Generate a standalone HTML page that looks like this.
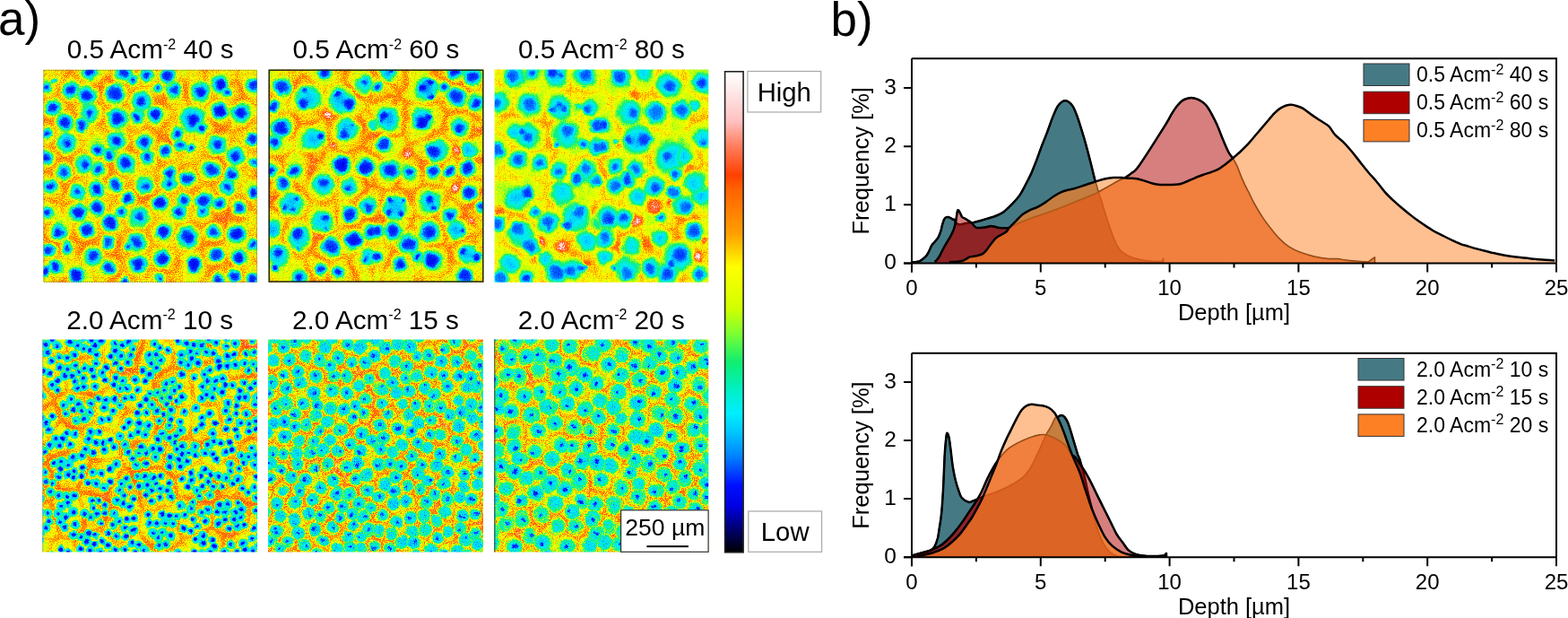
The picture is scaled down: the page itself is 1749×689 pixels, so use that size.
<!DOCTYPE html><html><head><meta charset="utf-8"><style>html,body{margin:0;padding:0;background:#fff;}svg{display:block;font-family:"Liberation Sans",Arial,sans-serif}</style></head><body>
<svg width="1749" height="689" viewBox="0 0 1749 689" >
<rect width="1749" height="689" fill="#fff"/>
<text x="-2" y="39" font-size="53">a)</text>
<text x="926.5" y="39.5" font-size="53">b)</text>
<text x="167.6" y="65.3" font-size="29.7" text-anchor="middle">0.5 Acm<tspan dy="-10.5" font-size="16">-2</tspan><tspan dy="10.5"> 40 s</tspan></text>
<text x="419.5" y="65.3" font-size="29.7" text-anchor="middle">0.5 Acm<tspan dy="-10.5" font-size="16">-2</tspan><tspan dy="10.5"> 60 s</tspan></text>
<text x="671.0" y="65.3" font-size="29.7" text-anchor="middle">0.5 Acm<tspan dy="-10.5" font-size="16">-2</tspan><tspan dy="10.5"> 80 s</tspan></text>
<text x="167.1" y="366.7" font-size="29.7" text-anchor="middle">2.0 Acm<tspan dy="-10.5" font-size="16">-2</tspan><tspan dy="10.5"> 10 s</tspan></text>
<text x="419.0" y="366.7" font-size="29.7" text-anchor="middle">2.0 Acm<tspan dy="-10.5" font-size="16">-2</tspan><tspan dy="10.5"> 15 s</tspan></text>
<text x="670.8" y="366.7" font-size="29.7" text-anchor="middle">2.0 Acm<tspan dy="-10.5" font-size="16">-2</tspan><tspan dy="10.5"> 20 s</tspan></text>
<defs>
<radialGradient id="halo0"><stop offset="0" stop-color="rgb(62,62,62)"/><stop offset="0.35" stop-color="rgb(69,69,69)"/><stop offset="0.55" stop-color="rgb(82,82,82)"/><stop offset="0.75" stop-color="rgb(107,107,107)" stop-opacity="0.9"/><stop offset="1" stop-color="rgb(133,133,133)" stop-opacity="0"/></radialGradient>
<radialGradient id="halo1"><stop offset="0" stop-color="rgb(62,62,62)"/><stop offset="0.35" stop-color="rgb(69,69,69)"/><stop offset="0.55" stop-color="rgb(82,82,82)"/><stop offset="0.75" stop-color="rgb(107,107,107)" stop-opacity="0.9"/><stop offset="1" stop-color="rgb(133,133,133)" stop-opacity="0"/></radialGradient>
<radialGradient id="halo2"><stop offset="0" stop-color="rgb(66,66,66)"/><stop offset="0.4" stop-color="rgb(75,75,75)"/><stop offset="0.62" stop-color="rgb(89,89,89)"/><stop offset="0.82" stop-color="rgb(110,110,110)" stop-opacity="0.9"/><stop offset="1" stop-color="rgb(128,128,128)" stop-opacity="0"/></radialGradient>
<radialGradient id="core0"><stop offset="0" stop-color="rgb(33,33,33)"/><stop offset="0.6" stop-color="rgb(41,41,41)"/><stop offset="0.85" stop-color="rgb(46,46,46)"/><stop offset="1" stop-color="rgb(56,56,56)" stop-opacity="0.5"/></radialGradient>
<radialGradient id="core1"><stop offset="0" stop-color="rgb(33,33,33)"/><stop offset="0.6" stop-color="rgb(41,41,41)"/><stop offset="0.85" stop-color="rgb(46,46,46)"/><stop offset="1" stop-color="rgb(56,56,56)" stop-opacity="0.5"/></radialGradient>
<radialGradient id="core2"><stop offset="0" stop-color="rgb(43,43,43)"/><stop offset="0.6" stop-color="rgb(48,48,48)"/><stop offset="0.85" stop-color="rgb(54,54,54)"/><stop offset="1" stop-color="rgb(61,61,61)" stop-opacity="0.5"/></radialGradient>
<radialGradient id="or"><stop offset="0" stop-color="rgb(194,194,194)"/><stop offset="0.6" stop-color="rgb(184,184,184)" stop-opacity="0.7"/><stop offset="1" stop-color="rgb(168,168,168)" stop-opacity="0"/></radialGradient>
<radialGradient id="wh"><stop offset="0" stop-color="rgb(242,242,242)"/><stop offset="0.5" stop-color="rgb(224,224,224)" stop-opacity="0.9"/><stop offset="1" stop-color="rgb(191,191,191)" stop-opacity="0"/></radialGradient>
<radialGradient id="sd3"><stop offset="0" stop-color="rgb(33,33,33)"/><stop offset="0.42" stop-color="rgb(43,43,43)"/><stop offset="0.55" stop-color="rgb(66,66,66)"/><stop offset="0.8" stop-color="rgb(84,84,84)" stop-opacity="0.9"/><stop offset="1" stop-color="rgb(115,115,115)" stop-opacity="0"/></radialGradient>
<radialGradient id="sd4"><stop offset="0" stop-color="rgb(43,43,43)"/><stop offset="0.25" stop-color="rgb(51,51,51)"/><stop offset="0.4" stop-color="rgb(69,69,69)"/><stop offset="0.8" stop-color="rgb(79,79,79)" stop-opacity="0.9"/><stop offset="1" stop-color="rgb(115,115,115)" stop-opacity="0"/></radialGradient>
<radialGradient id="sd5"><stop offset="0" stop-color="rgb(43,43,43)"/><stop offset="0.2" stop-color="rgb(54,54,54)"/><stop offset="0.35" stop-color="rgb(71,71,71)"/><stop offset="0.8" stop-color="rgb(84,84,84)" stop-opacity="0.9"/><stop offset="1" stop-color="rgb(115,115,115)" stop-opacity="0"/></radialGradient>
<radialGradient id="bl3"><stop offset="0" stop-color="rgb(69,69,69)"/><stop offset="0.55" stop-color="rgb(74,74,74)"/><stop offset="0.8" stop-color="rgb(92,92,92)" stop-opacity="0.9"/><stop offset="1" stop-color="rgb(128,128,128)" stop-opacity="0"/></radialGradient>
<radialGradient id="bl4"><stop offset="0" stop-color="rgb(71,71,71)"/><stop offset="0.55" stop-color="rgb(76,76,76)"/><stop offset="0.8" stop-color="rgb(97,97,97)" stop-opacity="0.9"/><stop offset="1" stop-color="rgb(133,133,133)" stop-opacity="0"/></radialGradient>
<radialGradient id="bl5"><stop offset="0" stop-color="rgb(74,74,74)"/><stop offset="0.55" stop-color="rgb(82,82,82)"/><stop offset="0.8" stop-color="rgb(102,102,102)" stop-opacity="0.9"/><stop offset="1" stop-color="rgb(133,133,133)" stop-opacity="0"/></radialGradient>
<radialGradient id="cc3"><stop offset="0" stop-color="rgb(33,33,33)"/><stop offset="0.6" stop-color="rgb(38,38,38)"/><stop offset="1" stop-color="rgb(51,51,51)" stop-opacity="0.3"/></radialGradient>
<radialGradient id="cc4"><stop offset="0" stop-color="rgb(38,38,38)"/><stop offset="0.6" stop-color="rgb(46,46,46)"/><stop offset="1" stop-color="rgb(61,61,61)" stop-opacity="0.3"/></radialGradient>
<radialGradient id="cc5"><stop offset="0" stop-color="rgb(36,36,36)"/><stop offset="0.6" stop-color="rgb(43,43,43)"/><stop offset="1" stop-color="rgb(61,61,61)" stop-opacity="0.3"/></radialGradient>
</defs>
<filter id="tx0" filterUnits="userSpaceOnUse" x="42.3" y="71.8" width="250.6" height="249.0" color-interpolation-filters="sRGB">
<feGaussianBlur in="SourceGraphic" stdDeviation="0.9" result="s0"/>
<feTurbulence type="fractalNoise" baseFrequency="0.1" numOctaves="2" seed="6" result="t3"/>
<feDisplacementMap in="s0" in2="t3" scale="6" xChannelSelector="R" yChannelSelector="G" result="src"/>
<feTurbulence type="fractalNoise" baseFrequency="0.035" numOctaves="2" seed="3" result="t1"/>
<feColorMatrix in="t1" type="matrix" values="1 0 0 0 0 1 0 0 0 0 1 0 0 0 0 0 0 0 0 1" result="n1"/>
<feTurbulence type="fractalNoise" baseFrequency="0.85" numOctaves="1" seed="10" result="t2"/>
<feColorMatrix in="t2" type="matrix" values="0 1 0 0 0 0 1 0 0 0 0 1 0 0 0 0 0 0 0 1" result="n2"/>
<feComposite in="src" in2="n1" operator="arithmetic" k1="0.5" k2="0.75" k3="0" k4="0" result="h1"/>
<feComposite in="h1" in2="n2" operator="arithmetic" k1="0.75" k2="0.625" k3="0" k4="0.0" result="h2"/>
<feComponentTransfer in="h2"><feFuncR type="table" tableValues="0 0 0 0 0 0 0 0 0 0 0 0 0 0 0.015 0.041 0.092 0.272 0.452 0.617 0.777 0.856 0.909 0.962 1 1 1 1 1 1 1 1 1 1 1 1 1 1 1 1 1"/><feFuncG type="table" tableValues="0 0 0 0 0.007 0.042 0.138 0.328 0.513 0.646 0.779 0.88 0.935 0.939 0.939 0.936 0.938 0.965 0.992 1 1 1 1 1 0.962 0.827 0.692 0.593 0.527 0.461 0.395 0.296 0.312 0.413 0.517 0.645 0.763 0.825 0.887 0.947 1"/><feFuncB type="table" tableValues="0 0.224 0.448 0.685 0.892 0.959 1 1 1 1 1 1 0.95 0.835 0.704 0.56 0.423 0.32 0.217 0.119 0.023 0 0 0 0 0 0 0 0 0 0 0 0.091 0.243 0.4 0.592 0.763 0.825 0.887 0.947 1"/></feComponentTransfer>
</filter>
<clipPath id="ic0"><rect x="48.3" y="77.8" width="238.6" height="237.0"/></clipPath>
<g clip-path="url(#ic0)"><g filter="url(#tx0)">
<rect x="42.3" y="71.8" width="250.6" height="249.0" fill="rgb(152,152,152)"/>
<path d="M44.3,289.3 52,290.4M65.1,318.8 58.7,309.7 55.4,300.7 52,290.4M169.3,298.4 164.9,302.7 158.6,314M169.3,298.4 165.4,281.3M158.6,314 144.3,308.1 137.7,296.9M165.4,281.3 152.9,282.2M152.9,282.2 143.1,284.8 137,291.6M137,291.6 137.7,296.9M219.4,318.8 230.1,308.4 232.9,298.4M254.2,318.8 254.4,307.9 249.1,297.4M249.1,297.4 232.9,298.4M197.2,301.6 202,307.4 204.6,318.8M197.2,301.6 188.9,303.5 178.7,301.4 169.3,298.4M158.6,314 158.9,318.8M272.8,299.8 264.1,293.7 252.6,294.5M272.8,299.8 273.2,310 269.5,318.8M252.6,294.5 249.1,297.4M285.3,292 272.8,299.8M119.1,318.8 123.7,307.7 134.4,304 137.7,296.9M290.9,198.2 276.5,197.8M276.5,197.8 269,206.5M290.9,238 284.6,233.7 276.4,226.8 266.6,216.2M269,206.5 266.6,216.2M197.2,301.6 197.9,294.5 200.4,282.6M232.9,298.4 227.9,291.3 223.8,277.1M223.8,277.1 215.1,276.7 200.4,282.6M290.9,133.6 277.7,135.7 274,141.8 260,146.7M290.9,117.5 281.8,111.2 270.6,108.2M270.6,108.2 257.3,117.8M260,146.7 255.5,143.4M257.3,117.8 256.5,129.7 255.5,143.4M290.9,167.1 275.9,168.1M260,146.7 261.5,155M275.9,168.1 267.5,162.2 261.5,155M276.5,197.8 270.2,186.7M275.9,168.1 273.7,180.6 270.2,186.7M118.4,86.7 128.8,93.9 136.3,94.2M136.3,94.2 146.6,88.2 151.3,74.2M160.5,98 144,104.7M160.5,98 157.3,83.4 151.3,74.2M144,104.7 136.3,94.2M265.2,73.8 264.5,87.6M270.6,108.2 270.5,101.6 264.5,87.6M116.7,119.2 113.2,114.8M116.7,119.2 131.8,118.7 140.4,117M144,104.7 140.4,117M118.4,86.7 111.6,95M111.6,95 114.1,102.6 113.2,114.8M63.7,105.3 56.6,109.1 44.3,111.7M59.4,162.7 66.1,148.6M59.4,162.7 44.3,162.2M44.3,131.9 57.2,134.9M57.2,134.9 66.1,148.6M68.2,175.5 59.4,162.7M68.2,175.5 59.7,179.9 54.5,191.4M44.3,193 54.5,191.4M285.3,292 280.2,286.7 269.6,273.5M252.6,294.5 250.6,287.1 255.3,274.9M269.6,273.5 255.3,274.9M290.9,246 284.8,248.4M269.6,273.5 273.9,262.3 278.1,258.9 284.8,248.4M266.6,216.2 257.5,221.6M257.5,221.6 258.2,229.4 253.1,244.6M284.8,248.4 275.2,243.5 265.4,244.5 253.1,244.6M165.4,281.3 170.6,273.2M200.4,282.6 193.2,273.8M193.2,273.8 185,277.4 170.6,273.2M264.5,87.6 255.8,98.1 245.5,97.3 238.3,107.2M224.9,73.8 229.1,78.4 229.2,89.8 235.8,96.1 238.3,107.2M257.3,117.8 244.1,116.5 238.2,109.4M238.3,107.2 238.2,109.4M269,206.5 256,205.7 246,197.6M270.2,186.7 263,183.5 249.5,182.2M246,197.6 249.5,182.2M261.5,155 253.8,166.3 246.9,177.4M249.5,182.2 246.9,177.4M200.6,179.8 203.1,181.9M200.6,179.8 205.3,171.3 208.2,162.3 211.2,152.1M203.1,181.9 218.4,183.5M211.2,152.1 212.7,150.8M218.4,183.5 229,172.9M229,172.9 226.9,158.6M212.7,150.8 226.9,158.6M255.5,143.4 244.2,142.9M229,172.9 241.4,175.2 246.9,177.4M244.2,142.9 235,152.5 226.9,158.6M160.7,98 164.6,103.8 172.7,112.7M160.7,98 171.8,92.3 175.3,86.2M185.8,95.3 175.3,86.2M185.8,95.3 184.5,100.5 182.4,113.5M182.4,113.5 172.7,112.7M209.4,85.3 214.9,73.8M209.4,85.3 196.9,90.9 185.8,95.3M140.5,117.2 147.5,121.3 162.2,123.7M140.5,117.2 142.3,122.8 143,135.2 142.7,144.6M162.2,123.7 164.8,131.6 164.5,141.8M164.5,141.8 157,146.5 146.3,147.5M142.7,144.6 146.3,147.5M172.7,112.7 162.2,123.7M100.3,242.8 86.8,244.1 80.9,252.5M100.3,242.8 99.4,237.6 95.6,225M70.6,242.2 80.9,252.5M70.6,242.2 70.6,226.9M95.6,225 81.1,225.6 70.6,226.9M68.2,175.5 78.3,176.6M78.3,176.6 82.9,185.8 86.1,197.8M54.5,191.4 62.3,198 72.3,207.6M86.1,197.8 72.3,207.6M44.3,220.9 55.3,223.1 68.5,223.7M72.3,207.6 68.5,223.7M44.3,256.3 51.5,250.6 64,243.1 70.6,242.2M70.6,226.9 68.5,223.7M84.1,126.5 82.7,138.9 80.2,147.6M84.1,126.5 92.1,130 105.6,135.8 112.7,143.6M80.2,147.6 93.1,158.7M93.1,158.7 100.1,152 112.2,146.2M112.2,146.2 112.9,144.6M112.7,143.6 112.9,144.6M91.7,165.2 78.3,176.6M91.7,165.2 93.1,158.7M66.1,148.6 80.2,147.6M119.7,161.4 117.7,166.6 112.6,178.1M119.7,161.4 112.2,146.2M112.6,178.1 104.6,178.1M91.7,165.2 96.7,170.3 104.6,178.1M116.7,119.2 117.4,130.9 112.7,143.6M142.7,144.6 135.6,142 121.5,145.8 112.9,144.6M77.6,118.8 81.6,119.6M77.6,118.8 74.2,111.7 64.6,105.3M64.6,105.3 67,93.7 73.9,85.6 78.2,79.5M82.8,118.7 88.2,112.9 86.3,99.8 91.8,93M82.8,118.7 81.6,119.6M78.2,79.5 87.5,87.4 91.8,93M57.2,134.9 69.8,125.6 77.6,118.8M84.1,126.5 81.6,119.6M63.7,105.3 64.6,105.3M111.6,95 98.7,92.4 91.8,93M113.2,114.8 105.4,114.3 91.7,116.8 82.8,118.7M200.6,179.8 198.7,179.1M211.2,152.1 199.9,154.4 189.9,158.2M189.9,158.2 197.7,165.9 198.7,179.1M119.7,161.4 134.7,169.7M112.6,178.1 125.8,188.5M134.7,169.7 126.3,182.6 125.8,188.5M146.3,147.5 145.7,165.4M134.7,169.7 145.7,165.4M81.9,261.1 75.9,270.2 63.8,271.5M81.9,261.1 91.8,272.3M91.8,272.3 86.7,289.1M65.5,284.7 77.6,292.3M65.5,284.7 63.8,271.5M77.6,292.3 86.7,289.1M44.3,260 53.5,269.4 63.8,271.5M80.9,252.5 81.9,261.1M66.8,318.8 73.8,307.7 75.9,303.8 77.6,292.3M52,290.4 65.5,284.7M106.8,318.8 103.4,303.1M103.4,303.1 96.4,296.3 86.7,289.1M112.1,258 121.5,258.1 134.4,260.7M112.1,258 105,269.5M105,269.5 109.4,273.5 118.3,284.5M134.4,260.7 132.4,270.7 128.9,284.1M128.9,284.1 118.3,284.5M100.3,242.8 108.4,246.3M108.4,246.3 112.1,258M91.8,272.3 105,269.5M103.4,303.1 113.3,290.1 118.3,284.5M152.9,282.2 151.6,275.4 147.2,268.6 139.2,257.1M137,291.6 128.9,284.1M139.2,257.1 134.4,260.7M234.8,231.2 239.8,222.7 238.4,213M234.8,231.2 221.7,231.8 216.3,228.5M216.3,213 216.3,228.5M216.3,213 226.5,205.4M226.5,205.4 235.2,207.6M238.4,213 235.2,207.6M218.4,183.5 219.8,192.8 226.5,205.4M246,197.6 235.2,207.6M257.5,221.6 249.3,217.5 238.4,213M250.4,270.2 250.6,261.2 252.2,245.1M250.4,270.2 239.4,270.2 226.5,272.7M226.5,272.7 222.4,265.7 222.3,253M222.3,253 231,250.1 240.1,242.7M240.1,242.7 252.2,245.1M255.3,274.9 250.4,270.2M253.1,244.6 252.2,245.1M223.8,277.1 226.5,272.7M212.4,247.6 197.8,252.9M212.4,247.6 222.3,253M193.2,273.8 194.3,260.9 197.8,252.9M212.4,247.6 212.4,235M212.4,235 216.3,228.5M234.8,231.2 240.1,242.7M203.1,181.9 200.9,193.1 198.2,199.3M216.3,213 201.2,210.8M198.2,199.3 201.2,210.8M139.2,257.1 140.8,254.9M170.6,273.2 164.4,257.1M164.4,257.1 150,258.3 140.8,254.9M108.4,246.3 121.5,234.6M121.5,234.6 131.2,243.5 136.8,243.5 140.6,253.8M140.8,254.9 140.6,253.8M123.4,222.5 126.3,222M123.4,222.5 121.5,234.6M126.3,222 137.7,230.3 147,232.9M140.6,253.8 140.2,241.5 147,232.9M145.6,204.8 134.1,213.6 126.3,222M145.6,204.8 152.4,214.7 160.3,225.1M147,232.9 160.3,225.1M212,147.9 222.9,133.6 229.3,127.2M212,147.9 199.7,135.2 194.5,128.4M195.1,123.7 194.5,128.4M195.1,123.7 208.5,115M208.5,115 214.8,114.2 227,120.2M227,120.2 229.3,127.2M212.7,150.8 212,147.9M244.2,142.9 240.5,137.9 229.3,127.2M177.8,147 178.6,150.5M177.8,147 182.8,137.7 194.5,128.4M189.9,158.2 178.6,150.5M177.8,147 164.5,141.8M182.4,113.5 195.1,123.7M209.4,85.3 207.7,93.8 207.6,106.3 208.5,115M238.2,109.4 227,120.2M97.7,198.8 95.2,200.1M97.7,198.8 107.8,198.4 116.6,200.3M95.2,200.1 94.4,209.3 98.6,221.3M98.6,221.3 107.2,221.7 121.8,221.3M121.8,221.3 120.9,209.8 116.6,200.3M104.6,178.1 97.8,185.9 97.7,198.8M86.1,197.8 95.2,200.1M126.1,189.6 125.8,188.5M126.1,189.6 116.6,200.3M95.6,225 98.6,221.3M123.4,222.5 121.8,221.3M145.6,204.8 145.9,198.9M145.9,198.9 135,195.1 126.1,189.6M172.1,165 177.5,172.8 178.3,182.6M172.1,165 163.6,168.2 150.2,169.4M150.2,169.4 152.3,179.1 155.5,190.8M155.5,190.8 171.2,192.1M171.2,192.1 178.3,182.6M178.6,150.5 172.1,165M198.7,179.1 188.5,182.5 178.3,182.6M145.7,165.4 150.2,169.4M145.9,198.9 155.5,190.8M198.2,199.3 185.9,200.8 174.8,199.3M174.8,199.3 171.2,192.1M176,211.3 191.6,219.1M176,211.3 168,216.2 160.6,225.1M160.6,225.1 167.2,235.6 173.2,242.9M191.9,224.7 191.6,219.1M191.9,224.7 184.2,232.7 183.4,241.8M183.4,241.8 173.2,242.9M201.2,210.8 191.6,219.1M174.8,199.3 176,211.3M164.4,257.1 173.2,242.9M212.4,235 201.6,232.9 191.9,224.7M197.8,252.9 194.1,246.3 183.4,241.8" fill="none" stroke="rgb(173,173,173)" stroke-width="5.5" stroke-linecap="round" stroke-linejoin="round" stroke-opacity="0.8"/>
<g fill="url(#or)">
</g><g fill="url(#wh)">
</g><g fill="url(#halo0)">
<circle cx="99.4" cy="80.6" r="11.8"/>
<circle cx="137.7" cy="81.5" r="13.1"/>
<circle cx="163.8" cy="83.2" r="10.4"/>
<circle cx="148.1" cy="89.3" r="7.8"/>
<circle cx="60.2" cy="90.5" r="3.9"/>
<circle cx="51.5" cy="96.3" r="9.1"/>
<circle cx="79.3" cy="100.6" r="13.1"/>
<circle cx="96.8" cy="106.7" r="14.4"/>
<circle cx="128.1" cy="104.1" r="15.7"/>
<circle cx="157.7" cy="112.8" r="14.4"/>
<circle cx="59.3" cy="119.8" r="11.8"/>
<circle cx="99.4" cy="126.8" r="13.1"/>
<circle cx="130.7" cy="132.0" r="15.7"/>
<circle cx="152.5" cy="130.2" r="10.4"/>
<circle cx="72.4" cy="136.3" r="13.1"/>
<circle cx="91.5" cy="139.8" r="10.4"/>
<circle cx="52.4" cy="149.4" r="7.8"/>
<circle cx="130.7" cy="157.2" r="13.1"/>
<circle cx="161.2" cy="158.1" r="11.8"/>
<circle cx="74.1" cy="159.9" r="14.4"/>
<circle cx="109.8" cy="167.7" r="9.1"/>
<circle cx="122.0" cy="172.9" r="10.4"/>
<circle cx="51.5" cy="175.5" r="10.4"/>
<circle cx="164.7" cy="175.5" r="10.4"/>
<circle cx="140.3" cy="181.6" r="14.4"/>
<circle cx="94.2" cy="183.4" r="13.1"/>
<circle cx="109.8" cy="188.6" r="11.8"/>
<circle cx="70.6" cy="192.1" r="11.8"/>
<circle cx="187.2" cy="85.0" r="11.8"/>
<circle cx="194.1" cy="101.5" r="13.1"/>
<circle cx="175.8" cy="98.0" r="7.8"/>
<circle cx="223.7" cy="102.4" r="14.4"/>
<circle cx="245.5" cy="93.7" r="13.1"/>
<circle cx="253.3" cy="104.1" r="6.5"/>
<circle cx="282.9" cy="95.4" r="11.8"/>
<circle cx="173.2" cy="127.6" r="11.8"/>
<circle cx="244.6" cy="124.2" r="13.1"/>
<circle cx="269.0" cy="125.9" r="14.4"/>
<circle cx="215.0" cy="133.7" r="18.3"/>
<circle cx="225.5" cy="142.4" r="7.8"/>
<circle cx="197.6" cy="149.4" r="10.4"/>
<circle cx="201.1" cy="161.6" r="9.1"/>
<circle cx="184.5" cy="168.6" r="10.4"/>
<circle cx="242.9" cy="161.6" r="14.4"/>
<circle cx="281.2" cy="154.6" r="10.4"/>
<circle cx="262.9" cy="174.7" r="14.4"/>
<circle cx="235.9" cy="189.5" r="13.1"/>
<circle cx="188.9" cy="193.8" r="10.4"/>
<circle cx="258.6" cy="194.7" r="10.4"/>
<circle cx="212.4" cy="165.9" r="6.5"/>
<circle cx="282.9" cy="180.8" r="7.8"/>
<circle cx="56.7" cy="207.3" r="11.0"/>
<circle cx="86.3" cy="214.3" r="11.8"/>
<circle cx="108.1" cy="210.8" r="11.8"/>
<circle cx="129.0" cy="205.6" r="11.8"/>
<circle cx="162.1" cy="207.3" r="13.1"/>
<circle cx="142.9" cy="221.3" r="10.4"/>
<circle cx="53.2" cy="236.9" r="9.1"/>
<circle cx="88.1" cy="236.9" r="13.1"/>
<circle cx="108.1" cy="231.7" r="11.8"/>
<circle cx="135.1" cy="236.1" r="9.1"/>
<circle cx="155.1" cy="242.2" r="15.7"/>
<circle cx="122.9" cy="248.2" r="13.1"/>
<circle cx="97.6" cy="256.1" r="11.8"/>
<circle cx="65.4" cy="259.6" r="11.8"/>
<circle cx="120.3" cy="270.0" r="10.4"/>
<circle cx="152.5" cy="270.0" r="14.4"/>
<circle cx="142.9" cy="275.2" r="6.5"/>
<circle cx="54.1" cy="278.7" r="10.4"/>
<circle cx="75.0" cy="276.1" r="9.1"/>
<circle cx="103.7" cy="284.8" r="13.1"/>
<circle cx="61.9" cy="297.0" r="10.4"/>
<circle cx="121.1" cy="298.8" r="11.8"/>
<circle cx="154.2" cy="294.4" r="13.1"/>
<circle cx="85.4" cy="306.6" r="11.8"/>
<circle cx="50.6" cy="302.2" r="7.8"/>
<circle cx="138.6" cy="313.6" r="7.8"/>
<circle cx="208.9" cy="199.5" r="11.8"/>
<circle cx="188.9" cy="204.7" r="10.4"/>
<circle cx="253.3" cy="208.2" r="11.8"/>
<circle cx="282.1" cy="215.2" r="9.1"/>
<circle cx="178.4" cy="225.6" r="11.8"/>
<circle cx="205.4" cy="223.9" r="10.4"/>
<circle cx="199.3" cy="236.1" r="10.4"/>
<circle cx="227.2" cy="223.9" r="13.1"/>
<circle cx="244.6" cy="227.3" r="10.4"/>
<circle cx="267.3" cy="231.7" r="10.4"/>
<circle cx="225.5" cy="236.1" r="9.1"/>
<circle cx="181.9" cy="258.7" r="11.8"/>
<circle cx="209.8" cy="264.8" r="15.7"/>
<circle cx="238.5" cy="258.7" r="11.8"/>
<circle cx="263.8" cy="260.4" r="13.1"/>
<circle cx="283.8" cy="272.6" r="9.1"/>
<circle cx="181.1" cy="288.3" r="13.1"/>
<circle cx="216.8" cy="294.4" r="11.8"/>
<circle cx="241.1" cy="283.9" r="11.8"/>
<circle cx="266.4" cy="287.4" r="11.8"/>
<circle cx="261.2" cy="307.5" r="10.4"/>
<circle cx="242.9" cy="311.8" r="9.1"/>
<circle cx="281.2" cy="310.9" r="9.1"/>
<circle cx="178.4" cy="310.9" r="7.8"/>
</g><g fill="url(#core0)">
<circle cx="99.4" cy="80.6" r="6.0"/>
<circle cx="137.7" cy="81.5" r="6.0"/>
<circle cx="163.8" cy="83.2" r="5.0"/>
<circle cx="148.1" cy="89.3" r="3.0"/>
<circle cx="60.2" cy="90.5" r="1.6"/>
<circle cx="51.5" cy="96.3" r="4.0"/>
<circle cx="79.3" cy="100.6" r="6.0"/>
<circle cx="96.8" cy="106.7" r="7.0"/>
<circle cx="128.1" cy="104.1" r="9.0"/>
<circle cx="157.7" cy="112.8" r="6.0"/>
<circle cx="59.3" cy="119.8" r="6.0"/>
<circle cx="99.4" cy="126.8" r="5.0"/>
<circle cx="130.7" cy="132.0" r="8.0"/>
<circle cx="152.5" cy="130.2" r="5.0"/>
<circle cx="72.4" cy="136.3" r="7.0"/>
<circle cx="91.5" cy="139.8" r="5.6"/>
<circle cx="52.4" cy="149.4" r="3.6"/>
<circle cx="130.7" cy="157.2" r="6.0"/>
<circle cx="161.2" cy="158.1" r="6.0"/>
<circle cx="74.1" cy="159.9" r="5.0"/>
<circle cx="109.8" cy="167.7" r="4.0"/>
<circle cx="122.0" cy="172.9" r="5.0"/>
<circle cx="51.5" cy="175.5" r="5.0"/>
<circle cx="164.7" cy="175.5" r="5.0"/>
<circle cx="140.3" cy="181.6" r="7.0"/>
<circle cx="94.2" cy="183.4" r="5.0"/>
<circle cx="109.8" cy="188.6" r="6.0"/>
<circle cx="70.6" cy="192.1" r="5.6"/>
<circle cx="187.2" cy="85.0" r="7.0"/>
<circle cx="194.1" cy="101.5" r="6.0"/>
<circle cx="175.8" cy="98.0" r="3.0"/>
<circle cx="223.7" cy="102.4" r="7.0"/>
<circle cx="245.5" cy="93.7" r="7.0"/>
<circle cx="253.3" cy="104.1" r="3.0"/>
<circle cx="282.9" cy="95.4" r="6.0"/>
<circle cx="173.2" cy="127.6" r="6.0"/>
<circle cx="244.6" cy="124.2" r="8.0"/>
<circle cx="269.0" cy="125.9" r="7.0"/>
<circle cx="215.0" cy="133.7" r="7.0"/>
<circle cx="225.5" cy="142.4" r="4.0"/>
<circle cx="197.6" cy="149.4" r="5.0"/>
<circle cx="201.1" cy="161.6" r="4.0"/>
<circle cx="184.5" cy="168.6" r="6.0"/>
<circle cx="242.9" cy="161.6" r="6.0"/>
<circle cx="281.2" cy="154.6" r="6.0"/>
<circle cx="262.9" cy="174.7" r="6.0"/>
<circle cx="235.9" cy="189.5" r="7.0"/>
<circle cx="188.9" cy="193.8" r="6.0"/>
<circle cx="258.6" cy="194.7" r="5.0"/>
<circle cx="212.4" cy="165.9" r="3.0"/>
<circle cx="282.9" cy="180.8" r="3.0"/>
<circle cx="56.7" cy="207.3" r="4.0"/>
<circle cx="86.3" cy="214.3" r="3.6"/>
<circle cx="108.1" cy="210.8" r="6.0"/>
<circle cx="129.0" cy="205.6" r="7.0"/>
<circle cx="162.1" cy="207.3" r="5.0"/>
<circle cx="142.9" cy="221.3" r="6.0"/>
<circle cx="53.2" cy="236.9" r="4.0"/>
<circle cx="88.1" cy="236.9" r="7.6"/>
<circle cx="108.1" cy="231.7" r="7.0"/>
<circle cx="135.1" cy="236.1" r="4.0"/>
<circle cx="155.1" cy="242.2" r="6.0"/>
<circle cx="122.9" cy="248.2" r="7.6"/>
<circle cx="97.6" cy="256.1" r="7.0"/>
<circle cx="65.4" cy="259.6" r="5.6"/>
<circle cx="120.3" cy="270.0" r="5.6"/>
<circle cx="152.5" cy="270.0" r="7.0"/>
<circle cx="142.9" cy="275.2" r="3.0"/>
<circle cx="54.1" cy="278.7" r="6.0"/>
<circle cx="75.0" cy="276.1" r="4.0"/>
<circle cx="103.7" cy="284.8" r="7.0"/>
<circle cx="61.9" cy="297.0" r="5.6"/>
<circle cx="121.1" cy="298.8" r="7.0"/>
<circle cx="154.2" cy="294.4" r="7.6"/>
<circle cx="85.4" cy="306.6" r="7.6"/>
<circle cx="50.6" cy="302.2" r="4.0"/>
<circle cx="138.6" cy="313.6" r="4.0"/>
<circle cx="208.9" cy="199.5" r="7.0"/>
<circle cx="188.9" cy="204.7" r="3.6"/>
<circle cx="253.3" cy="208.2" r="4.0"/>
<circle cx="282.1" cy="215.2" r="5.0"/>
<circle cx="178.4" cy="225.6" r="7.0"/>
<circle cx="205.4" cy="223.9" r="5.0"/>
<circle cx="199.3" cy="236.1" r="5.6"/>
<circle cx="227.2" cy="223.9" r="7.0"/>
<circle cx="244.6" cy="227.3" r="5.0"/>
<circle cx="267.3" cy="231.7" r="6.0"/>
<circle cx="225.5" cy="236.1" r="3.0"/>
<circle cx="181.9" cy="258.7" r="7.0"/>
<circle cx="209.8" cy="264.8" r="8.0"/>
<circle cx="238.5" cy="258.7" r="6.0"/>
<circle cx="263.8" cy="260.4" r="8.0"/>
<circle cx="283.8" cy="272.6" r="4.0"/>
<circle cx="181.1" cy="288.3" r="7.0"/>
<circle cx="216.8" cy="294.4" r="8.0"/>
<circle cx="241.1" cy="283.9" r="8.0"/>
<circle cx="266.4" cy="287.4" r="7.0"/>
<circle cx="261.2" cy="307.5" r="7.0"/>
<circle cx="242.9" cy="311.8" r="5.0"/>
<circle cx="281.2" cy="310.9" r="5.0"/>
<circle cx="178.4" cy="310.9" r="3.0"/>
</g></g></g>
<filter id="tx1" filterUnits="userSpaceOnUse" x="293.5" y="71.5" width="252.0" height="249.2" color-interpolation-filters="sRGB">
<feGaussianBlur in="SourceGraphic" stdDeviation="0.9" result="s0"/>
<feTurbulence type="fractalNoise" baseFrequency="0.1" numOctaves="2" seed="17" result="t3"/>
<feDisplacementMap in="s0" in2="t3" scale="6" xChannelSelector="R" yChannelSelector="G" result="src"/>
<feTurbulence type="fractalNoise" baseFrequency="0.035" numOctaves="2" seed="14" result="t1"/>
<feColorMatrix in="t1" type="matrix" values="1 0 0 0 0 1 0 0 0 0 1 0 0 0 0 0 0 0 0 1" result="n1"/>
<feTurbulence type="fractalNoise" baseFrequency="0.85" numOctaves="1" seed="21" result="t2"/>
<feColorMatrix in="t2" type="matrix" values="0 1 0 0 0 0 1 0 0 0 0 1 0 0 0 0 0 0 0 1" result="n2"/>
<feComposite in="src" in2="n1" operator="arithmetic" k1="0.5" k2="0.75" k3="0" k4="0" result="h1"/>
<feComposite in="h1" in2="n2" operator="arithmetic" k1="0.75" k2="0.625" k3="0" k4="0.0" result="h2"/>
<feComponentTransfer in="h2"><feFuncR type="table" tableValues="0 0 0 0 0 0 0 0 0 0 0 0 0 0 0.015 0.041 0.092 0.272 0.452 0.617 0.777 0.856 0.909 0.962 1 1 1 1 1 1 1 1 1 1 1 1 1 1 1 1 1"/><feFuncG type="table" tableValues="0 0 0 0 0.007 0.042 0.138 0.328 0.513 0.646 0.779 0.88 0.935 0.939 0.939 0.936 0.938 0.965 0.992 1 1 1 1 1 0.962 0.827 0.692 0.593 0.527 0.461 0.395 0.296 0.312 0.413 0.517 0.645 0.763 0.825 0.887 0.947 1"/><feFuncB type="table" tableValues="0 0.224 0.448 0.685 0.892 0.959 1 1 1 1 1 1 0.95 0.835 0.704 0.56 0.423 0.32 0.217 0.119 0.023 0 0 0 0 0 0 0 0 0 0 0 0.091 0.243 0.4 0.592 0.763 0.825 0.887 0.947 1"/></feComponentTransfer>
</filter>
<clipPath id="ic1"><rect x="299.5" y="77.5" width="240.0" height="237.2"/></clipPath>
<g clip-path="url(#ic1)"><g filter="url(#tx1)">
<rect x="293.5" y="71.5" width="252.0" height="249.2" fill="rgb(149,149,149)"/>
<path d="M329.3,283.5 319.7,276.7 316.4,266.7M329.3,283.5 319.3,287 304.9,281.6 295.5,283.5M316.4,266.7 307.8,270.3 295.5,271.4M332.4,287 329.3,283.5M332.4,287 339.6,286.9M339.6,286.9 341.8,299 346.4,310.3 351,318.7M337.1,84.2 330,91.4 329.1,103M329.1,103 320.8,113.4M335.5,137.9 332,130.7 322,125.9M335.5,137.9 346.2,136.7 360.7,130.7M322,125.9 320.8,113.4M329.1,103 338,106.5 345.2,117 350,123.3 360.5,128.4M360.7,130.7 360.5,128.4M337.1,84.2 342.7,88.7 351,93.4 363,101.5M360.5,128.4 365.2,118.7 366.1,110 363,101.5M513.7,93.6 523.5,101.4M339.6,286.9 347.5,281.3M364.9,318.7 367.2,312.2 369.2,296.6 369,290.2M369,290.2 359,286.8 347.5,281.3M490.7,318.7 492.3,306.9 502.1,301.6 503.3,292.9M523.3,295.7 510.9,293.9 503.3,292.9M424.6,318.7 425.5,310.8 431,295 436.7,284.6 437.4,277.6M467.1,318.7 461.9,306.4 462.1,298.5 456.8,289.8 453.1,284.6M437.4,277.6 453.1,284.6M295.5,173.6 305.4,176.2 315.5,175.8M295.5,143.8 303.9,147.5 311.6,151.4 320.6,152.8 328,160.1M315.5,175.8 328.5,166.4M328,160.1 328.5,166.4M322,125.9 313,127.2 307.3,136.3 295.5,136.3M335.5,137.9 328.3,146.1 328,160.1M364.7,138.1 363,132.4M364.7,138.1 376.1,142.9 380.3,148.1 397.5,150 403.7,154.8M363,132.4 378.1,129.5M378.1,129.5 387.9,130.8 400.1,130.9M403.7,154.8 405.4,141 400.1,130.9M405.1,159.2 411.5,152.5 422.1,150.5 429.1,146.4M405.1,159.2 403.7,154.8M429.1,146.4 425.6,138.1M425.6,138.1 415.3,128.4 409,120.4M409,120.4 400.1,130.9M543.5,179.4 528.4,176.9 524.7,178.1 509.5,176.4M509.5,176.4 510,192.7 513.9,201.9M543.5,200.1 532.5,198.7 520.1,198.5 513.9,201.9M509.5,176.4 505.3,172.6M505.3,172.6 505,161M505,161 512.2,154.8 527.3,150.9 531.9,149.5 543.5,144.6M295.5,209.6 308.9,198.9 315.5,191.6M295.5,226.5 307.6,221.2 316,218.8 329.1,215.9 335.6,209.6M315.5,191.6 325.6,203.3 335.6,209.6M316.4,266.7 316.7,265.8M316.7,265.8 317.5,254.8 320.4,245.6M320.4,245.6 315.8,239.7 306,231.7 295.5,226.9M315.5,175.8 315.5,191.6M405.1,159.2 404.1,163.3M368.9,165.7 381.2,167.5 384.9,171 396,168.5M368.9,165.7 367.2,155.2 364.2,144.2 364.7,138.1M404.1,163.3 396,168.5M405.1,318.7 397.7,310 392.3,296.4 390.2,288.1M369,290.2 385.4,285.6M390.2,288.1 385.4,285.6M523.3,295.7 525.8,287.4 528.2,280.6 530.1,268.5 535,260.9M537.6,258.9 535,260.9M503.3,292.9 500.4,276.5M535,260.9 525.7,261.8 515.4,265.8 510.8,269.8 500.4,276.5M505.3,172.6 492.6,180.9M492.6,180.9 493.9,192.1 492.6,207.8M513.9,201.9 500.9,213.7M492.6,207.8 500.9,213.7M488,180.2 486.8,171.9 482.1,164.6 480.9,151.6M488,180.2 480,180.6 469.6,180.2M469.6,180.2 459,171.2 455.8,163.7M480.9,151.6 466.6,156.4 456.1,161.6M455.8,163.7 456.1,161.6M492.6,180.9 488,180.2M505,161 502,157.2 492,147.5M492,147.5 485.9,148.9M485.9,148.9 480.9,151.6M470.4,205.3 478,208 492.6,207.8M470.4,205.3 473.5,193.1 469.6,180.2M429.1,146.4 436.2,151.3 449.9,150.3M447.7,171.2 455.8,163.7M447.7,171.2 434.8,178.3 423.1,177.7M449.9,150.3 456.1,161.6M404.1,163.3 416.6,173.1 423.1,177.7M425.6,138.1 435.6,124.8 441,116.9 445.3,108.6M409,120.4 410.4,116.1M410.4,116.1 419.1,112.6 434.3,107.1 445.3,108.6M498.7,126 515.7,123.8M498.7,126 493.8,142.3M493.8,142.3 503.1,144.6 513.1,142.5 521.1,146.1 530.4,143.8 542.1,142.3M515.7,123.8 525.7,126 537.3,134 542.1,142.3M492,147.5 493.8,142.3M543.5,143.2 542.1,142.3M523.5,101.4 523.5,116.1 515.7,123.8M475.7,135.9 467.1,136.4 452.1,131.2M475.7,135.9 472.4,125.4 470.7,115.7M470.7,115.7 467.2,115.1M467.2,115.1 452.1,115.1M452.1,115.1 452.1,131.2M485.9,148.9 475.7,135.9M449.9,150.3 449.7,144.2 452.1,131.2M459,73.5 450.9,80.4 453.9,95.5 445.9,102.8M481.7,73.5 482.9,76M445.9,102.8 445.9,108.4M445.9,108.4 452.1,115.1M482.9,76 480.6,89.5 475.3,98.3 470.7,108.6 467.2,115.1M445.3,108.6 445.9,108.4M316.7,265.8 323.8,263.2 338.4,263.9 348.3,259.5M320.4,245.6 329.4,245 339.6,241.6M339.6,241.6 347.7,249.9 348.3,259.5M347.5,281.3 352.2,265.3M352.2,265.3 348.3,259.5M543.5,212.2 532.5,215.1 529.2,225.3 517.7,232.2M501.4,216.4 500.9,213.7M501.4,216.4 501.8,218.5M501.8,218.5 508.9,225.5 517.7,232.2M537.6,258.9 525.9,247.7 520.2,241M517.7,232.2 520.2,241M391.3,99.8 384.1,89.6M391.3,99.8 398.6,105.7 410.1,115.6M410.1,115.6 415.1,102.1 411.2,95.6 416.6,81.2M384.1,89.6 389.1,73.5M412.5,73.5 416.6,81.2M360.7,130.7 363,132.4M363,101.5 374,91.8 384.1,89.6M378.1,129.5 383.9,121.1 388.1,111.9 391.3,99.8M410.4,116.1 410.1,115.6M445.9,102.8 438,95.2 433.2,93 425.6,84.1 416.6,81.2M491.1,116.1 496,110.3 502,102.1 508.8,93.9M491.1,116.1 488.3,114.7M488.3,114.7 486.8,107.1 484.4,95.5 487,84.4 483,76.3M508.8,93.9 497.6,89.1 488.7,85 483,76.3M513.7,93.6 508.8,93.9M498.7,126 491.1,116.1M470.7,115.7 488.3,114.7M385.4,285.6 381.1,279.3 380.6,263.9 377.8,257.2M352.2,265.3 363.2,263.1 373.9,257.9M377.8,257.2 373.9,257.9M339.6,241.6 346.3,230.2M373.9,257.9 366.9,252 359.1,247.7 350.6,239.5 346.3,230.2M390.2,288.1 395.9,280 409.1,271.8M378.8,256 377.8,257.2M378.8,256 385.4,251.5 398.9,253M398.9,253 404.7,265.6 409.1,271.8M415.6,318.7 414.1,308.7 415.4,301.1 414.4,289.9 418.4,282.3 415.6,272.6M409.1,271.8 415.6,272.6M396,168.5 393.6,183.4 393.6,193.1M423.1,177.7 425.8,187.1 416.7,196.2 419.3,207.7M393.6,193.1 405.7,198 411.3,208.2M419.3,207.7 411.3,208.2M501.8,218.5 493.7,228.5 487.2,236.6 484.6,241.5M520.2,241 509.3,244.4 503.6,246.5 494.2,254M494.2,254 484.6,241.5M500.4,276.5 495.2,272.4M494.2,254 496.9,262.7 495.2,272.4M467.8,318.7 471.7,311.9 467.9,303.6 475.7,290 475.6,280.9 476.6,274.4M495.2,272.4 486.2,275.4 476.6,274.4M453.1,284.6 461.4,278.5 471.5,271.9M476.6,274.4 471.5,271.9M335.6,209.6 339,209.9M346.3,230.2 348.3,225.3M339,209.9 348.3,225.3M378.8,256 374.5,248.3 377.1,237.5 374.7,224.3M374.7,224.3 373.7,223.5M348.3,225.3 357.7,226.3 373.7,223.5M398.9,253 404.6,245.6M415.6,272.6 419.2,271.8M419.2,271.8 414.7,263.1 414.7,256.8 415.7,244.5M404.6,245.6 415.7,244.5M374.7,224.3 381.8,223.8 395.2,223.7M395.2,223.7 400.9,235.8M404.6,245.6 400.9,235.8M351.7,180.4 346.4,191.6 341.5,204.7M351.7,180.4 356.4,179.3M341.5,204.7 349.3,206 367.9,203.6 375.4,204.7M356.4,179.3 366.2,184.7 367.8,192.3 376.2,199.4M376.2,199.4 375.4,204.7M328.5,166.4 340,173.3 345.1,172.1 351.7,180.4M339,209.9 341.5,204.7M368.9,165.7 362.2,168.6 356.4,179.3M373.7,223.5 371,213.1 375.4,204.7M393.6,193.1 382.9,193.1 376.2,199.4M395.2,223.7 403.3,218.2 411.3,208.2M400.9,235.8 412.7,234.9 417.1,224.9 426,223.3M415.7,244.5 426,240.6M426,240.6 426,223.3M470.4,205.3 457.5,215.3M501.4,216.4 495,219.2 480,225.7 471.6,230.1 461.1,229.9M461.1,229.9 457.5,215.3M484.6,241.5 475.3,244.5 462.9,240.4M461.1,229.9 462.9,240.4M447.7,171.2 444.1,184.5 446.4,192.2 443.6,198.4 444.4,210.2M457.5,215.3 444.4,210.2M419.3,207.7 426.7,212.4M444.4,210.2 426.7,212.4M426.7,212.4 426,223.3M429.4,243.3 437.6,241.7 452.7,242.3 458.9,246.3M429.4,243.3 427.4,253.8 427.1,260 429.4,271.8M436.7,276 442.1,265.8 447.5,261.7 458.7,251.6M436.7,276 429.4,271.8M458.7,251.6 458.9,246.3M426,240.6 429.4,243.3M462.9,240.4 458.9,246.3M419.2,271.8 429.4,271.8M437.4,277.6 436.7,276M471.5,271.9 466.4,260.2 458.7,251.6" fill="none" stroke="rgb(176,176,176)" stroke-width="5.5" stroke-linecap="round" stroke-linejoin="round" stroke-opacity="0.8"/>
<g fill="url(#or)">
</g><g fill="url(#wh)">
<circle cx="454.7" cy="171.0" r="6.8"/>
<circle cx="510.4" cy="166.7" r="6.8"/>
<circle cx="533.9" cy="144.0" r="3.4"/>
<circle cx="372.1" cy="162.3" r="4.5"/>
<circle cx="365.2" cy="127.5" r="5.7"/>
<circle cx="321.6" cy="90.9" r="3.4"/>
<circle cx="507.8" cy="209.9" r="5.7"/>
<circle cx="527.0" cy="246.5" r="3.4"/>
<circle cx="445.1" cy="218.6" r="3.4"/>
</g><g fill="url(#halo1)">
<circle cx="314.7" cy="97.0" r="13.9"/>
<circle cx="343.4" cy="109.2" r="18.9"/>
<circle cx="380.9" cy="112.7" r="18.9"/>
<circle cx="304.2" cy="118.8" r="10.1"/>
<circle cx="407.0" cy="94.4" r="13.9"/>
<circle cx="313.8" cy="143.2" r="15.2"/>
<circle cx="306.0" cy="158.9" r="11.4"/>
<circle cx="349.5" cy="155.4" r="15.2"/>
<circle cx="386.9" cy="144.0" r="16.4"/>
<circle cx="362.6" cy="80.5" r="10.1"/>
<circle cx="380.9" cy="184.1" r="13.9"/>
<circle cx="407.8" cy="186.7" r="13.1"/>
<circle cx="328.6" cy="190.2" r="11.4"/>
<circle cx="302.5" cy="190.2" r="10.1"/>
<circle cx="416.6" cy="139.7" r="8.8"/>
<circle cx="432.9" cy="80.5" r="12.6"/>
<circle cx="476.5" cy="99.6" r="16.4"/>
<circle cx="495.6" cy="97.0" r="7.6"/>
<circle cx="506.9" cy="80.5" r="11.4"/>
<circle cx="526.1" cy="85.7" r="13.9"/>
<circle cx="508.7" cy="107.5" r="15.2"/>
<circle cx="531.3" cy="115.3" r="12.6"/>
<circle cx="420.7" cy="97.0" r="8.8"/>
<circle cx="432.9" cy="132.7" r="17.7"/>
<circle cx="471.2" cy="132.7" r="16.4"/>
<circle cx="513.0" cy="141.4" r="13.9"/>
<circle cx="427.7" cy="160.6" r="12.6"/>
<circle cx="486.9" cy="168.4" r="16.4"/>
<circle cx="523.5" cy="167.6" r="12.6"/>
<circle cx="435.5" cy="190.2" r="15.2"/>
<circle cx="456.4" cy="191.9" r="11.4"/>
<circle cx="483.4" cy="191.1" r="11.4"/>
<circle cx="501.7" cy="191.1" r="8.8"/>
<circle cx="521.8" cy="187.6" r="12.6"/>
<circle cx="315.5" cy="204.7" r="11.4"/>
<circle cx="360.8" cy="205.6" r="16.4"/>
<circle cx="389.6" cy="208.2" r="12.6"/>
<circle cx="325.1" cy="227.3" r="17.7"/>
<circle cx="359.1" cy="247.4" r="16.4"/>
<circle cx="390.4" cy="239.5" r="12.6"/>
<circle cx="410.5" cy="230.0" r="13.9"/>
<circle cx="304.2" cy="255.2" r="12.6"/>
<circle cx="333.0" cy="264.8" r="16.4"/>
<circle cx="368.7" cy="275.2" r="15.2"/>
<circle cx="394.8" cy="268.3" r="13.9"/>
<circle cx="413.9" cy="257.8" r="11.4"/>
<circle cx="310.3" cy="284.8" r="16.4"/>
<circle cx="358.2" cy="300.5" r="10.1"/>
<circle cx="376.5" cy="303.1" r="8.8"/>
<circle cx="333.8" cy="309.2" r="11.4"/>
<circle cx="410.5" cy="286.6" r="12.6"/>
<circle cx="440.8" cy="231.7" r="17.7"/>
<circle cx="480.8" cy="224.7" r="16.4"/>
<circle cx="523.5" cy="215.2" r="12.6"/>
<circle cx="501.7" cy="240.4" r="11.4"/>
<circle cx="509.6" cy="256.1" r="13.9"/>
<circle cx="438.2" cy="257.0" r="13.9"/>
<circle cx="479.1" cy="257.8" r="15.2"/>
<circle cx="420.7" cy="257.0" r="8.8"/>
<circle cx="455.6" cy="272.6" r="15.2"/>
<circle cx="482.6" cy="290.0" r="15.2"/>
<circle cx="465.2" cy="286.6" r="7.6"/>
<circle cx="446.0" cy="294.4" r="11.4"/>
<circle cx="521.8" cy="283.1" r="13.9"/>
<circle cx="518.3" cy="307.5" r="12.6"/>
<circle cx="420.7" cy="286.6" r="8.8"/>
<circle cx="535.7" cy="230.8" r="7.6"/>
</g><g fill="url(#core1)">
<circle cx="314.7" cy="97.0" r="8.0"/>
<circle cx="338.2" cy="115.7" r="7.0"/>
<circle cx="339.4" cy="100.0" r="4.0"/>
<circle cx="388.7" cy="116.2" r="7.0"/>
<circle cx="376.5" cy="105.7" r="3.6"/>
<circle cx="304.2" cy="118.8" r="6.0"/>
<circle cx="406.1" cy="90.9" r="4.0"/>
<circle cx="313.8" cy="143.2" r="8.0"/>
<circle cx="306.0" cy="158.9" r="5.6"/>
<circle cx="357.3" cy="151.0" r="4.4"/>
<circle cx="384.3" cy="150.1" r="6.0"/>
<circle cx="393.0" cy="138.8" r="2.4"/>
<circle cx="362.6" cy="80.5" r="6.0"/>
<circle cx="380.9" cy="184.1" r="9.0"/>
<circle cx="407.8" cy="186.7" r="8.4"/>
<circle cx="328.6" cy="190.2" r="6.0"/>
<circle cx="302.5" cy="190.2" r="5.0"/>
<circle cx="436.4" cy="79.6" r="3.0"/>
<circle cx="471.2" cy="97.6" r="5.0"/>
<circle cx="480.0" cy="91.8" r="4.0"/>
<circle cx="480.8" cy="108.3" r="4.0"/>
<circle cx="495.6" cy="97.0" r="4.4"/>
<circle cx="506.9" cy="80.5" r="6.0"/>
<circle cx="526.1" cy="85.7" r="7.0"/>
<circle cx="508.7" cy="107.5" r="8.0"/>
<circle cx="531.3" cy="115.3" r="6.0"/>
<circle cx="420.7" cy="97.0" r="5.0"/>
<circle cx="427.7" cy="129.2" r="5.0"/>
<circle cx="425.1" cy="135.3" r="3.0"/>
<circle cx="470.4" cy="137.1" r="7.6"/>
<circle cx="478.2" cy="131.0" r="5.0"/>
<circle cx="513.0" cy="143.2" r="6.0"/>
<circle cx="427.7" cy="160.6" r="7.0"/>
<circle cx="483.4" cy="169.3" r="8.4"/>
<circle cx="435.5" cy="190.2" r="8.0"/>
<circle cx="456.4" cy="191.9" r="5.0"/>
<circle cx="483.4" cy="191.1" r="7.0"/>
<circle cx="501.7" cy="191.1" r="5.0"/>
<circle cx="521.8" cy="187.6" r="7.0"/>
<circle cx="315.5" cy="204.7" r="6.4"/>
<circle cx="360.8" cy="203.8" r="5.0"/>
<circle cx="387.8" cy="209.9" r="4.0"/>
<circle cx="317.3" cy="230.8" r="3.6"/>
<circle cx="331.2" cy="221.3" r="3.0"/>
<circle cx="326.9" cy="234.3" r="3.6"/>
<circle cx="363.4" cy="243.0" r="5.0"/>
<circle cx="363.4" cy="253.5" r="2.4"/>
<circle cx="390.4" cy="239.5" r="8.0"/>
<circle cx="411.3" cy="231.7" r="6.0"/>
<circle cx="332.1" cy="260.4" r="7.6"/>
<circle cx="368.7" cy="275.2" r="9.0"/>
<circle cx="394.8" cy="268.3" r="9.0"/>
<circle cx="413.9" cy="257.8" r="6.0"/>
<circle cx="310.3" cy="282.2" r="5.0"/>
<circle cx="306.8" cy="298.8" r="4.0"/>
<circle cx="358.2" cy="300.5" r="5.0"/>
<circle cx="376.5" cy="303.1" r="4.4"/>
<circle cx="333.8" cy="309.2" r="5.0"/>
<circle cx="407.0" cy="289.2" r="3.0"/>
<circle cx="417.4" cy="286.6" r="3.0"/>
<circle cx="333.8" cy="277.0" r="2.4"/>
<circle cx="435.5" cy="223.9" r="4.0"/>
<circle cx="449.5" cy="223.9" r="3.6"/>
<circle cx="434.7" cy="236.9" r="4.0"/>
<circle cx="446.9" cy="238.7" r="4.4"/>
<circle cx="480.0" cy="222.1" r="5.0"/>
<circle cx="483.4" cy="233.4" r="3.6"/>
<circle cx="523.5" cy="215.2" r="8.0"/>
<circle cx="501.7" cy="240.4" r="5.6"/>
<circle cx="516.5" cy="257.0" r="3.6"/>
<circle cx="438.2" cy="257.0" r="7.0"/>
<circle cx="479.1" cy="257.8" r="8.4"/>
<circle cx="420.7" cy="257.0" r="5.0"/>
<circle cx="455.6" cy="272.6" r="8.0"/>
<circle cx="482.6" cy="290.0" r="9.0"/>
<circle cx="465.2" cy="286.6" r="4.0"/>
<circle cx="446.0" cy="294.4" r="7.0"/>
<circle cx="516.5" cy="279.6" r="4.4"/>
<circle cx="532.2" cy="286.6" r="6.0"/>
<circle cx="518.3" cy="307.5" r="8.0"/>
<circle cx="420.7" cy="286.6" r="5.0"/>
<circle cx="535.7" cy="230.8" r="4.0"/>
</g></g></g>
<filter id="tx2" filterUnits="userSpaceOnUse" x="545.6" y="71.4" width="250.7" height="249.3" color-interpolation-filters="sRGB">
<feGaussianBlur in="SourceGraphic" stdDeviation="0.9" result="s0"/>
<feTurbulence type="fractalNoise" baseFrequency="0.1" numOctaves="2" seed="28" result="t3"/>
<feDisplacementMap in="s0" in2="t3" scale="6" xChannelSelector="R" yChannelSelector="G" result="src"/>
<feTurbulence type="fractalNoise" baseFrequency="0.035" numOctaves="2" seed="25" result="t1"/>
<feColorMatrix in="t1" type="matrix" values="1 0 0 0 0 1 0 0 0 0 1 0 0 0 0 0 0 0 0 1" result="n1"/>
<feTurbulence type="fractalNoise" baseFrequency="0.85" numOctaves="1" seed="32" result="t2"/>
<feColorMatrix in="t2" type="matrix" values="0 1 0 0 0 0 1 0 0 0 0 1 0 0 0 0 0 0 0 1" result="n2"/>
<feComposite in="src" in2="n1" operator="arithmetic" k1="0.45" k2="0.775" k3="0" k4="0" result="h1"/>
<feComposite in="h1" in2="n2" operator="arithmetic" k1="0.6" k2="0.7" k3="0" k4="0.0" result="h2"/>
<feComponentTransfer in="h2"><feFuncR type="table" tableValues="0 0 0 0 0 0 0 0 0 0 0 0 0 0 0.015 0.041 0.092 0.272 0.452 0.617 0.777 0.856 0.909 0.962 1 1 1 1 1 1 1 1 1 1 1 1 1 1 1 1 1"/><feFuncG type="table" tableValues="0 0 0 0 0.007 0.042 0.138 0.328 0.513 0.646 0.779 0.88 0.935 0.939 0.939 0.936 0.938 0.965 0.992 1 1 1 1 1 0.962 0.827 0.692 0.593 0.527 0.461 0.395 0.296 0.312 0.413 0.517 0.645 0.763 0.825 0.887 0.947 1"/><feFuncB type="table" tableValues="0 0.224 0.448 0.685 0.892 0.959 1 1 1 1 1 1 0.95 0.835 0.704 0.56 0.423 0.32 0.217 0.119 0.023 0 0 0 0 0 0 0 0 0 0 0 0.091 0.243 0.4 0.592 0.763 0.825 0.887 0.947 1"/></feComponentTransfer>
</filter>
<clipPath id="ic2"><rect x="551.6" y="77.4" width="238.7" height="237.3"/></clipPath>
<g clip-path="url(#ic2)"><g filter="url(#tx2)">
<linearGradient id="bgg2" x1="0" y1="0" x2="0" y2="1"><stop offset="0.3" stop-color="rgb(136,136,136)"/><stop offset="1" stop-color="rgb(150,150,150)"/></linearGradient>
<rect x="545.6" y="71.4" width="250.7" height="249.3" fill="url(#bgg2)"/>
<path d="M772.5,103.5 782.4,110.4 794.3,110.5M547.6,291 558.8,294.3 567.4,303.3 572.9,307.8M547.6,220.4 551.2,230.1 560.2,231 569.4,238.7M547.6,275.7 560.2,271.7M560.2,271.7 561.1,269.7M569.4,238.7 566,249.7 560.9,260.8 561.1,269.7M763.2,152.7 771.4,160.1 776.6,168.3 782.3,172.1 785.2,182M763.2,152.7 772.5,154.2 780.8,159.9 794.3,157.9M785.2,182 794.3,183.8M794.3,132 784.9,131.6 773.4,137.6M773.4,137.6 759.7,149M759.7,149 763.2,152.7M772.5,103.5 765.3,101.5M773.4,137.6 770.4,126.1 763.7,113.3 762.5,105.2M765.3,101.5 762.5,105.2M763.2,73.4 763.8,86.5M765.3,101.5 763.8,86.5M738.7,73.4 733.7,80 729.8,93.6 724.6,103.5M763.8,86.5 751.7,94.1 741.9,93 739,98 727.3,104.8M724.6,103.5 727.3,104.8M762.5,105.2 752.9,110 744.5,113.9M727.3,104.8 735.4,109.3 744.5,113.9M759.7,149 753.7,149.4M753.7,149.4 747.5,147.5M744.5,113.9 745.5,125 743,138.8 747.5,147.5M547.6,202.1 554.2,199.6M554.2,199.6 556.9,186.8 562.3,183.8 568.5,171.7 571.9,162.9M571.9,162.9 563.6,153.9 556.6,148.2 547.6,142.7M547.6,99.4 549.4,107.1 555,122.1 563.6,131.3M563.6,131.3 558.6,138.2 547.6,141M547.6,90.7 553.7,92.2 568,98.4 572.8,103.7M572.8,103.7 570.1,94.2 573.7,83.8 572.8,73.4M708.2,103 706.2,91.5 704.9,82.9 703.3,73.4M708.2,103 718.2,105.4M718.2,105.4 724.6,103.5M718.2,105.4 720,116 717.8,131.2 719.3,138.2M747.5,147.5 744.1,148.4M719.3,138.2 728.6,145.4 744.1,148.4M655.7,173.2 666.8,179.1M655.7,173.2 657.4,165.2 660.3,152.3M666.8,179.1 668.5,166.3 666.8,152.3M660.3,152.3 666.8,152.3M632.2,171 637.4,175.6M632.2,171 638.2,159.4 642.4,152.2M637.4,175.6 642.7,176.4 655.7,173.2M642.4,152.2 649.5,143.8M649.5,143.8 660.3,152.3M682.1,302.7 690.3,299.6 704.9,303.4 712.6,302.7M682.1,302.7 683,294.3 691.4,285.7M691.4,285.7 698.8,290.3 711.6,289.1M712.6,302.7 711.6,289.1M735.3,190.1 740.5,198.8M735.3,190.1 739.5,188.2M739.5,188.2 756.3,183.2M740.5,198.8 743.8,203.3M743.8,203.3 761.5,204.8M761.5,204.8 767.8,189.4M767.8,189.4 756.3,183.2M714.9,204.3 722.7,216.6M714.9,204.3 715.1,203.3M715.1,203.3 720.6,199.1 729.7,187.8M729.7,187.8 735.3,190.1M722.7,216.6 732.5,204.3 740.5,198.8M753.7,149.4 753.7,159.7M729.7,187.8 724.3,174.5M753.7,159.7 748.2,172.9 745.8,175.9 739.5,188.2M724.3,174.5 729.8,164 734.2,157.9 744.1,148.4M753.7,159.7 756.6,169.2 756.3,183.2M785.2,182 776.9,188.6 767.8,189.4M588,194.8 593,179.5 591.6,169.6M588,194.8 575.7,200.6 570.1,199.9M554.2,199.6 570.1,199.9M571.9,162.9 576.8,162.2M591.6,169.6 576.8,162.2M632.2,171 620.1,168.9M620.1,168.9 611.4,160.9M609.6,139 619.2,140.7 633.9,145.9 642.4,152.2M611.4,160.9 612.2,151.5 609.6,139M572.8,103.7 574.1,104.4M563.6,131.3 572.4,126.5M572.4,126.5 571.6,115.2 574.1,104.4M582.8,73.4 582.2,88.6 585,99M574.1,104.4 585,99M605.7,100.6 590.6,99.5M585,99 590.6,99.5M707.3,196.5 698.6,182.3M707.3,196.5 690.6,199.4M698.6,182.3 687.6,196.1M690.6,199.4 687.6,196.1M698,214.3 690.6,199.4M698,214.3 704.7,207.5 714.9,204.3M715.1,203.3 707.3,196.5M698.6,182.3 699.9,173.5M687.6,196.1 685.4,196.1M685.4,196.1 688.2,182 685.4,171.5M685.4,171.5 696.7,171.8M696.7,171.8 699.9,173.5M680.4,116.8 684.9,128.8 690.4,140.6M680.4,116.8 681.4,110M681.4,110 691.5,107.4M704.1,141 691.3,141M704.1,141 700.1,130.2 706,126.6 702.8,113.4 704.1,104.4M704.1,104.4 691.5,107.4M690.4,140.6 691.3,141M691.5,73.4 687.9,84.6 690.3,96.1 691.5,107.4M672,100.6 670.6,90 675.8,84.7 672.7,73.4M672,100.6 681.4,110M708.2,103 704.1,104.4M670.2,152.1 669.1,157.8 666.6,167.2 670.2,179.6M670.2,152.1 672.4,151.5M672.4,151.5 675.5,151.5M675.5,151.5 676.9,162.1 684.2,171.4M684.2,171.4 670.2,179.6M666.8,179.1 669,180.5M666.8,152.3 670.2,152.1M669,180.5 670.2,179.6M666.4,128.1 669.5,136.8 672.4,151.5M666.4,128.1 680.4,116.8M690.4,140.6 686,147.4 675.5,151.5M685.4,171.5 684.2,171.4M696.7,171.8 696.6,164.7 691.6,154.5 691.3,141M677.5,196.5 685.4,196.1M677.5,196.5 669.4,187M669.4,187 669,180.5M569.4,238.7 579.6,238.7M561.1,269.7 574.7,266.4 577.1,259.4 590.5,250.1M590.5,250.1 579.6,238.7M570.1,199.9 580.2,205.8 585.5,220.4 588.8,226.9M588.8,226.9 579.6,238.7M703.5,258 692.4,261.2M703.5,258 716.2,255.2M722.8,279.5 715.7,269 716.2,255.2M722.8,279.5 711.6,289.1M691.4,285.7 687.7,276.6M687.7,276.6 692.4,261.2M637.4,175.6 638.5,184.9M667.5,188.5 657.2,190.5 642.9,188.5M667.5,188.5 669.4,187M638.5,184.9 642.9,188.5M667.5,188.5 657.3,198.6 654.1,201.2M642.9,188.5 654.1,201.2M608.2,207.3 615.9,201.5 630.5,202.3M608.2,207.3 604.5,201.8M614.6,182.4 613.2,191.9 604.5,201.8M614.6,182.4 620.5,190 631.5,199.3M631.5,199.3 630.5,202.3M588,194.8 604.5,201.8M588.8,226.9 599.3,221.7 607.9,220.2M607.9,220.2 608.2,207.3M620.1,168.9 614.6,182.4M591.6,169.6 604.8,166.7 611.4,160.9M638.5,184.9 631.5,199.3M654.1,201.2 652.2,217.2M652.2,217.2 645.8,217.7M645.8,217.7 637.2,208.9 630.5,202.3M725.9,280.6 733.9,282.9M725.9,280.6 722.8,294 724.3,303.1 726.2,309.5 725.9,318.7M733.9,282.9 737.4,297.2M728.9,318.7 730.6,308 737.4,297.2M716.4,318.7 712.6,302.7M722.8,279.5 725.9,280.6M762.4,318.7 762.4,304.3M762.4,304.3 746.7,300.4 737.4,297.2M794.3,202.3 786.4,210.1 774.4,208.6 767.8,215.5M767.8,215.5 776,220.4 777.1,230.9 785.4,238.9M794.3,240.8 785.4,238.9M722.7,216.6 727.7,226.7M743.8,203.3 740.3,218.1 737.9,225.1M737.9,225.1 727.7,226.7M693,224.7 698,214.3M693,224.7 697.5,232.4 708.7,231.3 717.1,239M727.7,226.7 717.1,239M577.7,160 583.6,158 591,148.9 597.8,144.1 609.4,138.9M577.7,160 581.9,153.2 581.6,142 585.5,133.8M585.5,133.8 590.6,134.1M590.6,134.1 606.3,135.3M606.3,135.3 609.4,138.9M576.8,162.2 577.7,160M572.4,126.5 585.5,133.8M590.6,99.5 593.2,114.1 590.2,119 590.6,134.1M607.1,101.6 605.7,100.6M607.1,101.6 608.8,103.1M608.8,103.1 611.5,112.6 606.9,121 606.3,135.3M636.4,98.4 653.3,102.4M636.4,98.4 632.9,82.8 637.1,73.4M653.3,102.4 653.7,90.8 655.7,80.2 653.3,73.4M607.1,101.6 614,88.4 617.3,86.3 624,73.4M608.8,103.1 619,100.5 633.1,100.8M633.1,100.8 636.4,98.4M672,100.6 659,104.5 653.5,102.5M622,134.9 630.9,131.6 640,132.3M622,134.9 626.2,121.9 632.5,112 633.1,101.4M633.1,101.4 632,109.4 634.2,124.1 640,132.3M609.6,139 622,134.9M633.1,100.8 633.1,101.4M648.5,137.6 645.3,134.6M648.5,137.6 653.4,133.1 664.7,128.8M645.3,134.6 649.2,121.9 651.6,115.7M664.7,128.8 659.2,123.3 651.6,115.7M649.5,143.8 648.5,137.6M640,132.3 645.3,134.6M666.4,128.1 664.7,128.8M653.5,102.5 651.6,115.7M715,172 718.4,164.9 718.8,150.9 715,140.1M715,172 706.3,171.8M706.3,171.8 706.2,161.1 703.3,152.3 706.3,141.4M715,140.1 706.3,141.4M724.3,174.5 715,172M719.3,138.2 715,140.1M699.9,173.5 706.3,171.8M704.1,141 706.3,141.4M686.7,242.6 671.3,242.6M686.7,242.6 688.2,227.4M688.2,227.4 688.3,226.2M688.3,226.2 671,222.3M671,222.3 664.8,224.3M664.8,224.3 663.7,229.8M671.3,242.6 663.7,229.8M677.3,254.4 686.1,255.4M677.3,254.4 671.3,242.6M686.1,255.4 686.7,242.6M703.5,258 702.4,247.9 696.2,235.7 688.2,227.4M692.4,261.2 686.1,255.4M693,224.7 688.3,226.2M716.2,255.2 717.4,253.2M717.1,239 717.4,253.2M677.5,196.5 673.3,208.8 671,222.3M652.2,217.2 664.8,224.3M655.8,243.9 663.7,229.8M655.8,243.9 650.6,239 640,233.4 629,232.4M629,232.4 639.5,224.8 645.8,217.7M627.2,233.5 624.4,233.9M627.2,233.5 629,232.4M607.9,220.2 613.5,228.3M624.4,233.9 613.5,228.3M627.2,233.5 637.5,237.3 638.1,251.9 646.4,256.5M618.9,268.4 620.2,255.1 625.5,244.8 624.4,233.9M618.9,268.4 629.7,275.5M629.7,275.5 641.1,266.4 646.4,256.5M672.4,316 664.1,302.5 665.7,298.7 658,285.2M672.4,316 682.1,302.7M687.7,276.6 674.2,280.1 665.9,275.7M658,285.2 665.9,275.7M677.3,254.4 663.4,260.5M665.9,275.7 663.4,260.5M655.8,243.9 653.3,253.8M663.4,260.5 653.3,253.8M653.3,253.8 646.4,256.5M745.9,229.1 753.7,239 756.2,248.3M745.9,229.1 758.2,222.2 766.2,214.8M766.2,214.8 766.9,215.2M766.9,215.2 760.5,224.2 760.3,239.7 758.9,247.2M758.9,247.2 756.2,248.3M737.9,225.1 745.9,229.1M753.5,254.5 756.2,248.3M753.5,254.5 742.7,255.8 736.5,250.8 726.1,253.9 717.4,253.2M761.5,204.8 766.2,214.8M767.8,215.5 766.9,215.2M785.4,238.9 778.3,240.5 771.6,246.9 758.9,247.2M794.3,279.3 784,280.8M753.5,254.5 755.5,264.1M755.5,264.1 761.2,272.7 775.4,278.7 784,280.8M629.7,275.5 630.4,277.1M658,285.2 640.4,282M640.4,282 630.4,277.1M743.2,279.1 747.6,289.4 758,294.6 762.7,303.5M743.2,279.1 746.2,276.2M746.2,276.2 753,283 766,289.7 770.1,294.2M762.7,303.5 770.1,294.2M762.4,304.3 762.7,303.5M733.9,282.9 743.2,279.1M755.5,264.1 746.2,276.2M784,280.8 778.2,289 770.1,294.2M598.4,259.6 610.6,266.3M598.4,259.6 597.6,258.8M610.6,266.3 613.4,255.6 612.3,239.9 610.6,232.3M597.6,258.8 595,253.1M595,253.1 605.8,246.4 610.6,232.3M618.9,268.4 613.8,268.1M613.5,228.3 610.6,232.3M613.8,268.1 610.6,266.3M560.2,271.7 569.2,275M569.2,275 579.3,270.2 591.6,264.8 597.6,258.8M590.5,250.1 595,253.1M591.7,293.7 593.7,291.2M591.7,293.7 586.4,293M593.7,291.2 596.8,280.5 593.7,269.1M586.4,293 582,286.7M582,286.7 588.4,281.3 593.7,269.1M603.5,304.7 614.5,299.6 619.1,293.3 626.3,287M603.5,304.7 591.7,293.7M613.8,268.1 606.9,274.7 598.2,281.8 593.7,291.2M630.4,277.1 626.3,287M598.4,259.6 593.7,269.1M569.2,275 582,286.7M572.9,307.8 577.4,303.9 586.4,293M627.2,291.4 635.3,303.2 644.9,309M627.2,291.4 628,304.4 630,308.3 630.2,318.7M647.6,318.7 644.9,309M640.4,282 641.3,289.2 642,298.3 644.9,309M626.3,287 627.2,291.4M603.5,304.7 606.5,318.7M672.4,316 672.1,318.7" fill="none" stroke="rgb(173,173,173)" stroke-width="5" stroke-linecap="round" stroke-linejoin="round" stroke-opacity="0.45"/>
<g fill="url(#or)">
<circle cx="707.6" cy="106.6" r="8.4"/>
<circle cx="768.5" cy="188.5" r="7.0"/>
<circle cx="691.9" cy="162.3" r="5.6"/>
<circle cx="596.3" cy="290.0" r="7.0"/>
<circle cx="653.8" cy="293.5" r="5.6"/>
<circle cx="558.0" cy="234.3" r="5.6"/>
<circle cx="723.2" cy="270.9" r="11.1"/>
<circle cx="688.4" cy="274.4" r="8.4"/>
<circle cx="775.5" cy="244.8" r="7.0"/>
</g><g fill="url(#wh)">
<circle cx="625.9" cy="274.4" r="9.4"/>
<circle cx="603.2" cy="269.1" r="6.3"/>
<circle cx="730.2" cy="230.8" r="11.0"/>
<circle cx="709.3" cy="246.5" r="9.4"/>
<circle cx="747.6" cy="225.6" r="4.7"/>
<circle cx="779.0" cy="286.6" r="6.3"/>
<circle cx="784.2" cy="267.4" r="4.7"/>
</g><g fill="url(#halo2)">
<circle cx="573.6" cy="84.0" r="15.2"/>
<circle cx="593.7" cy="82.2" r="10.1"/>
<circle cx="620.7" cy="84.0" r="15.2"/>
<circle cx="652.9" cy="84.8" r="15.2"/>
<circle cx="556.2" cy="114.4" r="13.9"/>
<circle cx="590.2" cy="117.1" r="16.4"/>
<circle cx="624.1" cy="119.7" r="16.4"/>
<circle cx="657.2" cy="119.7" r="11.4"/>
<circle cx="645.0" cy="117.9" r="5.1"/>
<circle cx="665.9" cy="140.6" r="10.1"/>
<circle cx="588.4" cy="151.0" r="16.4"/>
<circle cx="631.1" cy="150.1" r="18.9"/>
<circle cx="650.3" cy="160.6" r="7.6"/>
<circle cx="665.9" cy="164.1" r="12.6"/>
<circle cx="556.2" cy="167.6" r="11.4"/>
<circle cx="578.0" cy="178.0" r="12.6"/>
<circle cx="602.4" cy="181.5" r="11.4"/>
<circle cx="653.8" cy="190.2" r="15.2"/>
<circle cx="624.1" cy="190.2" r="12.6"/>
<circle cx="573.6" cy="146.7" r="10.1"/>
<circle cx="691.9" cy="85.7" r="13.9"/>
<circle cx="718.0" cy="81.4" r="11.4"/>
<circle cx="745.9" cy="94.4" r="16.4"/>
<circle cx="783.3" cy="93.5" r="13.9"/>
<circle cx="701.5" cy="126.6" r="17.7"/>
<circle cx="731.1" cy="125.8" r="16.4"/>
<circle cx="759.8" cy="123.2" r="13.9"/>
<circle cx="775.5" cy="117.9" r="7.6"/>
<circle cx="672.7" cy="138.8" r="8.8"/>
<circle cx="711.1" cy="155.4" r="20.2"/>
<circle cx="785.1" cy="153.6" r="13.9"/>
<circle cx="672.7" cy="164.1" r="10.1"/>
<circle cx="747.6" cy="176.3" r="21.5"/>
<circle cx="763.3" cy="174.5" r="10.1"/>
<circle cx="685.8" cy="185.0" r="11.4"/>
<circle cx="710.2" cy="188.5" r="12.6"/>
<circle cx="752.9" cy="193.7" r="8.8"/>
<circle cx="698.9" cy="195.4" r="6.3"/>
<circle cx="686.7" cy="158.0" r="3.8"/>
<circle cx="643.3" cy="199.5" r="10.1"/>
<circle cx="665.1" cy="202.1" r="10.1"/>
<circle cx="577.1" cy="222.1" r="16.4"/>
<circle cx="627.6" cy="215.2" r="16.4"/>
<circle cx="596.3" cy="236.9" r="8.8"/>
<circle cx="611.1" cy="247.4" r="15.2"/>
<circle cx="643.3" cy="242.2" r="18.9"/>
<circle cx="554.5" cy="249.1" r="11.4"/>
<circle cx="580.6" cy="260.4" r="17.7"/>
<circle cx="594.5" cy="276.1" r="11.4"/>
<circle cx="653.8" cy="269.1" r="13.9"/>
<circle cx="667.7" cy="248.2" r="10.1"/>
<circle cx="568.4" cy="293.5" r="13.9"/>
<circle cx="620.7" cy="304.0" r="16.4"/>
<circle cx="638.1" cy="300.5" r="15.2"/>
<circle cx="608.5" cy="288.3" r="10.1"/>
<circle cx="558.0" cy="309.2" r="12.6"/>
<circle cx="587.6" cy="310.9" r="10.1"/>
<circle cx="685.8" cy="207.3" r="12.6"/>
<circle cx="699.7" cy="200.4" r="10.1"/>
<circle cx="730.2" cy="207.3" r="13.9"/>
<circle cx="751.1" cy="214.3" r="10.1"/>
<circle cx="761.6" cy="229.1" r="15.2"/>
<circle cx="782.5" cy="216.9" r="13.9"/>
<circle cx="711.1" cy="219.5" r="11.4"/>
<circle cx="678.0" cy="242.2" r="16.4"/>
<circle cx="695.4" cy="243.9" r="12.6"/>
<circle cx="737.2" cy="242.2" r="7.6"/>
<circle cx="773.8" cy="257.8" r="13.9"/>
<circle cx="675.4" cy="265.7" r="12.6"/>
<circle cx="736.3" cy="265.7" r="11.4"/>
<circle cx="704.1" cy="274.4" r="13.9"/>
<circle cx="756.3" cy="286.6" r="20.2"/>
<circle cx="699.7" cy="300.5" r="17.7"/>
<circle cx="726.7" cy="298.8" r="13.9"/>
<circle cx="744.1" cy="305.7" r="13.9"/>
<circle cx="780.7" cy="305.7" r="11.4"/>
<circle cx="674.5" cy="286.6" r="10.1"/>
<circle cx="775.5" cy="203.0" r="15.2"/>
</g><g fill="url(#core2)">
<circle cx="571.9" cy="84.0" r="8.0"/>
<circle cx="593.7" cy="82.2" r="5.0"/>
<circle cx="616.3" cy="81.4" r="6.0"/>
<circle cx="625.9" cy="84.8" r="4.0"/>
<circle cx="653.8" cy="84.8" r="8.0"/>
<circle cx="554.5" cy="115.3" r="6.0"/>
<circle cx="591.1" cy="117.1" r="9.0"/>
<circle cx="616.3" cy="122.3" r="4.4"/>
<circle cx="629.4" cy="121.4" r="5.0"/>
<circle cx="623.3" cy="117.1" r="4.0"/>
<circle cx="655.5" cy="121.4" r="5.0"/>
<circle cx="665.9" cy="140.6" r="7.0"/>
<circle cx="583.2" cy="147.5" r="4.4"/>
<circle cx="590.2" cy="153.6" r="6.0"/>
<circle cx="632.9" cy="145.8" r="7.6"/>
<circle cx="621.5" cy="161.5" r="3.6"/>
<circle cx="650.3" cy="160.6" r="3.6"/>
<circle cx="667.7" cy="164.1" r="6.0"/>
<circle cx="556.2" cy="167.6" r="7.0"/>
<circle cx="578.0" cy="178.0" r="7.0"/>
<circle cx="602.4" cy="181.5" r="5.0"/>
<circle cx="653.8" cy="186.7" r="7.0"/>
<circle cx="622.4" cy="191.9" r="5.0"/>
<circle cx="691.0" cy="85.7" r="8.0"/>
<circle cx="746.8" cy="96.2" r="7.6"/>
<circle cx="782.5" cy="92.7" r="6.0"/>
<circle cx="706.7" cy="126.6" r="6.4"/>
<circle cx="731.1" cy="125.8" r="10.0"/>
<circle cx="759.8" cy="123.2" r="7.6"/>
<circle cx="672.7" cy="138.8" r="5.0"/>
<circle cx="701.5" cy="155.4" r="5.0"/>
<circle cx="718.9" cy="155.4" r="8.0"/>
<circle cx="784.2" cy="158.9" r="5.0"/>
<circle cx="672.7" cy="164.1" r="6.0"/>
<circle cx="744.1" cy="174.5" r="6.0"/>
<circle cx="684.9" cy="185.0" r="5.0"/>
<circle cx="710.2" cy="188.5" r="7.0"/>
<circle cx="752.9" cy="193.7" r="5.0"/>
<circle cx="698.9" cy="195.4" r="3.0"/>
<circle cx="643.3" cy="199.5" r="6.0"/>
<circle cx="665.1" cy="202.1" r="6.0"/>
<circle cx="588.4" cy="214.3" r="7.6"/>
<circle cx="596.3" cy="236.9" r="5.0"/>
<circle cx="610.2" cy="247.4" r="7.0"/>
<circle cx="612.8" cy="255.2" r="3.0"/>
<circle cx="645.9" cy="236.1" r="8.0"/>
<circle cx="632.9" cy="250.9" r="6.0"/>
<circle cx="554.5" cy="249.1" r="7.0"/>
<circle cx="577.1" cy="255.2" r="8.0"/>
<circle cx="587.6" cy="272.6" r="6.0"/>
<circle cx="592.8" cy="276.1" r="6.0"/>
<circle cx="620.7" cy="304.0" r="9.0"/>
<circle cx="636.3" cy="302.2" r="7.0"/>
<circle cx="648.5" cy="298.8" r="6.0"/>
<circle cx="558.0" cy="309.2" r="8.0"/>
<circle cx="587.6" cy="310.9" r="5.0"/>
<circle cx="685.8" cy="207.3" r="7.0"/>
<circle cx="699.7" cy="200.4" r="6.0"/>
<circle cx="732.0" cy="209.1" r="7.0"/>
<circle cx="751.1" cy="214.3" r="7.0"/>
<circle cx="765.0" cy="230.0" r="8.0"/>
<circle cx="678.0" cy="243.0" r="8.0"/>
<circle cx="697.1" cy="243.0" r="5.0"/>
<circle cx="737.2" cy="242.2" r="3.6"/>
<circle cx="773.8" cy="257.8" r="9.0"/>
<circle cx="675.4" cy="265.7" r="7.0"/>
<circle cx="758.9" cy="283.1" r="9.0"/>
<circle cx="747.6" cy="293.5" r="5.0"/>
<circle cx="699.7" cy="304.8" r="8.0"/>
<circle cx="684.1" cy="298.8" r="3.0"/>
<circle cx="725.0" cy="298.8" r="6.0"/>
<circle cx="744.1" cy="305.7" r="8.0"/>
<circle cx="780.7" cy="305.7" r="7.0"/>
</g></g></g>
<filter id="tx3" filterUnits="userSpaceOnUse" x="41.3" y="372.5" width="251.7" height="249.0" color-interpolation-filters="sRGB">
<feGaussianBlur in="SourceGraphic" stdDeviation="0.7" result="s0"/>
<feTurbulence type="fractalNoise" baseFrequency="0.2" numOctaves="2" seed="39" result="t3"/>
<feDisplacementMap in="s0" in2="t3" scale="3" xChannelSelector="R" yChannelSelector="G" result="src"/>
<feTurbulence type="fractalNoise" baseFrequency="0.03" numOctaves="2" seed="36" result="t1"/>
<feColorMatrix in="t1" type="matrix" values="1 0 0 0 0 1 0 0 0 0 1 0 0 0 0 0 0 0 0 1" result="n1"/>
<feTurbulence type="fractalNoise" baseFrequency="0.9" numOctaves="1" seed="43" result="t2"/>
<feColorMatrix in="t2" type="matrix" values="0 1 0 0 0 0 1 0 0 0 0 1 0 0 0 0 0 0 0 1" result="n2"/>
<feComposite in="src" in2="n1" operator="arithmetic" k1="0.5" k2="0.75" k3="0" k4="0" result="h1"/>
<feComposite in="h1" in2="n2" operator="arithmetic" k1="0.7" k2="0.65" k3="0" k4="0.0" result="h2"/>
<feComponentTransfer in="h2"><feFuncR type="table" tableValues="0 0 0 0 0 0 0 0 0 0 0 0 0 0 0.015 0.041 0.092 0.272 0.452 0.617 0.777 0.856 0.909 0.962 1 1 1 1 1 1 1 1 1 1 1 1 1 1 1 1 1"/><feFuncG type="table" tableValues="0 0 0 0 0.007 0.042 0.138 0.328 0.513 0.646 0.779 0.88 0.935 0.939 0.939 0.936 0.938 0.965 0.992 1 1 1 1 1 0.962 0.827 0.692 0.593 0.527 0.461 0.395 0.296 0.312 0.413 0.517 0.645 0.763 0.825 0.887 0.947 1"/><feFuncB type="table" tableValues="0 0.224 0.448 0.685 0.892 0.959 1 1 1 1 1 1 0.95 0.835 0.704 0.56 0.423 0.32 0.217 0.119 0.023 0 0 0 0 0 0 0 0 0 0 0 0.091 0.243 0.4 0.592 0.763 0.825 0.887 0.947 1"/></feComponentTransfer>
</filter>
<clipPath id="ic3"><rect x="47.3" y="378.5" width="239.7" height="237.0"/></clipPath>
<g clip-path="url(#ic3)"><g filter="url(#tx3)">
<rect x="41.3" y="372.5" width="251.7" height="249.0" fill="rgb(153,153,153)"/>
<path d="M291,559.9 276.2,562.8M291,603.1 282.4,598.5 276.1,591.8M276.2,562.8 278.1,575 276,581 276.1,591.8M263.7,553.3 254.2,554.3 245,554.2M263.7,553.3 267.3,545.9 270.7,536.3 275.9,528M245,554.2 240.7,542.7 238.8,534.3 237.8,522.7M237.8,522.7 246.8,515.8 253.3,512 263.7,509.4M263.7,509.4 271.7,519.2 275.9,528M291,527.7 275.9,528M276.2,562.8 263.7,553.3M291,491.2 280.6,487.5M267.3,494.3 280.6,487.5M267.3,494.3 263.7,509.4M223.8,514.8 224.5,502.6 221.8,495.4M223.8,514.8 237.8,522.7M267.3,494.3 256.2,488.8 246.9,481.9M246.9,481.9 240.6,485.1 229.4,492.1 221.8,495.4M185.1,491.6 198.6,491.1 211.7,487.4M185.1,491.6 174.7,481.3M174.7,481.3 174.8,468.9 171.9,455.7M171.9,455.7 173.6,453.2M173.6,453.2 182.3,454.5 193.4,452.3 202.7,451.4 213.3,452.3M211.7,487.4 214.5,473.4 213.6,462.1 213.3,452.3M276.1,591.8 265.8,593 258.1,596.5 247.8,597M238.3,560.6 245,554.2M238.3,560.6 239.4,569.2 236.5,580.6 238,587.9M238,587.9 247.8,597M43.3,598.4 58.1,602.8M58.1,602.8 52.1,619.5M43.3,398.2 45.5,400M45.5,400 46.5,413.1 43.3,422.8M45.5,400 55.7,396.6 62.8,395.3 75,391.6M75,391.6 73.5,374.5M131.6,374.5 120.3,377.6M118.4,374.5 120.3,377.6M152.3,413.3 152.9,402 156.7,392.3 159.3,386.2 159.7,374.5M152.3,413.3 160.1,417.4 170.5,423.5M170.5,423.5 180.7,415.5 192.5,408.8M192.5,408.8 193.9,395.2 191.1,382.2M191.1,382.2 183.4,377.3 173.2,374.5M202.5,374.5 191.1,382.2M246.9,481.9 246.9,471.1 245.9,463 243,450.1M221.8,495.4 211.7,487.4M213.3,452.3 216.2,450M243,450.1 229.9,450.8 216.2,450M173.6,453.2 171.1,445.8 173,432.6 170.5,423.5M192.5,408.8 200.4,410.9 209.2,415.9M216.2,450 215.2,440.6 213.1,425.9 209.2,415.9M288.8,420.1 279.9,418.4 269,421 258.4,422.1M288.8,420.1 291,422.7M281.9,460.5 270.1,454.3 261.9,445.6 253.7,441.5M281.9,460.5 291,455.8M253.7,441.5 256.8,430.7 258.4,422.1M291,416.1 288.8,420.1M280.6,487.5 280.1,477.9 283,467.7 281.9,460.5M243,450.1 253.7,441.5M272.6,385.6 266.4,394.7 260.1,404.4 254.5,414M272.6,385.6 266.6,374.5M238.4,374.5 232.4,383.6M232.4,383.6 236.8,391.6 236.5,402.3M236.5,402.3 243.6,406.2 254.5,414M291,386.1 282.2,386.2 272.6,385.6M258.4,422.1 254.5,414M203.8,374.5 215.6,378.7 224.1,379.6 232.4,383.6M209.2,415.9 220.7,409.2 225.9,406.6 236.5,402.3M238,587.9 231.1,590.5 218.5,596.5 213.9,598.1 203.4,600.7M247.8,597 248.6,606.6 247.4,619.5M203.4,600.7 202.1,604.4M202.1,604.4 207.7,609.8 214.6,619.5M291,618.4 289.7,619.5M202.1,604.4 190.2,613.1 180.7,618.8M180.5,619.5 180.7,618.8M137.2,619.5 131.7,615M126.9,619.5 131.7,615M58.1,602.8 67.1,598.2M89.2,619.5 83.6,609.7 82.9,601M67.1,598.2 82.9,601M43.3,561.6 55.4,558.9M67.1,598.2 65.3,586.5 60.8,577.1 60.3,569.8 55.4,558.9M174.7,481.3 166.9,487.9 160.7,492.2 149.8,494 141.4,500.4 135.3,503.6M171.9,455.7 162.6,457.3 155.6,457.8 144.1,458.2M135.3,503.6 131.9,492.9 127.7,481M144.1,458.2 137.3,465.1 133,475.6 127.7,481M43.3,490.7 50.6,495.7M43.3,456.9 52.8,452.1 60.5,446.9M50.6,495.7 54.4,487.4 60.4,477.9 67.7,467.6M67.7,467.6 64.6,458.3 60.5,446.9M61.2,443.7 60.5,446.9M61.2,443.7 54.3,436.1 43.3,427.4M113.1,589.3 120.6,597.2 132.5,607.9M113.1,589.3 116.6,578.6 124.9,566.6M132.5,607.9 141.7,600.7 148.8,595.3 154.5,592M124.9,566.6 133.9,567.7 146.8,568.2 158.4,572M154.5,592 155.7,583.1 158.4,572M131.7,615 132.5,607.9M82.9,601 93.4,591M93.4,591 105.3,592 113.1,589.3M180.7,618.8 173.8,611.1 165.2,606.8 159.7,598.9 154.5,592M43.3,517.7 52.5,515.6M55.4,558.9 66.5,546.3M66.5,546.3 62.8,536.9 56.7,525.3 52.5,515.6M50.6,495.7 54.2,511.3M54.2,511.3 52.5,515.6M90.6,479.3 77.9,475.2 67.7,467.6M90.6,479.3 91.1,488.5 88.8,501.8M54.2,511.3 63.2,507.5 75.7,504.2 88.8,501.8M145.8,524.3 148.5,530.9 153.4,541.8 156.3,553 155.6,561.3 160.9,569.6M145.8,524.3 154.8,525.3 163.4,522.7 173.6,520.9 182.7,521.8M182.7,521.8 195.3,533.6M195.3,533.6 196.2,544.3 196.8,553.3M160.9,569.6 171.9,570.5 178.4,566 188.3,565M196.8,553.3 188.3,565M185.1,491.6 182.1,501.6 185.2,512.9 182.7,521.8M223.8,514.8 214.4,519 206,527.9 195.3,533.6M238.3,560.6 227,560.2 215.6,557.1 206.6,554.2 196.8,553.3M203.4,600.7 200.9,592.8 196.9,581.4 191.5,575.3 188.3,565M158.4,572 160.9,569.6M105.4,441.2 113.8,438 121.1,429.9M105.4,441.2 96.2,437.6 84.7,437 74.8,435.6M74.8,435.6 74.2,424 77.9,416.3 81,406.9 81.4,398M81.4,398 93.1,398.8 101.5,396.9 114.2,398.1M114.2,398.1 120.3,409.1 125.9,417M125.9,417 121.1,429.9M144.1,458.2 137.2,452.9 134.7,444.2 128.8,434.5 121.1,429.9M127.7,481 115.1,478.1 106.4,470.6M106.4,470.6 106.8,462.8 105.4,452.3 105.4,441.2M90.6,479.3 96.9,474 106.4,470.6M61.2,443.7 74.8,435.6M75,391.6 81.4,398M120.3,377.6 116.6,385.7 114.2,398.1M152.3,413.3 137.5,413.9 125.9,417M87.4,549.6 85.8,548.2M87.4,549.6 98.6,549.4 109.2,553.2 117.5,553.1M85.8,548.2 88.1,541 95.8,529.2 98.1,522.6 101.8,513.5M117.5,553.1 122.6,544.4 130.1,535.5 133.4,528.1 138.8,520.3M101.8,513.5 112,513.5 124.9,512 133.9,511.1M133.9,511.1 138.8,520.3M93.4,591 94.2,578.9 91.9,569.7 89.9,561.2 87.4,549.6M66.5,546.3 75.9,545.7 85.8,548.2M124.9,566.6 117.5,553.1M88.8,501.8 101.8,513.5M145.8,524.3 138.8,520.3M135.3,503.6 133.9,511.1" fill="none" stroke="rgb(176,176,176)" stroke-width="5" stroke-linecap="round" stroke-linejoin="round" stroke-opacity="0.85"/>
<g fill="url(#bl3)">
<circle cx="123.3" cy="619.3" r="6.4"/><circle cx="128.7" cy="613.9" r="5.4"/><circle cx="111.8" cy="616.1" r="6.3"/><circle cx="138.9" cy="612.7" r="5.4"/><circle cx="147" cy="605.9" r="5.4"/><circle cx="120.7" cy="607.8" r="5.1"/><circle cx="132" cy="622.9" r="5"/><circle cx="99.9" cy="621.3" r="5.1"/><circle cx="115.6" cy="623.3" r="5"/><circle cx="105.8" cy="606.8" r="5.3"/><circle cx="106.5" cy="596.5" r="5"/><circle cx="150.7" cy="616.5" r="5.3"/><circle cx="139.7" cy="598.2" r="5.5"/><circle cx="121.3" cy="594.3" r="5.2"/><circle cx="130.1" cy="597.9" r="5.5"/><circle cx="114.4" cy="603.1" r="5"/><circle cx="138.6" cy="588.8" r="5.2"/><circle cx="96.7" cy="603.6" r="6.3"/><circle cx="158.4" cy="621.2" r="5.1"/><circle cx="154.8" cy="607.6" r="5.6"/><circle cx="98.7" cy="594.7" r="6"/><circle cx="125.9" cy="585.4" r="6.3"/><circle cx="84.7" cy="621.9" r="5.3"/><circle cx="132.4" cy="580.5" r="6"/><circle cx="100.8" cy="613.7" r="5.8"/><circle cx="148.7" cy="591.1" r="6.7"/><circle cx="112.5" cy="583.1" r="4.9"/><circle cx="76.4" cy="616.3" r="5.1"/><circle cx="84.1" cy="584.9" r="6.2"/><circle cx="89.5" cy="612" r="5.4"/><circle cx="141.9" cy="579.1" r="5"/><circle cx="170.7" cy="594.4" r="6.5"/><circle cx="82" cy="596.4" r="6.3"/><circle cx="68.4" cy="612.5" r="5.1"/><circle cx="181.2" cy="593.9" r="6.6"/><circle cx="101.7" cy="576.8" r="5.9"/><circle cx="90.7" cy="598.4" r="5.5"/><circle cx="127" cy="573" r="6.4"/><circle cx="108" cy="572.4" r="6.5"/><circle cx="166.5" cy="583.7" r="5.6"/><circle cx="165.4" cy="573.8" r="5.3"/><circle cx="71.8" cy="587.7" r="6.2"/><circle cx="72.9" cy="576" r="5.6"/><circle cx="174.8" cy="583.8" r="5.5"/><circle cx="177.7" cy="608.5" r="6.7"/><circle cx="117.2" cy="563.4" r="5.1"/><circle cx="180.6" cy="573.6" r="5.5"/><circle cx="184.7" cy="582.5" r="6.6"/><circle cx="168.7" cy="620.2" r="6.6"/><circle cx="81.6" cy="570.6" r="6.5"/><circle cx="64.7" cy="572.4" r="6.4"/><circle cx="94.4" cy="572.7" r="6.5"/><circle cx="192.5" cy="583.6" r="6.2"/><circle cx="103.9" cy="565.9" r="5"/><circle cx="51.6" cy="588.3" r="5.9"/><circle cx="161.3" cy="613.6" r="6.4"/><circle cx="204.9" cy="589.1" r="5.5"/><circle cx="57.7" cy="619.2" r="5.7"/><circle cx="190.3" cy="597.7" r="6.4"/><circle cx="54.9" cy="581.2" r="5.2"/><circle cx="69.8" cy="622.2" r="5.1"/><circle cx="42.9" cy="621" r="6.5"/><circle cx="197.4" cy="575.9" r="5.2"/><circle cx="176.6" cy="622.3" r="6.5"/><circle cx="129.7" cy="558.4" r="6.6"/><circle cx="149.7" cy="577.8" r="4.9"/><circle cx="40.4" cy="609.6" r="6.5"/><circle cx="185.3" cy="606.6" r="6.2"/><circle cx="110.3" cy="558.2" r="5"/><circle cx="68.2" cy="564.1" r="6.5"/><circle cx="45.1" cy="601.9" r="5.4"/><circle cx="198.8" cy="616.4" r="5.5"/><circle cx="75.9" cy="561.2" r="6"/><circle cx="188.8" cy="575.5" r="5.6"/><circle cx="42.3" cy="583.1" r="5.7"/><circle cx="148.7" cy="555.8" r="5.3"/><circle cx="53.8" cy="572" r="5.7"/><circle cx="190.8" cy="619.7" r="6.1"/><circle cx="206.3" cy="574.3" r="5.3"/><circle cx="213" cy="592" r="5.2"/><circle cx="45.2" cy="593" r="6.3"/><circle cx="45.3" cy="571.3" r="5.7"/><circle cx="117.2" cy="571.6" r="5.2"/><circle cx="67.3" cy="581.4" r="6.6"/><circle cx="216.4" cy="616" r="5.1"/><circle cx="74.7" cy="553" r="6.3"/><circle cx="116.4" cy="543.4" r="6.2"/><circle cx="144.8" cy="542.4" r="5"/><circle cx="218.6" cy="601.3" r="5.5"/><circle cx="101.9" cy="557.7" r="5.1"/><circle cx="82.4" cy="552.8" r="6.6"/><circle cx="215.2" cy="579.3" r="5.5"/><circle cx="133.5" cy="546.4" r="6.1"/><circle cx="163.2" cy="551.4" r="5.3"/><circle cx="164.2" cy="541.3" r="6.6"/><circle cx="56.3" cy="548.4" r="6.6"/><circle cx="161.8" cy="531.1" r="6.5"/><circle cx="65.7" cy="552" r="6.4"/><circle cx="141.6" cy="533.9" r="5.6"/><circle cx="45.5" cy="555.8" r="5.7"/><circle cx="169.6" cy="558.9" r="5.3"/><circle cx="155.6" cy="542" r="5.9"/><circle cx="97.7" cy="537.9" r="5.1"/><circle cx="144.7" cy="565" r="6.3"/><circle cx="220.7" cy="586.8" r="5.2"/><circle cx="65" cy="531.3" r="5.8"/><circle cx="169.4" cy="546.7" r="5.8"/><circle cx="153.6" cy="531" r="5.3"/><circle cx="226.4" cy="605.7" r="5.5"/><circle cx="123.1" cy="536.9" r="5.1"/><circle cx="201.7" cy="563.7" r="6.5"/><circle cx="178.5" cy="555" r="5"/><circle cx="106.8" cy="538.5" r="6.3"/><circle cx="44.8" cy="545.5" r="5"/><circle cx="137.2" cy="561.9" r="5.9"/><circle cx="122.8" cy="522.7" r="5.7"/><circle cx="58.9" cy="538.4" r="5.1"/><circle cx="209.2" cy="620.7" r="6.3"/><circle cx="229.4" cy="580.7" r="5.8"/><circle cx="224.7" cy="572" r="6.2"/><circle cx="213" cy="567.5" r="6.6"/><circle cx="138.1" cy="552.7" r="5.6"/><circle cx="148.1" cy="511.1" r="5.6"/><circle cx="152.1" cy="518.8" r="6.7"/><circle cx="215.4" cy="559.5" r="5"/><circle cx="190.7" cy="553.6" r="6.2"/><circle cx="135.8" cy="538.8" r="6.1"/><circle cx="222.7" cy="553.4" r="5.8"/><circle cx="75.5" cy="529.3" r="5.8"/><circle cx="103.7" cy="526.6" r="5.9"/><circle cx="142.6" cy="503.9" r="5.9"/><circle cx="162.3" cy="517.2" r="6"/><circle cx="174.4" cy="539.2" r="5"/><circle cx="179.6" cy="530.8" r="5.1"/><circle cx="41.2" cy="537.4" r="6"/><circle cx="179.2" cy="545.7" r="6.1"/><circle cx="189.1" cy="538.6" r="5.3"/><circle cx="91.2" cy="530.3" r="5"/><circle cx="209.2" cy="543" r="5.3"/><circle cx="112.8" cy="527.2" r="5.5"/><circle cx="219.3" cy="546.5" r="6.5"/><circle cx="224.3" cy="617.9" r="6.4"/><circle cx="82.4" cy="532.7" r="4.9"/><circle cx="188.9" cy="519.8" r="6.4"/><circle cx="83.4" cy="525" r="5"/><circle cx="127.6" cy="498.1" r="5.6"/><circle cx="67.5" cy="523.1" r="5.2"/><circle cx="154.8" cy="505.4" r="6.3"/><circle cx="226.4" cy="596.9" r="6.5"/><circle cx="92.2" cy="521.1" r="5.3"/><circle cx="173.3" cy="509.7" r="6.3"/><circle cx="130.3" cy="517" r="6"/><circle cx="234.1" cy="551.8" r="6.2"/><circle cx="203.1" cy="533.7" r="5.1"/><circle cx="236.7" cy="601.8" r="5.2"/><circle cx="234.4" cy="615.9" r="6.1"/><circle cx="238.9" cy="609.5" r="5.7"/><circle cx="116.5" cy="501.7" r="5.9"/><circle cx="176.8" cy="600.2" r="6"/><circle cx="158.4" cy="498.6" r="6.1"/><circle cx="170.9" cy="500" r="6.5"/><circle cx="81.4" cy="510.1" r="6.6"/><circle cx="243.6" cy="583.4" r="6.2"/><circle cx="250.5" cy="614.9" r="6"/><circle cx="170.6" cy="532.5" r="6.5"/><circle cx="115" cy="493.8" r="5.8"/><circle cx="232.1" cy="568.1" r="6.3"/><circle cx="91.2" cy="507.8" r="6.4"/><circle cx="50" cy="526.5" r="5.2"/><circle cx="139.4" cy="495.3" r="6"/><circle cx="146.5" cy="485.1" r="5.7"/><circle cx="257.6" cy="607" r="6"/><circle cx="243.2" cy="622.3" r="5.1"/><circle cx="161.7" cy="484.3" r="6"/><circle cx="250.8" cy="579.4" r="5"/><circle cx="201.5" cy="520" r="6.4"/><circle cx="51" cy="536.7" r="5.3"/><circle cx="214.1" cy="535.9" r="5.5"/><circle cx="133.9" cy="486.4" r="6.3"/><circle cx="44.8" cy="512.9" r="5.4"/><circle cx="103.4" cy="505" r="5.6"/><circle cx="163" cy="505.1" r="5.6"/><circle cx="107.3" cy="493.4" r="5.5"/><circle cx="75.8" cy="517.8" r="6.3"/><circle cx="256.5" cy="620.4" r="6.4"/><circle cx="155.2" cy="472.3" r="6.3"/><circle cx="68.8" cy="514.6" r="6.5"/><circle cx="60.6" cy="516.4" r="5.7"/><circle cx="40.4" cy="523.8" r="5.8"/><circle cx="139.2" cy="476.4" r="5.4"/><circle cx="190" cy="509.8" r="6.2"/><circle cx="271.4" cy="606" r="6.6"/><circle cx="203.3" cy="506" r="6.6"/><circle cx="165.3" cy="474.4" r="6.6"/><circle cx="209" cy="514.5" r="5.6"/><circle cx="238" cy="543.3" r="5.6"/><circle cx="177.5" cy="469.6" r="5.4"/><circle cx="255.3" cy="589" r="5.2"/><circle cx="251.6" cy="570.9" r="6.1"/><circle cx="210.9" cy="504.4" r="5"/><circle cx="218.2" cy="506.9" r="5.3"/><circle cx="281.1" cy="600.6" r="5.3"/><circle cx="187.4" cy="546.6" r="5.4"/><circle cx="153.4" cy="481.6" r="5.5"/><circle cx="242.5" cy="571.3" r="5.5"/><circle cx="261.5" cy="579.3" r="6.6"/><circle cx="253.9" cy="562.3" r="6.6"/><circle cx="96.1" cy="501.4" r="5.9"/><circle cx="110.2" cy="481.8" r="5.1"/><circle cx="176.4" cy="490" r="6.1"/><circle cx="204" cy="496.7" r="6.3"/><circle cx="193.9" cy="493.7" r="5.5"/><circle cx="265.9" cy="560.4" r="5.2"/><circle cx="188.5" cy="474.8" r="6.1"/><circle cx="78.5" cy="495.7" r="5.9"/><circle cx="121.4" cy="467.2" r="5.3"/><circle cx="42.7" cy="498.8" r="6.3"/><circle cx="282.3" cy="613.8" r="5.7"/><circle cx="98.6" cy="490.1" r="6.6"/><circle cx="213.6" cy="527.7" r="5.4"/><circle cx="188.3" cy="488" r="6.3"/><circle cx="226.2" cy="542.2" r="5.4"/><circle cx="223.7" cy="530.4" r="5.4"/><circle cx="175" cy="458.3" r="6.5"/><circle cx="180.5" cy="444.5" r="6.3"/><circle cx="270.3" cy="622" r="5.2"/><circle cx="269.7" cy="567.6" r="6.6"/><circle cx="178.4" cy="501.2" r="6.4"/><circle cx="244.6" cy="563.2" r="6.1"/><circle cx="264.1" cy="615.7" r="5"/><circle cx="228.2" cy="504.7" r="5.6"/><circle cx="199" cy="512.6" r="5.9"/><circle cx="290.2" cy="598.1" r="5.9"/><circle cx="74.9" cy="482.6" r="5.2"/><circle cx="66.2" cy="496.4" r="6.1"/><circle cx="126.2" cy="458.7" r="5.4"/><circle cx="153.6" cy="460.9" r="5.5"/><circle cx="197.1" cy="501" r="5.6"/><circle cx="283.7" cy="588.8" r="5.1"/><circle cx="70.4" cy="488.9" r="6.4"/><circle cx="262.4" cy="571" r="6.6"/><circle cx="243.6" cy="531" r="6.4"/><circle cx="290.7" cy="576.1" r="5.6"/><circle cx="183.2" cy="435.4" r="5.6"/><circle cx="55.6" cy="496.6" r="6.2"/><circle cx="196.5" cy="485.2" r="6"/><circle cx="202.2" cy="479.9" r="6.6"/><circle cx="128.1" cy="445.5" r="6.3"/><circle cx="247.4" cy="542.8" r="5.1"/><circle cx="134" cy="452.6" r="5.3"/><circle cx="143.8" cy="470.4" r="5.9"/><circle cx="281.2" cy="622.7" r="5.2"/><circle cx="190.1" cy="466.8" r="5.8"/><circle cx="231.8" cy="536.8" r="5.9"/><circle cx="227.9" cy="523.7" r="5.9"/><circle cx="169.3" cy="451.6" r="6.3"/><circle cx="139.5" cy="444.2" r="5.7"/><circle cx="272.6" cy="585.6" r="4.9"/><circle cx="217.2" cy="497.8" r="6.6"/><circle cx="232.1" cy="496.2" r="6.1"/><circle cx="134" cy="433.6" r="5.8"/><circle cx="85.3" cy="468.9" r="6.3"/><circle cx="62.4" cy="489.4" r="5.9"/><circle cx="288.3" cy="608.5" r="5.4"/><circle cx="268.9" cy="576.8" r="5.7"/><circle cx="94.5" cy="466.8" r="6.6"/><circle cx="58.9" cy="464.3" r="5.4"/><circle cx="73.4" cy="460.9" r="5.3"/><circle cx="291.7" cy="563.5" r="5.4"/><circle cx="200.5" cy="470.6" r="5.6"/><circle cx="180.8" cy="482.9" r="6.2"/><circle cx="118.4" cy="446.3" r="6.1"/><circle cx="257" cy="525.4" r="5.2"/><circle cx="156.6" cy="451.9" r="5.3"/><circle cx="273.8" cy="613.4" r="6"/><circle cx="182.8" cy="462" r="4.9"/><circle cx="51" cy="471.6" r="6.4"/><circle cx="235.1" cy="528.4" r="5.6"/><circle cx="55.1" cy="479.3" r="5.5"/><circle cx="259.3" cy="538.8" r="5.7"/><circle cx="83.1" cy="483.8" r="6.2"/><circle cx="113.1" cy="468.6" r="5.9"/><circle cx="49.7" cy="503.6" r="5.5"/><circle cx="147.4" cy="442.9" r="5.5"/><circle cx="285.8" cy="555.4" r="6.4"/><circle cx="123" cy="490.8" r="5.1"/><circle cx="116.4" cy="454.5" r="6.5"/><circle cx="101.2" cy="481.9" r="6.2"/><circle cx="218.6" cy="479.3" r="5"/><circle cx="167" cy="438.5" r="5.4"/><circle cx="109.6" cy="444.4" r="5.4"/><circle cx="286.2" cy="569.2" r="6.2"/><circle cx="101.2" cy="449.2" r="5.9"/><circle cx="163.3" cy="459.9" r="5.5"/><circle cx="289.8" cy="583.7" r="5.4"/><circle cx="251.9" cy="532.8" r="6.6"/><circle cx="127.2" cy="428.7" r="5.4"/><circle cx="294.2" cy="552.2" r="5.2"/><circle cx="246.1" cy="493.8" r="5.3"/><circle cx="237" cy="505.7" r="5.3"/><circle cx="267.1" cy="522.6" r="5.1"/><circle cx="256.6" cy="517.6" r="6.1"/><circle cx="256.2" cy="493.5" r="5.6"/><circle cx="225.7" cy="466.1" r="5.6"/><circle cx="137.1" cy="424.3" r="6.3"/><circle cx="43.4" cy="484.8" r="6.1"/><circle cx="163" cy="445.1" r="5.9"/><circle cx="241.4" cy="512.3" r="5.5"/><circle cx="251.4" cy="504.4" r="5.7"/><circle cx="236.8" cy="483.1" r="6.4"/><circle cx="265.3" cy="533.9" r="6.4"/><circle cx="154" cy="434.9" r="5.5"/><circle cx="188.9" cy="442.5" r="5.8"/><circle cx="41.9" cy="475" r="6"/><circle cx="270.4" cy="544.3" r="5"/><circle cx="193.4" cy="435.5" r="6.4"/><circle cx="294.7" cy="544" r="5.8"/><circle cx="252.4" cy="478.5" r="5.4"/><circle cx="239.7" cy="471.9" r="5"/><circle cx="225.4" cy="474" r="5.8"/><circle cx="142.2" cy="432.7" r="5.9"/><circle cx="276.5" cy="549.7" r="5.3"/><circle cx="205.9" cy="459.3" r="5.4"/><circle cx="105.9" cy="430.6" r="5.7"/><circle cx="91" cy="457.2" r="6.4"/><circle cx="283.9" cy="543.9" r="6.3"/><circle cx="218.5" cy="455" r="6"/><circle cx="185.6" cy="450.2" r="5.7"/><circle cx="94" cy="431.3" r="6.1"/><circle cx="71.7" cy="451.2" r="6.5"/><circle cx="100.4" cy="459.3" r="5.8"/><circle cx="184.5" cy="427.8" r="6.5"/><circle cx="87.4" cy="449.9" r="6.5"/><circle cx="294.4" cy="590.7" r="5.4"/><circle cx="272.4" cy="515.3" r="5.8"/><circle cx="150.9" cy="423.4" r="6.2"/><circle cx="45.7" cy="465.8" r="6.1"/><circle cx="286.7" cy="532.1" r="5.5"/><circle cx="192.2" cy="424.9" r="6"/><circle cx="255.3" cy="468.1" r="5.9"/><circle cx="84" cy="425.6" r="5.1"/><circle cx="284" cy="518.5" r="5.9"/><circle cx="175" cy="438.4" r="6.5"/><circle cx="81.6" cy="456.9" r="5.1"/><circle cx="159.9" cy="412.7" r="5.7"/><circle cx="191.1" cy="457.7" r="6.6"/><circle cx="265.4" cy="486.9" r="5.3"/><circle cx="197.4" cy="447.4" r="5.3"/><circle cx="203.4" cy="442.3" r="6.1"/><circle cx="199.8" cy="430.9" r="5.4"/><circle cx="225.2" cy="444.3" r="6.2"/><circle cx="263.4" cy="461.4" r="5.1"/><circle cx="268.5" cy="507.6" r="5.7"/><circle cx="93" cy="422.1" r="5.5"/><circle cx="281.1" cy="499.6" r="5.6"/><circle cx="104.8" cy="419.8" r="5.2"/><circle cx="276.9" cy="508.9" r="6.1"/><circle cx="251.7" cy="458.4" r="5.7"/><circle cx="117.6" cy="423.9" r="5"/><circle cx="225.7" cy="431.1" r="5.9"/><circle cx="263.3" cy="478.9" r="5"/><circle cx="202.6" cy="417.8" r="6.4"/><circle cx="216.8" cy="420.4" r="5"/><circle cx="285.1" cy="507.7" r="6.6"/><circle cx="162.1" cy="424.7" r="5.2"/><circle cx="294.9" cy="498.4" r="5.8"/><circle cx="238.3" cy="491.7" r="6"/><circle cx="267.6" cy="471.3" r="6"/><circle cx="167" cy="417.6" r="6.6"/><circle cx="174.4" cy="410.4" r="6"/><circle cx="259.5" cy="501.7" r="5.2"/><circle cx="275.1" cy="460.8" r="6.2"/><circle cx="277.6" cy="480.8" r="5.6"/><circle cx="64.6" cy="424.1" r="5.7"/><circle cx="277.3" cy="471.8" r="5.3"/><circle cx="254" cy="449.7" r="6"/><circle cx="118.5" cy="409.8" r="5.5"/><circle cx="264.1" cy="452.6" r="5.4"/><circle cx="168.4" cy="404.6" r="6.5"/><circle cx="114" cy="416.3" r="5.9"/><circle cx="94.7" cy="409.6" r="6.3"/><circle cx="201.8" cy="403.8" r="6.2"/><circle cx="266.1" cy="443.7" r="5.8"/><circle cx="292.7" cy="480.7" r="6.2"/><circle cx="289.6" cy="523.8" r="5.4"/><circle cx="79.4" cy="445.5" r="6.1"/><circle cx="285.4" cy="469" r="6.3"/><circle cx="209.8" cy="406.5" r="6.6"/><circle cx="290.8" cy="515.2" r="6.3"/><circle cx="107.1" cy="404.9" r="5.7"/><circle cx="129.1" cy="420.7" r="5.5"/><circle cx="231.8" cy="424.6" r="6.5"/><circle cx="40.3" cy="447.2" r="5.4"/><circle cx="237.6" cy="443.4" r="5.6"/><circle cx="294.5" cy="467.8" r="5.8"/><circle cx="284.6" cy="450.6" r="6"/><circle cx="63.9" cy="434.5" r="5.1"/><circle cx="58.5" cy="429.1" r="6.2"/><circle cx="227.8" cy="417.4" r="5.5"/><circle cx="80.3" cy="418.5" r="5.8"/><circle cx="259.8" cy="429.3" r="5.3"/><circle cx="247.3" cy="436.6" r="6.4"/><circle cx="294.5" cy="442.5" r="5.5"/><circle cx="248.1" cy="421.6" r="6"/><circle cx="220.9" cy="404.5" r="6.4"/><circle cx="264.6" cy="587" r="6.3"/><circle cx="93.9" cy="388.1" r="6"/><circle cx="244.1" cy="409.6" r="5.6"/><circle cx="286.8" cy="442.7" r="6.2"/><circle cx="213.8" cy="399.8" r="5.7"/><circle cx="166.1" cy="396.6" r="6.6"/><circle cx="220.1" cy="393.3" r="5.2"/><circle cx="238.5" cy="433.2" r="6.3"/><circle cx="87.8" cy="415.1" r="5.3"/><circle cx="240.7" cy="424.1" r="5.9"/><circle cx="212" cy="392.2" r="6"/><circle cx="234" cy="461.2" r="6.2"/><circle cx="85.9" cy="433" r="5.7"/><circle cx="233.3" cy="412.1" r="6.1"/><circle cx="179.3" cy="400.9" r="6.7"/><circle cx="106.3" cy="385.2" r="6.6"/><circle cx="134.4" cy="410.8" r="5.3"/><circle cx="230.3" cy="392.6" r="6.2"/><circle cx="123.7" cy="397.6" r="5.3"/><circle cx="224.6" cy="385" r="6.5"/><circle cx="72.1" cy="418.9" r="6.6"/><circle cx="262.8" cy="406.8" r="6.4"/><circle cx="46.6" cy="440.8" r="5.7"/><circle cx="129.2" cy="404.6" r="5"/><circle cx="279.2" cy="432.8" r="5.3"/><circle cx="74.8" cy="410.9" r="5.7"/><circle cx="83.4" cy="407.5" r="6.2"/><circle cx="202.5" cy="395.1" r="6.2"/><circle cx="101.4" cy="378.1" r="6.5"/><circle cx="187.4" cy="390.5" r="5.3"/><circle cx="148" cy="388.5" r="5.4"/><circle cx="55.4" cy="416.5" r="5.7"/><circle cx="107.5" cy="396" r="5.6"/><circle cx="216.5" cy="384.2" r="5.4"/><circle cx="221.7" cy="375.2" r="6.6"/><circle cx="231" cy="439.4" r="6.6"/><circle cx="172.2" cy="382.9" r="5.8"/><circle cx="102.3" cy="412.3" r="6.2"/><circle cx="134.7" cy="396.9" r="6.6"/><circle cx="41.3" cy="433" r="5.9"/><circle cx="143.3" cy="404.1" r="6.4"/><circle cx="284.6" cy="427.4" r="5.8"/><circle cx="232.9" cy="377.7" r="6.4"/><circle cx="107.6" cy="372.2" r="5"/><circle cx="47.9" cy="414" r="5.8"/><circle cx="136.8" cy="384.7" r="5.5"/><circle cx="174.3" cy="394.7" r="6"/><circle cx="151.4" cy="376" r="6.4"/><circle cx="253.3" cy="407.9" r="6"/><circle cx="272.7" cy="404.7" r="6.1"/><circle cx="261.3" cy="395.2" r="5.4"/><circle cx="274.2" cy="442.9" r="6.6"/><circle cx="294.1" cy="489.5" r="6.5"/><circle cx="251.8" cy="386.6" r="5"/><circle cx="293.8" cy="419.6" r="6.6"/><circle cx="274.6" cy="394.3" r="5.9"/><circle cx="267.9" cy="436.1" r="5.8"/><circle cx="243.1" cy="401.7" r="6"/><circle cx="207.9" cy="383.1" r="6.2"/><circle cx="272.1" cy="426.4" r="5.6"/><circle cx="253.9" cy="397.1" r="6.4"/><circle cx="145.7" cy="396.7" r="5.9"/><circle cx="66.4" cy="409.1" r="5.7"/><circle cx="238.2" cy="393.1" r="5.2"/><circle cx="92.1" cy="377.3" r="5.5"/><circle cx="212.9" cy="370.5" r="5.6"/><circle cx="127.8" cy="383.1" r="5.3"/><circle cx="285.5" cy="478.3" r="5.1"/><circle cx="276.9" cy="413.5" r="5.7"/><circle cx="74.6" cy="399.6" r="5.8"/><circle cx="198.9" cy="380.7" r="5.2"/><circle cx="57.3" cy="402.4" r="5.7"/><circle cx="40.2" cy="409.7" r="5"/><circle cx="40.3" cy="400.6" r="6.3"/><circle cx="262.7" cy="382.3" r="6.6"/><circle cx="112.7" cy="379.4" r="6.4"/><circle cx="129.1" cy="371.5" r="5.4"/><circle cx="86.5" cy="384.9" r="6.6"/><circle cx="178" cy="387.9" r="5.3"/><circle cx="286.9" cy="411.3" r="5.3"/><circle cx="182.1" cy="371.8" r="6.1"/><circle cx="282.3" cy="405" r="5.9"/><circle cx="195.2" cy="372.1" r="6.4"/><circle cx="291.9" cy="397.2" r="6"/><circle cx="63.5" cy="385.4" r="6.2"/><circle cx="292.7" cy="506.2" r="5.1"/><circle cx="129" cy="391.6" r="6.5"/><circle cx="78.1" cy="381.4" r="6.5"/><circle cx="65.8" cy="397.6" r="5.2"/><circle cx="82.6" cy="374.4" r="5.7"/><circle cx="52.8" cy="393.1" r="5.9"/><circle cx="273.2" cy="371.9" r="6.4"/><circle cx="83" cy="395.4" r="5.9"/><circle cx="144" cy="380.6" r="6.4"/><circle cx="44.2" cy="391.4" r="5.2"/><circle cx="57.6" cy="378.7" r="5.7"/><circle cx="282.7" cy="393.2" r="6.1"/><circle cx="252.8" cy="377.1" r="5.2"/><circle cx="241" cy="381.7" r="6.2"/><circle cx="281.8" cy="380.2" r="5.2"/><circle cx="40.7" cy="384.4" r="6.6"/><circle cx="101.3" cy="391" r="6.1"/><circle cx="289.8" cy="376.3" r="5"/><circle cx="47.8" cy="373.6" r="6.2"/><circle cx="51.2" cy="384" r="5.9"/><circle cx="251" cy="429.3" r="5"/><circle cx="62.5" cy="372.5" r="6.2"/>
</g><g fill="url(#cc3)">
<circle cx="123.2" cy="620" r="3.2"/><circle cx="128.9" cy="613.2" r="2.4"/><circle cx="112.1" cy="616" r="2.5"/><circle cx="139.5" cy="613.1" r="2.4"/><circle cx="147.4" cy="605.3" r="2.3"/><circle cx="120.2" cy="607.7" r="2.7"/><circle cx="132.1" cy="622.7" r="2.8"/><circle cx="99.5" cy="621.7" r="2.8"/><circle cx="116.4" cy="622.6" r="3.1"/><circle cx="105.1" cy="606.6" r="3.2"/><circle cx="106" cy="595.8" r="2.2"/><circle cx="151.1" cy="615.7" r="2.6"/><circle cx="140.4" cy="597.9" r="3"/><circle cx="121.2" cy="594.9" r="2.6"/><circle cx="130.2" cy="597.4" r="3.1"/><circle cx="113.7" cy="603.5" r="2.8"/><circle cx="139.4" cy="588.3" r="2.3"/><circle cx="96.5" cy="604.3" r="3.2"/><circle cx="159" cy="621.8" r="3.1"/><circle cx="155.5" cy="607.3" r="2.3"/><circle cx="99.2" cy="594.3" r="3.2"/><circle cx="125.6" cy="584.9" r="2.9"/><circle cx="84.4" cy="622.3" r="3"/><circle cx="132.9" cy="581.1" r="2.4"/><circle cx="100.4" cy="614.2" r="2.4"/><circle cx="149.1" cy="590.8" r="3.2"/><circle cx="113.3" cy="583.2" r="2.6"/><circle cx="75.9" cy="615.9" r="2.6"/><circle cx="83.5" cy="584.3" r="2.7"/><circle cx="90.2" cy="611.7" r="2.9"/><circle cx="141.4" cy="578.4" r="3"/><circle cx="171.3" cy="594" r="2.8"/><circle cx="81.9" cy="595.9" r="3.1"/><circle cx="67.8" cy="612.9" r="3.1"/><circle cx="180.7" cy="593.5" r="2.3"/><circle cx="100.9" cy="576.5" r="2.4"/><circle cx="90.2" cy="598.6" r="2.7"/><circle cx="127.5" cy="572.7" r="2.3"/><circle cx="108" cy="572.8" r="2.8"/><circle cx="166.6" cy="583.2" r="2.4"/><circle cx="165.5" cy="573.9" r="2.5"/><circle cx="72.2" cy="588.1" r="2.6"/><circle cx="73.4" cy="576.6" r="3"/><circle cx="174.9" cy="583.2" r="2.5"/><circle cx="177.4" cy="607.9" r="2.7"/><circle cx="116.6" cy="563.6" r="3.1"/><circle cx="181.3" cy="573.2" r="2.9"/><circle cx="184.7" cy="583.2" r="2.4"/><circle cx="168.8" cy="619.6" r="2.7"/><circle cx="82.3" cy="571.2" r="2.7"/><circle cx="65.1" cy="572.9" r="2.3"/><circle cx="94.6" cy="573.3" r="3"/><circle cx="193.2" cy="583.6" r="2.5"/><circle cx="104.6" cy="566.6" r="2.5"/><circle cx="50.9" cy="588.4" r="2.8"/><circle cx="160.7" cy="613.9" r="2.5"/><circle cx="204.9" cy="588.5" r="3.1"/><circle cx="58.4" cy="619.6" r="2.9"/><circle cx="190.4" cy="597" r="3.1"/><circle cx="54.5" cy="580.6" r="2.2"/><circle cx="69.7" cy="622.4" r="2.3"/><circle cx="43" cy="620.3" r="2.8"/><circle cx="196.9" cy="575.1" r="2.2"/><circle cx="176.3" cy="623" r="2.4"/><circle cx="130.2" cy="557.7" r="2.7"/><circle cx="149.4" cy="577.9" r="2.5"/><circle cx="40.1" cy="609.5" r="2.9"/><circle cx="185" cy="606.9" r="3.1"/><circle cx="110.6" cy="557.9" r="2.7"/><circle cx="68.2" cy="564.1" r="2.7"/><circle cx="45.8" cy="601.1" r="2.6"/><circle cx="199.6" cy="616.5" r="2.6"/><circle cx="75.9" cy="560.4" r="2.8"/><circle cx="188.8" cy="575" r="3"/><circle cx="42.8" cy="582.6" r="3.2"/><circle cx="149.2" cy="556.3" r="2.7"/><circle cx="53.6" cy="572.4" r="2.3"/><circle cx="190.2" cy="620.1" r="2.6"/><circle cx="206.3" cy="573.9" r="2.5"/><circle cx="213.1" cy="591.9" r="2.4"/><circle cx="44.5" cy="593.3" r="2.9"/><circle cx="45.6" cy="571.3" r="2.3"/><circle cx="117.3" cy="572.1" r="3"/><circle cx="67.2" cy="582.1" r="2.3"/><circle cx="216.9" cy="615.5" r="3.2"/><circle cx="75.3" cy="553.7" r="3"/><circle cx="115.9" cy="543.7" r="2.3"/><circle cx="145.1" cy="543.2" r="2.6"/><circle cx="217.9" cy="601" r="2.6"/><circle cx="102.7" cy="557.8" r="2.5"/><circle cx="82.7" cy="552.6" r="2.8"/><circle cx="215.3" cy="578.7" r="3.2"/><circle cx="133.3" cy="546.3" r="2.4"/><circle cx="162.9" cy="552" r="3.1"/><circle cx="164.3" cy="540.7" r="2.8"/><circle cx="56" cy="548" r="2.9"/><circle cx="161.8" cy="530.5" r="2.7"/><circle cx="65.1" cy="552.6" r="2.9"/><circle cx="140.9" cy="533.3" r="3.1"/><circle cx="45.3" cy="555.2" r="2.6"/><circle cx="168.9" cy="558.3" r="2.7"/><circle cx="154.8" cy="542" r="3.2"/><circle cx="98.5" cy="538.6" r="3.2"/><circle cx="145.1" cy="564.9" r="2.4"/><circle cx="220" cy="586.4" r="2.2"/><circle cx="65.4" cy="532" r="2.6"/><circle cx="168.7" cy="547" r="2.8"/><circle cx="153.1" cy="531.1" r="2.2"/><circle cx="227.1" cy="605.3" r="3.1"/><circle cx="123.3" cy="537.3" r="3"/><circle cx="201" cy="564.2" r="2.7"/><circle cx="178.1" cy="554.4" r="2.7"/><circle cx="107.3" cy="539.2" r="2.5"/><circle cx="44.4" cy="545" r="2.4"/><circle cx="137.6" cy="561.2" r="2.9"/><circle cx="122" cy="523.4" r="3.1"/><circle cx="58.3" cy="538.9" r="2.3"/><circle cx="208.6" cy="621.1" r="2.5"/><circle cx="228.9" cy="581" r="3.2"/><circle cx="225.3" cy="571.4" r="2.6"/><circle cx="213.6" cy="566.9" r="2.2"/><circle cx="138.4" cy="552.3" r="2.9"/><circle cx="148.5" cy="511.6" r="2.8"/><circle cx="152.5" cy="518.1" r="2.8"/><circle cx="214.7" cy="559.9" r="2.2"/><circle cx="191" cy="554.3" r="3.1"/><circle cx="135.4" cy="539.5" r="2.2"/><circle cx="222.7" cy="552.8" r="2.3"/><circle cx="76.2" cy="529.8" r="2.7"/><circle cx="103" cy="526.2" r="2.3"/><circle cx="143" cy="504.3" r="3"/><circle cx="162.7" cy="516.5" r="3.2"/><circle cx="174" cy="538.8" r="2.7"/><circle cx="179.1" cy="530.5" r="3.1"/><circle cx="41.1" cy="537.3" r="2.9"/><circle cx="178.4" cy="545" r="2.6"/><circle cx="188.8" cy="538.5" r="2.6"/><circle cx="91.1" cy="530.9" r="2.8"/><circle cx="209.7" cy="542.9" r="3.2"/><circle cx="113.2" cy="528" r="2.7"/><circle cx="219.4" cy="547" r="2.4"/><circle cx="224.4" cy="618" r="2.9"/><circle cx="81.8" cy="532.5" r="2.6"/><circle cx="188.9" cy="520" r="3.2"/><circle cx="82.6" cy="525.2" r="2.3"/><circle cx="127" cy="498.8" r="2.6"/><circle cx="67.9" cy="523" r="3.1"/><circle cx="154.5" cy="505.6" r="2.2"/><circle cx="226.8" cy="597.1" r="3"/><circle cx="91.9" cy="521.4" r="3.1"/><circle cx="173.3" cy="509.7" r="2.2"/><circle cx="129.9" cy="517.5" r="2.6"/><circle cx="233.9" cy="552.5" r="2.6"/><circle cx="202.5" cy="533.8" r="2.5"/><circle cx="237.3" cy="601.8" r="3.2"/><circle cx="234.9" cy="615.8" r="2.8"/><circle cx="239.6" cy="608.8" r="3.2"/><circle cx="116" cy="501.4" r="2.9"/><circle cx="176.5" cy="599.7" r="2.4"/><circle cx="157.6" cy="498.3" r="3.2"/><circle cx="170.6" cy="500.4" r="3.1"/><circle cx="81.1" cy="509.4" r="2.9"/><circle cx="243.5" cy="583.8" r="3"/><circle cx="250.2" cy="615" r="2.4"/><circle cx="170.9" cy="533.1" r="2.9"/><circle cx="114.8" cy="494" r="2.4"/><circle cx="231.9" cy="568" r="2.5"/><circle cx="91.5" cy="507.7" r="2.8"/><circle cx="50.5" cy="526.3" r="2.3"/><circle cx="139.8" cy="495.6" r="2.5"/><circle cx="146" cy="485.3" r="2.7"/><circle cx="257.1" cy="607.3" r="2.7"/><circle cx="243.2" cy="623.1" r="2.6"/><circle cx="162.2" cy="484.6" r="2.2"/><circle cx="251.3" cy="579.8" r="3.2"/><circle cx="201.1" cy="520.3" r="2.9"/><circle cx="51.2" cy="537.4" r="3.1"/><circle cx="213.7" cy="535.3" r="2.5"/><circle cx="134.4" cy="486.6" r="2.4"/><circle cx="45" cy="513.6" r="2.2"/><circle cx="104.2" cy="504.3" r="3"/><circle cx="163.2" cy="505.3" r="2.6"/><circle cx="107" cy="493.5" r="3"/><circle cx="76" cy="518.2" r="2.4"/><circle cx="257.3" cy="620.9" r="2.2"/><circle cx="155.6" cy="471.7" r="3"/><circle cx="68.1" cy="514.4" r="2.4"/><circle cx="59.9" cy="516.3" r="2.6"/><circle cx="39.7" cy="523.9" r="2.8"/><circle cx="138.4" cy="476.7" r="2.3"/><circle cx="189.6" cy="509.5" r="3.2"/><circle cx="270.6" cy="606.1" r="2.9"/><circle cx="203.1" cy="505.8" r="2.8"/><circle cx="166.1" cy="474.4" r="2.8"/><circle cx="209.2" cy="513.9" r="2.8"/><circle cx="238.2" cy="542.6" r="2.3"/><circle cx="177.9" cy="469" r="2.3"/><circle cx="256" cy="589.7" r="3.1"/><circle cx="250.9" cy="571.3" r="2.3"/><circle cx="210.4" cy="504.9" r="2.5"/><circle cx="218" cy="507.6" r="2.9"/><circle cx="281.4" cy="600.9" r="2.6"/><circle cx="186.7" cy="546.8" r="2.9"/><circle cx="154" cy="481.7" r="2.6"/><circle cx="241.8" cy="570.6" r="2.4"/><circle cx="261.1" cy="579.2" r="2.9"/><circle cx="254" cy="561.5" r="2.8"/><circle cx="95.3" cy="500.7" r="2.8"/><circle cx="110.8" cy="481.3" r="2.9"/><circle cx="175.9" cy="489.6" r="2.8"/><circle cx="203.4" cy="497.4" r="3.1"/><circle cx="194.7" cy="493.6" r="2.7"/><circle cx="265.8" cy="560.6" r="2.5"/><circle cx="189" cy="474.2" r="2.3"/><circle cx="78.4" cy="495" r="2.4"/><circle cx="121.5" cy="466.7" r="2.2"/><circle cx="42.4" cy="498" r="2.3"/><circle cx="282.2" cy="614.6" r="2.6"/><circle cx="98.7" cy="489.5" r="3.1"/><circle cx="213.2" cy="527" r="2.9"/><circle cx="189" cy="488.2" r="3.1"/><circle cx="226" cy="541.9" r="3.2"/><circle cx="224.2" cy="530.5" r="3"/><circle cx="175.2" cy="458.3" r="2.9"/><circle cx="181.2" cy="444.1" r="2.4"/><circle cx="270.7" cy="622.4" r="2.4"/><circle cx="269.2" cy="567.7" r="3"/><circle cx="178.5" cy="500.8" r="3.2"/><circle cx="244.9" cy="562.6" r="3.1"/><circle cx="263.9" cy="615.5" r="2.4"/><circle cx="228.7" cy="505.1" r="2.4"/><circle cx="199.4" cy="512.3" r="3"/><circle cx="289.8" cy="598.1" r="2.9"/><circle cx="74.2" cy="482.8" r="2.8"/><circle cx="66.7" cy="497" r="2.8"/><circle cx="126.2" cy="457.9" r="2.6"/><circle cx="153" cy="460.2" r="3.2"/><circle cx="197.5" cy="500.6" r="2.4"/><circle cx="283.3" cy="588.5" r="2.6"/><circle cx="69.7" cy="489" r="3.2"/><circle cx="262.5" cy="571.2" r="3.1"/><circle cx="243.7" cy="531.5" r="3.1"/><circle cx="291.1" cy="576.3" r="2.6"/><circle cx="183.3" cy="435.4" r="2.6"/><circle cx="55.2" cy="496.3" r="3.2"/><circle cx="196.6" cy="485.7" r="2.7"/><circle cx="201.6" cy="479.8" r="2.5"/><circle cx="127.8" cy="445" r="2.9"/><circle cx="247.4" cy="542.4" r="2.6"/><circle cx="134.1" cy="452.5" r="2.2"/><circle cx="144.4" cy="471.1" r="2.6"/><circle cx="281.8" cy="622.2" r="2.7"/><circle cx="190.6" cy="467.5" r="3.1"/><circle cx="232.1" cy="537" r="2.7"/><circle cx="228.6" cy="523" r="3.1"/><circle cx="169.6" cy="451.1" r="2.3"/><circle cx="139.7" cy="443.7" r="2.7"/><circle cx="272.5" cy="585.1" r="2.8"/><circle cx="217.3" cy="497.9" r="2.5"/><circle cx="231.4" cy="495.7" r="3.1"/><circle cx="133.6" cy="433" r="2.3"/><circle cx="84.6" cy="469.5" r="2.2"/><circle cx="62.5" cy="488.9" r="2.4"/><circle cx="288.3" cy="607.9" r="2.3"/><circle cx="268.6" cy="576.5" r="2.2"/><circle cx="93.7" cy="467" r="3"/><circle cx="58.3" cy="463.9" r="2.9"/><circle cx="73" cy="461.2" r="2.2"/><circle cx="291.7" cy="562.8" r="2.9"/><circle cx="201.2" cy="470" r="2.3"/><circle cx="180.9" cy="483.4" r="2.2"/><circle cx="117.7" cy="445.5" r="2.8"/><circle cx="257.1" cy="525" r="2.3"/><circle cx="156.4" cy="452.1" r="2.9"/><circle cx="273" cy="612.9" r="3"/><circle cx="182.5" cy="462" r="3"/><circle cx="51.7" cy="471.8" r="2.8"/><circle cx="235.2" cy="529.1" r="2.7"/><circle cx="54.5" cy="478.6" r="2.5"/><circle cx="259.9" cy="539.1" r="3.1"/><circle cx="83.8" cy="483.8" r="2.4"/><circle cx="113.4" cy="468.4" r="2.4"/><circle cx="50.2" cy="503.9" r="3.1"/><circle cx="147.2" cy="442.7" r="2.5"/><circle cx="285.7" cy="554.7" r="2.6"/><circle cx="123.2" cy="490" r="3"/><circle cx="116" cy="454.7" r="2.8"/><circle cx="100.5" cy="481.5" r="3"/><circle cx="218.5" cy="479.1" r="2.5"/><circle cx="167.3" cy="438.3" r="2.3"/><circle cx="109.7" cy="444.2" r="3.1"/><circle cx="285.5" cy="569.4" r="2.9"/><circle cx="101.1" cy="449.8" r="2.4"/><circle cx="163.5" cy="460.3" r="2.3"/><circle cx="289.2" cy="584.4" r="2.9"/><circle cx="252.4" cy="532.9" r="2.3"/><circle cx="127.1" cy="429.4" r="2.6"/><circle cx="293.6" cy="552.5" r="3"/><circle cx="246.1" cy="494.2" r="2.7"/><circle cx="237.8" cy="506.3" r="2.4"/><circle cx="266.6" cy="523.4" r="2.3"/><circle cx="257.4" cy="516.9" r="2.6"/><circle cx="256.2" cy="493" r="3.2"/><circle cx="225.4" cy="465.6" r="2.4"/><circle cx="136.8" cy="424.3" r="2.2"/><circle cx="43.3" cy="484.7" r="2.5"/><circle cx="163" cy="445.3" r="3.2"/><circle cx="241.7" cy="511.7" r="2.9"/><circle cx="252" cy="503.8" r="2.6"/><circle cx="237.4" cy="483.4" r="2.6"/><circle cx="265.3" cy="534.4" r="2.4"/><circle cx="153.5" cy="435" r="2.6"/><circle cx="189.7" cy="443.2" r="3"/><circle cx="42.6" cy="475.7" r="3"/><circle cx="270.1" cy="544.5" r="2.2"/><circle cx="194.2" cy="435.5" r="2.7"/><circle cx="294.8" cy="544.4" r="3.2"/><circle cx="252.2" cy="477.8" r="3.2"/><circle cx="240.4" cy="471.9" r="3"/><circle cx="225.1" cy="473.2" r="3.2"/><circle cx="141.6" cy="433.3" r="2.3"/><circle cx="277" cy="549" r="2.4"/><circle cx="205.7" cy="458.9" r="2.6"/><circle cx="106.4" cy="430.9" r="2.5"/><circle cx="91.1" cy="457.9" r="2.7"/><circle cx="284.5" cy="543.1" r="2.6"/><circle cx="218.2" cy="454.5" r="2.3"/><circle cx="186.4" cy="450.7" r="3.2"/><circle cx="93.2" cy="431.6" r="2.7"/><circle cx="71" cy="451.7" r="2.5"/><circle cx="100.4" cy="459.4" r="2.2"/><circle cx="185.1" cy="428" r="2.6"/><circle cx="87.7" cy="450.4" r="2.8"/><circle cx="294" cy="590.6" r="3"/><circle cx="271.7" cy="515.9" r="2.6"/><circle cx="150.5" cy="423.2" r="3"/><circle cx="46.3" cy="465.2" r="2.6"/><circle cx="286.1" cy="531.4" r="2.9"/><circle cx="192.6" cy="425.5" r="2.5"/><circle cx="255.5" cy="467.5" r="2.4"/><circle cx="83.4" cy="425.4" r="2.5"/><circle cx="284.3" cy="518.2" r="2.3"/><circle cx="175.8" cy="437.6" r="2.4"/><circle cx="81.9" cy="456.7" r="3.1"/><circle cx="159.3" cy="413" r="3.2"/><circle cx="190.7" cy="457.1" r="3.1"/><circle cx="264.8" cy="486.4" r="2.2"/><circle cx="196.9" cy="447.2" r="2.9"/><circle cx="202.9" cy="442.2" r="3.1"/><circle cx="199.7" cy="431.4" r="2.8"/><circle cx="225.2" cy="443.9" r="2.5"/><circle cx="263.6" cy="460.8" r="2.5"/><circle cx="268.9" cy="507.9" r="2.7"/><circle cx="92.9" cy="421.5" r="2.6"/><circle cx="280.7" cy="499.2" r="2.3"/><circle cx="104.9" cy="419.8" r="2.4"/><circle cx="277.2" cy="509.3" r="2.2"/><circle cx="251.9" cy="458" r="2.5"/><circle cx="116.8" cy="424.1" r="3"/><circle cx="225.6" cy="431.3" r="2.4"/><circle cx="262.9" cy="478.9" r="3.2"/><circle cx="202.6" cy="417.5" r="3.1"/><circle cx="216.5" cy="421" r="2.3"/><circle cx="284.5" cy="507.6" r="2.4"/><circle cx="162.2" cy="424.7" r="2.9"/><circle cx="295.4" cy="498.8" r="2.3"/><circle cx="238.8" cy="492.1" r="2.5"/><circle cx="268.4" cy="470.8" r="2.4"/><circle cx="167" cy="417.3" r="3"/><circle cx="174.7" cy="410.3" r="2.7"/><circle cx="258.7" cy="501.1" r="3.2"/><circle cx="274.9" cy="461.3" r="2.7"/><circle cx="277.7" cy="480.8" r="2.8"/><circle cx="64.5" cy="424.9" r="3"/><circle cx="278" cy="472.4" r="2.4"/><circle cx="254.5" cy="449.6" r="2.2"/><circle cx="118.1" cy="409.7" r="3.1"/><circle cx="263.4" cy="452.3" r="3"/><circle cx="168.4" cy="405.2" r="2.9"/><circle cx="114.7" cy="415.6" r="2.6"/><circle cx="93.9" cy="410.4" r="2.6"/><circle cx="201.6" cy="404.2" r="2.7"/><circle cx="266.9" cy="443.1" r="2.4"/><circle cx="292.5" cy="481.3" r="2.5"/><circle cx="289.7" cy="523.7" r="2.4"/><circle cx="79.5" cy="445" r="2.2"/><circle cx="285.3" cy="469.3" r="3.1"/><circle cx="209.5" cy="407.1" r="2.6"/><circle cx="290.1" cy="515.3" r="2.3"/><circle cx="107" cy="405.2" r="2.5"/><circle cx="129.2" cy="421.4" r="2.9"/><circle cx="231.7" cy="424.7" r="2.7"/><circle cx="40.9" cy="446.5" r="3"/><circle cx="237" cy="443.2" r="2.5"/><circle cx="294.7" cy="468.4" r="3"/><circle cx="285" cy="451.2" r="2.4"/><circle cx="64.4" cy="435.2" r="2.7"/><circle cx="58.6" cy="428.7" r="2.2"/><circle cx="228" cy="417.5" r="2.2"/><circle cx="81" cy="419.3" r="3"/><circle cx="259.3" cy="429.8" r="2.3"/><circle cx="247.9" cy="437.3" r="3"/><circle cx="294.7" cy="442.5" r="2.6"/><circle cx="248" cy="421.8" r="2.4"/><circle cx="220.9" cy="404.6" r="3.2"/><circle cx="265" cy="586.8" r="2.3"/><circle cx="93.3" cy="388.9" r="2.3"/><circle cx="244.5" cy="408.9" r="3"/><circle cx="287.6" cy="443.5" r="2.4"/><circle cx="213.9" cy="399.4" r="2.7"/><circle cx="166.6" cy="395.9" r="2.7"/><circle cx="219.4" cy="393.7" r="2.2"/><circle cx="238.8" cy="433.5" r="2.5"/><circle cx="87.7" cy="414.8" r="2.5"/><circle cx="240.7" cy="424.6" r="2.7"/><circle cx="212" cy="391.8" r="2.6"/><circle cx="233.8" cy="460.9" r="3.1"/><circle cx="86.3" cy="433" r="2.3"/><circle cx="234.1" cy="412.5" r="2.5"/><circle cx="179.9" cy="401.5" r="2.5"/><circle cx="106.1" cy="385.4" r="2.8"/><circle cx="135" cy="411" r="2.7"/><circle cx="230.4" cy="392.6" r="2.4"/><circle cx="123.4" cy="397.5" r="3"/><circle cx="225" cy="385.2" r="2.8"/><circle cx="72.6" cy="419.1" r="3.1"/><circle cx="262.6" cy="406.9" r="2.7"/><circle cx="46.5" cy="441.5" r="2.5"/><circle cx="129.3" cy="404.9" r="3"/><circle cx="279.4" cy="432.8" r="2.9"/><circle cx="75.4" cy="411.7" r="2.7"/><circle cx="84.1" cy="407.6" r="2.6"/><circle cx="202.1" cy="395.5" r="2.4"/><circle cx="102" cy="378.8" r="3.1"/><circle cx="187.2" cy="390.4" r="2.6"/><circle cx="148.7" cy="389.3" r="2.3"/><circle cx="56.1" cy="416.2" r="3.2"/><circle cx="107.4" cy="395.3" r="3.1"/><circle cx="216.2" cy="384.6" r="3"/><circle cx="221.2" cy="375.8" r="2.2"/><circle cx="230.4" cy="440.1" r="2.5"/><circle cx="172.1" cy="383.6" r="2.8"/><circle cx="101.7" cy="412.1" r="2.8"/><circle cx="135.2" cy="396.7" r="2.6"/><circle cx="42" cy="432.5" r="2.3"/><circle cx="142.5" cy="404.1" r="2.8"/><circle cx="284.2" cy="427.3" r="2.3"/><circle cx="232.9" cy="377.7" r="2.9"/><circle cx="107.3" cy="371.5" r="2.4"/><circle cx="48.2" cy="413.9" r="2.9"/><circle cx="136" cy="384.9" r="2.6"/><circle cx="174.2" cy="395.2" r="2.8"/><circle cx="150.9" cy="375.4" r="3.2"/><circle cx="253.4" cy="408.1" r="2.6"/><circle cx="273.1" cy="404.8" r="2.2"/><circle cx="261.2" cy="394.7" r="2.9"/><circle cx="273.5" cy="443" r="2.9"/><circle cx="294.8" cy="489.2" r="2.9"/><circle cx="252.5" cy="386.2" r="2.3"/><circle cx="294.5" cy="419.2" r="2.4"/><circle cx="274" cy="394.6" r="2.9"/><circle cx="267.6" cy="435.5" r="3.2"/><circle cx="243.6" cy="402.5" r="3.1"/><circle cx="208.4" cy="382.9" r="2.9"/><circle cx="272.4" cy="426.3" r="2.9"/><circle cx="253.7" cy="396.9" r="2.7"/><circle cx="146.1" cy="396.1" r="2.8"/><circle cx="66.7" cy="409.7" r="3"/><circle cx="238.1" cy="393.9" r="3"/><circle cx="92.8" cy="377" r="2.4"/><circle cx="212.2" cy="370.4" r="3"/><circle cx="128.5" cy="383.5" r="2.3"/><circle cx="285" cy="478.6" r="2.7"/><circle cx="277" cy="412.7" r="2.9"/><circle cx="74.7" cy="399" r="2.3"/><circle cx="198.2" cy="379.9" r="2.7"/><circle cx="57.8" cy="402.7" r="2.7"/><circle cx="40.7" cy="409.6" r="2.7"/><circle cx="39.9" cy="401.4" r="2.7"/><circle cx="262.2" cy="383" r="2.7"/><circle cx="112.8" cy="379.5" r="2.7"/><circle cx="128.9" cy="371.8" r="2.2"/><circle cx="86.9" cy="385.3" r="2.4"/><circle cx="178.2" cy="387.6" r="2.4"/><circle cx="287.2" cy="411.3" r="2.8"/><circle cx="182.5" cy="371.4" r="3.2"/><circle cx="282.7" cy="405.8" r="2.2"/><circle cx="195.3" cy="372.6" r="2.4"/><circle cx="292.7" cy="396.4" r="2.7"/><circle cx="63.5" cy="386" r="2.4"/><circle cx="293" cy="506.6" r="2.4"/><circle cx="128.5" cy="391" r="3.2"/><circle cx="77.8" cy="381" r="2.9"/><circle cx="66.5" cy="398.1" r="2.4"/><circle cx="82.7" cy="373.7" r="2.2"/><circle cx="53.4" cy="393.1" r="3.1"/><circle cx="273.3" cy="372.5" r="2.6"/><circle cx="83" cy="395.7" r="3.1"/><circle cx="143.7" cy="380.9" r="2.3"/><circle cx="43.8" cy="391" r="2.4"/><circle cx="58.2" cy="378.6" r="3"/><circle cx="283.4" cy="392.5" r="2.9"/><circle cx="252.7" cy="377.2" r="2.3"/><circle cx="241" cy="382.3" r="2.7"/><circle cx="281" cy="380.5" r="2.4"/><circle cx="40.9" cy="384.2" r="3.2"/><circle cx="100.5" cy="390.4" r="3.1"/><circle cx="289.1" cy="376.2" r="2.4"/><circle cx="47.7" cy="373.1" r="2.4"/><circle cx="51.3" cy="384.3" r="2.9"/><circle cx="251.6" cy="429" r="2.9"/><circle cx="62.1" cy="372.5" r="3"/>
</g></g></g>
<filter id="tx4" filterUnits="userSpaceOnUse" x="293.0" y="372.5" width="252.0" height="249.0" color-interpolation-filters="sRGB">
<feGaussianBlur in="SourceGraphic" stdDeviation="0.7" result="s0"/>
<feTurbulence type="fractalNoise" baseFrequency="0.2" numOctaves="2" seed="50" result="t3"/>
<feDisplacementMap in="s0" in2="t3" scale="3" xChannelSelector="R" yChannelSelector="G" result="src"/>
<feTurbulence type="fractalNoise" baseFrequency="0.03" numOctaves="2" seed="47" result="t1"/>
<feColorMatrix in="t1" type="matrix" values="1 0 0 0 0 1 0 0 0 0 1 0 0 0 0 0 0 0 0 1" result="n1"/>
<feTurbulence type="fractalNoise" baseFrequency="0.9" numOctaves="1" seed="54" result="t2"/>
<feColorMatrix in="t2" type="matrix" values="0 1 0 0 0 0 1 0 0 0 0 1 0 0 0 0 0 0 0 1" result="n2"/>
<feComposite in="src" in2="n1" operator="arithmetic" k1="0.5" k2="0.75" k3="0" k4="0" result="h1"/>
<feComposite in="h1" in2="n2" operator="arithmetic" k1="0.8" k2="0.6" k3="0.16" k4="-0.08" result="h2"/>
<feComponentTransfer in="h2"><feFuncR type="table" tableValues="0 0 0 0 0 0 0 0 0 0 0 0 0 0 0.015 0.041 0.092 0.272 0.452 0.617 0.777 0.856 0.909 0.962 1 1 1 1 1 1 1 1 1 1 1 1 1 1 1 1 1"/><feFuncG type="table" tableValues="0 0 0 0 0.007 0.042 0.138 0.328 0.513 0.646 0.779 0.88 0.935 0.939 0.939 0.936 0.938 0.965 0.992 1 1 1 1 1 0.962 0.827 0.692 0.593 0.527 0.461 0.395 0.296 0.312 0.413 0.517 0.645 0.763 0.825 0.887 0.947 1"/><feFuncB type="table" tableValues="0 0.224 0.448 0.685 0.892 0.959 1 1 1 1 1 1 0.95 0.835 0.704 0.56 0.423 0.32 0.217 0.119 0.023 0 0 0 0 0 0 0 0 0 0 0 0.091 0.243 0.4 0.592 0.763 0.825 0.887 0.947 1"/></feComponentTransfer>
</filter>
<clipPath id="ic4"><rect x="299.0" y="378.5" width="240.0" height="237.0"/></clipPath>
<g clip-path="url(#ic4)"><g filter="url(#tx4)">
<rect x="293.0" y="372.5" width="252.0" height="249.0" fill="rgb(144,144,144)"/>
<path d="M295,379.6 296.1,378.8M296.8,374.5 296.1,378.8M534.6,374.5 535.6,379.8M518.6,374.5 516.9,377.4M516.9,377.4 520.1,385.3M520.1,385.3 529.1,385.8M535.6,379.8 529.1,385.8M535.6,379.8 543,379.7M295,430.3 295.5,431.7M295,432.6 295.5,431.7M516.9,377.4 511.5,374.5M509.7,429.7 503.4,421.9M509.7,429.7 518.4,424.9M518.4,424.9 519.9,409.4M519.9,409.4 503.7,412.4M503.7,412.4 503.4,421.9M515.2,391.6 520.1,385.3M515.2,391.6 505.1,393M509.1,374.5 496.9,379.4M505.1,393 496.9,379.4M493.7,374.5 493.6,378.2M493.6,378.2 496.9,379.4M518.2,511.8 517.7,516.8M518.2,511.8 510.6,501.2M517.7,516.8 509,521.2M498.1,514.8 509,521.2M498.1,514.8 501,500.1M510.6,501.2 501,500.1M543,447.2 532,443M532,443 529.9,457.9M529.9,457.9 535.8,462.3M543,461.4 535.8,462.3M521.9,408.8 533.9,417.6M521.9,408.8 531.2,403.8 537.1,398.3M533.9,417.6 543,408.3M543,407.7 538.3,398.7M538.3,398.7 537.1,398.3M515.2,391.6 520.6,408.8M529.1,385.8 537.1,398.3M520.6,408.8 521.9,408.8M543,395.8 538.3,398.7M543,430 530.5,440.9M543,427 534.4,420.6M534.4,420.6 526.2,428M526.2,428 529.2,440.3M529.2,440.3 530.5,440.9M532,443 530.5,440.9M533.9,417.6 534.4,420.6M518.4,424.9 526.2,428M519.9,409.4 520.6,408.8M520.4,442.3 509.1,435.3M520.4,442.3 529.2,440.3M509.7,429.7 509.1,435.3M516.7,452.3 520.4,442.3M516.7,452.3 523.5,458.9M523.5,458.9 529.9,457.9M295.1,501.9 301.2,493.3M301.2,493.3 295,489.4M295.8,463.8 297.1,474M295.8,463.8 295,463.8M295,475.8 297.1,474M295.1,501.9 296.7,509.9M296.7,509.9 295,512.1M295,519.4 297.6,525.7M295,528.6 297.6,525.7M538.8,579.1 535,562.4M538.8,579.1 543,576.8M543,562.6 535.7,561.3M535,562.4 535.7,561.3M343.9,619.5 343.1,618.2M365.2,619.5 366.2,617.5M366.2,617.5 364.5,613M364.5,613 350.4,607.8M343.1,618.2 350.4,607.8M334,619.5 334.8,617.4M334.8,617.4 343.1,618.2M370,599.7 364.5,613M370,599.7 360.9,592M350.4,607.8 348.5,600.8M348.5,600.8 360.9,592M426,615.5 426.8,603.8M426,615.5 421.4,619.5M415.7,599.9 426.8,603.8M415.7,599.9 412.2,600.9M412.2,600.9 409.5,604.5M409.5,604.5 410.6,616.7M414,619.5 410.6,616.7M426,615.5 435.3,619.5M456.7,490.9 458.4,498.6M456.7,490.9 469.3,482.1M458.4,498.6 466.9,502M469.3,482.1 474.4,491.9M474.4,491.9 466.9,502M509.1,435.3 498.9,443.5M503.4,421.9 496.3,424.8 486.1,428.3M486.1,428.3 495.8,442.6M498.9,443.5 495.8,442.6M471.9,442.6 473,444.6M471.9,442.6 478.4,434.8 486,428.3M473,444.6 486.2,448.7M495.8,442.6 486.2,448.7M296.1,378.8 307.1,386.6M307.1,386.6 317.4,374.7M376.3,374.5 379.6,378.4M386.8,374.5 379.6,378.4M376.8,386.4 379.6,378.4M376.8,386.4 373.9,387.6M361,379.2 373.9,387.6M361,379.2 362.4,374.5M348.1,374.5 350.4,384.4M350.4,384.4 361,379.2M322.2,374.5 318.5,375.2M317.4,374.7 318.5,375.2M388.8,395.2 376.8,386.4M388.8,395.2 382.2,408.2M378.7,409.4 367.8,396.5M367.8,396.5 373.9,387.6M382.2,408.2 379,409.5M393.3,394.3 396.8,377.7M393.3,394.3 398.7,396.9M398.7,396.9 407.9,394.6M399.5,377.1 411.9,384.5M399.5,377.1 396.8,377.7M407.9,394.6 412.8,387.1M412.8,387.1 411.9,384.5M388.8,395.2 393.3,394.3M391.4,374.5 396.8,377.7M401.3,374.5 399.5,377.1M416.4,374.5 411.9,384.5M488,394.5 500.9,397.5M488,394.5 481.6,405M481.6,405 488.8,411M488.8,411 500.3,409.1M500.3,409.1 500.9,397.5M505.1,393 500.9,397.5M483.9,382.8 488,394.5M483.9,382.8 493.6,378.2M503.7,412.4 500.3,409.1M486,428.3 485.3,427.2M485.3,427.2 488.8,411M483.9,382.8 479,381.5M479,381.5 477.5,374.5M518.3,468.4 522.6,476.7M518.3,468.4 523.5,458.9M535.8,462.3 530.7,475.1M530.7,475.1 522.6,476.7M543,481 541.2,482.2M530.7,475.1 541.2,482.2M543,586.4 538.3,584.6M538.3,584.6 537.2,583.1M537.2,583.1 538.8,579.1M295,532.3 295.9,541.9M295.9,541.9 295,542.1M297.6,525.7 304.9,525.6M303.3,545.6 295.9,541.9M303.3,545.6 312.8,535.3M304.9,525.6 312.8,535.3M296.7,509.9 309.6,512M309.6,512 311.2,514M304.9,525.6 311.2,514M498.3,604.7 489.9,609M498.3,604.7 502.4,605.4M502.4,605.4 503.3,619.5M489.9,609 488,618.1M489.4,619.5 488,618.1M484.5,590.3 490.2,590.3M484.5,590.3 475.2,602.5M490.2,590.3 498.3,604.7M475.2,602.5 489.9,609M295,578.4 301.3,580.7M301.4,580.8 297.3,593.2M295,595 297.3,593.2M295,601.2 295.5,612.1M475.2,602.5 474.7,602.6M474.7,602.6 470.2,612.2M488,618.1 484.7,619.5M470.2,612.2 472.9,619.5M429.7,548.4 420.5,544.2M429.7,548.4 431.8,554.7M420.5,544.2 411.9,555.8M431.8,554.7 427.8,563.3M427.8,563.3 423.4,564.2M423.4,564.2 411.9,555.8M397.1,605.6 409.5,604.5M397.1,605.6 395.1,603.8M402.4,589.8 395.5,593.7M402.4,589.8 412.2,600.9M395.1,603.8 395.5,593.7M395.9,617.6 398.1,619.5M395.9,617.6 382.1,618.6M381.8,619.5 381.7,619M397.1,605.6 395.9,617.6M410.6,616.7 399.4,619.5M395.1,603.8 383.3,604.9M383.3,604.9 382.1,618.6M366.2,617.5 381.7,619M370,599.7 377.6,598.1M383.3,604.9 377.6,598.1M409.9,516.5 400.7,525.6M409.9,516.5 421.6,529.8M400.7,525.6 405.6,536.9M405.6,536.9 417.9,536.5M421.6,529.8 417.9,536.5M429.5,526.9 431.5,527.3M429.5,526.9 421.6,529.8M431.5,527.3 438,540.2M438,540.2 429.7,548.4M420.5,544.2 417.9,536.5M449.2,485.6 439.6,488.2M449.2,485.6 452.9,472.9M452.9,472.9 443.8,464.4M434.4,471.3 443.8,464.4M434.4,471.3 432.7,479.1M432.7,479.1 439.6,488.2M449.2,485.6 456.7,490.9M458.4,498.6 448.7,507.2M448.7,507.2 444.5,498.8 438,492.7M438,492.7 439.6,488.2M448.6,507.7 459.5,519.8M448.6,507.7 448.7,507.2M459.5,519.8 461.5,519.1M466.9,502 469.4,506.7M461.5,519.1 469.4,506.7M510.6,501.2 521.6,491.2M501,500.1 498.2,495.9M521.6,491.2 518.7,483.8M518.7,483.8 503.7,483M503.7,483 498.2,495.9M474.4,491.9 486.2,494.3M469.4,506.7 480.2,509.8M480.2,509.8 487,495.1M487,495.1 486.2,494.3M469.4,481.8 475.3,476.8M469.4,481.8 458.1,472.2M475.3,476.8 472.1,461.6M458.1,472.2 466.3,461.3M466.3,461.3 470.6,460.6M470.6,460.6 472.1,461.6M485.1,477.5 486.2,494.3M485.1,477.5 475.3,476.8M452.9,472.9 458.1,472.2M456.3,454.4 466.3,461.3M456.3,454.4 444.1,461M444.1,461 443.8,464.4M456.3,454.4 457.3,444.6M471.9,442.6 466.6,440.2M473,444.6 470.6,460.6M457.3,444.6 466.6,440.2M486.2,448.7 485,460.7M485,460.7 472.1,461.6M314.5,407.3 304.9,415M314.5,407.3 313.4,396.7M296.3,397.9 299.9,412.9M296.3,397.9 307.6,392.4M304.9,415 302.1,414.8M307.6,392.4 313.4,396.7M299.9,412.9 302.1,414.8M295,397.4 296.3,397.9M295,412.7 299.9,412.9M307.1,386.6 307.6,392.4M295,425 302.1,414.8M309.9,436.1 295.5,431.7M309.9,436.1 312.8,427.6M312.8,427.6 304.9,415M326.4,390.6 313.4,396.7M326.4,390.6 318.5,375.2M378.7,409.4 362.8,415.7M379,409.5 380.8,420 379.9,428.3M379.9,428.3 363,425.6M363,425.6 362.8,415.7M367.8,396.5 364.9,397.3M364.9,397.3 358.4,410.5M362.8,415.7 358.4,410.5M309.9,436.1 310.8,439.7M295,448.5 297.9,450.4M310.8,439.7 308.8,444.1M308.8,444.1 297.9,450.4M295.8,463.8 298.1,461.1M298.1,461.1 297.9,450.4M457.4,374.5 457.3,375.2M457.3,375.2 451.1,378.5M451.1,378.5 436.7,374.5M527.2,532.1 539.6,535.6M527.2,532.1 523.8,535.8M523.8,535.8 524.5,547.2M539.6,535.6 535.9,551.5M524.5,547.2 535.7,551.8M526.3,522 535.7,517.4M526.3,522 527.2,532.1M535.7,517.4 543,524.5M543,533.9 539.6,535.6M517.7,516.8 526.3,522M509,521.2 507.6,534.2M507.6,534.2 523.8,535.8M543,550.5 535.9,551.5M535.7,561.3 535.7,551.8M540.5,486.7 528,495.4M540.5,486.7 543,490M543,503.5 540.6,507.4M529.6,501.3 538.7,508M529.6,501.3 528,495.4M538.7,508 540.6,507.4M521.6,491.2 528,495.4M518.7,483.8 522.6,476.7M541.2,482.2 540.5,486.7M543,508.4 540.6,507.4M518.2,511.8 529.6,501.3M535.7,517.4 538.7,508M298.6,559.7 304.4,550.8M298.6,559.7 304.5,569.8M304.4,550.8 318.3,556.6M304.5,569.8 318.7,565.7M318.3,556.6 318.7,565.7M303.3,545.6 304.4,550.8M295,560.2 298.6,559.7M301.3,580.7 304.5,569.8M301.4,580.8 317.9,585M317.9,585 323.5,571.2M323.5,571.2 318.7,565.7M315.2,535.2 323.1,522.3M315.2,535.2 324.8,542M324.8,542 331.3,538.6M331.3,538.6 333.9,527.6M333.9,527.6 323.1,522.3M321.2,515.7 311.2,514M321.2,515.7 323.1,522.3M312.8,535.3 315.2,535.2M324.4,551.1 324.8,542M324.4,551.1 318.3,556.6M324.4,551.1 338.4,557.1M338.4,557.1 345.9,545.1M345.9,545 331.3,538.6M340.9,524.3 351.1,533.8M340.9,524.3 333.9,527.6M351.1,533.8 345.9,545M340.9,524.3 342.5,515.2M342.5,515.2 338.8,511M338.8,511 324.7,511.7M324.7,511.7 321.2,515.7M478.4,581.6 482.5,570.1M478.4,581.6 466.8,583.8M482.5,570.1 472.9,568.7 464,565.5M466.8,583.8 465.8,583.1M465.8,583.1 463,566.5M463,566.5 464,565.5M484.5,590.3 478.4,581.6M474.7,602.6 468.4,597.2M468.4,597.2 466.8,583.8M507.6,534.2 505.7,536.5M505.7,536.5 505,544.5M524.5,547.2 519.6,550.1M519.6,550.1 505,544.5M516,619.5 519.8,611.4M502.4,605.4 507.3,603.1M519.8,611.4 507.3,603.1M339.6,563.1 353.3,566.5M339.6,563.1 334,570.8M334,570.8 340.4,583.9M353.3,566.5 350,580.9M350,580.9 340.4,583.9M338.4,557.1 339.6,563.1M345.9,545.1 361,554.7M361,554.7 355.1,565.7M355.1,565.7 353.3,566.5M323.5,571.2 334,570.8M348.5,600.8 343.3,597.8M360.9,592 360.6,586.4M360.6,586.4 350,580.9M343.3,597.8 339.8,585.2M339.8,585.2 340.4,583.9M295.5,612.1 299.9,615M302,619.5 299.9,615M468.4,597.2 454.1,598.8M470.2,612.2 455.1,612.5M454.1,598.8 455.1,612.5M437.5,619.5 444,613.7M427.9,603.2 426.8,603.8M427.9,603.2 438.5,603.9M438.5,603.9 444,613.7M453.4,619.5 452.9,614.8M444,613.7 452.9,614.8M452.9,614.8 455.1,612.5M447.1,570.6 437.5,572.7M447.1,570.6 452.2,586.2M437.5,572.7 431.4,584.1M452.2,586.2 448.6,593.2M432.1,585.3 431.4,584.1M432.1,585.3 440.3,588.1 448.3,593.3M447.3,570.3 444.9,555.7M444.9,555.7 431.8,554.7M427.8,563.3 437.5,572.7M447.3,570.3 463,566.5M465.8,583.1 452.2,586.2M454.1,598.8 448.6,593.2M415.7,599.9 419.2,582.3M427.9,603.2 429.8,592.6 432.1,585.3M419.2,582.3 431.4,584.1M438.5,603.9 448.3,593.3M442.7,511.8 430.6,508.1M442.7,511.8 448.6,507.7M438,492.7 433.2,496M433.2,496 430.6,508.1M440.1,523.3 431.5,527.3M440.1,523.3 442.7,511.8M429.5,526.9 427,510.2M430.6,508.1 427,510.2M382.2,408.2 389.1,414.2 398.9,416.9M379.9,428.3 391.1,427.6M391.1,427.6 398.9,416.9M398.7,396.9 398.8,408 400.7,416.1M400.7,416.1 398.9,416.9M417.9,441.6 433.2,440.3M417.9,441.6 415.5,454.6M418.7,460 428.5,456.7 437.5,451.1M418.7,460 415.5,454.6M433.2,440.3 437.6,447.3M437.5,451.1 437.6,447.3M418.7,460.9 425.2,466 434.4,471.3M418.7,460.9 418.7,460M444.1,461 437.5,451.1M457.3,444.6 451.6,441.7M451.6,441.7 437.6,447.3M498.1,514.8 497.4,515.1M498.2,495.9 487,495.1M497.4,515.1 480.4,510.1M491.2,465.8 502.7,452.4M491.2,465.8 492.7,472M492.7,472 499.5,475.2M499.5,475.2 509.8,466.1M509.8,466.1 507.1,454.9M507.1,454.9 502.7,452.4M498.9,443.5 502.7,452.4M485,460.7 491.2,465.8M485.1,477.5 492.7,472M503.7,483 499.5,475.2M518.3,468.4 509.8,466.1M516.7,452.3 507.1,454.9M451.6,441.7 449.1,430.3M434.2,436.4 433.2,440.3M434.2,436.4 446.4,428.8M449.1,430.3 446.4,428.8M428.9,425 434.2,436.4M428.9,425 441.1,414.9M442.4,415.2 446.4,428.8M441.1,414.9 442.1,415M481.6,405 474,405.4M479,381.5 470.8,386M474,405.4 470.5,397.1 470.8,386M457.3,375.2 467.7,385.7M451.1,378.5 448.1,394.4M450.6,397 448.1,394.4M450.6,397 454,397.4M454,397.4 459.4,392 467.7,385.7M470.8,386 467.7,385.7M324.9,424.2 326,422.3M324.9,424.2 332,438.8M326,422.3 342,419.3M332,438.8 339,437.7M339,437.7 346,428.2M346,428.2 342,419.3M312.8,427.6 324.9,424.2M323.3,410.4 326,422.3M323.3,410.4 314.5,407.3M328.8,442.3 321.7,439.8 310.8,439.7M328.8,442.3 332,438.8M345.8,446.1 361.4,443.5M345.8,446.1 339,437.7M361.4,443.5 358.7,430.1M358.7,430.1 346,428.2M333.2,403.9 344,410.5M333.2,403.9 331.6,392.1M331.6,392.1 338.3,387.2M346.9,409 344,410.5M346.9,409 348.1,397.5 350.8,389.9M338.3,387.2 349.1,386.7M349.1,386.7 350.8,389.9M323.3,410.4 333.2,403.9M342,419.3 344,410.5M326.4,390.6 331.6,392.1M333.7,374.5 338.3,387.2M358.7,430.1 363,425.6M358.4,410.5 346.9,409M364.9,397.3 350.8,389.9M350.4,384.4 349.1,386.7M432.7,479.1 419.4,482.2M433.2,496 422.3,494.1M419.4,482.2 422.3,494.1M379.9,428.3 377.5,445.2M397.8,441.2 387.7,447.4M397.8,441.2 398.4,439.7M398.4,439.7 391.1,427.6M387.7,447.4 377.5,445.2M361.4,443.5 362.5,444.7M362.5,444.7 377.3,445.3M362.5,444.7 359.8,457.5M375.4,465.1 376.2,454.1 377.3,445.3M375.4,465.1 362.5,462.5M362.5,462.5 359.8,457.5M345.8,446.1 343.7,458M359.8,457.5 343.7,458M449.1,550 459.9,550.4M449.1,550 444.5,541.4M459.9,550.4 463,537.4M444.5,541.4 453.3,529.5M463,537.4 454.9,529.1M453.3,529.5 454.9,529.1M444.9,555.7 449.1,550M464,565.5 464.5,555.7M464.5,555.7 459.9,550.4M438,540.2 444.5,541.4M440.1,523.3 453.3,529.5M459.5,519.8 454.9,529.1M470,536.2 478.8,544.6M470,536.2 476.8,525.3M485,542.1 488.5,530.5M485,542.1 478.8,544.6M476.8,525.3 477.9,524.9M477.9,524.9 488.2,529.8M488.5,530.5 488.2,529.8M464.5,555.7 476,551.4M476,551.4 478.8,544.6M463,537.4 470,536.2M461.5,519.1 476.8,525.3M505.7,536.5 496.6,535 488.5,530.5M494.3,549.4 503.2,546.8M494.3,549.4 485,542.1M505,544.5 503.2,546.8M480.4,510.1 477.9,524.9M497.4,515.1 488.2,529.8M519.6,550.1 516.8,564.8M503.2,546.8 507.3,557 508.3,566.3M508.3,566.3 516.8,564.8M521.7,592.2 508.7,599.5M521.7,592.2 523.7,584.8M508.7,599.5 505.8,590.8 503.7,580.7M503.7,580.7 511.9,582.8 523.7,584.8M535,562.4 520.6,566.7M520.6,566.7 516.8,564.8M537.2,583.1 525.4,583.3M520.6,566.7 525.4,583.3M527.8,601.4 523.4,610.8M527.8,601.4 536.9,599.6M523.4,610.8 532.7,617.8M541.2,603.5 541.1,615.2M541.2,603.5 536.9,599.6M532.7,617.8 541.1,615.3M519.8,611.4 523.4,610.8M521.7,592.2 527.8,601.4M507.3,603.1 508.7,599.5M538.3,584.6 536.9,599.6M525.4,583.3 523.7,584.8M532.1,619.5 532.7,617.8M543,614.9 541.1,615.2M543,602.7 541.2,603.5M411.9,555.8 409.8,556.2M405.6,536.9 398.9,544.9M398.9,544.9 400.4,550.5M409.8,556.2 400.4,550.5M320.8,590.8 312,600.5M321.2,590.9 331,604.1M312,600.5 312,602.9M312,602.9 322.2,613.6M331,604.1 329.1,612.1M329.1,612.1 322.2,613.6M317.9,585 320.8,590.8M339.8,585.2 331.1,588.4 321.2,590.9M297.3,593.2 312,600.5M343.3,597.8 331,604.1M299.9,615 312,602.9M317.5,619.5 322.2,613.6M334.8,617.4 329.1,612.1M400.7,525.6 393.7,524.9M398.9,544.9 384.4,538.9M393.7,524.9 384.1,532.7M384.4,538.9 384.1,532.7M351.1,533.8 360,531M356.2,512.2 342.5,515.2M356.2,512.2 357.7,519.1 360.8,529.8M360,531 360.8,529.8M393.7,524.9 388.9,508.4M384.1,532.7 375,524.3M375,524.3 375.9,514.4M388.9,508.4 375.9,514.4M356.2,512.2 368.1,508.1M375,524.3 360.8,529.8M368.1,508.1 375.9,514.4M412.8,434.8 422.1,423.3M412.3,434.7 406.1,423.7 401.2,416.2M422.1,423.3 417.3,410.9M417.3,410.9 401.2,416.2M428.9,425 422.1,423.3M417.9,441.6 412.8,434.8M397.8,441.2 404.5,453.3M404.5,453.3 415.5,454.6M398.4,439.7 412.3,434.7M418,409.5 417.3,410.9M418,409.5 427.6,404M441.1,414.9 427.6,404M418,409.5 407.9,394.6M464.1,428.8 460.4,426.9M464.1,428.8 473.9,422M460.4,426.9 457.6,415.7M473.9,422 470.6,408.2M457.6,415.7 464.3,408.1M470.6,408.2 464.3,408.1M466.6,440.2 464.1,428.8M449.1,430.3 460.4,426.9M485.3,427.2 473.9,422M442.4,415.2 457.6,415.7M474,405.4 470.6,408.2M442.1,415 446.7,407.9 450.6,397M454,397.4 464.3,408.1M422.6,389.2 432,377.4M422.6,389.2 428.6,399.8M428.6,399.8 440.5,392.8M440.5,392.8 433.9,377M432,377.4 433.9,377M426.1,374.5 432,377.4M412.8,387.1 422.6,389.2M427.6,404 428.6,399.8M448.1,394.4 440.5,392.8M436.5,374.5 433.9,377M387.7,447.4 391.6,458.6M375.4,465.1 376.8,466.7M376.8,466.7 382.7,467.7M382.7,467.7 391.6,458.6M404.5,453.3 397.9,459.7M397.9,459.7 391.6,458.6M427,510.2 413.8,507.1M422.3,494.1 413.6,504M413.8,507.1 413.6,504M409.9,516.5 410.1,512.2M413.8,507.1 410.1,512.2M388.9,508.4 389.5,507.5M410.1,512.2 401.7,510.7 389.5,507.5M356.2,512.2 352.3,499.2M338.8,511 339.8,498.2M352.3,499.2 340.4,497.6M339.8,498.2 340.4,497.6M507.4,567.1 503.6,580.6M507.4,567.1 496.9,566 489,561.7M483.3,569.6 486.8,562.9M483.3,569.6 490.7,575.7 499,581.5M499,581.5 503.6,580.6M486.8,562.9 489,561.7M508.3,566.3 507.4,567.1M494.3,549.4 489,561.7M482.5,570.1 483.3,569.6M476,551.4 486.8,562.9M490.2,590.3 499,581.5M423.4,564.2 416.1,576.9M409.8,556.2 405.7,567.7M405.7,567.7 416.1,576.9M419.2,582.3 416.4,579.6M402.4,589.8 403.6,584.8M403.6,584.8 416.4,579.6M416.4,579.6 416.1,576.9M352.3,499.2 359.1,491.7M368.1,508.1 368.9,499.7M368.9,499.7 359.1,491.7M376.8,466.7 370.1,480.6M356.9,471.6 362.5,462.5M356.9,471.6 364.9,481.6M370.1,480.6 364.9,481.6M389.5,507.5 389.5,506.6M368.9,499.7 380,492.2M389.5,506.6 380,492.2M359.1,491.7 358.9,489.5M358.9,489.5 364.9,481.6M370.1,480.6 380.4,490.1M380.4,490.1 380,492.2M383.8,539.5 368,544.4M383.8,539.5 382.5,556.1M382.5,556.1 373.6,559.5M373.6,559.5 364.7,553.4M364.7,553.4 368,544.4M384.4,538.9 383.8,539.5M360,531 368,544.4M400.4,550.5 390.8,560.6M390.8,560.6 382.5,556.1M361,554.7 364.7,553.4M395.5,593.7 383.4,588.1M377.6,598.1 382.6,588.5M382.6,588.5 383.4,588.1M360.6,586.4 368.7,577.8M382.6,588.5 368.7,577.8M355.1,565.7 368.8,576.5M373.6,559.5 374.1,569.9M374.1,569.9 368.8,576.5M368.7,577.8 368.8,576.5M399.7,569.7 397.7,578.6M399.7,569.7 391.3,563.6M391.3,563.6 384.8,571.7M384.8,571.7 388,580.4M397.7,578.6 388,580.4M405.7,567.7 399.7,569.7M403.6,584.8 397.7,578.6M390.8,560.6 391.3,563.6M374.1,569.9 384.8,571.7M383.4,588.1 388,580.4M391.7,478.3 403.4,472M391.7,478.3 390.9,482.5M390.9,482.5 401.1,492.8M403.4,472 411.1,473M404.7,493 401.1,492.8M404.7,493 414.3,479.8M411.1,473 414.3,479.8M382.7,467.7 391.7,478.3M397.9,459.7 403.4,472M380.4,490.1 390.9,482.5M389.5,506.6 393.9,499 401.1,492.8M418.7,460.9 411.1,473M413.6,504 404.7,493M419.4,482.2 414.3,479.8M301.2,493.3 306.1,491.9M297.1,474 308.7,480.8M308.7,480.8 306.1,491.9M309.6,512 310.9,496M306.1,491.9 310.9,496M324.7,511.7 323.2,496.6M310.9,496 323.2,496.6M339.8,498.2 323.8,496.2M323.2,496.6 323.8,496.2M308.8,444.1 317.9,458.9M298.1,461.1 310.9,463.8M317.9,458.9 310.9,463.8M308.7,480.8 311.7,478.4M310.9,463.8 311.7,478.4M326.2,484.9 319.9,478.4M326.2,484.9 323.8,496.2M311.7,478.4 319.9,478.4M328.8,442.3 328.5,451.6M343.7,458 341.4,460.2M341.4,460.2 328.5,451.6M317.9,458.9 319.1,459M319.9,478.4 326,468.8M326,468.8 319.1,459M328.5,451.6 319.1,459M336.6,481.8 333.7,469.1M336.6,481.8 341.7,484.4M345.8,482.7 341.7,484.4M345.8,482.7 350.3,472.7M350.3,472.7 341.1,462.1M341.1,462.1 333.7,469.1M326.2,484.9 336.6,481.8M326,468.8 333.7,469.1M340.4,497.6 341.7,484.4M358.9,489.5 345.8,482.7M356.9,471.6 350.3,472.7M341.4,460.2 341.1,462.1" fill="none" stroke="rgb(176,176,176)" stroke-width="3.2" stroke-linecap="round" stroke-linejoin="round" stroke-opacity="0.85"/>
<g fill="url(#bl4)">
<circle cx="379.7" cy="478.6" r="8.5"/><circle cx="378.2" cy="479.7" r="8.2"/><circle cx="381.4" cy="478.8" r="7.4"/><circle cx="366.5" cy="470.5" r="7.7"/><circle cx="364.3" cy="470.8" r="7.9"/><circle cx="356.9" cy="478.7" r="6.1"/><circle cx="355.7" cy="481.2" r="6.3"/><circle cx="353" cy="449.3" r="6.4"/><circle cx="354.6" cy="452.3" r="7.6"/><circle cx="377.8" cy="503.4" r="7.7"/><circle cx="375.4" cy="502.2" r="7.2"/><circle cx="350.8" cy="438.3" r="6.6"/><circle cx="350.2" cy="439" r="8.5"/><circle cx="349.8" cy="437.6" r="8.2"/><circle cx="341.6" cy="474" r="8.4"/><circle cx="341.6" cy="473.1" r="7.7"/><circle cx="342.2" cy="471.7" r="6.2"/><circle cx="358.5" cy="503.1" r="8.5"/><circle cx="360.5" cy="501.2" r="8.6"/><circle cx="369.1" cy="455" r="8"/><circle cx="368" cy="455.9" r="8.3"/><circle cx="368.1" cy="456.4" r="6.6"/><circle cx="334.1" cy="427" r="6.4"/><circle cx="334.8" cy="426" r="8.6"/><circle cx="370.1" cy="434.6" r="8.2"/><circle cx="372.2" cy="435" r="8"/><circle cx="371.4" cy="436.1" r="7.7"/><circle cx="352.6" cy="419.5" r="8.5"/><circle cx="352.5" cy="418.8" r="7.6"/><circle cx="386.8" cy="420.3" r="8.3"/><circle cx="386.1" cy="418.2" r="7.4"/><circle cx="387.8" cy="439.1" r="7.9"/><circle cx="385.8" cy="437.4" r="7.7"/><circle cx="365.2" cy="518.4" r="8"/><circle cx="365.2" cy="518.7" r="6.3"/><circle cx="366" cy="516.4" r="7.9"/><circle cx="350.7" cy="522.4" r="7"/><circle cx="351.8" cy="522.3" r="6.1"/><circle cx="385" cy="454.6" r="6.3"/><circle cx="383.7" cy="456.8" r="8.4"/><circle cx="333.4" cy="492.2" r="7.4"/><circle cx="334.9" cy="491.1" r="6.9"/><circle cx="339.1" cy="450.7" r="7.8"/><circle cx="337.5" cy="450.2" r="7.6"/><circle cx="368.2" cy="489.9" r="6.1"/><circle cx="366.6" cy="489.8" r="6.6"/><circle cx="368.9" cy="490.7" r="6.9"/><circle cx="385" cy="520.2" r="7.1"/><circle cx="385.7" cy="520.3" r="7.9"/><circle cx="387.9" cy="520.6" r="7.9"/><circle cx="358.3" cy="544.3" r="7.4"/><circle cx="358" cy="543.5" r="7.1"/><circle cx="357.9" cy="544.4" r="6.9"/><circle cx="331.6" cy="520" r="6.4"/><circle cx="331.6" cy="519.4" r="6.6"/><circle cx="331.6" cy="516.6" r="8.3"/><circle cx="390.1" cy="494.1" r="6.9"/><circle cx="391.4" cy="494.3" r="7.9"/><circle cx="401.9" cy="501.4" r="6.9"/><circle cx="401" cy="501.8" r="7.7"/><circle cx="403.2" cy="502.5" r="7.2"/><circle cx="345.1" cy="505.6" r="6.4"/><circle cx="345.1" cy="504.7" r="8.4"/><circle cx="346.8" cy="505" r="7.4"/><circle cx="330.2" cy="503" r="7.9"/><circle cx="331.1" cy="503.7" r="6.9"/><circle cx="330.9" cy="505.9" r="8.2"/><circle cx="372.3" cy="418.9" r="8.4"/><circle cx="374.6" cy="418.5" r="6.3"/><circle cx="377" cy="548.5" r="7.5"/><circle cx="375.4" cy="551.8" r="8.2"/><circle cx="404" cy="483.1" r="8.2"/><circle cx="404.4" cy="482.1" r="8.1"/><circle cx="402.9" cy="483.4" r="8.6"/><circle cx="393" cy="467.9" r="6.1"/><circle cx="394.4" cy="465" r="6.1"/><circle cx="397.8" cy="516.8" r="7"/><circle cx="398.6" cy="516" r="8.6"/><circle cx="406.3" cy="444.1" r="7.2"/><circle cx="409.8" cy="445.3" r="6.4"/><circle cx="407.3" cy="445" r="7.7"/><circle cx="401.3" cy="430.2" r="6.6"/><circle cx="400.7" cy="429.8" r="8.4"/><circle cx="423.8" cy="518" r="8.1"/><circle cx="422.4" cy="517.2" r="8.4"/><circle cx="406" cy="460.5" r="7.8"/><circle cx="405.9" cy="459.8" r="6.2"/><circle cx="329.5" cy="461.3" r="8.2"/><circle cx="329.9" cy="460.7" r="6.2"/><circle cx="339.1" cy="534.6" r="7.6"/><circle cx="341.3" cy="534.5" r="7.9"/><circle cx="372.3" cy="533" r="6.5"/><circle cx="371.8" cy="536.1" r="8.1"/><circle cx="425.2" cy="474.7" r="7.1"/><circle cx="423.3" cy="473.6" r="7.4"/><circle cx="423.2" cy="474" r="8.2"/><circle cx="416.8" cy="491.9" r="8.2"/><circle cx="414.2" cy="490.8" r="7.6"/><circle cx="351.6" cy="463.6" r="8.2"/><circle cx="352.7" cy="462.6" r="6.6"/><circle cx="353.8" cy="462.9" r="6.7"/><circle cx="388.3" cy="552" r="8.6"/><circle cx="390.8" cy="549.3" r="7.9"/><circle cx="390" cy="550.8" r="8.5"/><circle cx="396.8" cy="534.5" r="8"/><circle cx="397.4" cy="534.7" r="7.7"/><circle cx="317.3" cy="469.9" r="8.2"/><circle cx="318.1" cy="468.9" r="6.8"/><circle cx="317.4" cy="470.3" r="7.7"/><circle cx="308.9" cy="453.4" r="7.8"/><circle cx="308.1" cy="457.1" r="7.2"/><circle cx="306.3" cy="453.6" r="6.5"/><circle cx="316.9" cy="506.3" r="7"/><circle cx="316.9" cy="505.4" r="6.7"/><circle cx="315.9" cy="507.1" r="6.7"/><circle cx="428.1" cy="537.9" r="6.4"/><circle cx="429.7" cy="538.4" r="8.3"/><circle cx="429.2" cy="540.8" r="7.9"/><circle cx="319.7" cy="450.5" r="8.4"/><circle cx="317.9" cy="447.9" r="8.5"/><circle cx="318.2" cy="448.7" r="6.4"/><circle cx="377.3" cy="398" r="8.5"/><circle cx="377.8" cy="398.3" r="7.2"/><circle cx="377.4" cy="399.5" r="8.3"/><circle cx="306.5" cy="471.6" r="6.1"/><circle cx="304.9" cy="471.6" r="7.4"/><circle cx="388" cy="383.6" r="7.8"/><circle cx="388.3" cy="384.7" r="6.2"/><circle cx="348.7" cy="493.6" r="7.3"/><circle cx="351.1" cy="491.3" r="6.8"/><circle cx="350.7" cy="493.3" r="6.8"/><circle cx="408.5" cy="530.2" r="8.6"/><circle cx="410.2" cy="528.2" r="6.9"/><circle cx="409.7" cy="529" r="6.1"/><circle cx="342.5" cy="399" r="7"/><circle cx="341.1" cy="396.5" r="7.9"/><circle cx="425.9" cy="449.7" r="7.3"/><circle cx="426.1" cy="450" r="7"/><circle cx="316.9" cy="487.7" r="7.8"/><circle cx="319.8" cy="486.4" r="7.3"/><circle cx="316.3" cy="485.2" r="6.2"/><circle cx="411.1" cy="547.7" r="6.9"/><circle cx="409" cy="547" r="8.3"/><circle cx="411" cy="547.5" r="7.7"/><circle cx="433.4" cy="516.5" r="6.4"/><circle cx="436.2" cy="517.2" r="7.1"/><circle cx="434.8" cy="516.3" r="7.6"/><circle cx="410.3" cy="423.1" r="6.6"/><circle cx="412.1" cy="422.6" r="7.7"/><circle cx="304.2" cy="504.3" r="8.4"/><circle cx="304.7" cy="503.4" r="6.9"/><circle cx="303.6" cy="506.1" r="6.2"/><circle cx="311.9" cy="523" r="6.1"/><circle cx="312.9" cy="523" r="6.2"/><circle cx="314.5" cy="523.8" r="6"/><circle cx="408.2" cy="405.1" r="6.2"/><circle cx="405.8" cy="404.1" r="6.7"/><circle cx="407.5" cy="404.7" r="8.5"/><circle cx="396.4" cy="452.2" r="6.1"/><circle cx="396.8" cy="452.3" r="7.1"/><circle cx="427" cy="488.1" r="8.2"/><circle cx="429.5" cy="487.1" r="6.1"/><circle cx="324.5" cy="532.2" r="8.3"/><circle cx="325.4" cy="531.7" r="6.8"/><circle cx="332.1" cy="414.5" r="7.6"/><circle cx="332.1" cy="414.4" r="6.1"/><circle cx="332.3" cy="414.4" r="8.2"/><circle cx="446.1" cy="519" r="7.3"/><circle cx="448.1" cy="519.1" r="7.7"/><circle cx="423.1" cy="432.5" r="8.4"/><circle cx="424.2" cy="433.6" r="7.5"/><circle cx="426.5" cy="434.2" r="8.3"/><circle cx="366.5" cy="566.7" r="7.4"/><circle cx="367.3" cy="566" r="7.8"/><circle cx="365.7" cy="565.6" r="6.3"/><circle cx="410.1" cy="374.4" r="8.6"/><circle cx="406.9" cy="375.2" r="8.2"/><circle cx="409.2" cy="374.5" r="6.4"/><circle cx="333.9" cy="546.3" r="7.1"/><circle cx="334.4" cy="544.7" r="7.2"/><circle cx="334.9" cy="549.1" r="6.1"/><circle cx="349.4" cy="556.5" r="7.9"/><circle cx="349" cy="556.5" r="7"/><circle cx="348.1" cy="557.5" r="8.1"/><circle cx="297" cy="482.3" r="7.4"/><circle cx="297.6" cy="482.5" r="8.2"/><circle cx="297.5" cy="481.9" r="7.9"/><circle cx="423.7" cy="553.8" r="7.6"/><circle cx="419.9" cy="554.2" r="6.6"/><circle cx="344.4" cy="572.7" r="8.1"/><circle cx="344.8" cy="571.9" r="8.1"/><circle cx="372.9" cy="589.1" r="6"/><circle cx="369.8" cy="586.7" r="6.8"/><circle cx="379.1" cy="576.9" r="7.1"/><circle cx="378.5" cy="577.6" r="6.1"/><circle cx="424.9" cy="500.9" r="8.2"/><circle cx="424.3" cy="500.8" r="7.2"/><circle cx="425.3" cy="500.9" r="7.3"/><circle cx="439.2" cy="426.8" r="6.8"/><circle cx="435.7" cy="425.2" r="7.4"/><circle cx="437.6" cy="426" r="8"/><circle cx="411.9" cy="565.1" r="7"/><circle cx="414" cy="565.9" r="7.2"/><circle cx="413.4" cy="566.6" r="7.6"/><circle cx="368.7" cy="406" r="6.3"/><circle cx="368.7" cy="407.8" r="8"/><circle cx="368.7" cy="408.5" r="8.3"/><circle cx="454.3" cy="540.1" r="6.2"/><circle cx="455.5" cy="542.3" r="7"/><circle cx="448.6" cy="450.1" r="6.5"/><circle cx="449.6" cy="450.3" r="6.5"/><circle cx="361.2" cy="387" r="8"/><circle cx="362.7" cy="387.3" r="6.5"/><circle cx="362.7" cy="387.1" r="8.6"/><circle cx="444.7" cy="478.7" r="7.5"/><circle cx="442.8" cy="477" r="6.7"/><circle cx="330.3" cy="381.2" r="8"/><circle cx="327.9" cy="382.1" r="6.8"/><circle cx="449.9" cy="496.7" r="6.7"/><circle cx="447.5" cy="496.5" r="8.1"/><circle cx="315.9" cy="417.8" r="6.5"/><circle cx="317" cy="417.9" r="6"/><circle cx="469.3" cy="517.3" r="6.6"/><circle cx="470.8" cy="518.7" r="6.3"/><circle cx="433.1" cy="461.4" r="6.7"/><circle cx="432.2" cy="462.3" r="6.2"/><circle cx="328.8" cy="476.1" r="7"/><circle cx="329.5" cy="475.1" r="6.8"/><circle cx="319.3" cy="432.7" r="8.5"/><circle cx="319.4" cy="434.2" r="7.5"/><circle cx="454.9" cy="463.4" r="6.2"/><circle cx="456.1" cy="461" r="6.9"/><circle cx="456.9" cy="463.5" r="6.3"/><circle cx="463.4" cy="450.5" r="6.4"/><circle cx="464.1" cy="451.4" r="7.2"/><circle cx="463.9" cy="452" r="6.7"/><circle cx="475.4" cy="432.4" r="6.2"/><circle cx="474.1" cy="433" r="8.6"/><circle cx="428.9" cy="416" r="7.5"/><circle cx="428.4" cy="415.2" r="6.9"/><circle cx="429.4" cy="416.4" r="8.3"/><circle cx="399.4" cy="563.1" r="7.6"/><circle cx="400.5" cy="560.5" r="8.4"/><circle cx="453" cy="559.1" r="7.8"/><circle cx="453" cy="558.7" r="7.3"/><circle cx="303.9" cy="425.4" r="8.4"/><circle cx="303.4" cy="428.2" r="7.6"/><circle cx="353.4" cy="372.9" r="8.2"/><circle cx="356.2" cy="374.6" r="8.1"/><circle cx="355.1" cy="372.9" r="6.7"/><circle cx="468" cy="527" r="6.4"/><circle cx="468" cy="529.8" r="7.2"/><circle cx="464.8" cy="527" r="7.5"/><circle cx="438.9" cy="560.8" r="8.5"/><circle cx="439" cy="561.2" r="6.4"/><circle cx="438.4" cy="562" r="8.2"/><circle cx="484.8" cy="439.6" r="8.4"/><circle cx="483.4" cy="441.2" r="6"/><circle cx="483.5" cy="440.7" r="7.5"/><circle cx="329" cy="559.9" r="8.2"/><circle cx="327" cy="560.9" r="6.6"/><circle cx="329.9" cy="559.4" r="8.5"/><circle cx="457.8" cy="576.8" r="7.3"/><circle cx="458.1" cy="577.2" r="8.5"/><circle cx="418.1" cy="397.1" r="6.6"/><circle cx="417.8" cy="397.2" r="8"/><circle cx="317.5" cy="546.5" r="6"/><circle cx="315.5" cy="547.8" r="6.3"/><circle cx="298.3" cy="438.4" r="8.1"/><circle cx="298.8" cy="439.2" r="6.8"/><circle cx="297.1" cy="437.9" r="8.1"/><circle cx="370.3" cy="377.6" r="6.5"/><circle cx="369.6" cy="378.2" r="7.2"/><circle cx="369.3" cy="378" r="7.6"/><circle cx="340.9" cy="375.4" r="6.3"/><circle cx="341.2" cy="377.2" r="8.1"/><circle cx="340.5" cy="376.8" r="7.2"/><circle cx="425.6" cy="575.1" r="6.5"/><circle cx="425.8" cy="572.9" r="6.7"/><circle cx="427.8" cy="574.1" r="6.9"/><circle cx="461.2" cy="593.5" r="8.1"/><circle cx="458.4" cy="591.8" r="7.3"/><circle cx="460.7" cy="592.4" r="7.9"/><circle cx="403.7" cy="577.3" r="6.8"/><circle cx="406.6" cy="575.5" r="7.9"/><circle cx="405.1" cy="575.8" r="8.1"/><circle cx="453.1" cy="422.1" r="8.1"/><circle cx="452" cy="422.1" r="7"/><circle cx="451.5" cy="421.1" r="6.5"/><circle cx="328.1" cy="578.8" r="7.9"/><circle cx="328.6" cy="582.5" r="6.1"/><circle cx="475.1" cy="561.4" r="7.7"/><circle cx="475.3" cy="561.8" r="7"/><circle cx="476.9" cy="558.6" r="8.4"/><circle cx="469" cy="545.1" r="7.7"/><circle cx="469.9" cy="545.9" r="6"/><circle cx="331.3" cy="594" r="7.4"/><circle cx="333.1" cy="594.6" r="8.6"/><circle cx="402.4" cy="386.1" r="8.3"/><circle cx="400.4" cy="388.1" r="8.5"/><circle cx="440.7" cy="547.5" r="7.6"/><circle cx="438.1" cy="547.9" r="6.3"/><circle cx="440.8" cy="403.8" r="7.5"/><circle cx="440.9" cy="402.8" r="8.5"/><circle cx="439.4" cy="404.8" r="6"/><circle cx="478.7" cy="536" r="6.5"/><circle cx="476.3" cy="536.2" r="7.4"/><circle cx="302.1" cy="533.2" r="7.8"/><circle cx="301.7" cy="533.3" r="6.5"/><circle cx="443.1" cy="582.8" r="6.1"/><circle cx="441.6" cy="581.6" r="7.7"/><circle cx="443.6" cy="582.2" r="7"/><circle cx="299.7" cy="518.2" r="7.8"/><circle cx="302.6" cy="516" r="8.1"/><circle cx="421.7" cy="592.3" r="8.2"/><circle cx="422.4" cy="593.7" r="6.7"/><circle cx="422.7" cy="590.5" r="7.2"/><circle cx="440.9" cy="531.9" r="8.4"/><circle cx="443.5" cy="532.3" r="6.2"/><circle cx="316.2" cy="387.1" r="8.1"/><circle cx="316.3" cy="384.4" r="7.8"/><circle cx="317.7" cy="387.8" r="6.8"/><circle cx="312.8" cy="575.5" r="8.2"/><circle cx="311.9" cy="574.2" r="6.8"/><circle cx="486.6" cy="519.3" r="8.4"/><circle cx="487.1" cy="518.3" r="8"/><circle cx="487.2" cy="518.7" r="7"/><circle cx="391.6" cy="404.8" r="6.4"/><circle cx="392.9" cy="403.9" r="7.4"/><circle cx="457" cy="436.2" r="7.9"/><circle cx="455.9" cy="436.3" r="8.4"/><circle cx="444.3" cy="437.7" r="7.1"/><circle cx="444.3" cy="437.7" r="7.5"/><circle cx="442.5" cy="438.2" r="7.8"/><circle cx="292.4" cy="550.8" r="7.1"/><circle cx="292.9" cy="551.7" r="8"/><circle cx="465.3" cy="493.9" r="6.8"/><circle cx="466.4" cy="494.2" r="7.3"/><circle cx="461.2" cy="509.5" r="6.6"/><circle cx="459.7" cy="508.7" r="7.8"/><circle cx="458.1" cy="509.7" r="6.4"/><circle cx="479.8" cy="414.1" r="8.2"/><circle cx="481.4" cy="415.5" r="8.4"/><circle cx="494.1" cy="420.7" r="6.4"/><circle cx="494.8" cy="418.2" r="6.4"/><circle cx="496.3" cy="571.7" r="6.3"/><circle cx="494.6" cy="571.3" r="6.6"/><circle cx="496.1" cy="570.5" r="8.6"/><circle cx="409.9" cy="592.3" r="8.6"/><circle cx="412.2" cy="590.6" r="7"/><circle cx="410.8" cy="589.4" r="8.4"/><circle cx="515.3" cy="576" r="7.1"/><circle cx="516.3" cy="575.3" r="8.3"/><circle cx="474.9" cy="499.3" r="7"/><circle cx="477.1" cy="498.8" r="8"/><circle cx="305.4" cy="377.8" r="7"/><circle cx="307.4" cy="376.2" r="6.9"/><circle cx="468" cy="469.3" r="6.8"/><circle cx="466.8" cy="471.9" r="8.3"/><circle cx="320.7" cy="604.9" r="7.2"/><circle cx="319.8" cy="603.3" r="6.2"/><circle cx="322.1" cy="603.5" r="6.1"/><circle cx="479.4" cy="453.7" r="8.1"/><circle cx="478.8" cy="451.5" r="7.4"/><circle cx="479" cy="452.1" r="6.5"/><circle cx="290.7" cy="535.8" r="8.6"/><circle cx="422.8" cy="380.9" r="6.8"/><circle cx="419.7" cy="378.6" r="8.2"/><circle cx="419" cy="378.9" r="6.9"/><circle cx="525.8" cy="556.8" r="8"/><circle cx="526.1" cy="556.1" r="6.7"/><circle cx="524.6" cy="556.9" r="6.4"/><circle cx="389.1" cy="599.3" r="7.9"/><circle cx="387.9" cy="599.2" r="7.9"/><circle cx="388.7" cy="598" r="7"/><circle cx="434.5" cy="612.1" r="8.5"/><circle cx="435.8" cy="612.5" r="6.8"/><circle cx="489.8" cy="484.3" r="7.9"/><circle cx="491" cy="485.1" r="7.3"/><circle cx="392.7" cy="586.7" r="6"/><circle cx="395.1" cy="585.3" r="6.5"/><circle cx="465" cy="397.6" r="6.8"/><circle cx="465.3" cy="396.7" r="6.5"/><circle cx="357.5" cy="575.9" r="6.2"/><circle cx="357.3" cy="575.8" r="7.8"/><circle cx="357.9" cy="574.6" r="6.9"/><circle cx="351.5" cy="587.7" r="6.3"/><circle cx="351.8" cy="590.9" r="7.6"/><circle cx="458.3" cy="481.7" r="7.4"/><circle cx="459.4" cy="481.4" r="6.9"/><circle cx="480.1" cy="468.8" r="6.8"/><circle cx="482.7" cy="468.3" r="6.3"/><circle cx="304.6" cy="403.7" r="6.1"/><circle cx="304.6" cy="401.9" r="8.2"/><circle cx="323.1" cy="401.1" r="7"/><circle cx="323.1" cy="400.7" r="8.1"/><circle cx="322.9" cy="401.6" r="7.6"/><circle cx="501.9" cy="462.5" r="7.7"/><circle cx="502" cy="463.1" r="7.4"/><circle cx="501" cy="462.2" r="7.4"/><circle cx="429.8" cy="388.2" r="8.3"/><circle cx="431.8" cy="388.7" r="6"/><circle cx="438.6" cy="503.7" r="8"/><circle cx="437.7" cy="503.4" r="6.6"/><circle cx="437.7" cy="504.2" r="7.8"/><circle cx="418.7" cy="608.8" r="6.9"/><circle cx="417.8" cy="609.3" r="7.3"/><circle cx="511.5" cy="552.6" r="6"/><circle cx="512.4" cy="554.1" r="8"/><circle cx="490.4" cy="506.6" r="6.4"/><circle cx="490.3" cy="506" r="6.3"/><circle cx="490.7" cy="506" r="8"/><circle cx="498.9" cy="430.5" r="7.8"/><circle cx="498.1" cy="431.7" r="6.1"/><circle cx="499.3" cy="430.9" r="7.9"/><circle cx="498.5" cy="526.6" r="8.4"/><circle cx="497.9" cy="527.9" r="7.1"/><circle cx="500.8" cy="527.8" r="6"/><circle cx="465" cy="419.2" r="8.5"/><circle cx="463.1" cy="420.1" r="6.5"/><circle cx="463.9" cy="419.2" r="6.7"/><circle cx="392.7" cy="572.5" r="6.8"/><circle cx="393.6" cy="573.3" r="7.8"/><circle cx="392.6" cy="572.2" r="6.4"/><circle cx="478.1" cy="396.4" r="8.6"/><circle cx="477.6" cy="394.2" r="6.6"/><circle cx="500" cy="593.7" r="7.1"/><circle cx="499.9" cy="592" r="6.9"/><circle cx="500.3" cy="593.2" r="6.6"/><circle cx="338.2" cy="607.3" r="7.4"/><circle cx="338.7" cy="608.8" r="6.3"/><circle cx="340.1" cy="607.8" r="8.1"/><circle cx="453" cy="409.4" r="8.2"/><circle cx="455.4" cy="407.8" r="7.1"/><circle cx="518.1" cy="543.7" r="6.6"/><circle cx="516.6" cy="541.9" r="6.4"/><circle cx="291.9" cy="405.6" r="7.2"/><circle cx="509.8" cy="510" r="7.2"/><circle cx="510.7" cy="510.2" r="7.2"/><circle cx="509.7" cy="510.4" r="6"/><circle cx="443.6" cy="383.6" r="8.5"/><circle cx="443.5" cy="385.5" r="6.8"/><circle cx="447" cy="605.6" r="8.1"/><circle cx="448.9" cy="603.9" r="8.1"/><circle cx="508.7" cy="491.4" r="7.1"/><circle cx="512.3" cy="494" r="6.1"/><circle cx="511.2" cy="491.2" r="6.7"/><circle cx="309" cy="560.6" r="6.3"/><circle cx="308.4" cy="561.1" r="7.9"/><circle cx="308.8" cy="561.7" r="8.1"/><circle cx="446.6" cy="371.9" r="7.1"/><circle cx="296.4" cy="387.7" r="8.1"/><circle cx="298.1" cy="385.9" r="6.3"/><circle cx="296.7" cy="387.4" r="6.6"/><circle cx="479.6" cy="484.9" r="6.7"/><circle cx="480.3" cy="484.2" r="6.7"/><circle cx="543.2" cy="543.1" r="6.8"/><circle cx="544.1" cy="544.6" r="7.5"/><circle cx="358.7" cy="601.4" r="6.1"/><circle cx="360.3" cy="602.3" r="6.3"/><circle cx="361.8" cy="603.3" r="6.5"/><circle cx="492.9" cy="539.6" r="7.6"/><circle cx="495.8" cy="538.6" r="8.2"/><circle cx="310" cy="592.3" r="7.6"/><circle cx="309.2" cy="592.4" r="7.1"/><circle cx="307.8" cy="591.9" r="8.2"/><circle cx="436.7" cy="593.7" r="7.5"/><circle cx="436.9" cy="596.3" r="7"/><circle cx="436.6" cy="596.7" r="6.3"/><circle cx="499.1" cy="557.3" r="8.5"/><circle cx="498.3" cy="555.6" r="8.2"/><circle cx="492.5" cy="403.4" r="7"/><circle cx="490.2" cy="402.7" r="6.2"/><circle cx="492.4" cy="402.7" r="8.5"/><circle cx="530.1" cy="573" r="7.1"/><circle cx="530.6" cy="573.6" r="6.6"/><circle cx="529.1" cy="574.1" r="6.1"/><circle cx="517.8" cy="529.9" r="7.6"/><circle cx="518.4" cy="528.3" r="6.3"/><circle cx="474.3" cy="591.1" r="7.8"/><circle cx="473.7" cy="591.6" r="8.4"/><circle cx="474.9" cy="590.1" r="8.6"/><circle cx="529.1" cy="485.3" r="6.3"/><circle cx="532.8" cy="485.3" r="7.1"/><circle cx="527.3" cy="510.9" r="6.1"/><circle cx="530.2" cy="510.7" r="6.4"/><circle cx="374.9" cy="610.6" r="6.9"/><circle cx="376.5" cy="611.4" r="7.7"/><circle cx="403.6" cy="612.3" r="7.6"/><circle cx="402.7" cy="609.8" r="6.5"/><circle cx="526.6" cy="466.4" r="7.3"/><circle cx="526.5" cy="465.3" r="8"/><circle cx="483.5" cy="551.5" r="6.6"/><circle cx="484.9" cy="551.7" r="7.8"/><circle cx="512.6" cy="418.6" r="7.3"/><circle cx="510.6" cy="420.1" r="6"/><circle cx="490.7" cy="453.3" r="8.4"/><circle cx="492" cy="454.6" r="7.7"/><circle cx="356.5" cy="399.5" r="7.5"/><circle cx="356.8" cy="402.6" r="8.5"/><circle cx="356" cy="399.9" r="6.8"/><circle cx="326.4" cy="622.5" r="8.3"/><circle cx="324.8" cy="623.1" r="8.3"/><circle cx="325.7" cy="623.4" r="8.6"/><circle cx="297" cy="571.1" r="6.5"/><circle cx="294.9" cy="569.2" r="6.9"/><circle cx="295" cy="570.2" r="7.1"/><circle cx="468.2" cy="374.1" r="6.1"/><circle cx="467.2" cy="375" r="8.5"/><circle cx="538.8" cy="469.1" r="7.9"/><circle cx="539.7" cy="473.7" r="7"/><circle cx="515.1" cy="461.5" r="6.2"/><circle cx="516.2" cy="459.6" r="7.7"/><circle cx="514.7" cy="458.8" r="7.9"/><circle cx="462.4" cy="604.4" r="7"/><circle cx="461.3" cy="605.1" r="8.4"/><circle cx="511.5" cy="473.6" r="7.9"/><circle cx="511.3" cy="475.9" r="8.3"/><circle cx="354.2" cy="617.3" r="7.6"/><circle cx="352.4" cy="618.4" r="8.1"/><circle cx="353.4" cy="617.9" r="6.1"/><circle cx="486.8" cy="582" r="7.4"/><circle cx="486.2" cy="579.1" r="6.7"/><circle cx="539.1" cy="496.9" r="6.3"/><circle cx="539" cy="496.7" r="7.4"/><circle cx="382.6" cy="564.8" r="7.9"/><circle cx="382.2" cy="564.8" r="6.1"/><circle cx="511" cy="446.4" r="6.1"/><circle cx="511.8" cy="446.3" r="6.4"/><circle cx="511.1" cy="447.5" r="6.4"/><circle cx="457.9" cy="386.9" r="8.3"/><circle cx="455.5" cy="385.1" r="8.5"/><circle cx="457.9" cy="386.4" r="8.5"/><circle cx="537.1" cy="452.6" r="8.3"/><circle cx="536.1" cy="453.8" r="7.7"/><circle cx="488.3" cy="601" r="6.2"/><circle cx="488.3" cy="599.5" r="7.7"/><circle cx="302.9" cy="602.8" r="8.4"/><circle cx="302.1" cy="603.5" r="6.4"/><circle cx="300.6" cy="603.4" r="7.7"/><circle cx="471.7" cy="575.2" r="7"/><circle cx="472.9" cy="577.3" r="7.8"/><circle cx="473.6" cy="573.8" r="7.9"/><circle cx="518.6" cy="602.4" r="8.1"/><circle cx="518.2" cy="600" r="8"/><circle cx="544.7" cy="516.5" r="7.9"/><circle cx="544.7" cy="517" r="7.3"/><circle cx="462.3" cy="620.2" r="6.6"/><circle cx="462.6" cy="620.3" r="6.5"/><circle cx="464.2" cy="619" r="7.6"/><circle cx="517.6" cy="501.5" r="6.8"/><circle cx="519.9" cy="501.6" r="8.3"/><circle cx="529.9" cy="595.5" r="8.3"/><circle cx="530.7" cy="593.9" r="6.7"/><circle cx="496.4" cy="388.6" r="7.5"/><circle cx="495.9" cy="389.8" r="6.3"/><circle cx="510" cy="615.8" r="6.8"/><circle cx="510.2" cy="614.2" r="8.5"/><circle cx="510.2" cy="617.9" r="7.9"/><circle cx="533.5" cy="606.7" r="6.3"/><circle cx="532.7" cy="605.5" r="8.4"/><circle cx="532.5" cy="606.8" r="7.6"/><circle cx="391.6" cy="610.2" r="6.4"/><circle cx="389.4" cy="612.2" r="8.4"/><circle cx="391.1" cy="610.4" r="7.8"/><circle cx="533.4" cy="541.5" r="6.6"/><circle cx="533.1" cy="539.5" r="7.3"/><circle cx="526.4" cy="452.2" r="8.2"/><circle cx="525.9" cy="451" r="8.5"/><circle cx="502.1" cy="370.8" r="8.2"/><circle cx="500.3" cy="371.6" r="8.6"/><circle cx="521.5" cy="432.1" r="6.3"/><circle cx="520.6" cy="431.2" r="7.4"/><circle cx="543.9" cy="557" r="6.8"/><circle cx="480.8" cy="612.8" r="8.4"/><circle cx="483.6" cy="613.7" r="6.3"/><circle cx="481.4" cy="612.8" r="6.1"/><circle cx="312.3" cy="611" r="7.2"/><circle cx="312.4" cy="612.5" r="7"/><circle cx="313.1" cy="612.2" r="7.2"/><circle cx="508.8" cy="402.6" r="8.2"/><circle cx="508.2" cy="404.2" r="6.9"/><circle cx="509.8" cy="402.9" r="7.4"/><circle cx="495" cy="618.8" r="7.5"/><circle cx="495.1" cy="616.6" r="6.3"/><circle cx="525.3" cy="420.2" r="8.2"/><circle cx="527.2" cy="419.5" r="6.5"/><circle cx="524.9" cy="419.8" r="7.3"/><circle cx="542.5" cy="438.9" r="6.9"/><circle cx="541.6" cy="439.7" r="6.9"/><circle cx="541.6" cy="441.4" r="6.4"/><circle cx="536.2" cy="528.3" r="6.2"/><circle cx="535.8" cy="527" r="8.6"/><circle cx="505.4" cy="380.4" r="6.7"/><circle cx="508.1" cy="383.4" r="6.5"/><circle cx="508.2" cy="380.5" r="8.3"/><circle cx="521.7" cy="619.6" r="8.1"/><circle cx="521.8" cy="621.7" r="8"/><circle cx="527.2" cy="372.4" r="8.1"/><circle cx="525.3" cy="373.9" r="6.1"/><circle cx="525.3" cy="374.1" r="8.6"/><circle cx="541.4" cy="417.4" r="7.3"/><circle cx="542" cy="417.5" r="7.5"/><circle cx="545.2" cy="417.9" r="8"/><circle cx="532.9" cy="406.4" r="8.2"/><circle cx="534" cy="408" r="6.5"/><circle cx="524.9" cy="396.4" r="6.3"/><circle cx="525.2" cy="397.1" r="8.2"/><circle cx="526.3" cy="397.7" r="6.2"/><circle cx="541" cy="388.6" r="8.2"/><circle cx="543.1" cy="387" r="8.5"/><circle cx="540.1" cy="389.4" r="7.1"/><circle cx="402.6" cy="598.4" r="7.3"/><circle cx="401.7" cy="598.5" r="6.5"/><circle cx="403" cy="598.5" r="6.8"/><circle cx="541.7" cy="371.4" r="8.2"/><circle cx="513.8" cy="588.8" r="8.2"/><circle cx="513.9" cy="587.4" r="6.2"/><circle cx="546.1" cy="568.4" r="8.4"/><circle cx="544.2" cy="569.7" r="6.3"/><circle cx="532.1" cy="430.7" r="8.4"/><circle cx="533.9" cy="429.4" r="6.1"/><circle cx="544.1" cy="597.5" r="7"/><circle cx="544.7" cy="594.8" r="6.8"/>
</g><g fill="url(#cc4)">
<circle cx="379" cy="480.1" r="2.1"/><circle cx="357.6" cy="480.8" r="2.4"/><circle cx="353.5" cy="451.5" r="2.6"/><circle cx="352.7" cy="453" r="2.8"/><circle cx="379.5" cy="503.4" r="2.1"/><circle cx="350.1" cy="438.9" r="2"/><circle cx="351" cy="438.6" r="2.4"/><circle cx="342.2" cy="473.4" r="2"/><circle cx="358.4" cy="501.7" r="1.8"/><circle cx="332.6" cy="428.4" r="2.7"/><circle cx="368.5" cy="434.1" r="2.4"/><circle cx="351.8" cy="418.6" r="2.7"/><circle cx="384.1" cy="418.5" r="2.1"/><circle cx="386.4" cy="437.7" r="2.6"/><circle cx="365" cy="519.3" r="2"/><circle cx="352.4" cy="521.1" r="2"/><circle cx="352.3" cy="523.6" r="2.8"/><circle cx="383.3" cy="455.6" r="2.2"/><circle cx="337.1" cy="449.8" r="2.7"/><circle cx="386" cy="521.5" r="2.3"/><circle cx="384.8" cy="522.3" r="1.9"/><circle cx="355.9" cy="543.9" r="1.7"/><circle cx="332" cy="517.8" r="2.1"/><circle cx="389.5" cy="496" r="2.5"/><circle cx="401" cy="505.1" r="2.7"/><circle cx="399.7" cy="503.2" r="2"/><circle cx="349" cy="505.2" r="2.7"/><circle cx="347.3" cy="503.7" r="2.3"/><circle cx="372.5" cy="419.7" r="2.7"/><circle cx="376.7" cy="549.8" r="2.1"/><circle cx="376.3" cy="549.5" r="2.7"/><circle cx="402.5" cy="484.8" r="2.7"/><circle cx="394.7" cy="464.7" r="2.4"/><circle cx="394.7" cy="464.8" r="2.9"/><circle cx="398.6" cy="518.7" r="2.8"/><circle cx="406.5" cy="445.1" r="2.2"/><circle cx="422.3" cy="519.3" r="1.9"/><circle cx="419.5" cy="518.9" r="1.9"/><circle cx="405.5" cy="459.9" r="2.8"/><circle cx="404.7" cy="461.8" r="1.8"/><circle cx="329.2" cy="463.4" r="2.4"/><circle cx="327.4" cy="461.7" r="2.8"/><circle cx="340" cy="533.5" r="2.1"/><circle cx="339.5" cy="534.8" r="2.8"/><circle cx="372" cy="533.2" r="2.2"/><circle cx="373.3" cy="533.6" r="2.3"/><circle cx="423.9" cy="473.2" r="2.6"/><circle cx="416.7" cy="491.7" r="2.5"/><circle cx="390.2" cy="551.9" r="2.5"/><circle cx="396.4" cy="533.2" r="2.2"/><circle cx="395.3" cy="534.2" r="2.6"/><circle cx="317.2" cy="470" r="2.3"/><circle cx="306.8" cy="455.4" r="2.7"/><circle cx="316.5" cy="506.8" r="1.7"/><circle cx="316.3" cy="505.4" r="2.4"/><circle cx="318.9" cy="450.8" r="1.8"/><circle cx="377" cy="399.4" r="2.3"/><circle cx="387.9" cy="384.8" r="2.7"/><circle cx="387.9" cy="386.1" r="2"/><circle cx="349.4" cy="491.8" r="2.2"/><circle cx="425.8" cy="448.8" r="2"/><circle cx="316.8" cy="486.9" r="2.6"/><circle cx="318.1" cy="487.6" r="1.8"/><circle cx="410.2" cy="546.8" r="2.4"/><circle cx="435.1" cy="517.7" r="2.8"/><circle cx="412.8" cy="422" r="2.3"/><circle cx="304.6" cy="506.6" r="2.7"/><circle cx="313.7" cy="525.1" r="2.9"/><circle cx="406.6" cy="404.3" r="2.1"/><circle cx="395.5" cy="452.7" r="2.6"/><circle cx="427.9" cy="488.5" r="2.6"/><circle cx="327.5" cy="530.3" r="2.5"/><circle cx="332.1" cy="414.4" r="2.6"/><circle cx="447.6" cy="519.8" r="2.6"/><circle cx="426.2" cy="430.7" r="2"/><circle cx="365.6" cy="565.7" r="2.6"/><circle cx="334" cy="547.2" r="1.9"/><circle cx="334.3" cy="547.7" r="2.7"/><circle cx="347.8" cy="557.8" r="1.9"/><circle cx="423.5" cy="553.6" r="2.9"/><circle cx="345" cy="573.6" r="1.8"/><circle cx="345.8" cy="575.4" r="1.8"/><circle cx="372" cy="588.6" r="2"/><circle cx="379.7" cy="577.3" r="2.5"/><circle cx="379.3" cy="578.8" r="2"/><circle cx="424.4" cy="501.5" r="2.4"/><circle cx="437.8" cy="426.4" r="2.1"/><circle cx="414" cy="566.3" r="2.2"/><circle cx="367.8" cy="407" r="2.8"/><circle cx="452.7" cy="542.6" r="2.3"/><circle cx="442.7" cy="478.1" r="2.8"/><circle cx="445.2" cy="477.8" r="2.8"/><circle cx="328.9" cy="380.2" r="2.8"/><circle cx="316.6" cy="418.1" r="2.2"/><circle cx="316" cy="419.1" r="2.7"/><circle cx="471.1" cy="518" r="2.5"/><circle cx="431.6" cy="461.3" r="1.8"/><circle cx="432.9" cy="460" r="2.4"/><circle cx="328.5" cy="475.8" r="2.8"/><circle cx="320.6" cy="432.9" r="2.8"/><circle cx="462.7" cy="450.1" r="2.8"/><circle cx="474.2" cy="429.2" r="1.9"/><circle cx="400.1" cy="561.7" r="2.8"/><circle cx="453.2" cy="559.4" r="2.1"/><circle cx="302.5" cy="425.8" r="1.9"/><circle cx="466" cy="529.6" r="1.9"/><circle cx="483" cy="441" r="2.8"/><circle cx="329.5" cy="559.2" r="2.5"/><circle cx="457.1" cy="577.8" r="2.3"/><circle cx="416.3" cy="396.8" r="2.7"/><circle cx="300.9" cy="439.1" r="2.3"/><circle cx="426" cy="573.5" r="2.7"/><circle cx="407.7" cy="575.8" r="2.4"/><circle cx="452.6" cy="421.4" r="2"/><circle cx="476.6" cy="559.2" r="2.6"/><circle cx="467.9" cy="546.2" r="1.9"/><circle cx="333.1" cy="594.3" r="1.9"/><circle cx="439.1" cy="547.7" r="2.8"/><circle cx="438.6" cy="548" r="1.9"/><circle cx="480.4" cy="535.8" r="2.7"/><circle cx="300.1" cy="535.4" r="2.6"/><circle cx="301.8" cy="534.2" r="2.7"/><circle cx="442.9" cy="582.2" r="2.3"/><circle cx="299.6" cy="516.7" r="2.2"/><circle cx="441.9" cy="532.5" r="2.7"/><circle cx="316.2" cy="387.1" r="2"/><circle cx="392.6" cy="406.5" r="2.8"/><circle cx="455" cy="434.2" r="2.4"/><circle cx="466.1" cy="492.7" r="2.8"/><circle cx="459.5" cy="508.2" r="2.8"/><circle cx="481.8" cy="417.4" r="2"/><circle cx="494.5" cy="418.9" r="2.4"/><circle cx="411.6" cy="591.2" r="2.8"/><circle cx="513.4" cy="576.1" r="2.1"/><circle cx="517.2" cy="577.2" r="1.7"/><circle cx="320.1" cy="603.3" r="2.3"/><circle cx="479.1" cy="453.1" r="2.3"/><circle cx="479" cy="452.9" r="2.3"/><circle cx="421.9" cy="378" r="2"/><circle cx="527.6" cy="557.1" r="2"/><circle cx="525.2" cy="556.5" r="2.2"/><circle cx="389.1" cy="596.8" r="2.2"/><circle cx="435.9" cy="612.7" r="2.1"/><circle cx="433.7" cy="610.9" r="2.5"/><circle cx="394.8" cy="584.1" r="2.1"/><circle cx="464.9" cy="397.6" r="1.7"/><circle cx="357.2" cy="574.5" r="2.7"/><circle cx="349.7" cy="589.6" r="2.8"/><circle cx="459.5" cy="480.5" r="2.8"/><circle cx="479.6" cy="468.7" r="2.2"/><circle cx="322.9" cy="402.6" r="2"/><circle cx="322.2" cy="402.7" r="2.2"/><circle cx="500.2" cy="463.7" r="2"/><circle cx="500.4" cy="465.1" r="2.3"/><circle cx="431.7" cy="388.8" r="2.1"/><circle cx="418.6" cy="611" r="2.7"/><circle cx="415.8" cy="611.2" r="2.6"/><circle cx="490.6" cy="505.7" r="1.9"/><circle cx="499.4" cy="430.7" r="2.7"/><circle cx="499" cy="526.2" r="2.6"/><circle cx="500.2" cy="526.9" r="2.1"/><circle cx="391.6" cy="575" r="2.7"/><circle cx="392.1" cy="572.9" r="2.4"/><circle cx="479.2" cy="396.5" r="2.5"/><circle cx="342" cy="608.9" r="2.3"/><circle cx="453.4" cy="408.5" r="2.3"/><circle cx="507.7" cy="508.9" r="2.1"/><circle cx="509.9" cy="492.8" r="2.5"/><circle cx="309.2" cy="563.2" r="1.8"/><circle cx="478.6" cy="483.8" r="2.6"/><circle cx="480" cy="485.3" r="2"/><circle cx="360.9" cy="601.9" r="2"/><circle cx="359.2" cy="602.7" r="2.5"/><circle cx="494.1" cy="539.6" r="2.8"/><circle cx="307.4" cy="589.3" r="1.9"/><circle cx="308.7" cy="593.7" r="2.4"/><circle cx="499.3" cy="557" r="2.8"/><circle cx="500" cy="555.1" r="2.3"/><circle cx="492.8" cy="403.3" r="1.8"/><circle cx="529.7" cy="572.4" r="2"/><circle cx="532.1" cy="572.7" r="2.9"/><circle cx="518.8" cy="527.5" r="2.8"/><circle cx="530.9" cy="484.8" r="2.1"/><circle cx="527.7" cy="513.1" r="1.8"/><circle cx="529.6" cy="512.5" r="2.6"/><circle cx="484.9" cy="550.1" r="2.5"/><circle cx="513.4" cy="420.3" r="2.6"/><circle cx="512.8" cy="417.9" r="2.1"/><circle cx="491.9" cy="454.9" r="2.5"/><circle cx="356.1" cy="400.3" r="1.9"/><circle cx="537.3" cy="470.6" r="1.9"/><circle cx="513.2" cy="460.2" r="2.6"/><circle cx="462.9" cy="603.7" r="2.5"/><circle cx="352.5" cy="615.6" r="1.8"/><circle cx="381" cy="564.3" r="2.8"/><circle cx="457.1" cy="386.6" r="1.8"/><circle cx="536.2" cy="454.1" r="2.8"/><circle cx="487.5" cy="600.1" r="2.6"/><circle cx="302.7" cy="603" r="2.4"/><circle cx="519.7" cy="599.3" r="1.7"/><circle cx="532.5" cy="592.9" r="2.4"/><circle cx="530.5" cy="593.9" r="2.4"/><circle cx="493.9" cy="390.2" r="2.4"/><circle cx="390.7" cy="609.5" r="2"/><circle cx="524.8" cy="452" r="1.8"/><circle cx="481.1" cy="615.4" r="1.8"/><circle cx="311.5" cy="611.5" r="2"/><circle cx="510.1" cy="403.9" r="2.2"/><circle cx="495.8" cy="616.8" r="2"/><circle cx="497.3" cy="616.6" r="1.8"/><circle cx="525.3" cy="422.1" r="2.4"/><circle cx="535.6" cy="527.4" r="2.8"/><circle cx="506.6" cy="379.9" r="2"/><circle cx="506.3" cy="381.8" r="2.1"/><circle cx="535.3" cy="407.7" r="2.9"/><circle cx="400.6" cy="598.7" r="1.7"/><circle cx="512" cy="591" r="2.4"/><circle cx="533.5" cy="427.7" r="1.9"/>
</g></g></g>
<filter id="tx5" filterUnits="userSpaceOnUse" x="545.2" y="372.5" width="251.1" height="249.0" color-interpolation-filters="sRGB">
<feGaussianBlur in="SourceGraphic" stdDeviation="0.7" result="s0"/>
<feTurbulence type="fractalNoise" baseFrequency="0.2" numOctaves="2" seed="61" result="t3"/>
<feDisplacementMap in="s0" in2="t3" scale="3.5" xChannelSelector="R" yChannelSelector="G" result="src"/>
<feTurbulence type="fractalNoise" baseFrequency="0.03" numOctaves="2" seed="58" result="t1"/>
<feColorMatrix in="t1" type="matrix" values="1 0 0 0 0 1 0 0 0 0 1 0 0 0 0 0 0 0 0 1" result="n1"/>
<feTurbulence type="fractalNoise" baseFrequency="0.9" numOctaves="1" seed="65" result="t2"/>
<feColorMatrix in="t2" type="matrix" values="0 1 0 0 0 0 1 0 0 0 0 1 0 0 0 0 0 0 0 1" result="n2"/>
<feComposite in="src" in2="n1" operator="arithmetic" k1="0.5" k2="0.75" k3="0" k4="0" result="h1"/>
<feComposite in="h1" in2="n2" operator="arithmetic" k1="0.8" k2="0.6" k3="0.14" k4="-0.07" result="h2"/>
<feComponentTransfer in="h2"><feFuncR type="table" tableValues="0 0 0 0 0 0 0 0 0 0 0 0 0 0 0.015 0.041 0.092 0.272 0.452 0.617 0.777 0.856 0.909 0.962 1 1 1 1 1 1 1 1 1 1 1 1 1 1 1 1 1"/><feFuncG type="table" tableValues="0 0 0 0 0.007 0.042 0.138 0.328 0.513 0.646 0.779 0.88 0.935 0.939 0.939 0.936 0.938 0.965 0.992 1 1 1 1 1 0.962 0.827 0.692 0.593 0.527 0.461 0.395 0.296 0.312 0.413 0.517 0.645 0.763 0.825 0.887 0.947 1"/><feFuncB type="table" tableValues="0 0.224 0.448 0.685 0.892 0.959 1 1 1 1 1 1 0.95 0.835 0.704 0.56 0.423 0.32 0.217 0.119 0.023 0 0 0 0 0 0 0 0 0 0 0 0.091 0.243 0.4 0.592 0.763 0.825 0.887 0.947 1"/></feComponentTransfer>
</filter>
<clipPath id="ic5"><rect x="551.2" y="378.5" width="239.1" height="237.0"/></clipPath>
<g clip-path="url(#ic5)"><g filter="url(#tx5)">
<rect x="545.2" y="372.5" width="251.1" height="249.0" fill="rgb(142,142,142)"/>
<path d="M552.1,383.4 563.3,374.5M547.8,544.9 551.4,544.8M547.8,544.9 547.2,544.4M551.4,544.8 560.7,531.9M547.2,522.5 560.7,531.9M568.7,514.7 563.8,522.3 561.8,531.6M568.7,514.7 584.3,522.9M561.8,531.6 573.9,538.2M573.9,538.2 579.6,529.2 584.3,522.9M599.5,619.5 599.4,614.5M599.4,614.5 593.8,608.9M593.8,608.9 586.4,608.8M578.7,619.3 586.4,608.8M547.2,615.3 559.7,614.7M559.7,614.7 560.9,616.5M547.8,544.9 547.2,545.6M788.6,378.2 794.3,384.5M547.2,513.7 548,512.4M548,512.4 547.2,509.4M599.4,614.5 611.2,612.3 619,611M593.8,608.9 597.8,597 604.8,589.9M604.8,589.9 607.2,589.8M607.2,589.8 619.9,600.5M619.9,600.5 619,611M623.6,619.5 619,611M547.2,583.6 555.1,582M547.2,598.7 561,600.2M555.1,582 560.7,591.2 562.1,598.7M561,600.2 562.1,598.7M559.7,614.7 561,600.2M578.7,619.3 571.2,619.3 560.9,616.5M586.4,608.8 576.3,594.3M576.3,594.3 562.1,598.7M547.2,566.2 549.2,566.5M555.1,582 556.5,578.3M549.2,566.5 556.5,578.3M551.4,544.8 560.9,555.8M549.2,566.5 560.9,555.8M561.8,531.6 560.7,531.9M573.9,538.2 576.7,544.8M576.7,544.8 567.8,556.9M560.9,555.8 567.8,556.9M592.1,567.1 583.7,566.3 573,568.3M592.1,567.1 594.9,583.8M578.1,590.9 576.6,582.1 571.2,572.3M578.1,590.9 587.5,588.4 594.9,583.8M571.2,572.3 573,568.3M585.4,546.4 576.7,544.8M585.4,546.4 591,555.8 594,564.4M594,564.4 592.1,567.1M567.8,556.9 573,568.3M576.3,594.3 578.1,590.9M556.5,578.3 571.2,572.3M604.8,589.9 594.9,583.8M794.3,619.3 784.1,609.8M784.1,609.8 783.9,606.5M794.3,599.2 786.4,602M783.9,606.5 786.4,602M794.3,577.7 788.6,575.3M788.6,575.3 780.2,581.8M786.4,602 781,593.4 780.2,581.8M584.5,501.2 587.3,489.9M584.5,501.2 576.2,505.5 566.9,509.4M586.9,489.3 575.4,487.1 563.4,489.9M586.9,489.3 587.3,489.9M563.4,489.9 562.1,491.6M562.1,491.6 565.8,508.6M566.9,509.4 565.8,508.6M548,512.4 554.9,511.4 565.8,508.6M549.3,491.8 547.2,494.1M549.3,491.8 562.1,491.6M568.7,514.7 566.9,509.4M589.4,521.7 593.2,531.1 596.7,538.5M589.4,521.7 593.3,516.5M593.3,516.5 603.2,514.3M603.2,514.3 614.4,525.4M614.4,525.4 606.3,530.2 600.7,539.3M596.7,538.5 600.7,539.3M584.3,522.9 589.4,521.7M585.4,546.4 596.7,538.5M584.5,501.2 593.3,516.5M608.7,493.3 610.2,498.9M608.7,493.3 597.1,490.4 587.3,489.9M610.2,498.9 603.2,514.3M552.1,383.4 554.7,397.9M547.2,397.8 554.7,397.9M564,374.5 571.5,388.9M571.5,388.9 564.3,392.9 555.8,398.9M554.7,397.9 555.8,398.9M583.1,453.2 580.5,469.3M583.1,453.2 595.4,449M595.4,449 598.4,450.2M598.4,450.2 604.3,458.5 606.6,467.1M606.3,467.9 606.6,467.1M606.3,467.9 595.4,473.5 586,475.2M586,475.2 580.5,469.3M623.3,459.2 632,465.5M623.3,459.2 615.9,464.8 606.6,467.1M613.5,485.2 628.4,482.2M613.5,485.2 608.1,475.2 606.3,467.9M632,465.5 628.4,482.2M613.5,485.2 608.7,493.3M586.9,489.3 586,475.2M563.5,471.4 580.5,469.3M563.5,471.4 563.5,479.4 563.4,489.9M623.3,459.2 622.2,447.8M598.4,450.2 606.8,448.2 614.7,442.6M614.7,442.6 622.2,447.8M577.2,390.5 571.5,388.9M577.2,390.5 585.3,386M585.3,386 583.3,374.5M607.4,404.3 594.5,403.6M607.4,404.3 611.6,394.5M611.6,394.5 601.9,384M594.5,403.6 592.7,388.1M592.7,388.1 601.9,384M577.2,390.5 577.2,399.4 578.4,408.7M578.4,408.7 587.4,411.3M587.4,411.3 594.5,403.6M585.3,386 592.7,388.1M632,465.5 640.6,463.1M640.6,463.1 644.9,445.7M622.2,447.8 634.2,440.7M644.9,445.7 634.2,440.7M640.6,463.1 651.5,469.3M654.9,468.1 662.3,454.6M654.9,468.1 651.5,469.3M644.9,445.7 654.5,441.8M662.3,454.6 654.5,441.8M794.3,397.7 791.6,393.2M794.3,408.6 787.4,417.6M787.4,417.6 782.5,416.2M782.5,416.2 781.5,405.3 777.8,397.2M791.6,393.2 777.8,397.2M794.3,386.7 791.6,393.2M725.8,532.7 720.1,547.4M725.8,532.7 715.1,526.3M704.5,547 720.1,547.4M704.5,547 701.8,538.2M701.8,538.2 715.1,526.3M794.3,426.7 787.4,417.6M783.9,606.5 769.5,601.7 759.7,597.7M776.4,581.7 780.2,581.8M776.4,581.7 765.6,591.2 759.3,596.5M759.7,597.7 759.3,596.5M701.5,610.6 711,619.4M701.5,610.6 688.4,619.5M702.7,601.8 701.5,610.6M702.7,601.8 691.7,598 684.9,597.1M684.9,597.1 683.6,597.8M683.6,597.8 683.3,615.2M687.3,619.5 683.3,615.2M698.7,559.9 707.7,564.8 715.7,569M698.7,559.9 694.1,566.5 688.7,576.5M690.6,579.8 688.7,576.5M690.6,579.8 705.7,585.2M705.7,585.2 717.4,574.9M717.4,574.9 715.7,569M704.5,547 698.1,557.9M698.1,557.9 698.7,559.9M723.3,555.2 720.1,547.4M723.3,555.2 715.7,569M698.1,557.9 688.4,551.6 678.3,548.8M678.3,548.8 675.6,550.2M673.8,572.1 676.4,563.5 675.6,550.2M673.8,572.1 674.4,573M674.4,573 688.7,576.5M684.9,597.1 688.2,587.1 690.6,579.8M683.6,597.8 675.2,596M675.2,596 669.4,586.4M669.4,586.4 674.4,573M706.5,598.2 702.7,601.8M706.5,598.2 705.7,585.2M788.3,567.9 780.3,559.1M788.3,567.9 794.3,562.8M780.3,559.1 783.5,548M794.3,548.1 792.6,546.3M792.6,546.3 783.5,548M788.6,575.3 788.3,567.9M794.3,542.1 792.6,546.3M776.1,534.6 787.7,529M776.1,534.6 774.8,538.4M774.8,538.4 783.5,548M794.3,533.9 787.7,529M769,521.3 753.3,527.5M769,521.3 776.1,534.6M774.8,538.4 762.8,544.2M762.8,544.2 752.8,532.2M753.3,527.5 752.8,532.2M547.2,415.5 553.6,413.6M555.8,398.9 557.9,406.5M553.6,413.6 557.9,406.5M578.4,408.7 573.7,410.7M557.9,406.5 573.7,410.7M547.2,476.6 557.7,468.9M557.7,468.9 547.2,461.2M549.3,491.8 547.2,487.3M563.5,471.4 560.1,468.9M560.1,468.9 557.7,468.9M572,444.8 563.1,450.8M572,444.8 571.4,434.3M563.1,450.8 547.8,446.3M571.4,434.3 569.2,432M569.2,432 560.5,429.6M560.5,429.6 547.2,436.3M547.2,444.7 547.8,446.3M583.1,453.2 572,444.8M560.1,468.9 561.9,459.2 563.1,450.8M593.6,426.5 582.5,428.5 571.4,434.3M593.6,426.5 592.6,437.5 595.4,449M547.2,447.7 547.8,446.3M587.4,411.3 594.2,425.6M593.6,426.5 594.2,425.6M573.7,410.7 570.9,422.7 569.2,432M553.6,413.6 560.5,429.6M601.9,384 605.7,374.5M635.7,421.6 632.3,425.8M635.7,421.6 626.6,407.6M632.3,425.8 620.9,428.1 613,427.2M626.6,407.6 612.1,413.4M612.1,413.4 609.3,423.8M609.3,423.8 613,427.2M614.7,442.6 613,427.2M634.2,440.7 632.3,425.8M594.2,425.6 609.3,423.8M607.4,404.3 612.1,413.4M672.7,455.8 679.7,443.9M672.7,455.8 679.5,467.3M679.5,467.3 681.6,467.2M681.6,467.2 691.3,459.5 698.4,452.3M679.7,443.9 691.3,444.9 698,450.1M698,450.1 698.4,452.3M654.9,468.1 663.5,473.9 671.9,476.2M662.3,454.6 672.7,455.8M671.9,476.2 679.5,467.3M696.8,479.2 690.1,472 681.6,467.2M696.8,479.2 702.4,475.2M703.4,457.8 702.4,475.2M703.4,457.8 698.4,452.3M654.5,441.8 656.1,438.5M679.7,443.9 676.3,435.7M676.3,435.7 666.3,434.6 656.1,438.5M639.8,420.7 654.2,429.9M639.8,420.7 644.1,413.9 650.3,404.2M650.3,404.2 664.3,408.5M664.3,408.5 666.4,413M666.4,413 659.7,421.1 654.2,429.9M639.8,420.7 635.7,421.6M654.2,429.9 656.1,438.5M650.3,404.2 645.5,396.6M626.6,407.6 629.3,397.1M645.5,396.6 629.3,397.1M611.6,394.5 625.1,392.4M629.3,397.1 625.1,392.4M610.3,374.5 625.6,378.9M625.1,392.4 625.6,378.9M725.8,395.8 734.9,383.7M725.8,395.8 714.8,396.2M714.8,396.2 713.1,394.8M713.1,394.8 718,386.7 718.9,376.4M734.9,383.7 725.9,374.5M718.9,376.4 722.5,374.5M734.7,405.2 725.8,395.8M734.7,405.2 726.2,419.3M726.2,419.3 715.8,413M715.8,413 714.8,396.2M782.5,416.2 769,421.3M777.8,397.2 769.1,393.4M769,421.3 762.4,404.7M769.1,393.4 762.4,404.7M704.6,436.9 716.7,436.9M704.6,436.9 698,450.1M722.6,460.1 713.7,457.5 703.4,457.8M722.6,460.1 727.4,450.8M716.7,436.9 727.4,450.8M700.7,429.9 703.8,418M700.7,429.9 691.9,428.2 680.4,426.2M703.8,418 695.2,407.6M680.4,426.2 678.2,420M678.2,420 690.3,407.5M690.3,407.5 695.2,407.6M726.2,419.3 727.6,423.1M715.8,413 703.8,418M704.6,436.9 700.7,429.9M716.7,436.9 727.6,423.1M676.3,435.7 680.4,426.2M705.8,393.9 713.1,394.8M705.8,393.9 695.2,407.6M666.4,413 678.2,420M664.3,408.5 671.8,395.9M680.7,392.8 671.8,395.9M680.7,392.8 690.3,407.5M678.3,548.8 684.9,533.2M658.6,546.1 675.6,550.2M658.6,546.1 658,538.5 658.2,527.6M658.2,527.6 672.6,524M684.9,533.2 672.6,524M701.8,538.2 688.1,531.8M684.9,533.2 688.1,531.8M715.1,526.3 713.8,523.4M713.8,523.4 703.2,519 695.8,515.6M688.1,531.8 695.8,515.6M787,452.2 790.8,468.4M787,452.2 794.3,450M794.3,469.6 790.8,468.4M753.3,527.5 746.3,517.7M752.8,532.2 739.9,540M726.4,532.6 739.9,540M726.4,532.6 736.4,518.8M736.4,518.8 746.3,517.7M619.4,526.2 624.2,533.9M619.4,526.2 625.7,518.3 631.5,510.2M644.6,524.2 635,511M644.6,524.2 635.8,535.7M635.8,535.7 624.2,533.9M635,511 631.5,510.2M628.4,482.2 633.4,486.4M651.5,469.3 650,479.4 648.2,487.2M633.4,486.4 648.2,487.2M610.2,498.9 621.1,502.1 630.2,508.3M633.4,486.4 630.9,499.4 630.2,508.3M614.4,525.4 619.4,526.2M630.2,508.3 631.5,510.2M634,557.7 642.9,547.5M634,557.7 641.6,563.4 650.1,572.6M650.1,572.6 654.3,569.7M654.3,569.7 655.3,560.2 657,547.2M657,547.2 642.9,547.5M673.8,572.1 662.3,569.2 654.3,569.7M669.4,586.4 654.2,589.7M649,575.6 654.2,589.7M649,575.6 650.1,572.6M658.6,546.1 657,547.2M644.6,524.2 656,525.5M635.8,535.7 642.9,547.5M656,525.5 658.2,527.6M631,558.5 618.6,549.4M631,558.5 624.3,573.3M617.1,574.6 609.7,567.4 604.8,560.9M617.1,574.6 624.3,573.3M618.6,549.4 609.9,551.5M604.8,560.9 609.9,551.5M624.2,533.9 618.6,549.4M634,557.7 631,558.5M632.7,581.1 649,575.6M632.7,581.1 624.3,573.3M607.2,589.8 610.3,581 617.1,574.6M594,564.4 604.8,560.9M619.9,600.5 632,594.8M632.7,581.1 632,594.8M600.7,539.3 609.9,551.5M722.7,577.5 724.7,587.1 727,600.4M722.7,577.5 736.8,575.5M748.9,588.9 740.8,596 733.1,601.2M748.9,588.9 748.7,587.8M736.8,575.5 748.7,587.8M733.1,601.2 727,600.4M722.7,577.5 717.4,574.9M706.5,598.2 723.5,602.3M727,600.4 723.5,602.3M711,619.4 719.3,618.4M723.5,602.3 719.3,618.4M648.1,616.4 644.4,611.9M648.1,616.4 664.9,615.8M644.4,611.9 644.7,600.7M665.8,605.5 651.8,596.1M665.8,605.5 666.6,613.6M644.7,600.7 651.8,596.1M664.9,615.8 666.6,613.6M647.9,619.5 648.1,616.4M624.5,619.5 634.7,615.6 644.4,611.9M665.2,619.5 664.9,615.8M632,594.8 644.7,600.7M675.2,596 665.8,605.5M654.2,589.7 651.8,596.1M683.3,615.2 666.6,613.6M694.4,488.4 696.8,479.2M694.4,488.4 694,488.7M671.9,476.2 671.8,486.8M671.8,486.8 684.2,487.3 694,488.7M672.6,524 675.7,507.1M695.6,514.7 695.8,515.6M695.6,514.7 687.7,507.4M675.7,507.1 687.7,507.4M743.1,557.9 749.4,565.4 760.4,570.2M743.1,557.9 743,557.3M743,557.2 753.2,551.5 762,547M762,547 768.9,560.3M768.9,560.3 763.8,569.5M763.8,569.5 760.4,570.2M736.8,575.5 741.1,568.3 743.1,557.9M748.7,587.8 754.7,578 760.4,570.2M723.3,555.2 733.2,557.1 743,557.3M725.8,532.7 726.4,532.6M739.9,540 743,557.2M762.8,544.2 762,547M780.3,559.1 768.9,560.3M776.4,581.7 763.8,569.5M748.9,588.9 759.3,596.5M705.8,393.9 696.9,384.4M718.9,376.4 713.1,374.5M704.9,374.5 696.9,384.4M645.5,396.6 650.5,383M625.6,378.9 630,374.5M650.5,383 639.8,380.3 632.2,374.5M769,421.3 766.8,424.7M762.4,404.7 747.9,407.1M747.9,407.1 748.2,420.9M766.8,424.7 756.6,421.7 748.2,420.9M734.7,405.2 744.2,403.7M744.2,403.7 747.9,407.1M727.6,423.1 740.4,428.2M748.2,420.9 740.4,428.2M788.6,378.2 774,378.5M769.1,393.4 768,390.8M774,378.5 768,390.8M774,378.5 772.7,374.5M783.4,472.6 781.7,486M783.4,472.6 790.8,468.4M781.7,486 791.2,490.4M794.3,486.4 791.2,490.4M769,521.3 772.4,510.2M746.3,517.7 750.7,508.5M750.7,508.5 759.4,510 772.4,510.2M775.5,509.7 787.2,502.9 794.3,498.9M775.5,509.7 789,520M794.3,517.6 789,520M781.7,486 769.3,490.5M791.2,490.4 794.3,497.5M769.3,490.5 770.6,497.6 773.1,509.5M773.1,509.5 775.5,509.7M787.7,529 789,520M772.4,510.2 773.1,509.5M720.3,505.3 710.7,499.3M720.3,505.3 726.4,504.3M726.4,504.3 735.5,493.5M710,497.5 715.2,489.9 719.2,478.9M710,497.5 710.7,499.3M735.5,493.5 729.7,486.4 719.7,478.7M713.8,523.4 714.8,513.3 720.3,505.3M695.6,514.7 704.4,505.8 710.7,499.3M736.4,518.8 726.4,504.3M694.4,488.4 704.3,493 710,497.5M702.4,475.2 719.2,478.9M694,488.7 692.6,498.3 687.7,507.4M722.6,460.1 724.8,468.6M724.8,468.6 719.7,478.7M733.1,601.2 740,607.2 742,616.9M719.3,618.4 720.4,619.5M737.5,619.5 742,616.9M669.3,490.5 670.4,502.3M669.3,490.5 659.2,489 648.6,487.6M670.4,502.3 657.8,508.5M657.8,508.5 647.8,503.5M648.6,487.6 647.8,503.5M671.8,486.8 669.3,490.5M675.7,507.1 670.4,502.3M648.2,487.2 648.6,487.6M656,525.5 657.8,508.5M635,511 647.8,503.5M650.5,383 654,380.5M653.4,374.5 654,380.5M671.8,395.9 665.1,390.1 658.9,381M658.9,381 654,380.5M794.3,426.7 788.8,431.5 779.4,440.6M766.8,424.7 767.5,435.9M767.5,435.9 779.4,440.6M787,452.2 784.6,451.1M767.2,465.3 783.4,472.6M767.2,465.3 767.1,463M784.6,451.1 776.9,458 767.1,463M784.6,451.1 779.4,440.6M753.2,374.5 758.9,387M746.2,374.5 737.1,383.8M758.9,387 745.6,392.9M737.1,383.8 745.6,392.9M768,390.8 758.9,387M734.9,383.7 737.1,383.8M744.2,403.7 745.6,392.9M736.4,493.3 748,499M736.4,493.3 741,484.3 745.5,474.3M748,499 757.3,492.7 764,487.2M745.5,474.3 760.1,476.7M760.1,476.7 764,487.2M750.7,508.5 748,499M735.5,493.5 736.4,493.3M743.5,471.8 734.1,471.1 724.8,468.6M743.5,471.8 745.5,474.3M769.3,490.5 764,487.2M767.2,465.3 760.1,476.7M757.1,610.7 747.2,618.6M757.1,610.7 769.9,619.5M747.2,618.6 747.5,619.5M759.7,597.7 757.1,610.7M742,616.9 747.2,618.6M784.1,609.8 774,619.5M673.2,374.5 686,384.1M686,384.1 688.5,383M688.5,383 689.2,374.5M658.9,381 669.5,374.5M680.7,392.8 686,384.1M696.9,384.4 688.5,383M759.7,452.8 762,441.2M759.7,452.8 745.6,455.6M762,441.2 749.7,440 742.3,435.2M745.6,455.6 736.6,448.4M736.6,448.4 742.3,435.2M767.5,435.9 762,441.2M767.1,463 759.7,452.8M743.5,471.8 745.6,455.6M740.4,428.2 742.3,435.2M727.4,450.8 736.6,448.4" fill="none" stroke="rgb(173,173,173)" stroke-width="3.5" stroke-linecap="round" stroke-linejoin="round" stroke-opacity="0.8"/>
<g fill="url(#bl5)">
<circle cx="692.5" cy="418.6" r="8.9"/><circle cx="691.3" cy="418.3" r="8.5"/><circle cx="693.8" cy="418" r="9.8"/><circle cx="712.3" cy="423.9" r="9.9"/><circle cx="712.7" cy="425.8" r="7.7"/><circle cx="713.1" cy="423.7" r="10.5"/><circle cx="736.7" cy="416.4" r="8.7"/><circle cx="739.1" cy="417.4" r="10.3"/><circle cx="738.9" cy="414.5" r="9.2"/><circle cx="689.5" cy="437.5" r="9.1"/><circle cx="688.7" cy="438.5" r="9.7"/><circle cx="690.1" cy="435.7" r="9.8"/><circle cx="693.9" cy="394.4" r="8.9"/><circle cx="692.8" cy="396.9" r="8.7"/><circle cx="694.5" cy="397.5" r="7.6"/><circle cx="684.5" cy="453.6" r="9"/><circle cx="684.8" cy="453" r="7.5"/><circle cx="683.9" cy="454.4" r="10"/><circle cx="727.9" cy="436.1" r="9"/><circle cx="729.9" cy="437.2" r="8.3"/><circle cx="730.8" cy="437.1" r="7.8"/><circle cx="683.9" cy="479.5" r="9.3"/><circle cx="684.4" cy="479.7" r="7.9"/><circle cx="714.3" cy="447.9" r="9.7"/><circle cx="713.7" cy="449.3" r="8.5"/><circle cx="711" cy="449.4" r="10.3"/><circle cx="659.9" cy="480.5" r="7.7"/><circle cx="657.4" cy="479.7" r="8.3"/><circle cx="671.3" cy="383.7" r="10.4"/><circle cx="672.7" cy="383.5" r="10.6"/><circle cx="669.5" cy="446.9" r="9.9"/><circle cx="669.2" cy="446.7" r="9.3"/><circle cx="709.4" cy="381.2" r="8"/><circle cx="709.6" cy="382.3" r="8.1"/><circle cx="709.6" cy="381.4" r="9.2"/><circle cx="699.1" cy="371.9" r="9.5"/><circle cx="724.7" cy="405.6" r="9.8"/><circle cx="726.8" cy="404" r="8.7"/><circle cx="664.5" cy="428.1" r="8.8"/><circle cx="666.7" cy="428.1" r="8.5"/><circle cx="666.2" cy="427.4" r="9.2"/><circle cx="708.5" cy="407.5" r="9.3"/><circle cx="707.3" cy="407.4" r="8.8"/><circle cx="653.4" cy="456.3" r="10.4"/><circle cx="650.6" cy="457.5" r="8.4"/><circle cx="682" cy="493.5" r="8.4"/><circle cx="680.9" cy="496.4" r="8"/><circle cx="711.3" cy="465.7" r="9.1"/><circle cx="711.3" cy="467.9" r="9.3"/><circle cx="710.5" cy="468.5" r="10.2"/><circle cx="677.8" cy="406.1" r="8.9"/><circle cx="679.6" cy="406.6" r="9.6"/><circle cx="679.9" cy="371" r="9.1"/><circle cx="666.4" cy="464.9" r="8.4"/><circle cx="667.6" cy="465.6" r="10.1"/><circle cx="722.8" cy="492.1" r="8.2"/><circle cx="721.4" cy="489.6" r="9.8"/><circle cx="632.1" cy="449.8" r="10"/><circle cx="633.2" cy="450" r="9.7"/><circle cx="642.2" cy="433.4" r="10"/><circle cx="642.4" cy="432.4" r="8.1"/><circle cx="638.2" cy="477.2" r="8"/><circle cx="641.9" cy="476.9" r="10.1"/><circle cx="640.4" cy="475.1" r="7.9"/><circle cx="708.6" cy="513.8" r="9.9"/><circle cx="709.2" cy="511.5" r="8.5"/><circle cx="738" cy="461.6" r="10.1"/><circle cx="734.6" cy="459.8" r="9.4"/><circle cx="735.7" cy="460.5" r="7.9"/><circle cx="652.3" cy="417.7" r="8.3"/><circle cx="652.6" cy="417.5" r="10"/><circle cx="652.3" cy="417.9" r="9.8"/><circle cx="657.5" cy="394.9" r="10"/><circle cx="661.5" cy="393.8" r="10.6"/><circle cx="639.3" cy="497.4" r="8.4"/><circle cx="636.4" cy="497.8" r="8.1"/><circle cx="618" cy="471.3" r="10.2"/><circle cx="619.7" cy="471.7" r="9.5"/><circle cx="734.2" cy="393.7" r="10.3"/><circle cx="736.1" cy="394.7" r="10.2"/><circle cx="737.2" cy="397.5" r="8.8"/><circle cx="692.4" cy="467.3" r="8.2"/><circle cx="693" cy="466.4" r="8.1"/><circle cx="661.6" cy="369.1" r="10"/><circle cx="634.6" cy="386.1" r="9"/><circle cx="636.2" cy="385.6" r="10.6"/><circle cx="637.9" cy="410.7" r="10.7"/><circle cx="637.2" cy="407.9" r="8.2"/><circle cx="636.2" cy="407.9" r="9.5"/><circle cx="659.1" cy="498.5" r="9.2"/><circle cx="656.6" cy="499.1" r="8"/><circle cx="623.7" cy="434.2" r="9.1"/><circle cx="625.7" cy="436.7" r="9.1"/><circle cx="623.6" cy="435.1" r="10.6"/><circle cx="614.1" cy="454.2" r="9.2"/><circle cx="611.9" cy="455" r="9"/><circle cx="608.7" cy="453.1" r="9.6"/><circle cx="643.1" cy="371" r="9.6"/><circle cx="645.8" cy="369.6" r="9"/><circle cx="616.9" cy="403.2" r="10.1"/><circle cx="617.1" cy="405" r="8.8"/><circle cx="619.1" cy="401.7" r="9.6"/><circle cx="648.4" cy="514.5" r="8.9"/><circle cx="650.8" cy="511.8" r="9.9"/><circle cx="649" cy="514.8" r="10"/><circle cx="753.5" cy="462.4" r="9.2"/><circle cx="751.5" cy="464.1" r="8.9"/><circle cx="754.6" cy="466.1" r="8"/><circle cx="620.6" cy="417.8" r="10.6"/><circle cx="624" cy="417.6" r="10.2"/><circle cx="624" cy="418.7" r="10.6"/><circle cx="592.9" cy="462.7" r="10.6"/><circle cx="593.2" cy="462.7" r="10.7"/><circle cx="590.8" cy="461.7" r="8.7"/><circle cx="753.8" cy="430.7" r="8.3"/><circle cx="752.9" cy="429.8" r="9.7"/><circle cx="730.7" cy="478.6" r="8.4"/><circle cx="732.2" cy="479.6" r="9.7"/><circle cx="618.8" cy="370" r="10.5"/><circle cx="724.3" cy="386.1" r="10"/><circle cx="722.5" cy="384.1" r="10.5"/><circle cx="724.1" cy="384.8" r="9.8"/><circle cx="681" cy="518.6" r="8.1"/><circle cx="681.5" cy="519.7" r="9.6"/><circle cx="680.3" cy="517" r="8.7"/><circle cx="735.7" cy="372.4" r="8"/><circle cx="736.3" cy="371.2" r="8.3"/><circle cx="736.8" cy="371.9" r="9.9"/><circle cx="750.2" cy="446" r="10.7"/><circle cx="749" cy="444.7" r="8.9"/><circle cx="772.5" cy="478.1" r="7.6"/><circle cx="774.9" cy="479.4" r="9.5"/><circle cx="772.7" cy="410.7" r="7.7"/><circle cx="772.1" cy="408.5" r="8.3"/><circle cx="737.1" cy="507.4" r="9.8"/><circle cx="737" cy="508.4" r="10.3"/><circle cx="738.3" cy="507.1" r="9.5"/><circle cx="602" cy="440.1" r="8.5"/><circle cx="601.9" cy="437.9" r="7.7"/><circle cx="601.6" cy="436.8" r="8.2"/><circle cx="708.5" cy="487.1" r="9.4"/><circle cx="709.4" cy="487.2" r="10.6"/><circle cx="772.8" cy="450.8" r="10.4"/><circle cx="771.7" cy="450.2" r="9.2"/><circle cx="749.5" cy="486.1" r="8.5"/><circle cx="748.6" cy="486" r="7.5"/><circle cx="698.7" cy="500.3" r="9.4"/><circle cx="696.6" cy="502.7" r="10.1"/><circle cx="754.5" cy="395.2" r="9.4"/><circle cx="753.7" cy="398.1" r="9.7"/><circle cx="600.2" cy="412.4" r="10.6"/><circle cx="600.7" cy="411.5" r="8.1"/><circle cx="600.4" cy="411.5" r="9.2"/><circle cx="782.1" cy="460.4" r="10.4"/><circle cx="781.3" cy="462.9" r="10.2"/><circle cx="780.1" cy="462.7" r="7.9"/><circle cx="761.8" cy="377.2" r="8.3"/><circle cx="762.3" cy="377.6" r="8.2"/><circle cx="723.8" cy="518.9" r="9.9"/><circle cx="724.2" cy="515.5" r="10.3"/><circle cx="724" cy="517.7" r="7.8"/><circle cx="739.4" cy="528" r="9.4"/><circle cx="743.4" cy="531.3" r="8.3"/><circle cx="742" cy="527.5" r="7.7"/><circle cx="601.5" cy="397" r="10.4"/><circle cx="602.6" cy="398.4" r="9.2"/><circle cx="635.6" cy="525.2" r="9.5"/><circle cx="633.7" cy="525.5" r="9.7"/><circle cx="632.4" cy="523.6" r="8.6"/><circle cx="578.3" cy="422.2" r="7.9"/><circle cx="580.6" cy="423.3" r="8.1"/><circle cx="578.8" cy="419.1" r="10.7"/><circle cx="789.9" cy="477.9" r="10.7"/><circle cx="789.6" cy="480.2" r="9.9"/><circle cx="788.4" cy="478.7" r="8.8"/><circle cx="584.6" cy="439.8" r="10.6"/><circle cx="585.5" cy="441.7" r="9.2"/><circle cx="571.6" cy="480.9" r="9.2"/><circle cx="573.8" cy="480.3" r="8.7"/><circle cx="572.1" cy="483.1" r="9.2"/><circle cx="568.9" cy="397.5" r="10.3"/><circle cx="569" cy="399.8" r="9.7"/><circle cx="734" cy="547" r="8.6"/><circle cx="729.3" cy="547.1" r="7.9"/><circle cx="566" cy="419.3" r="7.9"/><circle cx="564.3" cy="418.5" r="8.4"/><circle cx="566.6" cy="416.8" r="8.2"/><circle cx="601.5" cy="480.2" r="8.6"/><circle cx="599.6" cy="480.3" r="9"/><circle cx="599.4" cy="479.9" r="9.1"/><circle cx="561.8" cy="386.2" r="7.8"/><circle cx="561.2" cy="388.6" r="7.9"/><circle cx="614" cy="384.9" r="8"/><circle cx="613.2" cy="383.7" r="7.7"/><circle cx="616.1" cy="385" r="9.3"/><circle cx="570.5" cy="458.9" r="8.1"/><circle cx="570.3" cy="458.9" r="10"/><circle cx="781.4" cy="495.2" r="9.4"/><circle cx="782.2" cy="497.2" r="8.8"/><circle cx="789.9" cy="443.1" r="8"/><circle cx="790.9" cy="438.8" r="9.7"/><circle cx="791.1" cy="441" r="9.3"/><circle cx="542.6" cy="469.1" r="9"/><circle cx="544.2" cy="469.3" r="8.7"/><circle cx="585.1" cy="400.9" r="7.7"/><circle cx="586" cy="396.2" r="8"/><circle cx="588.8" cy="397.6" r="10.1"/><circle cx="594.8" cy="503.5" r="8.8"/><circle cx="596.7" cy="503.9" r="9.2"/><circle cx="759.8" cy="501.3" r="9.8"/><circle cx="758.2" cy="499.9" r="8"/><circle cx="762.5" cy="499.8" r="8.3"/><circle cx="747.6" cy="384.7" r="9.3"/><circle cx="749.7" cy="382.3" r="7.8"/><circle cx="703.1" cy="527.9" r="8.5"/><circle cx="703.6" cy="526.8" r="8.2"/><circle cx="799.6" cy="413" r="9.7"/><circle cx="800" cy="413.7" r="9.9"/><circle cx="557.3" cy="441.5" r="10.7"/><circle cx="560.7" cy="441.3" r="8.9"/><circle cx="557.2" cy="438.5" r="7.6"/><circle cx="553.7" cy="456.4" r="7.8"/><circle cx="556.5" cy="456" r="8.6"/><circle cx="592.8" cy="373.9" r="8.8"/><circle cx="591.3" cy="375.5" r="10.1"/><circle cx="784.4" cy="385.8" r="8.9"/><circle cx="781.6" cy="385.8" r="10.3"/><circle cx="554.7" cy="482.8" r="7.8"/><circle cx="554" cy="481.7" r="8.8"/><circle cx="555.1" cy="481.9" r="8.5"/><circle cx="551.3" cy="374.4" r="8.6"/><circle cx="551" cy="374.1" r="9.5"/><circle cx="797.6" cy="460.6" r="7.7"/><circle cx="796.8" cy="459.3" r="8.7"/><circle cx="779.8" cy="427.4" r="9.2"/><circle cx="779.8" cy="428.9" r="7.4"/><circle cx="780.2" cy="431" r="9.7"/><circle cx="550.4" cy="424.1" r="9.1"/><circle cx="549.2" cy="425" r="9.4"/><circle cx="548.8" cy="424" r="8.7"/><circle cx="758.8" cy="516.8" r="8.6"/><circle cx="758.8" cy="516.8" r="8.7"/><circle cx="758.8" cy="516.8" r="9"/><circle cx="573.7" cy="498.1" r="10.7"/><circle cx="574" cy="497.5" r="10.1"/><circle cx="573.5" cy="497.3" r="9.2"/><circle cx="554.1" cy="501.5" r="9.3"/><circle cx="555" cy="502.3" r="10"/><circle cx="553.3" cy="500.8" r="10.1"/><circle cx="544.6" cy="405.7" r="7.9"/><circle cx="543.7" cy="406.1" r="7.7"/><circle cx="693.3" cy="543.2" r="9.9"/><circle cx="693.2" cy="546" r="9.1"/><circle cx="694" cy="544.6" r="8"/><circle cx="729.7" cy="565" r="7.9"/><circle cx="730.3" cy="566" r="10.1"/><circle cx="780.1" cy="524.6" r="8.4"/><circle cx="780.9" cy="520.9" r="10.4"/><circle cx="780.2" cy="523" r="9.7"/><circle cx="790.7" cy="511.2" r="8.9"/><circle cx="789.8" cy="510.3" r="8"/><circle cx="791.6" cy="512.5" r="8.4"/><circle cx="764" cy="534.4" r="10"/><circle cx="764.8" cy="530" r="7.5"/><circle cx="763.7" cy="533" r="8.1"/><circle cx="573.6" cy="525.5" r="7.5"/><circle cx="573" cy="525.8" r="9.9"/><circle cx="575.3" cy="527.3" r="8.8"/><circle cx="617.6" cy="512.6" r="7.7"/><circle cx="615" cy="512.2" r="10.5"/><circle cx="716.3" cy="590.5" r="9.8"/><circle cx="717.6" cy="592.4" r="9.8"/><circle cx="574.8" cy="379.7" r="7.6"/><circle cx="576" cy="381" r="8.5"/><circle cx="574.4" cy="377.2" r="10.2"/><circle cx="667.1" cy="517.5" r="9.2"/><circle cx="665.3" cy="515.3" r="10"/><circle cx="624.3" cy="495.2" r="8.9"/><circle cx="625" cy="495.3" r="8.8"/><circle cx="626.8" cy="496.5" r="10.3"/><circle cx="668.4" cy="535.7" r="8.4"/><circle cx="668.8" cy="536.3" r="8.1"/><circle cx="671.7" cy="535.1" r="8.4"/><circle cx="758.6" cy="415.5" r="9.5"/><circle cx="756.5" cy="414.3" r="8.1"/><circle cx="789.1" cy="402.8" r="8.7"/><circle cx="785.2" cy="403.4" r="7.7"/><circle cx="785.6" cy="403.8" r="10"/><circle cx="712.2" cy="554.2" r="10.2"/><circle cx="710.5" cy="552.9" r="8.7"/><circle cx="796.8" cy="372.6" r="9.2"/><circle cx="796.8" cy="372.5" r="9.1"/><circle cx="797.5" cy="372.1" r="9.4"/><circle cx="601.6" cy="528.8" r="9"/><circle cx="603" cy="526.9" r="9"/><circle cx="580.8" cy="511.4" r="7.7"/><circle cx="583.1" cy="511.4" r="8"/><circle cx="578.1" cy="510.8" r="8.7"/><circle cx="611.1" cy="541" r="10.3"/><circle cx="615.3" cy="538.1" r="10.5"/><circle cx="787.1" cy="538.9" r="9.4"/><circle cx="786.8" cy="538.4" r="8.5"/><circle cx="645.6" cy="537.6" r="10.5"/><circle cx="646.8" cy="535.5" r="10.4"/><circle cx="558.4" cy="519.4" r="10"/><circle cx="556.8" cy="520.1" r="9.5"/><circle cx="597.1" cy="549" r="10.3"/><circle cx="598.3" cy="549.3" r="9.5"/><circle cx="752.7" cy="542.9" r="7.8"/><circle cx="749.9" cy="543.5" r="9.5"/><circle cx="750.8" cy="542.9" r="9.6"/><circle cx="544.4" cy="389.3" r="9.7"/><circle cx="544.6" cy="389.2" r="9.8"/><circle cx="542.9" cy="388.9" r="10.1"/><circle cx="729.8" cy="614.3" r="8.3"/><circle cx="729.8" cy="615.7" r="8.7"/><circle cx="784.7" cy="371.2" r="9.6"/><circle cx="782.8" cy="372.4" r="8.4"/><circle cx="630.2" cy="544.2" r="10.5"/><circle cx="629.9" cy="544.8" r="8.8"/><circle cx="630.4" cy="544.7" r="8.9"/><circle cx="748.4" cy="571.9" r="10"/><circle cx="750.2" cy="569.3" r="7.9"/><circle cx="711.6" cy="541.6" r="8.2"/><circle cx="712.1" cy="539.3" r="7.6"/><circle cx="712.2" cy="539.2" r="8.7"/><circle cx="775.5" cy="568" r="10.2"/><circle cx="775.8" cy="568.4" r="9.1"/><circle cx="662.3" cy="562" r="9.2"/><circle cx="664.5" cy="561.6" r="10"/><circle cx="649.5" cy="559.7" r="8.9"/><circle cx="648" cy="557.9" r="8.4"/><circle cx="756.2" cy="556.9" r="8.1"/><circle cx="758.9" cy="559" r="9.8"/><circle cx="661.8" cy="577.7" r="9.9"/><circle cx="660.4" cy="582.1" r="8.2"/><circle cx="659" cy="580.4" r="7.9"/><circle cx="733.9" cy="588.4" r="8.6"/><circle cx="732.8" cy="587.9" r="9.4"/><circle cx="774.2" cy="551.4" r="7.8"/><circle cx="774.2" cy="549.8" r="8.2"/><circle cx="773.1" cy="551" r="8.1"/><circle cx="637.5" cy="570.5" r="8.2"/><circle cx="636.7" cy="568.6" r="7.9"/><circle cx="638.6" cy="571.1" r="10.5"/><circle cx="548.5" cy="535.6" r="10"/><circle cx="549.1" cy="533.2" r="8"/><circle cx="548.1" cy="534.4" r="8.6"/><circle cx="788.5" cy="556" r="8.2"/><circle cx="788.5" cy="553.9" r="8.3"/><circle cx="788.9" cy="553.2" r="7.7"/><circle cx="642.5" cy="586.9" r="9.6"/><circle cx="640.2" cy="586.9" r="8.6"/><circle cx="797.2" cy="524.9" r="8.2"/><circle cx="796.1" cy="525.9" r="9.8"/><circle cx="796.5" cy="525" r="7.8"/><circle cx="684.7" cy="561.4" r="10.4"/><circle cx="685" cy="566.1" r="8.4"/><circle cx="685.6" cy="564.2" r="7.9"/><circle cx="764.8" cy="579.8" r="9"/><circle cx="763.4" cy="580.8" r="9.1"/><circle cx="761.8" cy="582.9" r="7.8"/><circle cx="621.4" cy="586.9" r="8.1"/><circle cx="622.8" cy="585.9" r="9.2"/><circle cx="699.7" cy="573.1" r="7.8"/><circle cx="700.3" cy="570.8" r="8.5"/><circle cx="745.6" cy="602.2" r="9.5"/><circle cx="745.9" cy="605.3" r="7.5"/><circle cx="748.5" cy="604.8" r="10.4"/><circle cx="775" cy="594.7" r="9.4"/><circle cx="772.4" cy="593.8" r="10.2"/><circle cx="793.7" cy="589" r="10.5"/><circle cx="791.6" cy="592.2" r="9.2"/><circle cx="620.3" cy="561.3" r="9.2"/><circle cx="618.2" cy="563.2" r="9.3"/><circle cx="619.5" cy="561.4" r="10.5"/><circle cx="563.9" cy="545.8" r="8.4"/><circle cx="565.6" cy="544.7" r="9"/><circle cx="563" cy="544.5" r="8.7"/><circle cx="635" cy="609" r="8.4"/><circle cx="631.6" cy="608.2" r="8.3"/><circle cx="608.4" cy="620.3" r="9.7"/><circle cx="608.7" cy="620.7" r="10.2"/><circle cx="608.8" cy="620.6" r="10.1"/><circle cx="590.7" cy="598.6" r="9.6"/><circle cx="590.6" cy="594.1" r="7.8"/><circle cx="605.6" cy="606.4" r="8.8"/><circle cx="604.9" cy="604.8" r="10.4"/><circle cx="604.3" cy="604.4" r="10"/><circle cx="586.2" cy="534.1" r="9.1"/><circle cx="588" cy="532.8" r="9.4"/><circle cx="770.4" cy="612.1" r="10.2"/><circle cx="768.4" cy="609.6" r="9.8"/><circle cx="769" cy="609.8" r="9.4"/><circle cx="590.2" cy="621.7" r="8.7"/><circle cx="590.4" cy="621.1" r="7.5"/><circle cx="799.7" cy="608.7" r="9.9"/><circle cx="797" cy="609.9" r="8.5"/><circle cx="581.6" cy="558.9" r="8.1"/><circle cx="581.3" cy="557.6" r="7.8"/><circle cx="603.4" cy="572.9" r="10.5"/><circle cx="605.8" cy="576.8" r="7.7"/><circle cx="605" cy="572.9" r="8.1"/><circle cx="574.4" cy="610.1" r="8.3"/><circle cx="573.1" cy="611.1" r="7.5"/><circle cx="574" cy="609.6" r="10.5"/><circle cx="760.9" cy="625" r="10"/><circle cx="762" cy="623.2" r="9.9"/><circle cx="761.4" cy="622.3" r="9.5"/><circle cx="679.6" cy="587.6" r="9.9"/><circle cx="678.4" cy="585.5" r="7.8"/><circle cx="558.9" cy="567.3" r="10.1"/><circle cx="559.8" cy="570.1" r="7.6"/><circle cx="566.4" cy="583.5" r="9.5"/><circle cx="563.3" cy="584.5" r="9.6"/><circle cx="566.3" cy="583.7" r="7.5"/><circle cx="638.9" cy="623.9" r="9.1"/><circle cx="548.9" cy="556.3" r="9.2"/><circle cx="551" cy="555.8" r="8.5"/><circle cx="657.6" cy="609.9" r="9.5"/><circle cx="658.4" cy="606.8" r="10.1"/><circle cx="666.8" cy="593.6" r="9.3"/><circle cx="663.7" cy="595.7" r="9.3"/><circle cx="656.2" cy="622.1" r="8.2"/><circle cx="656.8" cy="625.1" r="10.3"/><circle cx="545.5" cy="605.5" r="8.1"/><circle cx="548.4" cy="605.6" r="10"/><circle cx="582.3" cy="575.1" r="7.9"/><circle cx="582.2" cy="580.5" r="10.5"/><circle cx="673.8" cy="621.7" r="8.7"/><circle cx="672.2" cy="621.7" r="8.3"/><circle cx="673.8" cy="622.9" r="7.6"/><circle cx="545.6" cy="575.9" r="9.1"/><circle cx="547.8" cy="574.4" r="9.5"/><circle cx="546.5" cy="622.2" r="8.4"/><circle cx="549.2" cy="623.3" r="8.2"/><circle cx="692.1" cy="606.5" r="7.5"/><circle cx="691.9" cy="607.2" r="8.1"/><circle cx="691.1" cy="606.8" r="10.6"/><circle cx="548.8" cy="591.2" r="10.4"/><circle cx="549.2" cy="593.3" r="7.7"/><circle cx="547.3" cy="589.5" r="8"/><circle cx="701.7" cy="619.8" r="8"/><circle cx="700.5" cy="622.5" r="7.7"/><circle cx="700.8" cy="622.4" r="10.4"/><circle cx="783" cy="622.8" r="8.2"/><circle cx="784.3" cy="623.7" r="9.8"/><circle cx="675.1" cy="605.2" r="8.4"/><circle cx="674.8" cy="604.3" r="10.1"/><circle cx="711.4" cy="610.7" r="8"/><circle cx="712" cy="611.3" r="9.2"/><circle cx="711.2" cy="609.6" r="7.8"/><circle cx="694" cy="590.3" r="9.3"/><circle cx="696.6" cy="591" r="10.2"/><circle cx="693.8" cy="592.6" r="9.2"/>
</g><g fill="url(#cc5)">
<circle cx="689.8" cy="417.4" r="2.3"/><circle cx="714.6" cy="424.5" r="3.3"/><circle cx="737.8" cy="414.5" r="2.3"/><circle cx="739.1" cy="415.6" r="3.3"/><circle cx="689" cy="437.6" r="2.3"/><circle cx="728.9" cy="439" r="3"/><circle cx="683.2" cy="480.9" r="2.8"/><circle cx="686.2" cy="481.3" r="2.7"/><circle cx="713.8" cy="447.6" r="2.8"/><circle cx="658.6" cy="480.8" r="2.7"/><circle cx="671.6" cy="384.4" r="2.8"/><circle cx="708.7" cy="382.1" r="3.3"/><circle cx="723" cy="408.2" r="2.3"/><circle cx="665.2" cy="428.3" r="2.8"/><circle cx="706.1" cy="407.6" r="2.5"/><circle cx="708.8" cy="408.2" r="3.3"/><circle cx="653" cy="457.2" r="2.6"/><circle cx="683" cy="496" r="2.7"/><circle cx="713" cy="466.6" r="3"/><circle cx="680.2" cy="405.6" r="2.9"/><circle cx="667.6" cy="463.3" r="2.7"/><circle cx="721.3" cy="492.3" r="3.1"/><circle cx="632.8" cy="452.5" r="2.5"/><circle cx="643.2" cy="434.4" r="2.5"/><circle cx="640.6" cy="476.1" r="2.9"/><circle cx="638.4" cy="474.2" r="2.2"/><circle cx="708.1" cy="511.4" r="2.7"/><circle cx="738.8" cy="462.6" r="2.9"/><circle cx="652.4" cy="417.8" r="3.4"/><circle cx="637.7" cy="496.2" r="2.4"/><circle cx="618.8" cy="472.6" r="2.3"/><circle cx="735.5" cy="394.6" r="2.9"/><circle cx="634.1" cy="384.5" r="2.6"/><circle cx="634.8" cy="409.3" r="3.2"/><circle cx="656.9" cy="496.7" r="2.8"/><circle cx="624.6" cy="437.3" r="2.2"/><circle cx="613.3" cy="454" r="2.2"/><circle cx="617.2" cy="402.9" r="2.3"/><circle cx="614.4" cy="402.2" r="2.6"/><circle cx="647.3" cy="514.1" r="3.4"/><circle cx="753.2" cy="464" r="3.4"/><circle cx="754.1" cy="463.8" r="3.4"/><circle cx="622.9" cy="417.3" r="2.8"/><circle cx="622.6" cy="417.4" r="2.7"/><circle cx="593.4" cy="462.1" r="2.5"/><circle cx="753.9" cy="430.6" r="3.1"/><circle cx="755.6" cy="430.7" r="2.3"/><circle cx="724.4" cy="386.2" r="3.2"/><circle cx="748.5" cy="444.8" r="2.3"/><circle cx="776" cy="475.4" r="3.3"/><circle cx="772.7" cy="408.7" r="2.7"/><circle cx="773.9" cy="408.4" r="3.1"/><circle cx="741" cy="507.9" r="3.4"/><circle cx="604" cy="436.7" r="2.2"/><circle cx="774.3" cy="448.8" r="3"/><circle cx="747.4" cy="485" r="3.3"/><circle cx="698.5" cy="500" r="3.5"/><circle cx="756.6" cy="398.3" r="2.9"/><circle cx="781.4" cy="465.1" r="2.5"/><circle cx="763" cy="376.5" r="2.9"/><circle cx="725.9" cy="515.7" r="2.9"/><circle cx="725" cy="517.5" r="3.4"/><circle cx="742.7" cy="529" r="2.7"/><circle cx="599.2" cy="395.5" r="2.5"/><circle cx="635.7" cy="525.8" r="2.3"/><circle cx="579.5" cy="419.2" r="3"/><circle cx="585.6" cy="442" r="2.7"/><circle cx="571.6" cy="400.9" r="2.1"/><circle cx="730.2" cy="548.5" r="2.6"/><circle cx="567" cy="417.6" r="2.6"/><circle cx="601.1" cy="480.6" r="3.3"/><circle cx="560.5" cy="389.1" r="3.1"/><circle cx="569.1" cy="459.5" r="3.4"/><circle cx="781.4" cy="496.4" r="3.1"/><circle cx="585.7" cy="398.2" r="2.7"/><circle cx="594.2" cy="505.2" r="2.8"/><circle cx="760" cy="499.7" r="3.2"/><circle cx="759" cy="502.3" r="2.5"/><circle cx="750.8" cy="382" r="3.2"/><circle cx="701.7" cy="526.5" r="3"/><circle cx="558.3" cy="440.3" r="3"/><circle cx="553.7" cy="456.3" r="2.2"/><circle cx="553.6" cy="456.3" r="2.7"/><circle cx="592.9" cy="377.4" r="2.5"/><circle cx="782.9" cy="383.5" r="2.7"/><circle cx="552.8" cy="480" r="3.4"/><circle cx="550.5" cy="376.2" r="2.6"/><circle cx="781.2" cy="431.6" r="3"/><circle cx="549.3" cy="424.8" r="3.5"/><circle cx="551.3" cy="422.3" r="2.2"/><circle cx="758.3" cy="514.6" r="2.8"/><circle cx="574.8" cy="499.9" r="3.3"/><circle cx="693.8" cy="544.4" r="2.1"/><circle cx="729.7" cy="565" r="2.9"/><circle cx="730.7" cy="564.2" r="2.2"/><circle cx="781.2" cy="523.9" r="2.2"/><circle cx="764.7" cy="531.3" r="3.4"/><circle cx="573.2" cy="526.7" r="2.2"/><circle cx="574.9" cy="525.6" r="3.5"/><circle cx="714.3" cy="590.8" r="2.8"/><circle cx="574.4" cy="379.5" r="2.7"/><circle cx="665.7" cy="513.6" r="3.4"/><circle cx="665.5" cy="515.7" r="2.4"/><circle cx="626.7" cy="496.4" r="2.7"/><circle cx="669" cy="534.5" r="2.7"/><circle cx="755.5" cy="415.6" r="2.6"/><circle cx="790" cy="405.1" r="2.7"/><circle cx="788.1" cy="401.5" r="2.8"/><circle cx="711.3" cy="553.4" r="2.9"/><circle cx="602.9" cy="526.5" r="2.5"/><circle cx="602.1" cy="527.4" r="2.3"/><circle cx="580.8" cy="512.9" r="2.2"/><circle cx="614" cy="538.6" r="3"/><circle cx="789" cy="540.7" r="3"/><circle cx="647" cy="534.8" r="2.6"/><circle cx="558.6" cy="519.7" r="2.6"/><circle cx="597.5" cy="550.3" r="3.4"/><circle cx="749" cy="545.5" r="2.8"/><circle cx="726.9" cy="614.4" r="2.4"/><circle cx="630.8" cy="546" r="3.2"/><circle cx="749" cy="571.8" r="2.3"/><circle cx="778.4" cy="567.4" r="3.1"/><circle cx="664.2" cy="561.3" r="2.8"/><circle cx="646.6" cy="558.7" r="3.2"/><circle cx="648.7" cy="560" r="2.9"/><circle cx="757.1" cy="557.5" r="3.2"/><circle cx="661.6" cy="578.8" r="2.9"/><circle cx="733.9" cy="586" r="2.9"/><circle cx="730.8" cy="585.6" r="2.3"/><circle cx="775.6" cy="550.4" r="3.1"/><circle cx="634.5" cy="569.8" r="2.6"/><circle cx="788" cy="554.4" r="3"/><circle cx="642.9" cy="586.8" r="3.1"/><circle cx="762.5" cy="580.7" r="2.2"/><circle cx="763.8" cy="581.8" r="2.7"/><circle cx="703.1" cy="570.9" r="3.1"/><circle cx="747.3" cy="605.1" r="2.6"/><circle cx="774.4" cy="595.6" r="2.3"/><circle cx="631.6" cy="609.2" r="2.9"/><circle cx="592.6" cy="597.2" r="3"/><circle cx="604.5" cy="606.5" r="2.4"/><circle cx="769" cy="612.4" r="2.3"/><circle cx="579.6" cy="559" r="2.9"/><circle cx="602.9" cy="574.7" r="2.8"/><circle cx="576.5" cy="609.2" r="2.8"/><circle cx="573.5" cy="608.8" r="3.2"/><circle cx="560.7" cy="567.6" r="3.1"/><circle cx="566.7" cy="583.9" r="3.1"/><circle cx="666.1" cy="595.5" r="3.1"/><circle cx="663.1" cy="593.9" r="2.4"/><circle cx="584" cy="579.5" r="3.4"/><circle cx="693.2" cy="606.4" r="2.9"/><circle cx="713.1" cy="608.1" r="2.9"/>
</g></g></g>
<rect x="48.8" y="78.3" width="237.6" height="236.0" fill="none" stroke="#444" stroke-width="1" stroke-dasharray="1 1" stroke-opacity="0.7"/>
<rect x="300.2" y="78.2" width="238.6" height="235.79999999999998" fill="none" stroke="#222" stroke-width="1.5"/>
<rect x="47.3" y="378.5" width="1" height="237.0" fill="#888" fill-opacity="0.6"/>
<rect x="551.2" y="378.5" width="1.2" height="237.0" fill="#333" fill-opacity="0.8"/>
<defs><linearGradient id="cb" x1="0" y1="0" x2="0" y2="1"><stop offset="0.000" stop-color="#ffffff"/><stop offset="0.028" stop-color="#fff0f0"/><stop offset="0.104" stop-color="#ffc0c0"/><stop offset="0.153" stop-color="#ff8060"/><stop offset="0.215" stop-color="#ff4000"/><stop offset="0.243" stop-color="#ff6000"/><stop offset="0.338" stop-color="#ffa000"/><stop offset="0.407" stop-color="#ffff00"/><stop offset="0.494" stop-color="#d0ff00"/><stop offset="0.543" stop-color="#80ff30"/><stop offset="0.604" stop-color="#10ee70"/><stop offset="0.664" stop-color="#00f0c8"/><stop offset="0.711" stop-color="#00eeff"/><stop offset="0.746" stop-color="#00ccff"/><stop offset="0.802" stop-color="#0080ff"/><stop offset="0.860" stop-color="#0010ff"/><stop offset="0.905" stop-color="#0000e0"/><stop offset="0.944" stop-color="#000080"/><stop offset="1.000" stop-color="#000000"/></linearGradient></defs>
<rect x="808.6" y="79.8" width="20.5" height="536" fill="url(#cb)" stroke="#222" stroke-width="1.6"/>
<rect x="833.9" y="79.5" width="81.8" height="45.5" fill="#fff" stroke="#a8a8a8" stroke-width="1.2"/>
<text x="874.8" y="113" font-size="29.3" text-anchor="middle">High</text>
<rect x="834.8" y="570" width="81.8" height="45.3" fill="#fff" stroke="#a8a8a8" stroke-width="1.2"/>
<text x="875.7" y="603" font-size="29.3" text-anchor="middle">Low</text>
<rect x="692.6" y="568.8" width="97.5" height="46.5" fill="#fff" stroke="#333" stroke-width="1.2"/>
<text x="741.8" y="597" font-size="26.5" text-anchor="middle">250 µm</text>
<rect x="721.4" y="608.2" width="46.5" height="2" fill="#000"/>
<defs><clipPath id="cT1"><path d="M1017.0,293.4 L1017.0,292.5 C1017.7,292.4 1020.1,292.2 1021.6,292.0 C1023.2,291.7 1024.8,291.7 1026.2,291.0 C1027.7,290.3 1029.1,289.0 1030.3,287.9 C1031.6,286.8 1032.7,285.9 1033.8,284.4 C1034.9,283.0 1035.8,280.9 1036.7,279.2 C1037.6,277.4 1038.1,275.4 1039.0,274.0 C1039.9,272.5 1040.9,271.6 1041.9,270.5 C1042.9,269.3 1043.9,268.2 1044.8,267.0 C1045.7,265.8 1046.4,265.2 1047.1,263.5 C1047.9,261.9 1048.8,259.4 1049.5,257.1 C1050.1,254.9 1050.6,252.2 1051.2,250.2 C1051.8,248.1 1052.3,246.3 1052.9,245.0 C1053.6,243.6 1054.5,242.8 1055.3,242.3 C1056.0,241.8 1056.7,241.9 1057.6,242.0 C1058.5,242.2 1059.6,242.8 1060.5,243.2 C1061.4,243.6 1062.1,244.3 1062.8,244.6 C1063.5,244.9 1063.9,244.2 1064.5,245.0 C1065.2,245.7 1065.9,248.1 1066.9,249.0 C1067.8,249.9 1069.0,250.3 1070.3,250.4 C1071.7,250.5 1073.2,249.9 1075.0,249.6 C1076.7,249.3 1079.2,248.6 1080.8,248.4 C1082.3,248.2 1082.9,248.6 1084.3,248.4 C1085.6,248.2 1086.8,247.9 1088.9,247.3 C1091.0,246.7 1094.7,245.6 1097.0,245.0 C1099.4,244.3 1100.9,243.8 1102.8,243.2 C1104.8,242.6 1106.7,242.1 1108.6,241.5 C1110.6,240.8 1112.5,240.1 1114.4,239.1 C1116.4,238.2 1117.9,237.6 1120.2,235.7 C1122.6,233.8 1125.8,230.7 1128.7,227.7 C1131.6,224.7 1134.8,221.4 1137.4,217.6 C1140.1,213.7 1142.5,208.6 1144.7,204.5 C1146.9,200.4 1148.5,197.2 1150.5,192.9 C1152.4,188.5 1154.3,183.5 1156.3,178.4 C1158.2,173.3 1160.2,167.5 1162.1,162.4 C1164.0,157.3 1166.0,153.0 1167.9,147.9 C1169.8,142.8 1171.8,136.8 1173.7,131.9 C1175.6,127.1 1177.8,121.9 1179.5,118.9 C1181.2,115.9 1182.4,115.0 1183.9,113.9 C1185.3,112.8 1186.8,112.2 1188.2,112.2 C1189.7,112.2 1191.1,112.8 1192.6,113.9 C1194.0,115.0 1195.5,116.4 1196.9,118.9 C1198.4,121.4 1199.8,125.2 1201.3,129.0 C1202.7,132.9 1204.2,137.5 1205.6,142.1 C1207.1,146.7 1208.5,151.5 1210.0,156.6 C1211.4,161.7 1212.9,167.0 1214.3,172.6 C1215.8,178.1 1217.5,185.1 1218.7,190.0 C1219.9,194.8 1220.6,198.0 1221.6,201.6 C1222.6,205.2 1223.3,207.9 1224.5,211.8 C1225.7,215.6 1227.4,220.2 1228.9,224.8 C1230.3,229.4 1231.5,234.0 1233.2,239.3 C1234.9,244.7 1237.1,251.4 1239.0,256.7 C1240.9,262.1 1242.9,267.4 1244.8,271.3 C1246.8,275.1 1248.2,277.6 1250.6,280.0 C1253.0,282.4 1255.9,284.2 1259.3,285.8 C1262.7,287.3 1267.1,288.4 1270.9,289.3 C1274.8,290.1 1278.7,290.6 1282.6,291.0 C1286.4,291.4 1291.7,291.7 1294.2,291.6 C1296.6,291.4 1296.6,290.4 1297.1,290.1 L1297.6,288.0 L1297.6,293.4 Z"/></clipPath><clipPath id="cTR1"><path d="M1017.0,293.4 L1017.0,292.5 C1017.7,292.4 1020.1,292.2 1021.6,292.0 C1023.2,291.7 1024.8,291.7 1026.2,291.0 C1027.7,290.3 1029.1,289.0 1030.3,287.9 C1031.6,286.8 1032.7,285.9 1033.8,284.4 C1034.9,283.0 1035.8,280.9 1036.7,279.2 C1037.6,277.4 1038.1,275.4 1039.0,274.0 C1039.9,272.5 1040.9,271.6 1041.9,270.5 C1042.9,269.3 1043.9,268.2 1044.8,267.0 C1045.7,265.8 1046.4,265.2 1047.1,263.5 C1047.9,261.9 1048.8,259.4 1049.5,257.1 C1050.1,254.9 1050.6,252.2 1051.2,250.2 C1051.8,248.1 1052.3,246.3 1052.9,245.0 C1053.6,243.6 1054.5,242.8 1055.3,242.3 C1056.0,241.8 1056.7,241.9 1057.6,242.0 C1058.5,242.2 1059.6,242.8 1060.5,243.2 C1061.4,243.6 1062.1,244.3 1062.8,244.6 C1063.5,244.9 1063.9,244.2 1064.5,245.0 C1065.2,245.7 1065.9,248.1 1066.9,249.0 C1067.8,249.9 1069.0,250.3 1070.3,250.4 C1071.7,250.5 1073.2,249.9 1075.0,249.6 C1076.7,249.3 1079.2,248.6 1080.8,248.4 C1082.3,248.2 1082.9,248.6 1084.3,248.4 C1085.6,248.2 1086.8,247.9 1088.9,247.3 C1091.0,246.7 1094.7,245.6 1097.0,245.0 C1099.4,244.3 1100.9,243.8 1102.8,243.2 C1104.8,242.6 1106.7,242.1 1108.6,241.5 C1110.6,240.8 1112.5,240.1 1114.4,239.1 C1116.4,238.2 1117.9,237.6 1120.2,235.7 C1122.6,233.8 1125.8,230.7 1128.7,227.7 C1131.6,224.7 1134.8,221.4 1137.4,217.6 C1140.1,213.7 1142.5,208.6 1144.7,204.5 C1146.9,200.4 1148.5,197.2 1150.5,192.9 C1152.4,188.5 1154.3,183.5 1156.3,178.4 C1158.2,173.3 1160.2,167.5 1162.1,162.4 C1164.0,157.3 1166.0,153.0 1167.9,147.9 C1169.8,142.8 1171.8,136.8 1173.7,131.9 C1175.6,127.1 1177.8,121.9 1179.5,118.9 C1181.2,115.9 1182.4,115.0 1183.9,113.9 C1185.3,112.8 1186.8,112.2 1188.2,112.2 C1189.7,112.2 1191.1,112.8 1192.6,113.9 C1194.0,115.0 1195.5,116.4 1196.9,118.9 C1198.4,121.4 1199.8,125.2 1201.3,129.0 C1202.7,132.9 1204.2,137.5 1205.6,142.1 C1207.1,146.7 1208.5,151.5 1210.0,156.6 C1211.4,161.7 1212.9,167.0 1214.3,172.6 C1215.8,178.1 1217.5,185.1 1218.7,190.0 C1219.9,194.8 1220.6,198.0 1221.6,201.6 C1222.6,205.2 1223.3,207.9 1224.5,211.8 C1225.7,215.6 1227.4,220.2 1228.9,224.8 C1230.3,229.4 1231.5,234.0 1233.2,239.3 C1234.9,244.7 1237.1,251.4 1239.0,256.7 C1240.9,262.1 1242.9,267.4 1244.8,271.3 C1246.8,275.1 1248.2,277.6 1250.6,280.0 C1253.0,282.4 1255.9,284.2 1259.3,285.8 C1262.7,287.3 1267.1,288.4 1270.9,289.3 C1274.8,290.1 1278.7,290.6 1282.6,291.0 C1286.4,291.4 1291.7,291.7 1294.2,291.6 C1296.6,291.4 1296.6,290.4 1297.1,290.1 L1297.6,288.0 L1297.6,293.4 Z"/><path d="M1042.5,293.4 L1042.5,291.4 C1042.9,291.2 1043.8,291.3 1044.8,290.2 C1045.8,289.1 1047.1,287.0 1048.3,285.0 C1049.5,283.0 1050.4,280.5 1051.8,278.0 C1053.1,275.5 1055.1,272.2 1056.4,269.9 C1057.8,267.6 1058.8,266.0 1059.9,264.1 C1061.0,262.2 1062.0,260.0 1062.8,258.3 C1063.6,256.6 1064.1,255.2 1064.5,253.7 C1065.0,252.1 1065.3,250.9 1065.7,249.0 C1066.1,247.1 1066.5,244.4 1066.9,242.0 C1067.3,239.7 1067.6,236.3 1068.0,235.1 C1068.4,233.8 1068.7,234.1 1069.2,234.5 C1069.7,234.9 1070.2,236.2 1070.9,237.4 C1071.6,238.7 1072.3,241.0 1073.2,242.0 C1074.2,243.1 1075.6,243.1 1076.7,243.8 C1077.9,244.5 1079.0,245.2 1080.2,246.1 C1081.5,247.0 1083.2,248.0 1084.3,249.0 C1085.3,250.0 1085.8,251.1 1086.6,251.9 C1087.4,252.7 1087.8,253.5 1088.9,253.9 C1090.1,254.2 1091.6,254.1 1093.6,254.0 C1095.5,253.9 1098.6,253.4 1100.5,253.1 C1102.5,252.7 1103.6,252.0 1105.2,251.9 C1106.7,251.9 1108.3,252.5 1109.8,252.8 C1111.4,253.2 1112.7,253.7 1114.4,253.9 C1116.2,254.1 1118.3,254.2 1120.2,254.2 C1122.2,254.2 1123.7,254.7 1126.0,253.9 C1128.4,253.1 1130.7,251.2 1134.5,249.5 C1138.3,247.8 1144.2,245.5 1149.0,243.7 C1153.9,241.9 1158.7,240.4 1163.5,238.8 C1168.4,237.1 1173.2,235.4 1178.1,233.5 C1182.9,231.7 1187.7,229.7 1192.6,227.7 C1197.4,225.8 1202.2,223.9 1207.1,221.9 C1211.9,220.0 1216.8,218.4 1221.6,216.1 C1226.4,213.8 1231.8,210.4 1236.1,208.0 C1240.5,205.6 1244.3,203.4 1247.7,201.6 C1251.1,199.8 1254.0,198.7 1256.4,197.2 C1258.8,195.8 1259.8,195.1 1262.2,192.9 C1264.7,190.7 1264.6,193.1 1270.9,184.2 C1277.2,175.2 1294.1,148.5 1300.0,139.1 C1305.9,129.7 1304.3,131.4 1306.4,127.9 C1308.5,124.5 1310.6,121.0 1312.8,118.3 C1314.9,115.7 1317.0,113.4 1319.2,111.9 C1321.3,110.5 1323.4,109.8 1325.6,109.4 C1327.7,109.0 1329.8,109.0 1331.9,109.4 C1334.1,109.8 1336.2,110.7 1338.3,111.9 C1340.5,113.2 1342.6,114.3 1344.7,116.7 C1346.9,119.1 1349.0,122.6 1351.1,126.3 C1353.2,130.1 1355.4,134.3 1357.5,139.1 C1359.6,143.9 1361.8,150.0 1363.9,155.1 C1366.0,160.1 1368.4,165.9 1370.3,169.5 C1372.2,173.0 1373.5,173.8 1375.1,176.5 C1376.7,179.1 1378.0,181.3 1379.9,185.4 C1381.7,189.6 1384.1,196.6 1386.3,201.4 C1388.4,206.2 1390.5,209.9 1392.7,214.2 C1394.8,218.4 1396.4,222.2 1399.0,227.0 C1401.7,231.8 1405.4,238.1 1408.6,242.9 C1411.8,247.7 1415.0,251.7 1418.2,255.7 C1421.4,259.7 1424.6,263.7 1427.8,266.9 C1431.0,270.1 1433.7,272.5 1437.4,274.9 C1441.1,277.3 1445.4,279.4 1450.2,281.3 C1455.0,283.1 1460.8,284.8 1466.1,286.1 C1471.5,287.3 1477.9,288.2 1482.1,288.6 C1486.4,289.0 1488.1,288.3 1491.6,288.6 C1495.1,288.9 1499.3,290.0 1503.2,290.4 C1507.1,290.9 1511.0,291.1 1514.8,291.3 C1518.7,291.6 1524.5,291.9 1526.4,292.0 L1533.4,287.0 L1533.4,293.4 Z"/></clipPath><clipPath id="cAx1"><rect x="1017.0" y="65.3" width="719.0" height="228.09999999999997"/></clipPath><mask id="mO1" maskUnits="userSpaceOnUse" x="1012.0" y="60.3" width="729.0" height="238.09999999999997"><rect x="1012.0" y="60.3" width="729.0" height="238.09999999999997" fill="#fff"/><path d="M1058.7,293.4 L1058.7,292.2 C1059.9,292.1 1063.4,292.1 1065.7,292.0 C1068.0,291.8 1070.7,291.5 1072.7,291.0 C1074.6,290.5 1075.8,289.8 1077.3,289.0 C1078.9,288.3 1080.0,287.0 1082.0,286.4 C1083.9,285.7 1086.6,285.7 1088.9,285.2 C1091.2,284.7 1093.9,284.3 1095.9,283.2 C1097.8,282.1 1099.0,280.4 1100.5,278.6 C1102.1,276.8 1103.4,274.4 1105.2,272.2 C1106.9,270.0 1109.0,267.0 1111.0,265.3 C1112.9,263.5 1114.8,262.9 1116.8,261.8 C1118.7,260.6 1121.1,259.6 1122.6,258.3 C1124.1,257.0 1124.1,255.8 1125.8,253.8 C1127.6,251.9 1130.6,249.0 1133.1,246.6 C1135.5,244.2 1137.7,241.4 1140.3,239.3 C1143.0,237.3 1146.1,235.6 1149.0,234.1 C1151.9,232.7 1154.8,232.1 1157.7,230.6 C1160.6,229.2 1163.5,227.3 1166.4,225.4 C1169.3,223.5 1172.2,220.9 1175.2,219.0 C1178.1,217.1 1181.2,215.3 1183.9,214.1 C1186.5,212.9 1188.7,212.4 1191.1,211.8 C1193.5,211.1 1195.7,211.0 1198.4,210.3 C1201.0,209.6 1204.2,208.4 1207.1,207.4 C1210.0,206.4 1212.9,205.5 1215.8,204.5 C1218.7,203.5 1221.6,202.5 1224.5,201.6 C1227.4,200.7 1230.3,199.9 1233.2,199.3 C1236.1,198.7 1239.0,198.3 1241.9,198.1 C1244.8,197.9 1247.7,198.0 1250.6,198.1 C1253.5,198.2 1256.4,198.5 1259.3,198.7 C1262.2,198.9 1265.1,198.8 1268.0,199.3 C1270.9,199.8 1273.8,200.7 1276.7,201.6 C1279.7,202.5 1282.6,203.8 1285.5,204.5 C1288.4,205.2 1291.3,205.7 1294.2,206.0 C1297.1,206.2 1299.5,206.0 1302.9,206.0 C1306.2,205.9 1311.1,206.1 1314.4,205.6 C1317.6,205.1 1319.4,204.1 1322.4,203.0 C1325.3,201.9 1328.8,200.2 1331.9,198.8 C1335.1,197.5 1338.3,196.2 1341.5,195.0 C1344.7,193.8 1348.2,192.9 1351.1,191.8 C1354.0,190.8 1356.4,190.1 1359.1,188.6 C1361.8,187.1 1364.4,184.9 1367.1,182.9 C1369.8,180.9 1372.4,178.7 1375.1,176.5 C1377.7,174.2 1380.1,172.2 1383.1,169.5 C1386.0,166.7 1389.5,163.3 1392.7,159.9 C1395.8,156.4 1399.0,152.4 1402.2,148.7 C1405.4,145.0 1408.6,141.2 1411.8,137.5 C1415.0,133.8 1418.7,129.1 1421.4,126.3 C1424.1,123.6 1425.7,122.3 1427.8,120.9 C1429.9,119.5 1432.1,118.4 1434.2,117.7 C1436.3,117.0 1438.4,116.6 1440.6,116.7 C1442.7,116.8 1444.8,117.6 1447.0,118.3 C1449.1,119.0 1450.7,119.3 1453.4,120.9 C1456.0,122.5 1459.7,125.7 1462.9,127.9 C1466.1,130.2 1469.3,132.2 1472.5,134.3 C1475.7,136.4 1479.3,138.0 1482.1,140.7 C1484.9,143.4 1486.5,147.5 1489.3,150.4 C1492.0,153.4 1495.5,155.5 1498.6,158.6 C1501.7,161.7 1504.8,165.3 1507.9,169.0 C1511.0,172.7 1514.0,176.8 1517.1,180.6 C1520.2,184.5 1523.3,188.6 1526.4,192.2 C1529.5,195.9 1532.6,199.0 1535.7,202.7 C1538.8,206.3 1541.9,210.8 1545.0,214.3 C1548.1,217.8 1551.2,220.7 1554.3,223.6 C1557.4,226.5 1560.5,229.1 1563.6,231.7 C1566.7,234.3 1569.8,236.9 1572.9,239.4 C1575.9,241.8 1579.0,244.1 1582.1,246.3 C1585.2,248.5 1588.3,250.6 1591.4,252.6 C1594.5,254.6 1597.6,256.6 1600.7,258.4 C1603.8,260.1 1606.9,261.5 1610.0,263.0 C1613.1,264.6 1616.2,266.2 1619.3,267.7 C1622.4,269.1 1625.5,270.7 1628.6,271.8 C1631.7,273.0 1634.8,273.7 1637.8,274.6 C1640.9,275.6 1644.0,276.6 1647.1,277.4 C1650.2,278.3 1653.3,279.0 1656.4,279.7 C1659.5,280.5 1662.2,281.3 1665.7,282.1 C1669.2,282.8 1673.4,283.7 1677.3,284.4 C1681.2,285.1 1685.0,285.7 1688.9,286.2 C1692.8,286.8 1696.7,287.2 1700.5,287.6 C1704.4,288.1 1708.3,288.4 1712.1,288.8 C1716.0,289.1 1720.1,289.5 1723.7,289.7 C1727.4,290.0 1732.4,290.3 1734.2,290.4 L1734.2,293.4 Z" fill="#000"/></mask></defs>
<g clip-path="url(#cAx1)">
<path d="M1017.0,293.4 L1017.0,292.5 C1017.7,292.4 1020.1,292.2 1021.6,292.0 C1023.2,291.7 1024.8,291.7 1026.2,291.0 C1027.7,290.3 1029.1,289.0 1030.3,287.9 C1031.6,286.8 1032.7,285.9 1033.8,284.4 C1034.9,283.0 1035.8,280.9 1036.7,279.2 C1037.6,277.4 1038.1,275.4 1039.0,274.0 C1039.9,272.5 1040.9,271.6 1041.9,270.5 C1042.9,269.3 1043.9,268.2 1044.8,267.0 C1045.7,265.8 1046.4,265.2 1047.1,263.5 C1047.9,261.9 1048.8,259.4 1049.5,257.1 C1050.1,254.9 1050.6,252.2 1051.2,250.2 C1051.8,248.1 1052.3,246.3 1052.9,245.0 C1053.6,243.6 1054.5,242.8 1055.3,242.3 C1056.0,241.8 1056.7,241.9 1057.6,242.0 C1058.5,242.2 1059.6,242.8 1060.5,243.2 C1061.4,243.6 1062.1,244.3 1062.8,244.6 C1063.5,244.9 1063.9,244.2 1064.5,245.0 C1065.2,245.7 1065.9,248.1 1066.9,249.0 C1067.8,249.9 1069.0,250.3 1070.3,250.4 C1071.7,250.5 1073.2,249.9 1075.0,249.6 C1076.7,249.3 1079.2,248.6 1080.8,248.4 C1082.3,248.2 1082.9,248.6 1084.3,248.4 C1085.6,248.2 1086.8,247.9 1088.9,247.3 C1091.0,246.7 1094.7,245.6 1097.0,245.0 C1099.4,244.3 1100.9,243.8 1102.8,243.2 C1104.8,242.6 1106.7,242.1 1108.6,241.5 C1110.6,240.8 1112.5,240.1 1114.4,239.1 C1116.4,238.2 1117.9,237.6 1120.2,235.7 C1122.6,233.8 1125.8,230.7 1128.7,227.7 C1131.6,224.7 1134.8,221.4 1137.4,217.6 C1140.1,213.7 1142.5,208.6 1144.7,204.5 C1146.9,200.4 1148.5,197.2 1150.5,192.9 C1152.4,188.5 1154.3,183.5 1156.3,178.4 C1158.2,173.3 1160.2,167.5 1162.1,162.4 C1164.0,157.3 1166.0,153.0 1167.9,147.9 C1169.8,142.8 1171.8,136.8 1173.7,131.9 C1175.6,127.1 1177.8,121.9 1179.5,118.9 C1181.2,115.9 1182.4,115.0 1183.9,113.9 C1185.3,112.8 1186.8,112.2 1188.2,112.2 C1189.7,112.2 1191.1,112.8 1192.6,113.9 C1194.0,115.0 1195.5,116.4 1196.9,118.9 C1198.4,121.4 1199.8,125.2 1201.3,129.0 C1202.7,132.9 1204.2,137.5 1205.6,142.1 C1207.1,146.7 1208.5,151.5 1210.0,156.6 C1211.4,161.7 1212.9,167.0 1214.3,172.6 C1215.8,178.1 1217.5,185.1 1218.7,190.0 C1219.9,194.8 1220.6,198.0 1221.6,201.6 C1222.6,205.2 1223.3,207.9 1224.5,211.8 C1225.7,215.6 1227.4,220.2 1228.9,224.8 C1230.3,229.4 1231.5,234.0 1233.2,239.3 C1234.9,244.7 1237.1,251.4 1239.0,256.7 C1240.9,262.1 1242.9,267.4 1244.8,271.3 C1246.8,275.1 1248.2,277.6 1250.6,280.0 C1253.0,282.4 1255.9,284.2 1259.3,285.8 C1262.7,287.3 1267.1,288.4 1270.9,289.3 C1274.8,290.1 1278.7,290.6 1282.6,291.0 C1286.4,291.4 1291.7,291.7 1294.2,291.6 C1296.6,291.4 1296.6,290.4 1297.1,290.1 L1297.6,288.0 L1297.6,293.4 Z" fill="#457a85"/>
<path d="M1017.0,292.5 C1017.7,292.4 1020.1,292.2 1021.6,292.0 C1023.2,291.7 1024.8,291.7 1026.2,291.0 C1027.7,290.3 1029.1,289.0 1030.3,287.9 C1031.6,286.8 1032.7,285.9 1033.8,284.4 C1034.9,283.0 1035.8,280.9 1036.7,279.2 C1037.6,277.4 1038.1,275.4 1039.0,274.0 C1039.9,272.5 1040.9,271.6 1041.9,270.5 C1042.9,269.3 1043.9,268.2 1044.8,267.0 C1045.7,265.8 1046.4,265.2 1047.1,263.5 C1047.9,261.9 1048.8,259.4 1049.5,257.1 C1050.1,254.9 1050.6,252.2 1051.2,250.2 C1051.8,248.1 1052.3,246.3 1052.9,245.0 C1053.6,243.6 1054.5,242.8 1055.3,242.3 C1056.0,241.8 1056.7,241.9 1057.6,242.0 C1058.5,242.2 1059.6,242.8 1060.5,243.2 C1061.4,243.6 1062.1,244.3 1062.8,244.6 C1063.5,244.9 1063.9,244.2 1064.5,245.0 C1065.2,245.7 1065.9,248.1 1066.9,249.0 C1067.8,249.9 1069.0,250.3 1070.3,250.4 C1071.7,250.5 1073.2,249.9 1075.0,249.6 C1076.7,249.3 1079.2,248.6 1080.8,248.4 C1082.3,248.2 1082.9,248.6 1084.3,248.4 C1085.6,248.2 1086.8,247.9 1088.9,247.3 C1091.0,246.7 1094.7,245.6 1097.0,245.0 C1099.4,244.3 1100.9,243.8 1102.8,243.2 C1104.8,242.6 1106.7,242.1 1108.6,241.5 C1110.6,240.8 1112.5,240.1 1114.4,239.1 C1116.4,238.2 1117.9,237.6 1120.2,235.7 C1122.6,233.8 1125.8,230.7 1128.7,227.7 C1131.6,224.7 1134.8,221.4 1137.4,217.6 C1140.1,213.7 1142.5,208.6 1144.7,204.5 C1146.9,200.4 1148.5,197.2 1150.5,192.9 C1152.4,188.5 1154.3,183.5 1156.3,178.4 C1158.2,173.3 1160.2,167.5 1162.1,162.4 C1164.0,157.3 1166.0,153.0 1167.9,147.9 C1169.8,142.8 1171.8,136.8 1173.7,131.9 C1175.6,127.1 1177.8,121.9 1179.5,118.9 C1181.2,115.9 1182.4,115.0 1183.9,113.9 C1185.3,112.8 1186.8,112.2 1188.2,112.2 C1189.7,112.2 1191.1,112.8 1192.6,113.9 C1194.0,115.0 1195.5,116.4 1196.9,118.9 C1198.4,121.4 1199.8,125.2 1201.3,129.0 C1202.7,132.9 1204.2,137.5 1205.6,142.1 C1207.1,146.7 1208.5,151.5 1210.0,156.6 C1211.4,161.7 1212.9,167.0 1214.3,172.6 C1215.8,178.1 1217.5,185.1 1218.7,190.0 C1219.9,194.8 1220.6,198.0 1221.6,201.6 C1222.6,205.2 1223.3,207.9 1224.5,211.8 C1225.7,215.6 1227.4,220.2 1228.9,224.8 C1230.3,229.4 1231.5,234.0 1233.2,239.3 C1234.9,244.7 1237.1,251.4 1239.0,256.7 C1240.9,262.1 1242.9,267.4 1244.8,271.3 C1246.8,275.1 1248.2,277.6 1250.6,280.0 C1253.0,282.4 1255.9,284.2 1259.3,285.8 C1262.7,287.3 1267.1,288.4 1270.9,289.3 C1274.8,290.1 1278.7,290.6 1282.6,291.0 C1286.4,291.4 1291.7,291.7 1294.2,291.6 C1296.6,291.4 1296.6,290.4 1297.1,290.1 L1297.6,288.0 L1297.6,293.4" fill="none" stroke="#000" stroke-width="1.7" stroke-linejoin="round"/>
<path d="M1017.0,292.5 C1017.7,292.4 1020.1,292.2 1021.6,292.0 C1023.2,291.7 1024.8,291.7 1026.2,291.0 C1027.7,290.3 1029.1,289.0 1030.3,287.9 C1031.6,286.8 1032.7,285.9 1033.8,284.4 C1034.9,283.0 1035.8,280.9 1036.7,279.2 C1037.6,277.4 1038.1,275.4 1039.0,274.0 C1039.9,272.5 1040.9,271.6 1041.9,270.5 C1042.9,269.3 1043.9,268.2 1044.8,267.0 C1045.7,265.8 1046.4,265.2 1047.1,263.5 C1047.9,261.9 1048.8,259.4 1049.5,257.1 C1050.1,254.9 1050.6,252.2 1051.2,250.2 C1051.8,248.1 1052.3,246.3 1052.9,245.0 C1053.6,243.6 1054.5,242.8 1055.3,242.3 C1056.0,241.8 1056.7,241.9 1057.6,242.0 C1058.5,242.2 1059.6,242.8 1060.5,243.2 C1061.4,243.6 1062.1,244.3 1062.8,244.6 C1063.5,244.9 1063.9,244.2 1064.5,245.0 C1065.2,245.7 1065.9,248.1 1066.9,249.0 C1067.8,249.9 1069.0,250.3 1070.3,250.4 C1071.7,250.5 1073.2,249.9 1075.0,249.6 C1076.7,249.3 1079.2,248.6 1080.8,248.4 C1082.3,248.2 1082.9,248.6 1084.3,248.4 C1085.6,248.2 1086.8,247.9 1088.9,247.3 C1091.0,246.7 1094.7,245.6 1097.0,245.0 C1099.4,244.3 1100.9,243.8 1102.8,243.2 C1104.8,242.6 1106.7,242.1 1108.6,241.5 C1110.6,240.8 1112.5,240.1 1114.4,239.1 C1116.4,238.2 1117.9,237.6 1120.2,235.7 C1122.6,233.8 1125.8,230.7 1128.7,227.7 C1131.6,224.7 1134.8,221.4 1137.4,217.6 C1140.1,213.7 1142.5,208.6 1144.7,204.5 C1146.9,200.4 1148.5,197.2 1150.5,192.9 C1152.4,188.5 1154.3,183.5 1156.3,178.4 C1158.2,173.3 1160.2,167.5 1162.1,162.4 C1164.0,157.3 1166.0,153.0 1167.9,147.9 C1169.8,142.8 1171.8,136.8 1173.7,131.9 C1175.6,127.1 1177.8,121.9 1179.5,118.9 C1181.2,115.9 1182.4,115.0 1183.9,113.9 C1185.3,112.8 1186.8,112.2 1188.2,112.2 C1189.7,112.2 1191.1,112.8 1192.6,113.9 C1194.0,115.0 1195.5,116.4 1196.9,118.9 C1198.4,121.4 1199.8,125.2 1201.3,129.0 C1202.7,132.9 1204.2,137.5 1205.6,142.1 C1207.1,146.7 1208.5,151.5 1210.0,156.6 C1211.4,161.7 1212.9,167.0 1214.3,172.6 C1215.8,178.1 1217.5,185.1 1218.7,190.0 C1219.9,194.8 1220.6,198.0 1221.6,201.6 C1222.6,205.2 1223.3,207.9 1224.5,211.8 C1225.7,215.6 1227.4,220.2 1228.9,224.8 C1230.3,229.4 1231.5,234.0 1233.2,239.3 C1234.9,244.7 1237.1,251.4 1239.0,256.7 C1240.9,262.1 1242.9,267.4 1244.8,271.3 C1246.8,275.1 1248.2,277.6 1250.6,280.0 C1253.0,282.4 1255.9,284.2 1259.3,285.8 C1262.7,287.3 1267.1,288.4 1270.9,289.3 C1274.8,290.1 1278.7,290.6 1282.6,291.0 C1286.4,291.4 1291.7,291.7 1294.2,291.6 C1296.6,291.4 1296.6,290.4 1297.1,290.1 L1297.6,288.0 L1297.6,293.4" fill="none" stroke="#000" stroke-width="2.5" stroke-linejoin="round" mask="url(#mO1)"/>
<path d="M1042.5,293.4 L1042.5,291.4 C1042.9,291.2 1043.8,291.3 1044.8,290.2 C1045.8,289.1 1047.1,287.0 1048.3,285.0 C1049.5,283.0 1050.4,280.5 1051.8,278.0 C1053.1,275.5 1055.1,272.2 1056.4,269.9 C1057.8,267.6 1058.8,266.0 1059.9,264.1 C1061.0,262.2 1062.0,260.0 1062.8,258.3 C1063.6,256.6 1064.1,255.2 1064.5,253.7 C1065.0,252.1 1065.3,250.9 1065.7,249.0 C1066.1,247.1 1066.5,244.4 1066.9,242.0 C1067.3,239.7 1067.6,236.3 1068.0,235.1 C1068.4,233.8 1068.7,234.1 1069.2,234.5 C1069.7,234.9 1070.2,236.2 1070.9,237.4 C1071.6,238.7 1072.3,241.0 1073.2,242.0 C1074.2,243.1 1075.6,243.1 1076.7,243.8 C1077.9,244.5 1079.0,245.2 1080.2,246.1 C1081.5,247.0 1083.2,248.0 1084.3,249.0 C1085.3,250.0 1085.8,251.1 1086.6,251.9 C1087.4,252.7 1087.8,253.5 1088.9,253.9 C1090.1,254.2 1091.6,254.1 1093.6,254.0 C1095.5,253.9 1098.6,253.4 1100.5,253.1 C1102.5,252.7 1103.6,252.0 1105.2,251.9 C1106.7,251.9 1108.3,252.5 1109.8,252.8 C1111.4,253.2 1112.7,253.7 1114.4,253.9 C1116.2,254.1 1118.3,254.2 1120.2,254.2 C1122.2,254.2 1123.7,254.7 1126.0,253.9 C1128.4,253.1 1130.7,251.2 1134.5,249.5 C1138.3,247.8 1144.2,245.5 1149.0,243.7 C1153.9,241.9 1158.7,240.4 1163.5,238.8 C1168.4,237.1 1173.2,235.4 1178.1,233.5 C1182.9,231.7 1187.7,229.7 1192.6,227.7 C1197.4,225.8 1202.2,223.9 1207.1,221.9 C1211.9,220.0 1216.8,218.4 1221.6,216.1 C1226.4,213.8 1231.8,210.4 1236.1,208.0 C1240.5,205.6 1244.3,203.4 1247.7,201.6 C1251.1,199.8 1254.0,198.7 1256.4,197.2 C1258.8,195.8 1259.8,195.1 1262.2,192.9 C1264.7,190.7 1264.6,193.1 1270.9,184.2 C1277.2,175.2 1294.1,148.5 1300.0,139.1 C1305.9,129.7 1304.3,131.4 1306.4,127.9 C1308.5,124.5 1310.6,121.0 1312.8,118.3 C1314.9,115.7 1317.0,113.4 1319.2,111.9 C1321.3,110.5 1323.4,109.8 1325.6,109.4 C1327.7,109.0 1329.8,109.0 1331.9,109.4 C1334.1,109.8 1336.2,110.7 1338.3,111.9 C1340.5,113.2 1342.6,114.3 1344.7,116.7 C1346.9,119.1 1349.0,122.6 1351.1,126.3 C1353.2,130.1 1355.4,134.3 1357.5,139.1 C1359.6,143.9 1361.8,150.0 1363.9,155.1 C1366.0,160.1 1368.4,165.9 1370.3,169.5 C1372.2,173.0 1373.5,173.8 1375.1,176.5 C1376.7,179.1 1378.0,181.3 1379.9,185.4 C1381.7,189.6 1384.1,196.6 1386.3,201.4 C1388.4,206.2 1390.5,209.9 1392.7,214.2 C1394.8,218.4 1396.4,222.2 1399.0,227.0 C1401.7,231.8 1405.4,238.1 1408.6,242.9 C1411.8,247.7 1415.0,251.7 1418.2,255.7 C1421.4,259.7 1424.6,263.7 1427.8,266.9 C1431.0,270.1 1433.7,272.5 1437.4,274.9 C1441.1,277.3 1445.4,279.4 1450.2,281.3 C1455.0,283.1 1460.8,284.8 1466.1,286.1 C1471.5,287.3 1477.9,288.2 1482.1,288.6 C1486.4,289.0 1488.1,288.3 1491.6,288.6 C1495.1,288.9 1499.3,290.0 1503.2,290.4 C1507.1,290.9 1511.0,291.1 1514.8,291.3 C1518.7,291.6 1524.5,291.9 1526.4,292.0 L1533.4,287.0 L1533.4,293.4 Z" fill="#af0000" fill-opacity="0.5"/>
<path d="M1042.5,293.4 L1042.5,291.4 C1042.9,291.2 1043.8,291.3 1044.8,290.2 C1045.8,289.1 1047.1,287.0 1048.3,285.0 C1049.5,283.0 1050.4,280.5 1051.8,278.0 C1053.1,275.5 1055.1,272.2 1056.4,269.9 C1057.8,267.6 1058.8,266.0 1059.9,264.1 C1061.0,262.2 1062.0,260.0 1062.8,258.3 C1063.6,256.6 1064.1,255.2 1064.5,253.7 C1065.0,252.1 1065.3,250.9 1065.7,249.0 C1066.1,247.1 1066.5,244.4 1066.9,242.0 C1067.3,239.7 1067.6,236.3 1068.0,235.1 C1068.4,233.8 1068.7,234.1 1069.2,234.5 C1069.7,234.9 1070.2,236.2 1070.9,237.4 C1071.6,238.7 1072.3,241.0 1073.2,242.0 C1074.2,243.1 1075.6,243.1 1076.7,243.8 C1077.9,244.5 1079.0,245.2 1080.2,246.1 C1081.5,247.0 1083.2,248.0 1084.3,249.0 C1085.3,250.0 1085.8,251.1 1086.6,251.9 C1087.4,252.7 1087.8,253.5 1088.9,253.9 C1090.1,254.2 1091.6,254.1 1093.6,254.0 C1095.5,253.9 1098.6,253.4 1100.5,253.1 C1102.5,252.7 1103.6,252.0 1105.2,251.9 C1106.7,251.9 1108.3,252.5 1109.8,252.8 C1111.4,253.2 1112.7,253.7 1114.4,253.9 C1116.2,254.1 1118.3,254.2 1120.2,254.2 C1122.2,254.2 1123.7,254.7 1126.0,253.9 C1128.4,253.1 1130.7,251.2 1134.5,249.5 C1138.3,247.8 1144.2,245.5 1149.0,243.7 C1153.9,241.9 1158.7,240.4 1163.5,238.8 C1168.4,237.1 1173.2,235.4 1178.1,233.5 C1182.9,231.7 1187.7,229.7 1192.6,227.7 C1197.4,225.8 1202.2,223.9 1207.1,221.9 C1211.9,220.0 1216.8,218.4 1221.6,216.1 C1226.4,213.8 1231.8,210.4 1236.1,208.0 C1240.5,205.6 1244.3,203.4 1247.7,201.6 C1251.1,199.8 1254.0,198.7 1256.4,197.2 C1258.8,195.8 1259.8,195.1 1262.2,192.9 C1264.7,190.7 1264.6,193.1 1270.9,184.2 C1277.2,175.2 1294.1,148.5 1300.0,139.1 C1305.9,129.7 1304.3,131.4 1306.4,127.9 C1308.5,124.5 1310.6,121.0 1312.8,118.3 C1314.9,115.7 1317.0,113.4 1319.2,111.9 C1321.3,110.5 1323.4,109.8 1325.6,109.4 C1327.7,109.0 1329.8,109.0 1331.9,109.4 C1334.1,109.8 1336.2,110.7 1338.3,111.9 C1340.5,113.2 1342.6,114.3 1344.7,116.7 C1346.9,119.1 1349.0,122.6 1351.1,126.3 C1353.2,130.1 1355.4,134.3 1357.5,139.1 C1359.6,143.9 1361.8,150.0 1363.9,155.1 C1366.0,160.1 1368.4,165.9 1370.3,169.5 C1372.2,173.0 1373.5,173.8 1375.1,176.5 C1376.7,179.1 1378.0,181.3 1379.9,185.4 C1381.7,189.6 1384.1,196.6 1386.3,201.4 C1388.4,206.2 1390.5,209.9 1392.7,214.2 C1394.8,218.4 1396.4,222.2 1399.0,227.0 C1401.7,231.8 1405.4,238.1 1408.6,242.9 C1411.8,247.7 1415.0,251.7 1418.2,255.7 C1421.4,259.7 1424.6,263.7 1427.8,266.9 C1431.0,270.1 1433.7,272.5 1437.4,274.9 C1441.1,277.3 1445.4,279.4 1450.2,281.3 C1455.0,283.1 1460.8,284.8 1466.1,286.1 C1471.5,287.3 1477.9,288.2 1482.1,288.6 C1486.4,289.0 1488.1,288.3 1491.6,288.6 C1495.1,288.9 1499.3,290.0 1503.2,290.4 C1507.1,290.9 1511.0,291.1 1514.8,291.3 C1518.7,291.6 1524.5,291.9 1526.4,292.0 L1533.4,287.0 L1533.4,293.4 Z" fill="#af0000" fill-opacity="0.4" clip-path="url(#cT1)"/>
<path d="M1042.5,291.4 C1042.9,291.2 1043.8,291.3 1044.8,290.2 C1045.8,289.1 1047.1,287.0 1048.3,285.0 C1049.5,283.0 1050.4,280.5 1051.8,278.0 C1053.1,275.5 1055.1,272.2 1056.4,269.9 C1057.8,267.6 1058.8,266.0 1059.9,264.1 C1061.0,262.2 1062.0,260.0 1062.8,258.3 C1063.6,256.6 1064.1,255.2 1064.5,253.7 C1065.0,252.1 1065.3,250.9 1065.7,249.0 C1066.1,247.1 1066.5,244.4 1066.9,242.0 C1067.3,239.7 1067.6,236.3 1068.0,235.1 C1068.4,233.8 1068.7,234.1 1069.2,234.5 C1069.7,234.9 1070.2,236.2 1070.9,237.4 C1071.6,238.7 1072.3,241.0 1073.2,242.0 C1074.2,243.1 1075.6,243.1 1076.7,243.8 C1077.9,244.5 1079.0,245.2 1080.2,246.1 C1081.5,247.0 1083.2,248.0 1084.3,249.0 C1085.3,250.0 1085.8,251.1 1086.6,251.9 C1087.4,252.7 1087.8,253.5 1088.9,253.9 C1090.1,254.2 1091.6,254.1 1093.6,254.0 C1095.5,253.9 1098.6,253.4 1100.5,253.1 C1102.5,252.7 1103.6,252.0 1105.2,251.9 C1106.7,251.9 1108.3,252.5 1109.8,252.8 C1111.4,253.2 1112.7,253.7 1114.4,253.9 C1116.2,254.1 1118.3,254.2 1120.2,254.2 C1122.2,254.2 1123.7,254.7 1126.0,253.9 C1128.4,253.1 1130.7,251.2 1134.5,249.5 C1138.3,247.8 1144.2,245.5 1149.0,243.7 C1153.9,241.9 1158.7,240.4 1163.5,238.8 C1168.4,237.1 1173.2,235.4 1178.1,233.5 C1182.9,231.7 1187.7,229.7 1192.6,227.7 C1197.4,225.8 1202.2,223.9 1207.1,221.9 C1211.9,220.0 1216.8,218.4 1221.6,216.1 C1226.4,213.8 1231.8,210.4 1236.1,208.0 C1240.5,205.6 1244.3,203.4 1247.7,201.6 C1251.1,199.8 1254.0,198.7 1256.4,197.2 C1258.8,195.8 1259.8,195.1 1262.2,192.9 C1264.7,190.7 1264.6,193.1 1270.9,184.2 C1277.2,175.2 1294.1,148.5 1300.0,139.1 C1305.9,129.7 1304.3,131.4 1306.4,127.9 C1308.5,124.5 1310.6,121.0 1312.8,118.3 C1314.9,115.7 1317.0,113.4 1319.2,111.9 C1321.3,110.5 1323.4,109.8 1325.6,109.4 C1327.7,109.0 1329.8,109.0 1331.9,109.4 C1334.1,109.8 1336.2,110.7 1338.3,111.9 C1340.5,113.2 1342.6,114.3 1344.7,116.7 C1346.9,119.1 1349.0,122.6 1351.1,126.3 C1353.2,130.1 1355.4,134.3 1357.5,139.1 C1359.6,143.9 1361.8,150.0 1363.9,155.1 C1366.0,160.1 1368.4,165.9 1370.3,169.5 C1372.2,173.0 1373.5,173.8 1375.1,176.5 C1376.7,179.1 1378.0,181.3 1379.9,185.4 C1381.7,189.6 1384.1,196.6 1386.3,201.4 C1388.4,206.2 1390.5,209.9 1392.7,214.2 C1394.8,218.4 1396.4,222.2 1399.0,227.0 C1401.7,231.8 1405.4,238.1 1408.6,242.9 C1411.8,247.7 1415.0,251.7 1418.2,255.7 C1421.4,259.7 1424.6,263.7 1427.8,266.9 C1431.0,270.1 1433.7,272.5 1437.4,274.9 C1441.1,277.3 1445.4,279.4 1450.2,281.3 C1455.0,283.1 1460.8,284.8 1466.1,286.1 C1471.5,287.3 1477.9,288.2 1482.1,288.6 C1486.4,289.0 1488.1,288.3 1491.6,288.6 C1495.1,288.9 1499.3,290.0 1503.2,290.4 C1507.1,290.9 1511.0,291.1 1514.8,291.3 C1518.7,291.6 1524.5,291.9 1526.4,292.0 L1533.4,287.0 L1533.4,293.4" fill="none" stroke="#000" stroke-width="1.7" stroke-linejoin="round"/>
<path d="M1042.5,291.4 C1042.9,291.2 1043.8,291.3 1044.8,290.2 C1045.8,289.1 1047.1,287.0 1048.3,285.0 C1049.5,283.0 1050.4,280.5 1051.8,278.0 C1053.1,275.5 1055.1,272.2 1056.4,269.9 C1057.8,267.6 1058.8,266.0 1059.9,264.1 C1061.0,262.2 1062.0,260.0 1062.8,258.3 C1063.6,256.6 1064.1,255.2 1064.5,253.7 C1065.0,252.1 1065.3,250.9 1065.7,249.0 C1066.1,247.1 1066.5,244.4 1066.9,242.0 C1067.3,239.7 1067.6,236.3 1068.0,235.1 C1068.4,233.8 1068.7,234.1 1069.2,234.5 C1069.7,234.9 1070.2,236.2 1070.9,237.4 C1071.6,238.7 1072.3,241.0 1073.2,242.0 C1074.2,243.1 1075.6,243.1 1076.7,243.8 C1077.9,244.5 1079.0,245.2 1080.2,246.1 C1081.5,247.0 1083.2,248.0 1084.3,249.0 C1085.3,250.0 1085.8,251.1 1086.6,251.9 C1087.4,252.7 1087.8,253.5 1088.9,253.9 C1090.1,254.2 1091.6,254.1 1093.6,254.0 C1095.5,253.9 1098.6,253.4 1100.5,253.1 C1102.5,252.7 1103.6,252.0 1105.2,251.9 C1106.7,251.9 1108.3,252.5 1109.8,252.8 C1111.4,253.2 1112.7,253.7 1114.4,253.9 C1116.2,254.1 1118.3,254.2 1120.2,254.2 C1122.2,254.2 1123.7,254.7 1126.0,253.9 C1128.4,253.1 1130.7,251.2 1134.5,249.5 C1138.3,247.8 1144.2,245.5 1149.0,243.7 C1153.9,241.9 1158.7,240.4 1163.5,238.8 C1168.4,237.1 1173.2,235.4 1178.1,233.5 C1182.9,231.7 1187.7,229.7 1192.6,227.7 C1197.4,225.8 1202.2,223.9 1207.1,221.9 C1211.9,220.0 1216.8,218.4 1221.6,216.1 C1226.4,213.8 1231.8,210.4 1236.1,208.0 C1240.5,205.6 1244.3,203.4 1247.7,201.6 C1251.1,199.8 1254.0,198.7 1256.4,197.2 C1258.8,195.8 1259.8,195.1 1262.2,192.9 C1264.7,190.7 1264.6,193.1 1270.9,184.2 C1277.2,175.2 1294.1,148.5 1300.0,139.1 C1305.9,129.7 1304.3,131.4 1306.4,127.9 C1308.5,124.5 1310.6,121.0 1312.8,118.3 C1314.9,115.7 1317.0,113.4 1319.2,111.9 C1321.3,110.5 1323.4,109.8 1325.6,109.4 C1327.7,109.0 1329.8,109.0 1331.9,109.4 C1334.1,109.8 1336.2,110.7 1338.3,111.9 C1340.5,113.2 1342.6,114.3 1344.7,116.7 C1346.9,119.1 1349.0,122.6 1351.1,126.3 C1353.2,130.1 1355.4,134.3 1357.5,139.1 C1359.6,143.9 1361.8,150.0 1363.9,155.1 C1366.0,160.1 1368.4,165.9 1370.3,169.5 C1372.2,173.0 1373.5,173.8 1375.1,176.5 C1376.7,179.1 1378.0,181.3 1379.9,185.4 C1381.7,189.6 1384.1,196.6 1386.3,201.4 C1388.4,206.2 1390.5,209.9 1392.7,214.2 C1394.8,218.4 1396.4,222.2 1399.0,227.0 C1401.7,231.8 1405.4,238.1 1408.6,242.9 C1411.8,247.7 1415.0,251.7 1418.2,255.7 C1421.4,259.7 1424.6,263.7 1427.8,266.9 C1431.0,270.1 1433.7,272.5 1437.4,274.9 C1441.1,277.3 1445.4,279.4 1450.2,281.3 C1455.0,283.1 1460.8,284.8 1466.1,286.1 C1471.5,287.3 1477.9,288.2 1482.1,288.6 C1486.4,289.0 1488.1,288.3 1491.6,288.6 C1495.1,288.9 1499.3,290.0 1503.2,290.4 C1507.1,290.9 1511.0,291.1 1514.8,291.3 C1518.7,291.6 1524.5,291.9 1526.4,292.0 L1533.4,287.0 L1533.4,293.4" fill="none" stroke="#000" stroke-width="2.5" stroke-linejoin="round" mask="url(#mO1)"/>
<path d="M1058.7,293.4 L1058.7,292.2 C1059.9,292.1 1063.4,292.1 1065.7,292.0 C1068.0,291.8 1070.7,291.5 1072.7,291.0 C1074.6,290.5 1075.8,289.8 1077.3,289.0 C1078.9,288.3 1080.0,287.0 1082.0,286.4 C1083.9,285.7 1086.6,285.7 1088.9,285.2 C1091.2,284.7 1093.9,284.3 1095.9,283.2 C1097.8,282.1 1099.0,280.4 1100.5,278.6 C1102.1,276.8 1103.4,274.4 1105.2,272.2 C1106.9,270.0 1109.0,267.0 1111.0,265.3 C1112.9,263.5 1114.8,262.9 1116.8,261.8 C1118.7,260.6 1121.1,259.6 1122.6,258.3 C1124.1,257.0 1124.1,255.8 1125.8,253.8 C1127.6,251.9 1130.6,249.0 1133.1,246.6 C1135.5,244.2 1137.7,241.4 1140.3,239.3 C1143.0,237.3 1146.1,235.6 1149.0,234.1 C1151.9,232.7 1154.8,232.1 1157.7,230.6 C1160.6,229.2 1163.5,227.3 1166.4,225.4 C1169.3,223.5 1172.2,220.9 1175.2,219.0 C1178.1,217.1 1181.2,215.3 1183.9,214.1 C1186.5,212.9 1188.7,212.4 1191.1,211.8 C1193.5,211.1 1195.7,211.0 1198.4,210.3 C1201.0,209.6 1204.2,208.4 1207.1,207.4 C1210.0,206.4 1212.9,205.5 1215.8,204.5 C1218.7,203.5 1221.6,202.5 1224.5,201.6 C1227.4,200.7 1230.3,199.9 1233.2,199.3 C1236.1,198.7 1239.0,198.3 1241.9,198.1 C1244.8,197.9 1247.7,198.0 1250.6,198.1 C1253.5,198.2 1256.4,198.5 1259.3,198.7 C1262.2,198.9 1265.1,198.8 1268.0,199.3 C1270.9,199.8 1273.8,200.7 1276.7,201.6 C1279.7,202.5 1282.6,203.8 1285.5,204.5 C1288.4,205.2 1291.3,205.7 1294.2,206.0 C1297.1,206.2 1299.5,206.0 1302.9,206.0 C1306.2,205.9 1311.1,206.1 1314.4,205.6 C1317.6,205.1 1319.4,204.1 1322.4,203.0 C1325.3,201.9 1328.8,200.2 1331.9,198.8 C1335.1,197.5 1338.3,196.2 1341.5,195.0 C1344.7,193.8 1348.2,192.9 1351.1,191.8 C1354.0,190.8 1356.4,190.1 1359.1,188.6 C1361.8,187.1 1364.4,184.9 1367.1,182.9 C1369.8,180.9 1372.4,178.7 1375.1,176.5 C1377.7,174.2 1380.1,172.2 1383.1,169.5 C1386.0,166.7 1389.5,163.3 1392.7,159.9 C1395.8,156.4 1399.0,152.4 1402.2,148.7 C1405.4,145.0 1408.6,141.2 1411.8,137.5 C1415.0,133.8 1418.7,129.1 1421.4,126.3 C1424.1,123.6 1425.7,122.3 1427.8,120.9 C1429.9,119.5 1432.1,118.4 1434.2,117.7 C1436.3,117.0 1438.4,116.6 1440.6,116.7 C1442.7,116.8 1444.8,117.6 1447.0,118.3 C1449.1,119.0 1450.7,119.3 1453.4,120.9 C1456.0,122.5 1459.7,125.7 1462.9,127.9 C1466.1,130.2 1469.3,132.2 1472.5,134.3 C1475.7,136.4 1479.3,138.0 1482.1,140.7 C1484.9,143.4 1486.5,147.5 1489.3,150.4 C1492.0,153.4 1495.5,155.5 1498.6,158.6 C1501.7,161.7 1504.8,165.3 1507.9,169.0 C1511.0,172.7 1514.0,176.8 1517.1,180.6 C1520.2,184.5 1523.3,188.6 1526.4,192.2 C1529.5,195.9 1532.6,199.0 1535.7,202.7 C1538.8,206.3 1541.9,210.8 1545.0,214.3 C1548.1,217.8 1551.2,220.7 1554.3,223.6 C1557.4,226.5 1560.5,229.1 1563.6,231.7 C1566.7,234.3 1569.8,236.9 1572.9,239.4 C1575.9,241.8 1579.0,244.1 1582.1,246.3 C1585.2,248.5 1588.3,250.6 1591.4,252.6 C1594.5,254.6 1597.6,256.6 1600.7,258.4 C1603.8,260.1 1606.9,261.5 1610.0,263.0 C1613.1,264.6 1616.2,266.2 1619.3,267.7 C1622.4,269.1 1625.5,270.7 1628.6,271.8 C1631.7,273.0 1634.8,273.7 1637.8,274.6 C1640.9,275.6 1644.0,276.6 1647.1,277.4 C1650.2,278.3 1653.3,279.0 1656.4,279.7 C1659.5,280.5 1662.2,281.3 1665.7,282.1 C1669.2,282.8 1673.4,283.7 1677.3,284.4 C1681.2,285.1 1685.0,285.7 1688.9,286.2 C1692.8,286.8 1696.7,287.2 1700.5,287.6 C1704.4,288.1 1708.3,288.4 1712.1,288.8 C1716.0,289.1 1720.1,289.5 1723.7,289.7 C1727.4,290.0 1732.4,290.3 1734.2,290.4 L1734.2,293.4 Z" fill="#fd8024" fill-opacity="0.5"/>
<path d="M1058.7,293.4 L1058.7,292.2 C1059.9,292.1 1063.4,292.1 1065.7,292.0 C1068.0,291.8 1070.7,291.5 1072.7,291.0 C1074.6,290.5 1075.8,289.8 1077.3,289.0 C1078.9,288.3 1080.0,287.0 1082.0,286.4 C1083.9,285.7 1086.6,285.7 1088.9,285.2 C1091.2,284.7 1093.9,284.3 1095.9,283.2 C1097.8,282.1 1099.0,280.4 1100.5,278.6 C1102.1,276.8 1103.4,274.4 1105.2,272.2 C1106.9,270.0 1109.0,267.0 1111.0,265.3 C1112.9,263.5 1114.8,262.9 1116.8,261.8 C1118.7,260.6 1121.1,259.6 1122.6,258.3 C1124.1,257.0 1124.1,255.8 1125.8,253.8 C1127.6,251.9 1130.6,249.0 1133.1,246.6 C1135.5,244.2 1137.7,241.4 1140.3,239.3 C1143.0,237.3 1146.1,235.6 1149.0,234.1 C1151.9,232.7 1154.8,232.1 1157.7,230.6 C1160.6,229.2 1163.5,227.3 1166.4,225.4 C1169.3,223.5 1172.2,220.9 1175.2,219.0 C1178.1,217.1 1181.2,215.3 1183.9,214.1 C1186.5,212.9 1188.7,212.4 1191.1,211.8 C1193.5,211.1 1195.7,211.0 1198.4,210.3 C1201.0,209.6 1204.2,208.4 1207.1,207.4 C1210.0,206.4 1212.9,205.5 1215.8,204.5 C1218.7,203.5 1221.6,202.5 1224.5,201.6 C1227.4,200.7 1230.3,199.9 1233.2,199.3 C1236.1,198.7 1239.0,198.3 1241.9,198.1 C1244.8,197.9 1247.7,198.0 1250.6,198.1 C1253.5,198.2 1256.4,198.5 1259.3,198.7 C1262.2,198.9 1265.1,198.8 1268.0,199.3 C1270.9,199.8 1273.8,200.7 1276.7,201.6 C1279.7,202.5 1282.6,203.8 1285.5,204.5 C1288.4,205.2 1291.3,205.7 1294.2,206.0 C1297.1,206.2 1299.5,206.0 1302.9,206.0 C1306.2,205.9 1311.1,206.1 1314.4,205.6 C1317.6,205.1 1319.4,204.1 1322.4,203.0 C1325.3,201.9 1328.8,200.2 1331.9,198.8 C1335.1,197.5 1338.3,196.2 1341.5,195.0 C1344.7,193.8 1348.2,192.9 1351.1,191.8 C1354.0,190.8 1356.4,190.1 1359.1,188.6 C1361.8,187.1 1364.4,184.9 1367.1,182.9 C1369.8,180.9 1372.4,178.7 1375.1,176.5 C1377.7,174.2 1380.1,172.2 1383.1,169.5 C1386.0,166.7 1389.5,163.3 1392.7,159.9 C1395.8,156.4 1399.0,152.4 1402.2,148.7 C1405.4,145.0 1408.6,141.2 1411.8,137.5 C1415.0,133.8 1418.7,129.1 1421.4,126.3 C1424.1,123.6 1425.7,122.3 1427.8,120.9 C1429.9,119.5 1432.1,118.4 1434.2,117.7 C1436.3,117.0 1438.4,116.6 1440.6,116.7 C1442.7,116.8 1444.8,117.6 1447.0,118.3 C1449.1,119.0 1450.7,119.3 1453.4,120.9 C1456.0,122.5 1459.7,125.7 1462.9,127.9 C1466.1,130.2 1469.3,132.2 1472.5,134.3 C1475.7,136.4 1479.3,138.0 1482.1,140.7 C1484.9,143.4 1486.5,147.5 1489.3,150.4 C1492.0,153.4 1495.5,155.5 1498.6,158.6 C1501.7,161.7 1504.8,165.3 1507.9,169.0 C1511.0,172.7 1514.0,176.8 1517.1,180.6 C1520.2,184.5 1523.3,188.6 1526.4,192.2 C1529.5,195.9 1532.6,199.0 1535.7,202.7 C1538.8,206.3 1541.9,210.8 1545.0,214.3 C1548.1,217.8 1551.2,220.7 1554.3,223.6 C1557.4,226.5 1560.5,229.1 1563.6,231.7 C1566.7,234.3 1569.8,236.9 1572.9,239.4 C1575.9,241.8 1579.0,244.1 1582.1,246.3 C1585.2,248.5 1588.3,250.6 1591.4,252.6 C1594.5,254.6 1597.6,256.6 1600.7,258.4 C1603.8,260.1 1606.9,261.5 1610.0,263.0 C1613.1,264.6 1616.2,266.2 1619.3,267.7 C1622.4,269.1 1625.5,270.7 1628.6,271.8 C1631.7,273.0 1634.8,273.7 1637.8,274.6 C1640.9,275.6 1644.0,276.6 1647.1,277.4 C1650.2,278.3 1653.3,279.0 1656.4,279.7 C1659.5,280.5 1662.2,281.3 1665.7,282.1 C1669.2,282.8 1673.4,283.7 1677.3,284.4 C1681.2,285.1 1685.0,285.7 1688.9,286.2 C1692.8,286.8 1696.7,287.2 1700.5,287.6 C1704.4,288.1 1708.3,288.4 1712.1,288.8 C1716.0,289.1 1720.1,289.5 1723.7,289.7 C1727.4,290.0 1732.4,290.3 1734.2,290.4 L1734.2,293.4 Z" fill="#fd8024" fill-opacity="0.4" clip-path="url(#cTR1)"/>
<path d="M1058.7,292.2 C1059.9,292.1 1063.4,292.1 1065.7,292.0 C1068.0,291.8 1070.7,291.5 1072.7,291.0 C1074.6,290.5 1075.8,289.8 1077.3,289.0 C1078.9,288.3 1080.0,287.0 1082.0,286.4 C1083.9,285.7 1086.6,285.7 1088.9,285.2 C1091.2,284.7 1093.9,284.3 1095.9,283.2 C1097.8,282.1 1099.0,280.4 1100.5,278.6 C1102.1,276.8 1103.4,274.4 1105.2,272.2 C1106.9,270.0 1109.0,267.0 1111.0,265.3 C1112.9,263.5 1114.8,262.9 1116.8,261.8 C1118.7,260.6 1121.1,259.6 1122.6,258.3 C1124.1,257.0 1124.1,255.8 1125.8,253.8 C1127.6,251.9 1130.6,249.0 1133.1,246.6 C1135.5,244.2 1137.7,241.4 1140.3,239.3 C1143.0,237.3 1146.1,235.6 1149.0,234.1 C1151.9,232.7 1154.8,232.1 1157.7,230.6 C1160.6,229.2 1163.5,227.3 1166.4,225.4 C1169.3,223.5 1172.2,220.9 1175.2,219.0 C1178.1,217.1 1181.2,215.3 1183.9,214.1 C1186.5,212.9 1188.7,212.4 1191.1,211.8 C1193.5,211.1 1195.7,211.0 1198.4,210.3 C1201.0,209.6 1204.2,208.4 1207.1,207.4 C1210.0,206.4 1212.9,205.5 1215.8,204.5 C1218.7,203.5 1221.6,202.5 1224.5,201.6 C1227.4,200.7 1230.3,199.9 1233.2,199.3 C1236.1,198.7 1239.0,198.3 1241.9,198.1 C1244.8,197.9 1247.7,198.0 1250.6,198.1 C1253.5,198.2 1256.4,198.5 1259.3,198.7 C1262.2,198.9 1265.1,198.8 1268.0,199.3 C1270.9,199.8 1273.8,200.7 1276.7,201.6 C1279.7,202.5 1282.6,203.8 1285.5,204.5 C1288.4,205.2 1291.3,205.7 1294.2,206.0 C1297.1,206.2 1299.5,206.0 1302.9,206.0 C1306.2,205.9 1311.1,206.1 1314.4,205.6 C1317.6,205.1 1319.4,204.1 1322.4,203.0 C1325.3,201.9 1328.8,200.2 1331.9,198.8 C1335.1,197.5 1338.3,196.2 1341.5,195.0 C1344.7,193.8 1348.2,192.9 1351.1,191.8 C1354.0,190.8 1356.4,190.1 1359.1,188.6 C1361.8,187.1 1364.4,184.9 1367.1,182.9 C1369.8,180.9 1372.4,178.7 1375.1,176.5 C1377.7,174.2 1380.1,172.2 1383.1,169.5 C1386.0,166.7 1389.5,163.3 1392.7,159.9 C1395.8,156.4 1399.0,152.4 1402.2,148.7 C1405.4,145.0 1408.6,141.2 1411.8,137.5 C1415.0,133.8 1418.7,129.1 1421.4,126.3 C1424.1,123.6 1425.7,122.3 1427.8,120.9 C1429.9,119.5 1432.1,118.4 1434.2,117.7 C1436.3,117.0 1438.4,116.6 1440.6,116.7 C1442.7,116.8 1444.8,117.6 1447.0,118.3 C1449.1,119.0 1450.7,119.3 1453.4,120.9 C1456.0,122.5 1459.7,125.7 1462.9,127.9 C1466.1,130.2 1469.3,132.2 1472.5,134.3 C1475.7,136.4 1479.3,138.0 1482.1,140.7 C1484.9,143.4 1486.5,147.5 1489.3,150.4 C1492.0,153.4 1495.5,155.5 1498.6,158.6 C1501.7,161.7 1504.8,165.3 1507.9,169.0 C1511.0,172.7 1514.0,176.8 1517.1,180.6 C1520.2,184.5 1523.3,188.6 1526.4,192.2 C1529.5,195.9 1532.6,199.0 1535.7,202.7 C1538.8,206.3 1541.9,210.8 1545.0,214.3 C1548.1,217.8 1551.2,220.7 1554.3,223.6 C1557.4,226.5 1560.5,229.1 1563.6,231.7 C1566.7,234.3 1569.8,236.9 1572.9,239.4 C1575.9,241.8 1579.0,244.1 1582.1,246.3 C1585.2,248.5 1588.3,250.6 1591.4,252.6 C1594.5,254.6 1597.6,256.6 1600.7,258.4 C1603.8,260.1 1606.9,261.5 1610.0,263.0 C1613.1,264.6 1616.2,266.2 1619.3,267.7 C1622.4,269.1 1625.5,270.7 1628.6,271.8 C1631.7,273.0 1634.8,273.7 1637.8,274.6 C1640.9,275.6 1644.0,276.6 1647.1,277.4 C1650.2,278.3 1653.3,279.0 1656.4,279.7 C1659.5,280.5 1662.2,281.3 1665.7,282.1 C1669.2,282.8 1673.4,283.7 1677.3,284.4 C1681.2,285.1 1685.0,285.7 1688.9,286.2 C1692.8,286.8 1696.7,287.2 1700.5,287.6 C1704.4,288.1 1708.3,288.4 1712.1,288.8 C1716.0,289.1 1720.1,289.5 1723.7,289.7 C1727.4,290.0 1732.4,290.3 1734.2,290.4" fill="none" stroke="#000" stroke-width="2.5" stroke-linejoin="round"/>
</g>
<path d="M1017.0,65.3 H1736.0 V293.4 M1017.0,65.3 V303.4 M1008.0,293.4 H1736.0" fill="none" stroke="#000" stroke-width="2"/>
<path d="M1017.0,293.4 v10 M1088.9,293.4 v5 M1160.8,293.4 v10 M1232.7,293.4 v5 M1304.6,293.4 v10 M1376.5,293.4 v5 M1448.4,293.4 v10 M1520.3,293.4 v5 M1592.2,293.4 v10 M1664.1,293.4 v5 M1736.0,293.4 v10 M1017.0,293.4 h-9 M1017.0,228.3 h-9 M1017.0,163.2 h-9 M1017.0,98.1 h-9 " stroke="#000" stroke-width="2" fill="none"/>
<text x="1017.0" y="329.4" font-size="24" text-anchor="middle">0</text>
<text x="1160.8" y="329.4" font-size="24" text-anchor="middle">5</text>
<text x="1304.6" y="329.4" font-size="24" text-anchor="middle">10</text>
<text x="1448.4" y="329.4" font-size="24" text-anchor="middle">15</text>
<text x="1592.2" y="329.4" font-size="24" text-anchor="middle">20</text>
<text x="1736.0" y="329.4" font-size="24" text-anchor="middle">25</text>
<text x="1000.0" y="300.4" font-size="24.5" text-anchor="end">0</text>
<text x="1000.0" y="235.3" font-size="24.5" text-anchor="end">1</text>
<text x="1000.0" y="170.2" font-size="24.5" text-anchor="end">2</text>
<text x="1000.0" y="105.1" font-size="24.5" text-anchor="end">3</text>
<text x="1376.5" y="357.4" font-size="25.5" text-anchor="middle">Depth [µm]</text>
<text transform="translate(969,179.3) rotate(-90)" font-size="25.5" text-anchor="middle">Frequency [%]</text>
<rect x="1521" y="71.0" width="51" height="24.5" fill="#457a85" stroke="#333" stroke-width="1"/>
<text x="1580" y="91.0" font-size="23">0.5 Acm<tspan dy="-8.5" font-size="16">-2</tspan><tspan dy="8.5"> 40 s</tspan></text>
<rect x="1521" y="102.2" width="51" height="24.5" fill="#af0000" stroke="#333" stroke-width="1"/>
<text x="1580" y="122.2" font-size="23">0.5 Acm<tspan dy="-8.5" font-size="16">-2</tspan><tspan dy="8.5"> 60 s</tspan></text>
<rect x="1521" y="133.4" width="51" height="24.5" fill="#fd8024" stroke="#333" stroke-width="1"/>
<text x="1580" y="153.4" font-size="23">0.5 Acm<tspan dy="-8.5" font-size="16">-2</tspan><tspan dy="8.5"> 80 s</tspan></text>
<defs><clipPath id="cT2"><path d="M1017.0,621.2 L1017.0,620.8 C1018.2,620.5 1021.6,619.6 1023.9,619.0 C1026.2,618.3 1028.6,617.7 1030.9,616.9 C1033.2,616.0 1035.9,615.1 1037.8,613.9 C1039.8,612.6 1041.1,611.5 1042.5,609.2 C1043.8,606.9 1045.1,603.2 1046.0,599.9 C1046.8,596.6 1047.1,593.2 1047.7,589.4 C1048.3,585.6 1049.1,581.1 1049.6,577.0 C1050.1,572.9 1050.4,569.8 1050.8,564.7 C1051.2,559.6 1051.5,555.4 1052.0,546.2 C1052.5,537.0 1053.2,518.3 1053.6,509.4 C1054.1,500.6 1054.4,497.5 1054.8,493.2 C1055.2,488.9 1055.6,485.5 1055.9,483.9 C1056.3,482.3 1056.6,482.7 1057.1,483.5 C1057.6,484.2 1058.1,485.4 1058.7,488.6 C1059.3,491.7 1059.9,497.1 1060.6,502.5 C1061.3,507.9 1062.0,515.6 1062.9,521.0 C1063.8,526.5 1064.6,530.7 1065.7,535.0 C1066.7,539.2 1068.0,543.3 1069.2,546.6 C1070.3,549.9 1070.8,552.5 1072.6,554.7 C1074.5,556.9 1078.3,559.2 1080.4,559.8 C1082.5,560.4 1083.4,559.2 1085.4,558.5 C1087.4,557.8 1089.8,556.7 1092.6,555.5 C1095.4,554.3 1098.5,552.8 1102.0,551.5 C1105.5,550.2 1108.8,549.7 1113.6,547.6 C1118.4,545.5 1126.1,541.8 1131.0,538.9 C1135.9,536.0 1139.9,533.4 1143.2,530.1 C1146.5,526.8 1148.3,523.9 1151.0,519.0 C1153.7,514.1 1157.0,506.6 1159.7,500.9 C1162.3,495.3 1164.6,489.3 1166.6,485.3 C1168.6,481.2 1170.1,479.8 1171.8,476.6 C1173.6,473.4 1175.7,468.1 1177.1,466.1 C1178.4,464.2 1178.9,465.5 1180.0,464.9 C1181.1,464.4 1182.5,463.0 1183.7,463.0 C1184.9,463.0 1186.2,463.6 1187.4,464.9 C1188.6,466.3 1189.9,468.2 1191.1,471.1 C1192.3,474.0 1193.6,478.3 1194.8,482.2 C1196.0,486.1 1197.3,490.5 1198.5,494.6 C1199.8,498.7 1201.2,503.8 1202.2,506.9 C1203.3,510.0 1203.5,509.0 1204.7,513.1 C1205.9,517.2 1208.0,524.8 1209.6,531.6 C1211.3,538.4 1212.9,546.8 1214.6,553.8 C1216.2,560.8 1217.9,567.4 1219.5,573.6 C1221.2,579.8 1222.6,585.5 1224.4,590.9 C1226.3,596.2 1228.4,601.6 1230.6,605.7 C1232.9,609.8 1235.3,613.2 1238.0,615.6 C1240.7,617.9 1243.0,619.2 1246.7,620.0 C1250.3,620.8 1255.3,620.4 1260.0,620.6 C1264.7,620.8 1272.5,620.9 1275.0,621.0 L1275.0,621.2 Z"/></clipPath><clipPath id="cTR2"><path d="M1017.0,621.2 L1017.0,620.8 C1018.2,620.5 1021.6,619.6 1023.9,619.0 C1026.2,618.3 1028.6,617.7 1030.9,616.9 C1033.2,616.0 1035.9,615.1 1037.8,613.9 C1039.8,612.6 1041.1,611.5 1042.5,609.2 C1043.8,606.9 1045.1,603.2 1046.0,599.9 C1046.8,596.6 1047.1,593.2 1047.7,589.4 C1048.3,585.6 1049.1,581.1 1049.6,577.0 C1050.1,572.9 1050.4,569.8 1050.8,564.7 C1051.2,559.6 1051.5,555.4 1052.0,546.2 C1052.5,537.0 1053.2,518.3 1053.6,509.4 C1054.1,500.6 1054.4,497.5 1054.8,493.2 C1055.2,488.9 1055.6,485.5 1055.9,483.9 C1056.3,482.3 1056.6,482.7 1057.1,483.5 C1057.6,484.2 1058.1,485.4 1058.7,488.6 C1059.3,491.7 1059.9,497.1 1060.6,502.5 C1061.3,507.9 1062.0,515.6 1062.9,521.0 C1063.8,526.5 1064.6,530.7 1065.7,535.0 C1066.7,539.2 1068.0,543.3 1069.2,546.6 C1070.3,549.9 1070.8,552.5 1072.6,554.7 C1074.5,556.9 1078.3,559.2 1080.4,559.8 C1082.5,560.4 1083.4,559.2 1085.4,558.5 C1087.4,557.8 1089.8,556.7 1092.6,555.5 C1095.4,554.3 1098.5,552.8 1102.0,551.5 C1105.5,550.2 1108.8,549.7 1113.6,547.6 C1118.4,545.5 1126.1,541.8 1131.0,538.9 C1135.9,536.0 1139.9,533.4 1143.2,530.1 C1146.5,526.8 1148.3,523.9 1151.0,519.0 C1153.7,514.1 1157.0,506.6 1159.7,500.9 C1162.3,495.3 1164.6,489.3 1166.6,485.3 C1168.6,481.2 1170.1,479.8 1171.8,476.6 C1173.6,473.4 1175.7,468.1 1177.1,466.1 C1178.4,464.2 1178.9,465.5 1180.0,464.9 C1181.1,464.4 1182.5,463.0 1183.7,463.0 C1184.9,463.0 1186.2,463.6 1187.4,464.9 C1188.6,466.3 1189.9,468.2 1191.1,471.1 C1192.3,474.0 1193.6,478.3 1194.8,482.2 C1196.0,486.1 1197.3,490.5 1198.5,494.6 C1199.8,498.7 1201.2,503.8 1202.2,506.9 C1203.3,510.0 1203.5,509.0 1204.7,513.1 C1205.9,517.2 1208.0,524.8 1209.6,531.6 C1211.3,538.4 1212.9,546.8 1214.6,553.8 C1216.2,560.8 1217.9,567.4 1219.5,573.6 C1221.2,579.8 1222.6,585.5 1224.4,590.9 C1226.3,596.2 1228.4,601.6 1230.6,605.7 C1232.9,609.8 1235.3,613.2 1238.0,615.6 C1240.7,617.9 1243.0,619.2 1246.7,620.0 C1250.3,620.8 1255.3,620.4 1260.0,620.6 C1264.7,620.8 1272.5,620.9 1275.0,621.0 L1275.0,621.2 Z"/><path d="M1017.0,621.2 L1017.0,620.8 C1017.3,620.5 1017.0,619.7 1018.7,619.0 C1020.4,618.3 1023.8,617.5 1027.3,616.5 C1030.8,615.5 1036.0,614.2 1039.7,612.8 C1043.4,611.4 1046.5,609.9 1049.6,607.9 C1052.7,605.9 1055.3,603.4 1058.2,600.5 C1061.1,597.6 1064.2,593.9 1066.9,590.6 C1069.6,587.3 1071.8,584.2 1074.3,580.7 C1076.8,577.2 1079.2,573.3 1081.7,569.6 C1084.2,565.9 1086.9,562.1 1089.1,558.5 C1091.3,554.9 1093.0,552.2 1095.0,548.0 C1097.0,543.8 1099.2,538.1 1101.4,533.5 C1103.6,528.9 1106.4,523.8 1108.3,520.5 C1110.2,517.2 1110.7,516.5 1113.0,513.5 C1115.3,510.5 1119.3,505.2 1122.3,502.3 C1125.3,499.4 1128.1,497.9 1131.0,496.2 C1133.9,494.4 1136.5,493.2 1139.7,491.8 C1142.9,490.4 1146.7,488.6 1150.0,487.5 C1153.3,486.4 1156.9,485.4 1159.7,484.9 C1162.4,484.5 1163.7,484.1 1166.6,484.8 C1169.5,485.4 1173.6,486.9 1177.1,488.8 C1180.5,490.6 1184.6,492.8 1187.5,495.7 C1190.4,498.6 1192.7,503.9 1194.6,506.2 C1196.5,508.4 1197.0,507.2 1199.0,509.4 C1200.9,511.6 1203.4,515.1 1206.1,519.3 C1208.8,523.4 1212.1,528.7 1215.0,534.1 C1217.9,539.4 1220.9,546.0 1223.5,551.4 C1226.2,556.7 1228.4,561.2 1230.9,566.2 C1233.4,571.1 1235.9,576.0 1238.3,581.0 C1240.8,585.9 1243.3,591.7 1245.7,595.8 C1248.2,599.9 1250.8,602.8 1253.0,605.7 C1255.1,608.6 1256.1,611.0 1258.4,613.1 C1260.7,615.1 1263.5,616.9 1266.9,618.0 C1270.4,619.1 1274.8,619.4 1278.8,619.8 C1282.9,620.1 1287.8,620.1 1291.1,620.0 C1294.4,619.9 1297.4,619.4 1298.7,619.3 L1301.0,616.8 L1301.0,621.2 Z"/></clipPath><clipPath id="cAx2"><rect x="1017.0" y="393.7" width="719.0" height="227.50000000000006"/></clipPath><mask id="mO2" maskUnits="userSpaceOnUse" x="1012.0" y="388.7" width="729.0" height="237.50000000000006"><rect x="1012.0" y="388.7" width="729.0" height="237.50000000000006" fill="#fff"/><path d="M1022.0,621.2 L1022.0,621.0 C1022.9,620.8 1024.3,620.2 1027.3,619.5 C1030.2,618.8 1035.6,617.8 1039.7,616.5 C1043.8,615.2 1048.3,613.6 1052.0,611.6 C1055.7,609.6 1058.8,606.9 1061.9,604.2 C1065.0,601.5 1067.9,598.7 1070.6,595.6 C1073.3,592.5 1075.8,588.8 1078.0,585.7 C1080.2,582.6 1082.0,580.3 1084.1,577.0 C1086.1,573.7 1088.3,569.6 1090.3,565.9 C1092.3,562.1 1093.7,559.9 1096.1,554.5 C1098.5,549.1 1102.2,540.0 1104.8,533.6 C1107.4,527.2 1109.8,521.4 1111.8,516.2 C1113.8,511.0 1115.2,506.7 1117.0,502.3 C1118.8,497.9 1120.5,493.9 1122.3,490.1 C1124.0,486.3 1125.5,483.7 1127.5,479.6 C1129.5,475.5 1132.5,469.5 1134.5,465.7 C1136.5,461.9 1138.0,459.2 1139.7,457.0 C1141.5,454.8 1143.1,453.3 1145.0,452.3 C1146.9,451.3 1148.8,450.9 1150.9,450.8 C1153.1,450.7 1155.9,451.6 1157.9,451.8 C1159.9,452.1 1161.1,451.7 1163.1,452.2 C1165.2,452.7 1168.1,453.6 1170.1,454.8 C1172.1,456.0 1173.9,457.6 1175.3,459.2 C1176.8,460.7 1177.6,462.3 1178.8,464.4 C1180.0,466.4 1181.0,468.4 1182.3,471.3 C1183.6,474.2 1185.2,478.0 1186.6,481.8 C1188.1,485.6 1189.4,489.6 1191.0,494.0 C1192.6,498.3 1194.0,502.5 1196.2,507.9 C1198.4,513.4 1201.9,520.2 1204.4,526.7 C1206.8,533.1 1208.6,539.8 1210.8,546.4 C1213.0,553.0 1215.2,560.0 1217.5,566.2 C1219.9,572.3 1222.4,578.1 1224.9,583.5 C1227.4,588.8 1229.8,594.2 1232.3,598.3 C1234.9,602.4 1237.0,605.3 1240.1,608.1 C1243.3,611.0 1247.5,613.8 1251.0,615.6 C1254.5,617.3 1257.9,618.0 1261.3,618.8 C1264.7,619.5 1267.4,619.6 1271.4,620.0 C1275.3,620.4 1282.7,620.8 1285.0,621.0 L1285.0,621.2 Z" fill="#000"/></mask></defs>
<g clip-path="url(#cAx2)">
<path d="M1017.0,621.2 L1017.0,620.8 C1018.2,620.5 1021.6,619.6 1023.9,619.0 C1026.2,618.3 1028.6,617.7 1030.9,616.9 C1033.2,616.0 1035.9,615.1 1037.8,613.9 C1039.8,612.6 1041.1,611.5 1042.5,609.2 C1043.8,606.9 1045.1,603.2 1046.0,599.9 C1046.8,596.6 1047.1,593.2 1047.7,589.4 C1048.3,585.6 1049.1,581.1 1049.6,577.0 C1050.1,572.9 1050.4,569.8 1050.8,564.7 C1051.2,559.6 1051.5,555.4 1052.0,546.2 C1052.5,537.0 1053.2,518.3 1053.6,509.4 C1054.1,500.6 1054.4,497.5 1054.8,493.2 C1055.2,488.9 1055.6,485.5 1055.9,483.9 C1056.3,482.3 1056.6,482.7 1057.1,483.5 C1057.6,484.2 1058.1,485.4 1058.7,488.6 C1059.3,491.7 1059.9,497.1 1060.6,502.5 C1061.3,507.9 1062.0,515.6 1062.9,521.0 C1063.8,526.5 1064.6,530.7 1065.7,535.0 C1066.7,539.2 1068.0,543.3 1069.2,546.6 C1070.3,549.9 1070.8,552.5 1072.6,554.7 C1074.5,556.9 1078.3,559.2 1080.4,559.8 C1082.5,560.4 1083.4,559.2 1085.4,558.5 C1087.4,557.8 1089.8,556.7 1092.6,555.5 C1095.4,554.3 1098.5,552.8 1102.0,551.5 C1105.5,550.2 1108.8,549.7 1113.6,547.6 C1118.4,545.5 1126.1,541.8 1131.0,538.9 C1135.9,536.0 1139.9,533.4 1143.2,530.1 C1146.5,526.8 1148.3,523.9 1151.0,519.0 C1153.7,514.1 1157.0,506.6 1159.7,500.9 C1162.3,495.3 1164.6,489.3 1166.6,485.3 C1168.6,481.2 1170.1,479.8 1171.8,476.6 C1173.6,473.4 1175.7,468.1 1177.1,466.1 C1178.4,464.2 1178.9,465.5 1180.0,464.9 C1181.1,464.4 1182.5,463.0 1183.7,463.0 C1184.9,463.0 1186.2,463.6 1187.4,464.9 C1188.6,466.3 1189.9,468.2 1191.1,471.1 C1192.3,474.0 1193.6,478.3 1194.8,482.2 C1196.0,486.1 1197.3,490.5 1198.5,494.6 C1199.8,498.7 1201.2,503.8 1202.2,506.9 C1203.3,510.0 1203.5,509.0 1204.7,513.1 C1205.9,517.2 1208.0,524.8 1209.6,531.6 C1211.3,538.4 1212.9,546.8 1214.6,553.8 C1216.2,560.8 1217.9,567.4 1219.5,573.6 C1221.2,579.8 1222.6,585.5 1224.4,590.9 C1226.3,596.2 1228.4,601.6 1230.6,605.7 C1232.9,609.8 1235.3,613.2 1238.0,615.6 C1240.7,617.9 1243.0,619.2 1246.7,620.0 C1250.3,620.8 1255.3,620.4 1260.0,620.6 C1264.7,620.8 1272.5,620.9 1275.0,621.0 L1275.0,621.2 Z" fill="#457a85"/>
<path d="M1017.0,620.8 C1018.2,620.5 1021.6,619.6 1023.9,619.0 C1026.2,618.3 1028.6,617.7 1030.9,616.9 C1033.2,616.0 1035.9,615.1 1037.8,613.9 C1039.8,612.6 1041.1,611.5 1042.5,609.2 C1043.8,606.9 1045.1,603.2 1046.0,599.9 C1046.8,596.6 1047.1,593.2 1047.7,589.4 C1048.3,585.6 1049.1,581.1 1049.6,577.0 C1050.1,572.9 1050.4,569.8 1050.8,564.7 C1051.2,559.6 1051.5,555.4 1052.0,546.2 C1052.5,537.0 1053.2,518.3 1053.6,509.4 C1054.1,500.6 1054.4,497.5 1054.8,493.2 C1055.2,488.9 1055.6,485.5 1055.9,483.9 C1056.3,482.3 1056.6,482.7 1057.1,483.5 C1057.6,484.2 1058.1,485.4 1058.7,488.6 C1059.3,491.7 1059.9,497.1 1060.6,502.5 C1061.3,507.9 1062.0,515.6 1062.9,521.0 C1063.8,526.5 1064.6,530.7 1065.7,535.0 C1066.7,539.2 1068.0,543.3 1069.2,546.6 C1070.3,549.9 1070.8,552.5 1072.6,554.7 C1074.5,556.9 1078.3,559.2 1080.4,559.8 C1082.5,560.4 1083.4,559.2 1085.4,558.5 C1087.4,557.8 1089.8,556.7 1092.6,555.5 C1095.4,554.3 1098.5,552.8 1102.0,551.5 C1105.5,550.2 1108.8,549.7 1113.6,547.6 C1118.4,545.5 1126.1,541.8 1131.0,538.9 C1135.9,536.0 1139.9,533.4 1143.2,530.1 C1146.5,526.8 1148.3,523.9 1151.0,519.0 C1153.7,514.1 1157.0,506.6 1159.7,500.9 C1162.3,495.3 1164.6,489.3 1166.6,485.3 C1168.6,481.2 1170.1,479.8 1171.8,476.6 C1173.6,473.4 1175.7,468.1 1177.1,466.1 C1178.4,464.2 1178.9,465.5 1180.0,464.9 C1181.1,464.4 1182.5,463.0 1183.7,463.0 C1184.9,463.0 1186.2,463.6 1187.4,464.9 C1188.6,466.3 1189.9,468.2 1191.1,471.1 C1192.3,474.0 1193.6,478.3 1194.8,482.2 C1196.0,486.1 1197.3,490.5 1198.5,494.6 C1199.8,498.7 1201.2,503.8 1202.2,506.9 C1203.3,510.0 1203.5,509.0 1204.7,513.1 C1205.9,517.2 1208.0,524.8 1209.6,531.6 C1211.3,538.4 1212.9,546.8 1214.6,553.8 C1216.2,560.8 1217.9,567.4 1219.5,573.6 C1221.2,579.8 1222.6,585.5 1224.4,590.9 C1226.3,596.2 1228.4,601.6 1230.6,605.7 C1232.9,609.8 1235.3,613.2 1238.0,615.6 C1240.7,617.9 1243.0,619.2 1246.7,620.0 C1250.3,620.8 1255.3,620.4 1260.0,620.6 C1264.7,620.8 1272.5,620.9 1275.0,621.0" fill="none" stroke="#000" stroke-width="1.7" stroke-linejoin="round"/>
<path d="M1017.0,620.8 C1018.2,620.5 1021.6,619.6 1023.9,619.0 C1026.2,618.3 1028.6,617.7 1030.9,616.9 C1033.2,616.0 1035.9,615.1 1037.8,613.9 C1039.8,612.6 1041.1,611.5 1042.5,609.2 C1043.8,606.9 1045.1,603.2 1046.0,599.9 C1046.8,596.6 1047.1,593.2 1047.7,589.4 C1048.3,585.6 1049.1,581.1 1049.6,577.0 C1050.1,572.9 1050.4,569.8 1050.8,564.7 C1051.2,559.6 1051.5,555.4 1052.0,546.2 C1052.5,537.0 1053.2,518.3 1053.6,509.4 C1054.1,500.6 1054.4,497.5 1054.8,493.2 C1055.2,488.9 1055.6,485.5 1055.9,483.9 C1056.3,482.3 1056.6,482.7 1057.1,483.5 C1057.6,484.2 1058.1,485.4 1058.7,488.6 C1059.3,491.7 1059.9,497.1 1060.6,502.5 C1061.3,507.9 1062.0,515.6 1062.9,521.0 C1063.8,526.5 1064.6,530.7 1065.7,535.0 C1066.7,539.2 1068.0,543.3 1069.2,546.6 C1070.3,549.9 1070.8,552.5 1072.6,554.7 C1074.5,556.9 1078.3,559.2 1080.4,559.8 C1082.5,560.4 1083.4,559.2 1085.4,558.5 C1087.4,557.8 1089.8,556.7 1092.6,555.5 C1095.4,554.3 1098.5,552.8 1102.0,551.5 C1105.5,550.2 1108.8,549.7 1113.6,547.6 C1118.4,545.5 1126.1,541.8 1131.0,538.9 C1135.9,536.0 1139.9,533.4 1143.2,530.1 C1146.5,526.8 1148.3,523.9 1151.0,519.0 C1153.7,514.1 1157.0,506.6 1159.7,500.9 C1162.3,495.3 1164.6,489.3 1166.6,485.3 C1168.6,481.2 1170.1,479.8 1171.8,476.6 C1173.6,473.4 1175.7,468.1 1177.1,466.1 C1178.4,464.2 1178.9,465.5 1180.0,464.9 C1181.1,464.4 1182.5,463.0 1183.7,463.0 C1184.9,463.0 1186.2,463.6 1187.4,464.9 C1188.6,466.3 1189.9,468.2 1191.1,471.1 C1192.3,474.0 1193.6,478.3 1194.8,482.2 C1196.0,486.1 1197.3,490.5 1198.5,494.6 C1199.8,498.7 1201.2,503.8 1202.2,506.9 C1203.3,510.0 1203.5,509.0 1204.7,513.1 C1205.9,517.2 1208.0,524.8 1209.6,531.6 C1211.3,538.4 1212.9,546.8 1214.6,553.8 C1216.2,560.8 1217.9,567.4 1219.5,573.6 C1221.2,579.8 1222.6,585.5 1224.4,590.9 C1226.3,596.2 1228.4,601.6 1230.6,605.7 C1232.9,609.8 1235.3,613.2 1238.0,615.6 C1240.7,617.9 1243.0,619.2 1246.7,620.0 C1250.3,620.8 1255.3,620.4 1260.0,620.6 C1264.7,620.8 1272.5,620.9 1275.0,621.0" fill="none" stroke="#000" stroke-width="2.5" stroke-linejoin="round" mask="url(#mO2)"/>
<path d="M1017.0,621.2 L1017.0,620.8 C1017.3,620.5 1017.0,619.7 1018.7,619.0 C1020.4,618.3 1023.8,617.5 1027.3,616.5 C1030.8,615.5 1036.0,614.2 1039.7,612.8 C1043.4,611.4 1046.5,609.9 1049.6,607.9 C1052.7,605.9 1055.3,603.4 1058.2,600.5 C1061.1,597.6 1064.2,593.9 1066.9,590.6 C1069.6,587.3 1071.8,584.2 1074.3,580.7 C1076.8,577.2 1079.2,573.3 1081.7,569.6 C1084.2,565.9 1086.9,562.1 1089.1,558.5 C1091.3,554.9 1093.0,552.2 1095.0,548.0 C1097.0,543.8 1099.2,538.1 1101.4,533.5 C1103.6,528.9 1106.4,523.8 1108.3,520.5 C1110.2,517.2 1110.7,516.5 1113.0,513.5 C1115.3,510.5 1119.3,505.2 1122.3,502.3 C1125.3,499.4 1128.1,497.9 1131.0,496.2 C1133.9,494.4 1136.5,493.2 1139.7,491.8 C1142.9,490.4 1146.7,488.6 1150.0,487.5 C1153.3,486.4 1156.9,485.4 1159.7,484.9 C1162.4,484.5 1163.7,484.1 1166.6,484.8 C1169.5,485.4 1173.6,486.9 1177.1,488.8 C1180.5,490.6 1184.6,492.8 1187.5,495.7 C1190.4,498.6 1192.7,503.9 1194.6,506.2 C1196.5,508.4 1197.0,507.2 1199.0,509.4 C1200.9,511.6 1203.4,515.1 1206.1,519.3 C1208.8,523.4 1212.1,528.7 1215.0,534.1 C1217.9,539.4 1220.9,546.0 1223.5,551.4 C1226.2,556.7 1228.4,561.2 1230.9,566.2 C1233.4,571.1 1235.9,576.0 1238.3,581.0 C1240.8,585.9 1243.3,591.7 1245.7,595.8 C1248.2,599.9 1250.8,602.8 1253.0,605.7 C1255.1,608.6 1256.1,611.0 1258.4,613.1 C1260.7,615.1 1263.5,616.9 1266.9,618.0 C1270.4,619.1 1274.8,619.4 1278.8,619.8 C1282.9,620.1 1287.8,620.1 1291.1,620.0 C1294.4,619.9 1297.4,619.4 1298.7,619.3 L1301.0,616.8 L1301.0,621.2 Z" fill="#af0000" fill-opacity="0.5"/>
<path d="M1017.0,621.2 L1017.0,620.8 C1017.3,620.5 1017.0,619.7 1018.7,619.0 C1020.4,618.3 1023.8,617.5 1027.3,616.5 C1030.8,615.5 1036.0,614.2 1039.7,612.8 C1043.4,611.4 1046.5,609.9 1049.6,607.9 C1052.7,605.9 1055.3,603.4 1058.2,600.5 C1061.1,597.6 1064.2,593.9 1066.9,590.6 C1069.6,587.3 1071.8,584.2 1074.3,580.7 C1076.8,577.2 1079.2,573.3 1081.7,569.6 C1084.2,565.9 1086.9,562.1 1089.1,558.5 C1091.3,554.9 1093.0,552.2 1095.0,548.0 C1097.0,543.8 1099.2,538.1 1101.4,533.5 C1103.6,528.9 1106.4,523.8 1108.3,520.5 C1110.2,517.2 1110.7,516.5 1113.0,513.5 C1115.3,510.5 1119.3,505.2 1122.3,502.3 C1125.3,499.4 1128.1,497.9 1131.0,496.2 C1133.9,494.4 1136.5,493.2 1139.7,491.8 C1142.9,490.4 1146.7,488.6 1150.0,487.5 C1153.3,486.4 1156.9,485.4 1159.7,484.9 C1162.4,484.5 1163.7,484.1 1166.6,484.8 C1169.5,485.4 1173.6,486.9 1177.1,488.8 C1180.5,490.6 1184.6,492.8 1187.5,495.7 C1190.4,498.6 1192.7,503.9 1194.6,506.2 C1196.5,508.4 1197.0,507.2 1199.0,509.4 C1200.9,511.6 1203.4,515.1 1206.1,519.3 C1208.8,523.4 1212.1,528.7 1215.0,534.1 C1217.9,539.4 1220.9,546.0 1223.5,551.4 C1226.2,556.7 1228.4,561.2 1230.9,566.2 C1233.4,571.1 1235.9,576.0 1238.3,581.0 C1240.8,585.9 1243.3,591.7 1245.7,595.8 C1248.2,599.9 1250.8,602.8 1253.0,605.7 C1255.1,608.6 1256.1,611.0 1258.4,613.1 C1260.7,615.1 1263.5,616.9 1266.9,618.0 C1270.4,619.1 1274.8,619.4 1278.8,619.8 C1282.9,620.1 1287.8,620.1 1291.1,620.0 C1294.4,619.9 1297.4,619.4 1298.7,619.3 L1301.0,616.8 L1301.0,621.2 Z" fill="#af0000" fill-opacity="0.4" clip-path="url(#cT2)"/>
<path d="M1017.0,620.8 C1017.3,620.5 1017.0,619.7 1018.7,619.0 C1020.4,618.3 1023.8,617.5 1027.3,616.5 C1030.8,615.5 1036.0,614.2 1039.7,612.8 C1043.4,611.4 1046.5,609.9 1049.6,607.9 C1052.7,605.9 1055.3,603.4 1058.2,600.5 C1061.1,597.6 1064.2,593.9 1066.9,590.6 C1069.6,587.3 1071.8,584.2 1074.3,580.7 C1076.8,577.2 1079.2,573.3 1081.7,569.6 C1084.2,565.9 1086.9,562.1 1089.1,558.5 C1091.3,554.9 1093.0,552.2 1095.0,548.0 C1097.0,543.8 1099.2,538.1 1101.4,533.5 C1103.6,528.9 1106.4,523.8 1108.3,520.5 C1110.2,517.2 1110.7,516.5 1113.0,513.5 C1115.3,510.5 1119.3,505.2 1122.3,502.3 C1125.3,499.4 1128.1,497.9 1131.0,496.2 C1133.9,494.4 1136.5,493.2 1139.7,491.8 C1142.9,490.4 1146.7,488.6 1150.0,487.5 C1153.3,486.4 1156.9,485.4 1159.7,484.9 C1162.4,484.5 1163.7,484.1 1166.6,484.8 C1169.5,485.4 1173.6,486.9 1177.1,488.8 C1180.5,490.6 1184.6,492.8 1187.5,495.7 C1190.4,498.6 1192.7,503.9 1194.6,506.2 C1196.5,508.4 1197.0,507.2 1199.0,509.4 C1200.9,511.6 1203.4,515.1 1206.1,519.3 C1208.8,523.4 1212.1,528.7 1215.0,534.1 C1217.9,539.4 1220.9,546.0 1223.5,551.4 C1226.2,556.7 1228.4,561.2 1230.9,566.2 C1233.4,571.1 1235.9,576.0 1238.3,581.0 C1240.8,585.9 1243.3,591.7 1245.7,595.8 C1248.2,599.9 1250.8,602.8 1253.0,605.7 C1255.1,608.6 1256.1,611.0 1258.4,613.1 C1260.7,615.1 1263.5,616.9 1266.9,618.0 C1270.4,619.1 1274.8,619.4 1278.8,619.8 C1282.9,620.1 1287.8,620.1 1291.1,620.0 C1294.4,619.9 1297.4,619.4 1298.7,619.3 L1301.0,616.8 L1301.0,621.2" fill="none" stroke="#000" stroke-width="1.7" stroke-linejoin="round"/>
<path d="M1017.0,620.8 C1017.3,620.5 1017.0,619.7 1018.7,619.0 C1020.4,618.3 1023.8,617.5 1027.3,616.5 C1030.8,615.5 1036.0,614.2 1039.7,612.8 C1043.4,611.4 1046.5,609.9 1049.6,607.9 C1052.7,605.9 1055.3,603.4 1058.2,600.5 C1061.1,597.6 1064.2,593.9 1066.9,590.6 C1069.6,587.3 1071.8,584.2 1074.3,580.7 C1076.8,577.2 1079.2,573.3 1081.7,569.6 C1084.2,565.9 1086.9,562.1 1089.1,558.5 C1091.3,554.9 1093.0,552.2 1095.0,548.0 C1097.0,543.8 1099.2,538.1 1101.4,533.5 C1103.6,528.9 1106.4,523.8 1108.3,520.5 C1110.2,517.2 1110.7,516.5 1113.0,513.5 C1115.3,510.5 1119.3,505.2 1122.3,502.3 C1125.3,499.4 1128.1,497.9 1131.0,496.2 C1133.9,494.4 1136.5,493.2 1139.7,491.8 C1142.9,490.4 1146.7,488.6 1150.0,487.5 C1153.3,486.4 1156.9,485.4 1159.7,484.9 C1162.4,484.5 1163.7,484.1 1166.6,484.8 C1169.5,485.4 1173.6,486.9 1177.1,488.8 C1180.5,490.6 1184.6,492.8 1187.5,495.7 C1190.4,498.6 1192.7,503.9 1194.6,506.2 C1196.5,508.4 1197.0,507.2 1199.0,509.4 C1200.9,511.6 1203.4,515.1 1206.1,519.3 C1208.8,523.4 1212.1,528.7 1215.0,534.1 C1217.9,539.4 1220.9,546.0 1223.5,551.4 C1226.2,556.7 1228.4,561.2 1230.9,566.2 C1233.4,571.1 1235.9,576.0 1238.3,581.0 C1240.8,585.9 1243.3,591.7 1245.7,595.8 C1248.2,599.9 1250.8,602.8 1253.0,605.7 C1255.1,608.6 1256.1,611.0 1258.4,613.1 C1260.7,615.1 1263.5,616.9 1266.9,618.0 C1270.4,619.1 1274.8,619.4 1278.8,619.8 C1282.9,620.1 1287.8,620.1 1291.1,620.0 C1294.4,619.9 1297.4,619.4 1298.7,619.3 L1301.0,616.8 L1301.0,621.2" fill="none" stroke="#000" stroke-width="2.5" stroke-linejoin="round" mask="url(#mO2)"/>
<path d="M1022.0,621.2 L1022.0,621.0 C1022.9,620.8 1024.3,620.2 1027.3,619.5 C1030.2,618.8 1035.6,617.8 1039.7,616.5 C1043.8,615.2 1048.3,613.6 1052.0,611.6 C1055.7,609.6 1058.8,606.9 1061.9,604.2 C1065.0,601.5 1067.9,598.7 1070.6,595.6 C1073.3,592.5 1075.8,588.8 1078.0,585.7 C1080.2,582.6 1082.0,580.3 1084.1,577.0 C1086.1,573.7 1088.3,569.6 1090.3,565.9 C1092.3,562.1 1093.7,559.9 1096.1,554.5 C1098.5,549.1 1102.2,540.0 1104.8,533.6 C1107.4,527.2 1109.8,521.4 1111.8,516.2 C1113.8,511.0 1115.2,506.7 1117.0,502.3 C1118.8,497.9 1120.5,493.9 1122.3,490.1 C1124.0,486.3 1125.5,483.7 1127.5,479.6 C1129.5,475.5 1132.5,469.5 1134.5,465.7 C1136.5,461.9 1138.0,459.2 1139.7,457.0 C1141.5,454.8 1143.1,453.3 1145.0,452.3 C1146.9,451.3 1148.8,450.9 1150.9,450.8 C1153.1,450.7 1155.9,451.6 1157.9,451.8 C1159.9,452.1 1161.1,451.7 1163.1,452.2 C1165.2,452.7 1168.1,453.6 1170.1,454.8 C1172.1,456.0 1173.9,457.6 1175.3,459.2 C1176.8,460.7 1177.6,462.3 1178.8,464.4 C1180.0,466.4 1181.0,468.4 1182.3,471.3 C1183.6,474.2 1185.2,478.0 1186.6,481.8 C1188.1,485.6 1189.4,489.6 1191.0,494.0 C1192.6,498.3 1194.0,502.5 1196.2,507.9 C1198.4,513.4 1201.9,520.2 1204.4,526.7 C1206.8,533.1 1208.6,539.8 1210.8,546.4 C1213.0,553.0 1215.2,560.0 1217.5,566.2 C1219.9,572.3 1222.4,578.1 1224.9,583.5 C1227.4,588.8 1229.8,594.2 1232.3,598.3 C1234.9,602.4 1237.0,605.3 1240.1,608.1 C1243.3,611.0 1247.5,613.8 1251.0,615.6 C1254.5,617.3 1257.9,618.0 1261.3,618.8 C1264.7,619.5 1267.4,619.6 1271.4,620.0 C1275.3,620.4 1282.7,620.8 1285.0,621.0 L1285.0,621.2 Z" fill="#fd8024" fill-opacity="0.5"/>
<path d="M1022.0,621.2 L1022.0,621.0 C1022.9,620.8 1024.3,620.2 1027.3,619.5 C1030.2,618.8 1035.6,617.8 1039.7,616.5 C1043.8,615.2 1048.3,613.6 1052.0,611.6 C1055.7,609.6 1058.8,606.9 1061.9,604.2 C1065.0,601.5 1067.9,598.7 1070.6,595.6 C1073.3,592.5 1075.8,588.8 1078.0,585.7 C1080.2,582.6 1082.0,580.3 1084.1,577.0 C1086.1,573.7 1088.3,569.6 1090.3,565.9 C1092.3,562.1 1093.7,559.9 1096.1,554.5 C1098.5,549.1 1102.2,540.0 1104.8,533.6 C1107.4,527.2 1109.8,521.4 1111.8,516.2 C1113.8,511.0 1115.2,506.7 1117.0,502.3 C1118.8,497.9 1120.5,493.9 1122.3,490.1 C1124.0,486.3 1125.5,483.7 1127.5,479.6 C1129.5,475.5 1132.5,469.5 1134.5,465.7 C1136.5,461.9 1138.0,459.2 1139.7,457.0 C1141.5,454.8 1143.1,453.3 1145.0,452.3 C1146.9,451.3 1148.8,450.9 1150.9,450.8 C1153.1,450.7 1155.9,451.6 1157.9,451.8 C1159.9,452.1 1161.1,451.7 1163.1,452.2 C1165.2,452.7 1168.1,453.6 1170.1,454.8 C1172.1,456.0 1173.9,457.6 1175.3,459.2 C1176.8,460.7 1177.6,462.3 1178.8,464.4 C1180.0,466.4 1181.0,468.4 1182.3,471.3 C1183.6,474.2 1185.2,478.0 1186.6,481.8 C1188.1,485.6 1189.4,489.6 1191.0,494.0 C1192.6,498.3 1194.0,502.5 1196.2,507.9 C1198.4,513.4 1201.9,520.2 1204.4,526.7 C1206.8,533.1 1208.6,539.8 1210.8,546.4 C1213.0,553.0 1215.2,560.0 1217.5,566.2 C1219.9,572.3 1222.4,578.1 1224.9,583.5 C1227.4,588.8 1229.8,594.2 1232.3,598.3 C1234.9,602.4 1237.0,605.3 1240.1,608.1 C1243.3,611.0 1247.5,613.8 1251.0,615.6 C1254.5,617.3 1257.9,618.0 1261.3,618.8 C1264.7,619.5 1267.4,619.6 1271.4,620.0 C1275.3,620.4 1282.7,620.8 1285.0,621.0 L1285.0,621.2 Z" fill="#fd8024" fill-opacity="0.4" clip-path="url(#cTR2)"/>
<path d="M1022.0,621.0 C1022.9,620.8 1024.3,620.2 1027.3,619.5 C1030.2,618.8 1035.6,617.8 1039.7,616.5 C1043.8,615.2 1048.3,613.6 1052.0,611.6 C1055.7,609.6 1058.8,606.9 1061.9,604.2 C1065.0,601.5 1067.9,598.7 1070.6,595.6 C1073.3,592.5 1075.8,588.8 1078.0,585.7 C1080.2,582.6 1082.0,580.3 1084.1,577.0 C1086.1,573.7 1088.3,569.6 1090.3,565.9 C1092.3,562.1 1093.7,559.9 1096.1,554.5 C1098.5,549.1 1102.2,540.0 1104.8,533.6 C1107.4,527.2 1109.8,521.4 1111.8,516.2 C1113.8,511.0 1115.2,506.7 1117.0,502.3 C1118.8,497.9 1120.5,493.9 1122.3,490.1 C1124.0,486.3 1125.5,483.7 1127.5,479.6 C1129.5,475.5 1132.5,469.5 1134.5,465.7 C1136.5,461.9 1138.0,459.2 1139.7,457.0 C1141.5,454.8 1143.1,453.3 1145.0,452.3 C1146.9,451.3 1148.8,450.9 1150.9,450.8 C1153.1,450.7 1155.9,451.6 1157.9,451.8 C1159.9,452.1 1161.1,451.7 1163.1,452.2 C1165.2,452.7 1168.1,453.6 1170.1,454.8 C1172.1,456.0 1173.9,457.6 1175.3,459.2 C1176.8,460.7 1177.6,462.3 1178.8,464.4 C1180.0,466.4 1181.0,468.4 1182.3,471.3 C1183.6,474.2 1185.2,478.0 1186.6,481.8 C1188.1,485.6 1189.4,489.6 1191.0,494.0 C1192.6,498.3 1194.0,502.5 1196.2,507.9 C1198.4,513.4 1201.9,520.2 1204.4,526.7 C1206.8,533.1 1208.6,539.8 1210.8,546.4 C1213.0,553.0 1215.2,560.0 1217.5,566.2 C1219.9,572.3 1222.4,578.1 1224.9,583.5 C1227.4,588.8 1229.8,594.2 1232.3,598.3 C1234.9,602.4 1237.0,605.3 1240.1,608.1 C1243.3,611.0 1247.5,613.8 1251.0,615.6 C1254.5,617.3 1257.9,618.0 1261.3,618.8 C1264.7,619.5 1267.4,619.6 1271.4,620.0 C1275.3,620.4 1282.7,620.8 1285.0,621.0" fill="none" stroke="#000" stroke-width="2.5" stroke-linejoin="round"/>
</g>
<path d="M1017.0,393.7 H1736.0 V621.2 M1017.0,393.7 V631.2 M1008.0,621.2 H1736.0" fill="none" stroke="#000" stroke-width="2"/>
<path d="M1017.0,621.2 v10 M1088.9,621.2 v5 M1160.8,621.2 v10 M1232.7,621.2 v5 M1304.6,621.2 v10 M1376.5,621.2 v5 M1448.4,621.2 v10 M1520.3,621.2 v5 M1592.2,621.2 v10 M1664.1,621.2 v5 M1736.0,621.2 v10 M1017.0,621.2 h-9 M1017.0,556.1 h-9 M1017.0,491.0 h-9 M1017.0,425.9 h-9 " stroke="#000" stroke-width="2" fill="none"/>
<text x="1017.0" y="657.2" font-size="24" text-anchor="middle">0</text>
<text x="1160.8" y="657.2" font-size="24" text-anchor="middle">5</text>
<text x="1304.6" y="657.2" font-size="24" text-anchor="middle">10</text>
<text x="1448.4" y="657.2" font-size="24" text-anchor="middle">15</text>
<text x="1592.2" y="657.2" font-size="24" text-anchor="middle">20</text>
<text x="1736.0" y="657.2" font-size="24" text-anchor="middle">25</text>
<text x="1000.0" y="628.2" font-size="24.5" text-anchor="end">0</text>
<text x="1000.0" y="563.1" font-size="24.5" text-anchor="end">1</text>
<text x="1000.0" y="498.0" font-size="24.5" text-anchor="end">2</text>
<text x="1000.0" y="432.9" font-size="24.5" text-anchor="end">3</text>
<text x="1376.5" y="685.2" font-size="25.5" text-anchor="middle">Depth [µm]</text>
<text transform="translate(969,507.5) rotate(-90)" font-size="25.5" text-anchor="middle">Frequency [%]</text>
<rect x="1515" y="399.5" width="51" height="24.5" fill="#457a85" stroke="#333" stroke-width="1"/>
<text x="1580" y="419.5" font-size="23">2.0 Acm<tspan dy="-8.5" font-size="16">-2</tspan><tspan dy="8.5"> 10 s</tspan></text>
<rect x="1515" y="430.7" width="51" height="24.5" fill="#af0000" stroke="#333" stroke-width="1"/>
<text x="1580" y="450.7" font-size="23">2.0 Acm<tspan dy="-8.5" font-size="16">-2</tspan><tspan dy="8.5"> 15 s</tspan></text>
<rect x="1515" y="461.9" width="51" height="24.5" fill="#fd8024" stroke="#333" stroke-width="1"/>
<text x="1580" y="481.9" font-size="23">2.0 Acm<tspan dy="-8.5" font-size="16">-2</tspan><tspan dy="8.5"> 20 s</tspan></text>
</svg></body></html>
